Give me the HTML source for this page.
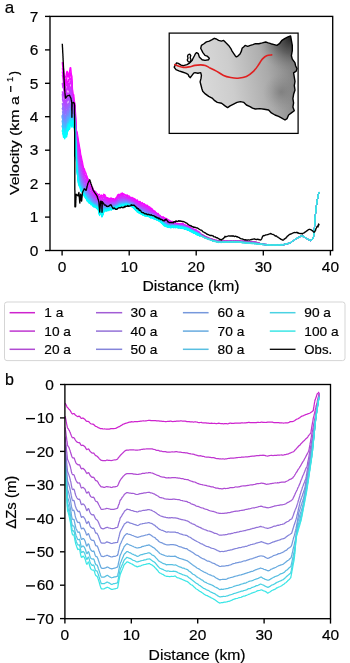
<!DOCTYPE html>
<html><head><meta charset="utf-8"><style>
html,body{margin:0;padding:0;background:#fff;width:350px;height:663px;overflow:hidden}
svg{display:block;will-change:transform}
text{font-family:"Liberation Sans",sans-serif;fill:#000;stroke:#000;stroke-width:0.18px}
</style></head><body>
<svg width="350" height="663" viewBox="0 0 350 663">
<rect width="350" height="663" fill="#fff"/>
<defs><clipPath id="ca"><rect x="50" y="16.4" width="282.7" height="234.1"/></clipPath><clipPath id="cb"><rect x="64.9" y="384.5" width="265.6" height="234.2"/></clipPath></defs>
<g clip-path="url(#ca)">
<polyline points="62.3,62.1 62.9,68.3 63.5,68.6 64.1,74.2 64.7,79.5 65.3,76.8 65.9,76.8 66.5,73.0 67.1,71.3 67.7,72.3 68.3,75.4 68.9,76.9 69.5,72.1 70.1,68.0 70.7,67.7 71.3,74.1 71.9,76.4 72.5,91.1 73.1,98.6 73.7,94.6 74.3,101.0 74.9,103.8" fill="none" stroke="#ff00ff" stroke-width="1.4" stroke-linejoin="round"/>
<polyline points="74.9,103.8 75.5,109.4 76.1,127.2 76.7,131.1 77.3,132.2 77.9,136.2 78.5,140.2 79.1,143.8 79.7,147.1 80.3,150.3 80.9,154.8 81.5,157.2 82.1,160.2 82.7,162.6 83.3,166.5 83.9,168.5 84.5,169.0 85.1,171.2 85.7,172.1 86.3,174.2 86.9,175.6 87.5,177.9 88.1,178.5 88.7,179.9 89.3,181.7 89.9,182.2 90.5,184.6 91.1,184.0 91.7,186.6 92.3,186.9 92.9,188.0 93.5,189.7 94.1,190.5 94.7,191.4 95.3,191.2 95.9,191.7 96.5,193.5 97.1,193.3 97.7,194.0 98.3,194.9 98.9,194.7 99.5,194.1 100.1,195.6" fill="none" stroke="#ff00ff" stroke-width="1.05" stroke-linejoin="round"/>
<polyline points="100.1,195.6 100.7,195.8 101.3,194.9 101.9,195.9 102.5,195.6 103.1,195.1 103.7,194.1 104.3,195.1 104.9,194.7 105.5,195.9 106.1,197.0 106.7,197.9 107.3,197.8 107.9,197.6 108.5,198.4 109.1,198.7 109.7,198.4 110.3,198.0 110.9,198.2 111.5,198.1 112.1,198.5 112.7,198.8 113.3,198.5 113.9,198.6 114.5,199.3 115.1,199.6 115.7,198.4 116.3,197.8 116.9,197.3 117.5,194.8 118.1,195.6 118.7,194.2 119.3,194.3 119.9,194.6 120.5,194.3 121.1,193.2 121.7,194.1 122.3,192.9 122.9,193.4 123.5,194.4 124.1,194.0 124.7,194.6 125.3,195.1 125.9,195.5 126.5,195.7 127.1,194.7 127.7,195.7 128.3,196.1 128.9,195.6 129.5,196.8 130.1,197.2 130.7,197.9 131.3,198.4 131.9,197.3 132.5,197.8 133.1,198.8 133.7,198.2 134.3,198.7 134.9,199.6 135.5,199.2 136.1,200.6 136.7,201.0 137.3,199.8 137.9,201.0 138.5,201.8 139.1,202.4 139.7,201.4 140.3,201.6 140.9,203.1 141.5,203.5 142.1,202.5 142.7,203.2 143.3,204.0 143.9,204.6 144.5,203.7 145.1,204.8 145.7,205.4 146.3,205.3 146.9,205.1 147.5,205.3 148.1,206.2 148.7,207.6 149.3,206.7 149.9,207.0 150.5,208.1 151.1,208.0 151.7,208.6 152.3,208.9 152.9,210.2 153.5,211.0 154.1,210.9 154.7,210.9 155.3,211.7 155.9,212.6 156.5,213.7 157.1,214.2 157.7,213.3 158.3,213.3 158.9,215.3 159.5,215.9 160.1,215.5 160.7,216.5 161.3,217.1 161.9,217.1 162.5,217.9 163.1,216.7 163.7,217.4 164.3,217.7 164.9,217.8 165.5,219.5 166.1,218.2 166.7,219.7 167.3,218.9 167.9,219.7 168.5,220.1 169.1,220.0 169.7,220.9 170.3,221.2 170.9,221.1 171.5,222.1 172.1,221.3 172.7,221.6 173.3,222.2 173.9,222.5 174.5,222.4 175.1,223.9 175.7,224.0 176.3,223.0 176.9,223.7 177.5,223.5 178.1,223.9 178.7,223.6 179.3,224.0 179.9,224.8 180.5,223.8 181.1,224.3 181.7,224.2 182.3,224.5 182.9,223.2 183.5,224.7 184.1,225.4 184.7,225.0 185.3,224.8 185.9,225.8 186.5,226.1 187.1,226.3 187.7,225.7 188.3,227.5 188.9,227.8 189.5,227.1 190.1,227.7 190.7,227.0 191.3,229.0 191.9,229.0 192.5,229.0 193.1,229.5 193.7,228.8 194.3,229.3 194.9,229.5 195.5,230.4 196.1,229.8 196.7,231.6 197.3,231.1 197.9,231.5 198.5,231.3 199.1,232.7 199.7,233.4 200.3,233.3" fill="none" stroke="#ff00ff" stroke-width="1.2" stroke-linejoin="round"/>
<polyline points="199.7,233.4 200.3,233.3 200.9,233.4 201.5,234.2 202.1,234.2 202.7,235.0 203.3,235.2 203.9,235.3 204.5,235.8 205.1,236.1 205.7,236.2 206.3,236.9 206.9,236.9 207.5,237.5 208.1,237.8 208.7,237.6 209.3,238.2 209.9,238.2 210.5,238.7 211.1,238.7 211.7,238.9 212.3,239.3 212.9,239.0 213.5,239.5 214.1,239.6 214.7,239.6 215.3,240.2 215.9,240.2 216.5,240.5 217.1,240.4 217.7,240.4 218.3,240.8 218.9,240.4 219.5,240.5 220.1,241.0 220.7,240.9 221.3,240.9 221.9,241.2 222.5,240.9 223.1,241.2 223.7,241.1 224.3,240.9 224.9,240.7 225.5,240.8 226.1,241.3 226.7,240.9 227.3,240.8 227.9,240.9 228.5,241.2 229.1,240.8 229.7,241.2 230.3,240.8 230.9,241.3 231.5,241.0 232.1,240.7 232.7,241.3 233.3,240.9 233.9,241.1 234.5,241.0 235.1,240.8 235.7,240.8 236.3,240.8 236.9,240.8 237.5,240.7 238.1,240.7 238.7,241.3 239.3,240.8 239.9,241.0 240.5,240.8 241.1,240.8 241.7,241.2 242.3,241.3 242.9,241.0 243.5,240.7 244.1,241.3 244.7,240.7 245.3,240.9 245.9,241.0 246.5,241.3 247.1,241.3 247.7,241.2 248.3,241.2 248.9,241.5 249.5,241.6 250.1,241.6 250.7,241.6 251.3,241.3 251.9,241.5 252.5,241.6 253.1,241.7 253.7,242.0 254.3,241.7 254.9,242.0 255.5,241.9 256.1,242.2 256.7,242.1 257.3,242.4 257.9,242.4 258.5,242.7 259.1,243.3 259.7,243.1 260.3,243.7 260.9,243.6 261.5,243.6 262.1,244.2 262.7,243.8 263.3,244.4 263.9,243.9 264.5,244.4 265.1,244.2 265.7,244.4 266.3,244.8 266.9,244.6 267.5,244.8 268.1,244.9 268.7,244.6 269.3,245.1 269.9,245.2 270.5,244.8 271.1,245.0 271.7,244.9 272.3,245.1 272.9,244.7 273.5,245.0 274.1,245.2 274.7,245.1 275.3,244.8 275.9,245.2 276.5,244.8 277.1,245.2 277.7,245.0 278.3,244.8 278.9,245.1 279.5,245.1 280.1,245.0 280.7,245.1 281.3,244.6 281.9,244.6 282.5,244.5 283.1,244.7 283.7,244.6 284.3,244.4 284.9,244.3 285.5,244.1 286.1,243.7 286.7,243.9 287.3,243.6 287.9,243.5 288.5,243.7 289.1,243.0 289.7,243.2 290.3,242.9 290.9,242.2 291.5,241.9 292.1,241.8 292.7,241.0 293.3,240.8 293.9,240.5 294.5,239.8 295.1,239.8 295.7,239.2 296.3,238.7 296.9,238.4 297.5,237.9 298.1,237.8 298.7,237.2 299.3,237.3 299.9,236.8 300.5,236.3 301.1,236.1 301.7,236.3 302.3,236.4 302.9,236.4 303.5,236.5 304.1,236.8 304.7,237.6 305.3,237.4 305.9,238.3 306.5,238.7 307.1,238.7 307.7,239.1 308.3,239.5 308.9,240.0 309.5,240.3 310.1,240.7 310.7,240.4 311.3,239.9 311.9,239.6 312.5,239.2 313.1,238.3 313.7,235.8 314.3,230.4 314.9,221.2 315.5,214.1 316.1,208.5 316.7,204.0 317.3,200.3 317.9,196.8 318.5,194.4 319.1,192.0" fill="none" stroke="#ce23ce" stroke-width="1.0" stroke-linejoin="round"/>
<polyline points="62.3,68.2 62.9,70.4 63.5,76.6 64.1,77.6 64.7,79.1 65.3,79.5 65.9,83.5 66.5,82.1 67.1,74.3 67.7,74.4 68.3,76.9 68.9,76.3 69.5,76.9 70.1,72.7 70.7,73.4 71.3,77.8 71.9,83.8 72.5,90.7 73.1,95.4 73.7,99.1 74.3,103.0 74.9,104.3" fill="none" stroke="#f608ff" stroke-width="1.4" stroke-linejoin="round"/>
<polyline points="74.9,104.3 75.5,111.4 76.1,128.6 76.7,131.7 77.3,136.7 77.9,139.4 78.5,142.3 79.1,146.7 79.7,149.9 80.3,153.5 80.9,156.8 81.5,159.7 82.1,163.5 82.7,165.6 83.3,168.3 83.9,168.7 84.5,171.2 85.1,172.4 85.7,173.3 86.3,175.7 86.9,176.5 87.5,178.4 88.1,181.0 88.7,181.9 89.3,183.1 89.9,182.8 90.5,184.1 91.1,185.0 91.7,186.3 92.3,187.4 92.9,190.5 93.5,191.4 94.1,190.8 94.7,192.0 95.3,194.5 95.9,193.8 96.5,193.6 97.1,194.2 97.7,194.0 98.3,195.1 98.9,196.0 99.5,196.5 100.1,197.7" fill="none" stroke="#f608ff" stroke-width="1.05" stroke-linejoin="round"/>
<polyline points="100.1,197.7 100.7,196.1 101.3,196.8 101.9,197.4 102.5,195.5 103.1,195.7 103.7,195.5 104.3,195.2 104.9,197.2 105.5,197.2 106.1,197.9 106.7,199.0 107.3,197.8 107.9,199.7 108.5,198.7 109.1,199.5 109.7,199.5 110.3,199.2 110.9,198.3 111.5,198.6 112.1,198.5 112.7,199.7 113.3,199.9 113.9,199.4 114.5,200.2 115.1,200.1 115.7,198.5 116.3,197.3 116.9,197.4 117.5,196.1 118.1,194.9 118.7,196.3 119.3,196.0 119.9,194.9 120.5,194.9 121.1,194.9 121.7,195.3 122.3,194.4 122.9,194.5 123.5,194.1 124.1,194.4 124.7,195.1 125.3,194.9 125.9,194.8 126.5,195.7 127.1,196.6 127.7,196.1 128.3,197.4 128.9,197.4 129.5,197.6 130.1,198.3 130.7,197.1 131.3,197.6 131.9,199.2 132.5,199.5 133.1,198.4 133.7,199.9 134.3,198.9 134.9,199.4 135.5,199.7 136.1,200.3 136.7,200.8 137.3,202.1 137.9,201.6 138.5,201.3 139.1,201.9 139.7,201.7 140.3,202.0 140.9,203.0 141.5,203.5 142.1,203.3 142.7,203.9 143.3,203.7 143.9,205.0 144.5,204.8 145.1,204.7 145.7,205.5 146.3,205.4 146.9,206.0 147.5,206.1 148.1,207.7 148.7,207.3 149.3,208.9 149.9,208.3 150.5,208.3 151.1,209.8 151.7,210.2 152.3,210.9 152.9,210.0 153.5,211.6 154.1,212.2 154.7,211.6 155.3,212.3 155.9,213.1 156.5,212.8 157.1,214.4 157.7,214.5 158.3,215.3 158.9,215.0 159.5,215.5 160.1,215.4 160.7,216.1 161.3,217.3 161.9,218.1 162.5,217.0 163.1,217.2 163.7,217.5 164.3,218.5 164.9,219.4 165.5,218.7 166.1,219.5 166.7,219.8 167.3,220.7 167.9,219.8 168.5,219.8 169.1,221.0 169.7,221.0 170.3,221.1 170.9,222.2 171.5,222.3 172.1,221.5 172.7,222.6 173.3,223.3 173.9,223.7 174.5,222.3 175.1,224.0 175.7,222.9 176.3,224.2 176.9,224.3 177.5,225.0 178.1,224.4 178.7,223.4 179.3,224.5 179.9,223.8 180.5,224.8 181.1,223.4 181.7,223.9 182.3,224.6 182.9,223.6 183.5,224.8 184.1,225.2 184.7,225.5 185.3,226.1 185.9,225.5 186.5,225.3 187.1,225.8 187.7,226.4 188.3,226.1 188.9,227.5 189.5,226.7 190.1,227.0 190.7,228.8 191.3,228.9 191.9,228.2 192.5,228.7 193.1,229.8 193.7,229.8 194.3,229.4 194.9,230.1 195.5,231.1 196.1,229.8 196.7,231.9 197.3,231.5 197.9,231.2 198.5,232.7 199.1,231.8 199.7,232.8 200.3,233.4" fill="none" stroke="#f608ff" stroke-width="1.2" stroke-linejoin="round"/>
<polyline points="199.7,232.8 200.3,233.4 200.9,233.6 201.5,234.4 202.1,234.7 202.7,234.7 203.3,235.1 203.9,235.3 204.5,235.9 205.1,236.0 205.7,236.5 206.3,237.0 206.9,237.3 207.5,237.1 208.1,237.6 208.7,237.9 209.3,238.1 209.9,238.4 210.5,238.6 211.1,239.0 211.7,238.9 212.3,239.1 212.9,239.3 213.5,239.4 214.1,239.9 214.7,239.9 215.3,240.4 215.9,240.4 216.5,240.2 217.1,240.3 217.7,240.7 218.3,240.7 218.9,240.5 219.5,240.9 220.1,240.9 220.7,241.2 221.3,241.2 221.9,241.3 222.5,241.2 223.1,241.3 223.7,241.0 224.3,241.0 224.9,240.8 225.5,241.3 226.1,240.9 226.7,241.1 227.3,241.1 227.9,241.3 228.5,241.0 229.1,240.9 229.7,241.0 230.3,240.8 230.9,240.9 231.5,241.1 232.1,240.8 232.7,241.4 233.3,241.1 233.9,240.9 234.5,241.3 235.1,240.8 235.7,241.0 236.3,241.3 236.9,240.9 237.5,241.2 238.1,240.8 238.7,241.1 239.3,241.2 239.9,240.9 240.5,241.0 241.1,241.1 241.7,241.2 242.3,240.9 242.9,241.1 243.5,241.4 244.1,241.0 244.7,241.3 245.3,240.9 245.9,241.1 246.5,241.2 247.1,241.3 247.7,241.4 248.3,241.5 248.9,241.5 249.5,241.7 250.1,241.8 250.7,241.5 251.3,241.8 251.9,241.7 252.5,241.6 253.1,241.6 253.7,242.0 254.3,242.0 254.9,241.8 255.5,242.1 256.1,241.9 256.7,242.3 257.3,242.6 257.9,242.8 258.5,242.7 259.1,242.8 259.7,243.3 260.3,243.7 260.9,243.9 261.5,243.8 262.1,244.1 262.7,244.2 263.3,244.4 263.9,244.3 264.5,244.6 265.1,244.3 265.7,244.3 266.3,244.4 266.9,244.8 267.5,244.9 268.1,244.8 268.7,245.0 269.3,244.7 269.9,245.0 270.5,245.0 271.1,245.0 271.7,244.8 272.3,245.1 272.9,245.1 273.5,245.1 274.1,245.1 274.7,245.0 275.3,245.2 275.9,245.0 276.5,245.2 277.1,244.9 277.7,245.1 278.3,244.8 278.9,244.7 279.5,245.2 280.1,244.8 280.7,244.5 281.3,244.9 281.9,245.0 282.5,244.9 283.1,245.0 283.7,244.9 284.3,244.5 284.9,244.2 285.5,243.9 286.1,243.9 286.7,244.0 287.3,244.0 287.9,243.3 288.5,243.6 289.1,243.4 289.7,243.2 290.3,242.6 290.9,242.1 291.5,242.1 292.1,241.6 292.7,241.0 293.3,240.6 293.9,240.0 294.5,240.2 295.1,239.7 295.7,239.4 296.3,238.9 296.9,238.3 297.5,238.2 298.1,237.5 298.7,237.5 299.3,236.9 299.9,236.7 300.5,236.7 301.1,236.1 301.7,236.3 302.3,236.3 302.9,236.3 303.5,236.4 304.1,236.6 304.7,237.3 305.3,237.9 305.9,237.9 306.5,238.5 307.1,239.2 307.7,239.1 308.3,239.7 308.9,240.0 309.5,240.1 310.1,240.4 310.7,240.3 311.3,240.1 311.9,239.8 312.5,239.0 313.1,237.9 313.7,235.7 314.3,230.1 314.9,220.7 315.5,214.1 316.1,208.2 316.7,203.8 317.3,199.9 317.9,196.9 318.5,194.2 319.1,192.3" fill="none" stroke="#c929ce" stroke-width="1.0" stroke-linejoin="round"/>
<polyline points="62.3,71.6 62.9,74.7 63.5,78.8 64.1,84.2 64.7,82.4 65.3,83.5 65.9,84.9 66.5,81.1 67.1,81.5 67.7,83.3 68.3,79.8 68.9,81.6 69.5,77.3 70.1,78.4 70.7,79.8 71.3,78.5 71.9,82.3 72.5,94.3 73.1,100.2 73.7,103.9 74.3,103.3 74.9,106.5" fill="none" stroke="#ee11ff" stroke-width="1.4" stroke-linejoin="round"/>
<polyline points="74.9,106.5 75.5,114.7 76.1,129.9 76.7,135.9 77.3,138.5 77.9,141.4 78.5,146.1 79.1,148.4 79.7,151.6 80.3,155.4 80.9,159.9 81.5,161.0 82.1,164.3 82.7,166.3 83.3,169.5 83.9,170.5 84.5,173.6 85.1,175.5 85.7,175.6 86.3,177.2 86.9,179.3 87.5,181.2 88.1,180.7 88.7,183.3 89.3,184.8 89.9,185.9 90.5,186.1 91.1,188.2 91.7,188.6 92.3,188.8 92.9,190.0 93.5,191.7 94.1,192.7 94.7,194.3 95.3,194.8 95.9,193.9 96.5,194.7 97.1,195.9 97.7,195.4 98.3,195.4 98.9,197.8 99.5,197.6 100.1,197.9" fill="none" stroke="#ee11ff" stroke-width="1.05" stroke-linejoin="round"/>
<polyline points="100.1,197.9 100.7,197.9 101.3,197.5 101.9,197.5 102.5,197.8 103.1,197.5 103.7,196.3 104.3,196.0 104.9,197.3 105.5,198.0 106.1,198.7 106.7,198.7 107.3,200.0 107.9,199.3 108.5,199.3 109.1,200.7 109.7,200.6 110.3,199.5 110.9,199.2 111.5,199.8 112.1,200.2 112.7,199.2 113.3,199.9 113.9,199.5 114.5,200.5 115.1,200.0 115.7,199.2 116.3,198.9 116.9,198.0 117.5,196.7 118.1,196.4 118.7,197.0 119.3,196.5 119.9,195.6 120.5,195.8 121.1,194.8 121.7,195.2 122.3,196.0 122.9,194.6 123.5,196.2 124.1,196.2 124.7,196.1 125.3,195.8 125.9,195.5 126.5,196.2 127.1,197.2 127.7,196.9 128.3,197.9 128.9,197.1 129.5,198.5 130.1,198.8 130.7,198.9 131.3,198.2 131.9,198.5 132.5,198.5 133.1,198.9 133.7,200.4 134.3,200.3 134.9,201.2 135.5,200.6 136.1,201.1 136.7,202.4 137.3,202.9 137.9,201.7 138.5,203.2 139.1,203.1 139.7,202.4 140.3,203.8 140.9,203.5 141.5,203.9 142.1,205.3 142.7,205.2 143.3,204.3 143.9,205.7 144.5,204.8 145.1,206.7 145.7,206.4 146.3,206.8 146.9,206.2 147.5,206.7 148.1,207.9 148.7,208.1 149.3,209.3 149.9,208.7 150.5,209.3 151.1,209.3 151.7,210.4 152.3,211.6 152.9,210.8 153.5,212.1 154.1,211.4 154.7,213.1 155.3,212.9 155.9,212.6 156.5,214.2 157.1,214.8 157.7,213.9 158.3,214.3 158.9,215.0 159.5,215.9 160.1,217.1 160.7,217.4 161.3,216.9 161.9,216.9 162.5,218.2 163.1,218.5 163.7,218.3 164.3,219.3 164.9,220.2 165.5,219.0 166.1,219.6 166.7,220.9 167.3,220.0 167.9,220.2 168.5,220.5 169.1,221.9 169.7,221.0 170.3,221.2 170.9,222.4 171.5,222.8 172.1,223.0 172.7,222.7 173.3,223.8 173.9,222.6 174.5,223.4 175.1,223.5 175.7,224.0 176.3,223.6 176.9,223.7 177.5,225.3 178.1,224.1 178.7,224.4 179.3,225.2 179.9,224.1 180.5,224.2 181.1,224.6 181.7,223.7 182.3,223.7 182.9,224.8 183.5,224.5 184.1,224.3 184.7,225.0 185.3,226.0 185.9,226.4 186.5,226.2 187.1,226.0 187.7,227.4 188.3,226.5 188.9,227.8 189.5,227.0 190.1,228.7 190.7,228.7 191.3,228.5 191.9,228.7 192.5,229.3 193.1,229.7 193.7,229.8 194.3,230.4 194.9,229.6 195.5,230.5 196.1,231.4 196.7,231.1 197.3,232.4 197.9,232.0 198.5,232.0 199.1,233.5 199.7,233.0 200.3,233.5" fill="none" stroke="#ee11ff" stroke-width="1.2" stroke-linejoin="round"/>
<polyline points="199.7,233.0 200.3,233.5 200.9,234.0 201.5,234.5 202.1,234.5 202.7,235.3 203.3,235.5 203.9,235.6 204.5,235.9 205.1,236.6 205.7,236.9 206.3,236.9 206.9,237.1 207.5,237.8 208.1,237.5 208.7,237.8 209.3,238.3 209.9,238.6 210.5,238.4 211.1,238.7 211.7,238.9 212.3,239.2 212.9,239.3 213.5,239.5 214.1,239.7 214.7,240.0 215.3,240.0 215.9,240.5 216.5,240.4 217.1,240.3 217.7,240.8 218.3,240.9 218.9,240.8 219.5,240.7 220.1,241.1 220.7,241.3 221.3,241.4 221.9,241.3 222.5,241.2 223.1,241.1 223.7,241.0 224.3,240.9 224.9,241.3 225.5,241.2 226.1,241.0 226.7,240.9 227.3,241.0 227.9,241.3 228.5,241.0 229.1,240.9 229.7,241.1 230.3,241.0 230.9,241.2 231.5,241.2 232.1,241.1 232.7,241.4 233.3,241.3 233.9,240.9 234.5,241.0 235.1,241.1 235.7,240.9 236.3,241.3 236.9,241.3 237.5,241.0 238.1,241.4 238.7,241.2 239.3,241.0 239.9,241.2 240.5,241.3 241.1,241.3 241.7,241.5 242.3,241.5 242.9,241.2 243.5,241.2 244.1,240.9 244.7,241.2 245.3,241.1 245.9,241.0 246.5,241.5 247.1,241.1 247.7,241.2 248.3,241.6 248.9,241.6 249.5,241.6 250.1,241.8 250.7,241.6 251.3,241.6 251.9,241.8 252.5,241.7 253.1,242.1 253.7,242.3 254.3,242.3 254.9,242.4 255.5,241.9 256.1,242.2 256.7,242.7 257.3,242.8 257.9,242.9 258.5,243.1 259.1,243.0 259.7,243.2 260.3,243.3 260.9,244.0 261.5,243.8 262.1,244.4 262.7,243.8 263.3,244.4 263.9,244.3 264.5,244.1 265.1,244.5 265.7,244.6 266.3,244.7 266.9,244.8 267.5,244.8 268.1,244.9 268.7,244.8 269.3,245.2 269.9,245.0 270.5,244.9 271.1,245.3 271.7,244.9 272.3,245.0 272.9,245.1 273.5,245.2 274.1,244.9 274.7,244.7 275.3,245.0 275.9,245.1 276.5,245.1 277.1,244.9 277.7,245.2 278.3,245.1 278.9,245.2 279.5,245.1 280.1,245.0 280.7,244.9 281.3,245.0 281.9,244.6 282.5,244.8 283.1,244.8 283.7,244.8 284.3,244.3 284.9,244.2 285.5,244.5 286.1,244.2 286.7,243.7 287.3,243.7 287.9,243.7 288.5,243.6 289.1,243.3 289.7,242.8 290.3,242.6 290.9,242.1 291.5,241.7 292.1,241.3 292.7,241.2 293.3,240.8 293.9,240.2 294.5,240.1 295.1,239.3 295.7,238.9 296.3,238.8 296.9,238.3 297.5,237.8 298.1,237.9 298.7,237.5 299.3,237.1 299.9,236.7 300.5,236.5 301.1,235.9 301.7,236.0 302.3,236.3 302.9,236.5 303.5,236.6 304.1,236.6 304.7,237.2 305.3,238.0 305.9,238.4 306.5,238.7 307.1,238.6 307.7,238.9 308.3,239.3 308.9,240.0 309.5,239.9 310.1,240.2 310.7,240.4 311.3,240.2 311.9,239.7 312.5,239.4 313.1,237.9 313.7,235.7 314.3,230.5 314.9,220.7 315.5,214.0 316.1,208.3 316.7,203.6 317.3,199.9 317.9,197.2 318.5,193.9 319.1,192.4" fill="none" stroke="#c430cf" stroke-width="1.0" stroke-linejoin="round"/>
<polyline points="62.3,75.0 62.9,77.2 63.5,83.1 64.1,82.5 64.7,91.4 65.3,87.6 65.9,85.3 66.5,85.1 67.1,84.9 67.7,86.4 68.3,83.3 68.9,84.6 69.5,84.0 70.1,82.9 70.7,81.8 71.3,80.5 71.9,86.4 72.5,100.4 73.1,104.0 73.7,102.6 74.3,108.8 74.9,107.6" fill="none" stroke="#e619ff" stroke-width="1.4" stroke-linejoin="round"/>
<polyline points="74.9,107.6 75.5,116.7 76.1,133.7 76.7,137.3 77.3,141.8 77.9,143.6 78.5,149.2 79.1,152.2 79.7,155.3 80.3,158.6 80.9,161.0 81.5,165.0 82.1,166.6 82.7,169.2 83.3,170.5 83.9,173.5 84.5,174.1 85.1,176.8 85.7,176.5 86.3,178.2 86.9,179.9 87.5,181.9 88.1,184.2 88.7,183.2 89.3,185.6 89.9,185.4 90.5,187.3 91.1,188.2 91.7,189.0 92.3,190.7 92.9,191.3 93.5,192.0 94.1,193.8 94.7,193.9 95.3,196.4 95.9,195.0 96.5,197.1 97.1,195.4 97.7,197.6 98.3,196.0 98.9,196.7 99.5,198.1 100.1,199.7" fill="none" stroke="#e619ff" stroke-width="1.05" stroke-linejoin="round"/>
<polyline points="100.1,199.7 100.7,198.5 101.3,198.8 101.9,199.6 102.5,198.0 103.1,198.3 103.7,197.5 104.3,197.1 104.9,199.1 105.5,198.8 106.1,199.3 106.7,200.3 107.3,200.9 107.9,200.1 108.5,200.2 109.1,201.9 109.7,200.8 110.3,200.8 110.9,200.4 111.5,200.9 112.1,200.1 112.7,200.8 113.3,200.5 113.9,199.8 114.5,200.7 115.1,201.4 115.7,200.1 116.3,199.2 116.9,197.8 117.5,198.3 118.1,197.1 118.7,196.7 119.3,196.5 119.9,196.3 120.5,196.0 121.1,195.8 121.7,196.1 122.3,195.2 122.9,195.5 123.5,196.0 124.1,197.0 124.7,196.4 125.3,196.8 125.9,197.6 126.5,197.7 127.1,197.8 127.7,197.9 128.3,198.1 128.9,197.7 129.5,197.8 130.1,198.0 130.7,198.3 131.3,199.5 131.9,199.7 132.5,199.0 133.1,200.8 133.7,200.5 134.3,201.0 134.9,200.5 135.5,202.3 136.1,201.3 136.7,201.9 137.3,202.7 137.9,203.1 138.5,203.5 139.1,204.5 139.7,203.2 140.3,204.6 140.9,204.5 141.5,205.5 142.1,205.5 142.7,206.1 143.3,206.5 143.9,206.6 144.5,205.7 145.1,206.7 145.7,207.5 146.3,207.8 146.9,208.5 147.5,208.0 148.1,207.6 148.7,209.3 149.3,208.9 149.9,210.0 150.5,209.3 151.1,210.2 151.7,211.1 152.3,210.6 152.9,211.4 153.5,211.5 154.1,213.2 154.7,213.4 155.3,213.6 155.9,213.7 156.5,215.0 157.1,214.1 157.7,215.3 158.3,214.6 158.9,216.0 159.5,215.7 160.1,215.8 160.7,217.9 161.3,217.2 161.9,219.0 162.5,218.8 163.1,219.1 163.7,219.5 164.3,220.4 164.9,219.3 165.5,221.0 166.1,220.1 166.7,220.0 167.3,221.8 167.9,220.6 168.5,221.5 169.1,222.4 169.7,221.7 170.3,222.7 170.9,222.7 171.5,223.0 172.1,222.3 172.7,223.5 173.3,223.9 173.9,222.9 174.5,224.6 175.1,224.8 175.7,223.8 176.3,225.2 176.9,225.3 177.5,223.9 178.1,225.1 178.7,225.5 179.3,225.2 179.9,224.0 180.5,224.5 181.1,224.8 181.7,224.5 182.3,224.6 182.9,224.1 183.5,224.1 184.1,225.0 184.7,225.4 185.3,226.0 185.9,227.0 186.5,225.7 187.1,226.4 187.7,227.6 188.3,227.9 188.9,226.8 189.5,228.2 190.1,227.4 190.7,229.2 191.3,228.3 191.9,229.2 192.5,229.3 193.1,229.7 193.7,229.4 194.3,230.0 194.9,230.1 195.5,231.0 196.1,231.0 196.7,231.6 197.3,231.8 197.9,232.5 198.5,233.4 199.1,233.0 199.7,233.4 200.3,233.8" fill="none" stroke="#e619ff" stroke-width="1.2" stroke-linejoin="round"/>
<polyline points="199.7,233.4 200.3,233.8 200.9,234.1 201.5,234.4 202.1,234.7 202.7,235.2 203.3,235.4 203.9,235.9 204.5,236.4 205.1,236.6 205.7,236.9 206.3,236.8 206.9,237.0 207.5,237.4 208.1,237.9 208.7,237.9 209.3,238.2 209.9,238.9 210.5,238.7 211.1,238.8 211.7,239.2 212.3,239.5 212.9,239.6 213.5,239.6 214.1,240.0 214.7,239.9 215.3,240.5 215.9,240.7 216.5,240.3 217.1,240.7 217.7,241.0 218.3,241.0 218.9,240.8 219.5,240.8 220.1,241.1 220.7,241.0 221.3,241.5 221.9,241.3 222.5,241.1 223.1,241.4 223.7,241.1 224.3,241.2 224.9,241.2 225.5,241.0 226.1,241.4 226.7,241.3 227.3,241.0 227.9,241.2 228.5,241.1 229.1,241.5 229.7,241.3 230.3,241.5 230.9,241.4 231.5,241.4 232.1,241.1 232.7,241.4 233.3,241.1 233.9,241.4 234.5,241.3 235.1,241.2 235.7,241.0 236.3,241.3 236.9,241.3 237.5,241.3 238.1,240.9 238.7,241.1 239.3,241.3 239.9,241.5 240.5,241.1 241.1,241.5 241.7,241.6 242.3,241.1 242.9,241.5 243.5,241.3 244.1,241.1 244.7,241.2 245.3,241.3 245.9,241.1 246.5,241.6 247.1,241.5 247.7,241.5 248.3,241.8 248.9,241.9 249.5,241.7 250.1,241.7 250.7,241.9 251.3,241.8 251.9,242.2 252.5,241.9 253.1,241.8 253.7,241.8 254.3,242.0 254.9,242.0 255.5,242.6 256.1,242.5 256.7,242.6 257.3,243.0 257.9,243.0 258.5,243.2 259.1,243.0 259.7,243.3 260.3,243.7 260.9,244.0 261.5,243.8 262.1,244.1 262.7,244.0 263.3,244.1 263.9,244.3 264.5,244.6 265.1,244.7 265.7,244.5 266.3,244.3 266.9,244.5 267.5,244.8 268.1,245.0 268.7,244.6 269.3,245.1 269.9,245.2 270.5,244.8 271.1,245.2 271.7,245.1 272.3,245.2 272.9,245.1 273.5,245.1 274.1,245.2 274.7,245.2 275.3,244.9 275.9,244.9 276.5,245.3 277.1,244.9 277.7,244.9 278.3,244.8 278.9,244.8 279.5,245.0 280.1,244.7 280.7,244.8 281.3,244.8 281.9,244.7 282.5,244.9 283.1,244.7 283.7,244.5 284.3,244.7 284.9,244.4 285.5,244.2 286.1,243.8 286.7,244.2 287.3,243.5 287.9,243.5 288.5,243.5 289.1,243.5 289.7,243.0 290.3,242.6 290.9,242.5 291.5,242.2 292.1,241.5 292.7,241.4 293.3,240.6 293.9,240.5 294.5,239.6 295.1,239.6 295.7,239.3 296.3,238.6 296.9,238.5 297.5,238.1 298.1,237.6 298.7,237.1 299.3,237.2 299.9,236.7 300.5,236.5 301.1,236.0 301.7,235.8 302.3,236.0 302.9,236.5 303.5,236.3 304.1,236.7 304.7,237.3 305.3,237.5 305.9,238.1 306.5,238.4 307.1,239.1 307.7,239.1 308.3,239.4 308.9,240.1 309.5,239.9 310.1,240.4 310.7,240.6 311.3,240.0 311.9,239.8 312.5,239.3 313.1,238.2 313.7,235.9 314.3,230.1 314.9,221.1 315.5,214.2 316.1,208.1 316.7,203.7 317.3,200.1 317.9,197.2 318.5,194.4 319.1,192.3" fill="none" stroke="#bf36d0" stroke-width="1.0" stroke-linejoin="round"/>
<polyline points="62.3,83.2 62.9,84.1 63.5,82.4 64.1,88.6 64.7,92.7 65.3,90.0 65.9,89.8 66.5,90.1 67.1,88.3 67.7,83.6 68.3,89.8 68.9,89.7 69.5,84.6 70.1,83.1 70.7,81.0 71.3,84.0 71.9,93.0 72.5,98.8 73.1,105.7 73.7,102.4 74.3,104.9 74.9,110.0" fill="none" stroke="#dd22ff" stroke-width="1.4" stroke-linejoin="round"/>
<polyline points="74.9,110.0 75.5,116.8 76.1,133.3 76.7,139.6 77.3,143.3 77.9,147.5 78.5,150.2 79.1,153.6 79.7,158.2 80.3,160.7 80.9,162.8 81.5,165.9 82.1,167.4 82.7,169.6 83.3,173.0 83.9,173.8 84.5,175.5 85.1,176.6 85.7,178.1 86.3,180.4 86.9,181.2 87.5,183.0 88.1,184.4 88.7,184.9 89.3,185.8 89.9,186.9 90.5,189.8 91.1,189.4 91.7,190.7 92.3,192.3 92.9,193.3 93.5,194.0 94.1,195.4 94.7,195.4 95.3,195.3 95.9,196.7 96.5,196.6 97.1,197.8 97.7,196.7 98.3,198.4 98.9,197.8 99.5,199.9 100.1,200.0" fill="none" stroke="#dd22ff" stroke-width="1.05" stroke-linejoin="round"/>
<polyline points="100.1,200.0 100.7,199.2 101.3,200.8 101.9,201.1 102.5,199.5 103.1,199.7 103.7,199.4 104.3,198.8 104.9,199.0 105.5,200.2 106.1,200.3 106.7,200.8 107.3,201.3 107.9,200.9 108.5,201.8 109.1,201.7 109.7,201.7 110.3,200.9 110.9,201.6 111.5,200.3 112.1,200.8 112.7,201.0 113.3,200.1 113.9,201.7 114.5,201.3 115.1,200.5 115.7,201.2 116.3,200.3 116.9,200.0 117.5,198.9 118.1,198.0 118.7,198.2 119.3,197.1 119.9,197.0 120.5,196.7 121.1,196.6 121.7,197.6 122.3,196.7 122.9,196.6 123.5,196.5 124.1,196.6 124.7,196.6 125.3,198.1 125.9,197.9 126.5,197.7 127.1,198.2 127.7,198.8 128.3,198.2 128.9,198.3 129.5,198.9 130.1,199.2 130.7,200.1 131.3,200.4 131.9,200.6 132.5,200.7 133.1,200.8 133.7,200.5 134.3,202.2 134.9,202.5 135.5,202.3 136.1,203.0 136.7,203.7 137.3,203.0 137.9,203.8 138.5,204.9 139.1,203.8 139.7,204.0 140.3,205.7 140.9,205.9 141.5,204.7 142.1,206.0 142.7,206.4 143.3,206.8 143.9,206.9 144.5,207.1 145.1,207.5 145.7,207.8 146.3,207.2 146.9,207.7 147.5,208.3 148.1,209.8 148.7,209.4 149.3,210.0 149.9,211.1 150.5,209.9 151.1,210.4 151.7,211.0 152.3,212.5 152.9,212.5 153.5,211.9 154.1,212.1 154.7,212.7 155.3,214.4 155.9,213.9 156.5,215.2 157.1,215.5 157.7,216.1 158.3,215.8 158.9,215.7 159.5,216.6 160.1,217.7 160.7,218.3 161.3,217.8 161.9,218.4 162.5,219.4 163.1,219.0 163.7,219.1 164.3,219.5 164.9,220.2 165.5,220.0 166.1,221.3 166.7,221.4 167.3,222.2 167.9,222.2 168.5,221.9 169.1,221.6 169.7,221.9 170.3,223.3 170.9,223.0 171.5,222.3 172.1,223.2 172.7,223.9 173.3,224.1 173.9,224.4 174.5,224.7 175.1,224.1 175.7,224.6 176.3,223.8 176.9,225.0 177.5,224.8 178.1,224.3 178.7,224.4 179.3,225.2 179.9,224.4 180.5,224.6 181.1,224.7 181.7,225.4 182.3,224.4 182.9,224.2 183.5,224.7 184.1,225.9 184.7,225.0 185.3,226.2 185.9,226.3 186.5,226.4 187.1,226.6 187.7,227.2 188.3,226.6 188.9,227.4 189.5,227.9 190.1,227.7 190.7,228.7 191.3,228.6 191.9,228.4 192.5,228.8 193.1,229.5 193.7,230.4 194.3,230.9 194.9,230.7 195.5,230.2 196.1,231.5 196.7,232.3 197.3,231.1 197.9,232.0 198.5,231.8 199.1,233.2 199.7,232.7 200.3,234.1" fill="none" stroke="#dd22ff" stroke-width="1.2" stroke-linejoin="round"/>
<polyline points="199.7,232.7 200.3,234.1 200.9,234.1 201.5,234.6 202.1,234.8 202.7,235.2 203.3,235.4 203.9,236.2 204.5,236.1 205.1,236.4 205.7,236.7 206.3,236.9 206.9,237.3 207.5,237.5 208.1,238.2 208.7,238.5 209.3,238.4 209.9,238.9 210.5,238.6 211.1,239.1 211.7,239.5 212.3,239.3 212.9,239.5 213.5,240.1 214.1,240.2 214.7,240.6 215.3,240.2 215.9,240.3 216.5,240.4 217.1,240.7 217.7,240.6 218.3,241.0 218.9,240.8 219.5,241.1 220.1,241.2 220.7,241.1 221.3,241.4 221.9,241.6 222.5,241.3 223.1,241.3 223.7,241.2 224.3,241.6 224.9,241.5 225.5,241.6 226.1,241.2 226.7,241.2 227.3,241.0 227.9,241.0 228.5,241.5 229.1,241.3 229.7,241.2 230.3,241.0 230.9,241.5 231.5,241.0 232.1,241.3 232.7,241.3 233.3,241.4 233.9,241.4 234.5,241.4 235.1,241.3 235.7,241.2 236.3,241.4 236.9,241.0 237.5,241.1 238.1,241.4 238.7,241.5 239.3,241.4 239.9,241.0 240.5,241.5 241.1,241.6 241.7,241.3 242.3,241.3 242.9,241.3 243.5,241.5 244.1,241.2 244.7,241.2 245.3,241.8 245.9,241.5 246.5,241.6 247.1,241.5 247.7,241.4 248.3,241.5 248.9,241.5 249.5,242.0 250.1,242.1 250.7,242.2 251.3,242.3 251.9,241.8 252.5,241.8 253.1,242.3 253.7,242.1 254.3,242.5 254.9,242.3 255.5,242.4 256.1,242.4 256.7,242.5 257.3,242.8 257.9,242.8 258.5,243.4 259.1,243.5 259.7,243.7 260.3,243.9 260.9,243.9 261.5,244.2 262.1,244.3 262.7,244.2 263.3,244.0 263.9,244.3 264.5,244.4 265.1,244.6 265.7,244.7 266.3,244.7 266.9,244.4 267.5,244.5 268.1,245.0 268.7,245.1 269.3,244.9 269.9,244.7 270.5,244.8 271.1,244.8 271.7,245.2 272.3,244.9 272.9,245.0 273.5,245.2 274.1,244.8 274.7,245.0 275.3,245.0 275.9,244.9 276.5,244.8 277.1,245.0 277.7,244.8 278.3,244.9 278.9,244.9 279.5,244.7 280.1,245.2 280.7,244.9 281.3,245.0 281.9,245.0 282.5,244.6 283.1,244.4 283.7,244.9 284.3,244.5 284.9,244.5 285.5,244.4 286.1,243.9 286.7,243.9 287.3,243.6 287.9,243.4 288.5,243.1 289.1,243.1 289.7,242.9 290.3,242.9 290.9,242.4 291.5,242.1 292.1,241.4 292.7,240.9 293.3,240.7 293.9,240.1 294.5,240.0 295.1,239.4 295.7,239.0 296.3,238.8 296.9,238.1 297.5,238.1 298.1,237.6 298.7,237.1 299.3,237.1 299.9,236.8 300.5,236.2 301.1,236.1 301.7,236.1 302.3,236.4 302.9,236.2 303.5,236.6 304.1,237.2 304.7,237.0 305.3,237.8 305.9,238.0 306.5,238.5 307.1,238.8 307.7,239.2 308.3,239.5 308.9,240.0 309.5,240.3 310.1,240.6 310.7,240.8 311.3,240.0 311.9,239.8 312.5,239.4 313.1,237.9 313.7,236.1 314.3,230.3 314.9,220.7 315.5,214.0 316.1,208.3 316.7,203.9 317.3,199.7 317.9,197.3 318.5,194.1 319.1,192.3" fill="none" stroke="#ba3dd1" stroke-width="1.0" stroke-linejoin="round"/>
<polyline points="62.3,83.2 62.9,87.7 63.5,86.4 64.1,92.7 64.7,95.6 65.3,93.9 65.9,96.3 66.5,93.8 67.1,88.2 67.7,87.1 68.3,88.0 68.9,90.1 69.5,92.6 70.1,86.7 70.7,88.6 71.3,88.6 71.9,93.8 72.5,102.5 73.1,102.2 73.7,108.7 74.3,107.5 74.9,112.7" fill="none" stroke="#d42aff" stroke-width="1.4" stroke-linejoin="round"/>
<polyline points="74.9,112.7 75.5,118.1 76.1,134.9 76.7,140.3 77.3,146.5 77.9,148.5 78.5,153.1 79.1,156.4 79.7,159.6 80.3,162.1 80.9,166.6 81.5,167.8 82.1,169.3 82.7,172.4 83.3,173.5 83.9,176.7 84.5,176.9 85.1,180.0 85.7,179.5 86.3,181.4 86.9,182.6 87.5,184.9 88.1,185.6 88.7,186.7 89.3,187.7 89.9,189.1 90.5,189.3 91.1,190.5 91.7,191.3 92.3,191.9 92.9,193.9 93.5,195.5 94.1,196.3 94.7,197.3 95.3,195.9 95.9,197.7 96.5,196.5 97.1,198.6 97.7,199.0 98.3,198.9 98.9,201.2 99.5,201.1 100.1,201.3" fill="none" stroke="#d42aff" stroke-width="1.05" stroke-linejoin="round"/>
<polyline points="100.1,201.3 100.7,200.6 101.3,201.9 101.9,201.8 102.5,201.1 103.1,200.3 103.7,200.1 104.3,198.8 104.9,200.3 105.5,199.9 106.1,200.7 106.7,200.6 107.3,201.7 107.9,202.7 108.5,201.6 109.1,201.6 109.7,202.1 110.3,201.1 110.9,201.5 111.5,201.4 112.1,200.6 112.7,202.2 113.3,201.4 113.9,201.8 114.5,201.1 115.1,202.6 115.7,200.6 116.3,200.5 116.9,199.1 117.5,198.6 118.1,198.0 118.7,198.1 119.3,197.3 119.9,197.7 120.5,197.7 121.1,197.0 121.7,197.9 122.3,196.6 122.9,197.4 123.5,198.0 124.1,197.8 124.7,196.8 125.3,197.1 125.9,197.2 126.5,197.6 127.1,198.6 127.7,199.6 128.3,198.8 128.9,199.8 129.5,199.1 130.1,200.6 130.7,199.7 131.3,199.6 131.9,199.9 132.5,200.1 133.1,200.4 133.7,202.3 134.3,202.4 134.9,201.7 135.5,202.9 136.1,203.1 136.7,202.8 137.3,204.8 137.9,203.9 138.5,204.8 139.1,204.7 139.7,205.2 140.3,206.4 140.9,206.3 141.5,205.7 142.1,206.8 142.7,206.7 143.3,206.6 143.9,207.4 144.5,207.1 145.1,208.4 145.7,207.8 146.3,207.8 146.9,209.5 147.5,208.6 148.1,210.0 148.7,210.6 149.3,210.7 149.9,211.5 150.5,210.7 151.1,211.2 151.7,212.1 152.3,211.5 152.9,213.5 153.5,213.2 154.1,213.6 154.7,213.8 155.3,214.1 155.9,213.9 156.5,214.1 157.1,214.8 157.7,214.8 158.3,216.3 158.9,215.9 159.5,217.6 160.1,216.6 160.7,217.5 161.3,218.9 161.9,219.0 162.5,219.0 163.1,220.0 163.7,219.8 164.3,219.7 164.9,221.5 165.5,221.6 166.1,221.6 166.7,221.1 167.3,221.8 167.9,221.4 168.5,221.5 169.1,223.3 169.7,222.6 170.3,222.4 170.9,223.6 171.5,223.3 172.1,223.8 172.7,222.9 173.3,223.7 173.9,223.8 174.5,223.8 175.1,223.8 175.7,225.2 176.3,225.2 176.9,225.0 177.5,224.5 178.1,225.2 178.7,224.9 179.3,224.1 179.9,225.3 180.5,225.4 181.1,226.0 181.7,225.8 182.3,224.4 182.9,224.9 183.5,224.6 184.1,224.9 184.7,225.9 185.3,225.7 185.9,225.7 186.5,227.0 187.1,227.8 187.7,227.9 188.3,226.8 188.9,227.5 189.5,227.3 190.1,228.3 190.7,229.6 191.3,228.5 191.9,229.8 192.5,229.7 193.1,230.0 193.7,230.9 194.3,230.2 194.9,230.6 195.5,231.6 196.1,230.8 196.7,231.1 197.3,231.9 197.9,232.3 198.5,232.5 199.1,232.8 199.7,234.3 200.3,233.9" fill="none" stroke="#d42aff" stroke-width="1.2" stroke-linejoin="round"/>
<polyline points="199.7,234.3 200.3,233.9 200.9,234.2 201.5,234.9 202.1,235.3 202.7,235.6 203.3,236.0 203.9,235.8 204.5,236.3 205.1,236.8 205.7,237.2 206.3,237.0 206.9,237.6 207.5,237.6 208.1,238.0 208.7,238.5 209.3,238.7 209.9,238.5 210.5,238.8 211.1,239.5 211.7,239.4 212.3,239.7 212.9,239.7 213.5,240.0 214.1,240.0 214.7,240.1 215.3,240.4 215.9,240.7 216.5,240.7 217.1,240.9 217.7,240.9 218.3,241.0 218.9,241.4 219.5,241.5 220.1,241.6 220.7,241.2 221.3,241.5 221.9,241.6 222.5,241.3 223.1,241.4 223.7,241.6 224.3,241.5 224.9,241.5 225.5,241.1 226.1,241.1 226.7,241.5 227.3,241.4 227.9,241.1 228.5,241.0 229.1,241.2 229.7,241.4 230.3,241.2 230.9,241.4 231.5,241.1 232.1,241.4 232.7,241.1 233.3,241.5 233.9,241.2 234.5,241.0 235.1,241.5 235.7,241.2 236.3,241.3 236.9,241.1 237.5,241.1 238.1,241.3 238.7,241.2 239.3,241.4 239.9,241.2 240.5,241.4 241.1,241.1 241.7,241.5 242.3,241.5 242.9,241.7 243.5,241.6 244.1,241.3 244.7,241.5 245.3,241.7 245.9,241.7 246.5,241.4 247.1,241.4 247.7,241.8 248.3,241.8 248.9,241.7 249.5,241.8 250.1,241.9 250.7,242.2 251.3,242.0 251.9,242.3 252.5,242.4 253.1,242.1 253.7,242.5 254.3,242.1 254.9,242.4 255.5,242.3 256.1,242.5 256.7,242.6 257.3,243.1 257.9,243.3 258.5,243.1 259.1,243.3 259.7,243.8 260.3,243.5 260.9,243.8 261.5,244.0 262.1,244.2 262.7,244.0 263.3,244.2 263.9,244.1 264.5,244.6 265.1,244.6 265.7,244.7 266.3,244.6 266.9,244.4 267.5,245.0 268.1,244.6 268.7,244.7 269.3,244.6 269.9,244.9 270.5,245.1 271.1,245.3 271.7,245.0 272.3,244.8 272.9,245.2 273.5,244.8 274.1,244.8 274.7,244.8 275.3,245.2 275.9,244.9 276.5,245.2 277.1,245.0 277.7,245.0 278.3,245.2 278.9,244.8 279.5,244.8 280.1,245.1 280.7,244.9 281.3,244.7 281.9,244.8 282.5,244.8 283.1,244.8 283.7,244.6 284.3,244.6 284.9,244.2 285.5,244.2 286.1,244.3 286.7,244.1 287.3,243.4 287.9,243.4 288.5,243.3 289.1,243.1 289.7,243.0 290.3,242.7 290.9,242.3 291.5,241.8 292.1,241.7 292.7,240.8 293.3,240.9 293.9,240.1 294.5,240.1 295.1,239.6 295.7,239.3 296.3,238.7 296.9,238.2 297.5,238.1 298.1,237.5 298.7,237.3 299.3,237.1 299.9,236.5 300.5,236.6 301.1,236.1 301.7,236.1 302.3,236.3 302.9,236.6 303.5,236.3 304.1,236.7 304.7,237.1 305.3,238.0 305.9,238.0 306.5,238.6 307.1,238.7 307.7,239.4 308.3,239.3 308.9,239.9 309.5,239.8 310.1,240.6 310.7,240.5 311.3,240.2 311.9,239.7 312.5,239.0 313.1,238.1 313.7,235.7 314.3,230.5 314.9,220.9 315.5,213.8 316.1,208.1 316.7,203.7 317.3,199.8 317.9,196.9 318.5,194.3 319.1,192.2" fill="none" stroke="#b543d2" stroke-width="1.0" stroke-linejoin="round"/>
<polyline points="62.3,92.8 62.9,92.5 63.5,95.4 64.1,93.3 64.7,98.1 65.3,96.2 65.9,96.2 66.5,96.0 67.1,95.1 67.7,92.9 68.3,93.5 68.9,93.2 69.5,96.0 70.1,90.4 70.7,92.4 71.3,94.0 71.9,95.7 72.5,106.5 73.1,109.3 73.7,109.8 74.3,111.0 74.9,112.6" fill="none" stroke="#cc33ff" stroke-width="1.4" stroke-linejoin="round"/>
<polyline points="74.9,112.6 75.5,120.2 76.1,136.3 76.7,142.5 77.3,148.3 77.9,151.7 78.5,156.4 79.1,158.3 79.7,162.0 80.3,164.4 80.9,167.0 81.5,170.5 82.1,171.4 82.7,174.0 83.3,175.5 83.9,178.2 84.5,178.4 85.1,179.5 85.7,182.2 86.3,183.3 86.9,185.0 87.5,185.0 88.1,187.8 88.7,187.0 89.3,190.2 89.9,191.1 90.5,191.7 91.1,191.6 91.7,193.3 92.3,194.9 92.9,195.1 93.5,195.8 94.1,195.1 94.7,195.9 95.3,198.0 95.9,197.9 96.5,198.3 97.1,197.9 97.7,198.5 98.3,200.8 98.9,200.7 99.5,203.4 100.1,201.6" fill="none" stroke="#cc33ff" stroke-width="1.05" stroke-linejoin="round"/>
<polyline points="100.1,201.6 100.7,201.9 101.3,202.6 101.9,203.3 102.5,202.9 103.1,201.9 103.7,201.2 104.3,199.7 104.9,200.2 105.5,200.8 106.1,201.4 106.7,202.5 107.3,202.4 107.9,202.9 108.5,202.9 109.1,203.0 109.7,202.1 110.3,203.2 110.9,202.8 111.5,202.6 112.1,202.8 112.7,201.9 113.3,202.0 113.9,202.2 114.5,202.0 115.1,202.3 115.7,201.9 116.3,201.3 116.9,199.9 117.5,200.3 118.1,198.5 118.7,198.5 119.3,198.5 119.9,199.0 120.5,197.8 121.1,198.8 121.7,198.3 122.3,198.4 122.9,197.6 123.5,198.9 124.1,198.5 124.7,197.6 125.3,199.0 125.9,198.6 126.5,199.4 127.1,199.4 127.7,200.1 128.3,200.2 128.9,200.0 129.5,200.4 130.1,199.4 130.7,201.0 131.3,201.1 131.9,201.7 132.5,201.7 133.1,201.9 133.7,202.6 134.3,202.7 134.9,202.9 135.5,204.2 136.1,203.7 136.7,203.4 137.3,203.7 137.9,204.7 138.5,205.2 139.1,205.7 139.7,205.1 140.3,206.2 140.9,207.3 141.5,207.2 142.1,207.4 142.7,207.4 143.3,208.3 143.9,207.2 144.5,208.7 145.1,208.9 145.7,208.5 146.3,209.0 146.9,208.8 147.5,208.9 148.1,209.8 148.7,210.2 149.3,210.9 149.9,210.9 150.5,212.3 151.1,211.3 151.7,212.9 152.3,212.7 152.9,212.5 153.5,214.0 154.1,213.8 154.7,213.4 155.3,215.1 155.9,214.4 156.5,215.3 157.1,215.9 157.7,216.4 158.3,216.8 158.9,217.4 159.5,217.7 160.1,217.0 160.7,218.2 161.3,218.6 161.9,218.4 162.5,219.4 163.1,220.4 163.7,220.2 164.3,220.5 164.9,221.0 165.5,221.4 166.1,222.1 166.7,222.5 167.3,221.8 167.9,222.1 168.5,222.4 169.1,223.6 169.7,223.8 170.3,223.0 170.9,224.0 171.5,223.7 172.1,224.6 172.7,224.0 173.3,224.8 173.9,224.3 174.5,224.1 175.1,225.2 175.7,224.4 176.3,225.4 176.9,225.1 177.5,224.8 178.1,225.1 178.7,225.9 179.3,224.9 179.9,224.5 180.5,226.0 181.1,224.7 181.7,224.9 182.3,225.4 182.9,226.0 183.5,226.5 184.1,225.4 184.7,225.7 185.3,227.4 185.9,226.8 186.5,227.6 187.1,227.0 187.7,227.1 188.3,228.5 188.9,227.5 189.5,227.9 190.1,228.4 190.7,228.6 191.3,228.6 191.9,229.2 192.5,229.3 193.1,230.2 193.7,230.8 194.3,230.8 194.9,230.3 195.5,231.5 196.1,232.0 196.7,231.4 197.3,232.2 197.9,233.5 198.5,233.6 199.1,233.3 199.7,233.3 200.3,233.9" fill="none" stroke="#cc33ff" stroke-width="1.2" stroke-linejoin="round"/>
<polyline points="199.7,233.3 200.3,233.9 200.9,234.2 201.5,234.7 202.1,235.2 202.7,235.5 203.3,235.7 203.9,236.2 204.5,236.4 205.1,237.0 205.7,237.3 206.3,237.6 206.9,237.6 207.5,238.1 208.1,238.2 208.7,238.2 209.3,238.4 209.9,238.9 210.5,239.2 211.1,239.4 211.7,239.5 212.3,239.8 212.9,240.0 213.5,240.2 214.1,240.1 214.7,240.4 215.3,240.5 215.9,240.7 216.5,240.8 217.1,240.7 217.7,241.2 218.3,241.2 218.9,241.5 219.5,241.1 220.1,241.2 220.7,241.2 221.3,241.7 221.9,241.5 222.5,241.6 223.1,241.2 223.7,241.6 224.3,241.2 224.9,241.7 225.5,241.4 226.1,241.7 226.7,241.5 227.3,241.5 227.9,241.2 228.5,241.5 229.1,241.5 229.7,241.4 230.3,241.5 230.9,241.6 231.5,241.5 232.1,241.4 232.7,241.4 233.3,241.3 233.9,241.5 234.5,241.6 235.1,241.5 235.7,241.1 236.3,241.2 236.9,241.4 237.5,241.4 238.1,241.6 238.7,241.7 239.3,241.7 239.9,241.5 240.5,241.6 241.1,241.7 241.7,241.3 242.3,241.4 242.9,241.3 243.5,241.7 244.1,241.9 244.7,241.4 245.3,241.5 245.9,241.5 246.5,241.9 247.1,241.7 247.7,241.7 248.3,241.9 248.9,241.8 249.5,241.9 250.1,242.1 250.7,242.3 251.3,242.1 251.9,242.3 252.5,242.0 253.1,242.7 253.7,242.2 254.3,242.5 254.9,242.8 255.5,242.5 256.1,242.6 256.7,243.0 257.3,243.0 257.9,243.0 258.5,243.3 259.1,243.6 259.7,243.7 260.3,243.6 260.9,244.0 261.5,244.3 262.1,244.0 262.7,244.3 263.3,244.3 263.9,244.4 264.5,244.2 265.1,244.3 265.7,244.4 266.3,244.8 266.9,244.6 267.5,244.6 268.1,244.9 268.7,244.6 269.3,244.8 269.9,245.0 270.5,244.9 271.1,245.1 271.7,245.1 272.3,244.8 272.9,244.8 273.5,245.2 274.1,245.0 274.7,244.8 275.3,244.7 275.9,245.0 276.5,245.2 277.1,244.8 277.7,245.3 278.3,244.7 278.9,245.0 279.5,245.0 280.1,244.9 280.7,244.7 281.3,244.7 281.9,244.8 282.5,244.9 283.1,244.6 283.7,244.5 284.3,244.5 284.9,244.7 285.5,244.1 286.1,243.8 286.7,244.1 287.3,243.5 287.9,243.8 288.5,243.5 289.1,243.5 289.7,243.0 290.3,243.0 290.9,242.1 291.5,242.1 292.1,241.4 292.7,241.1 293.3,240.8 293.9,240.4 294.5,239.9 295.1,239.4 295.7,239.2 296.3,238.7 296.9,238.1 297.5,237.9 298.1,237.9 298.7,237.1 299.3,237.0 299.9,236.9 300.5,236.5 301.1,236.1 301.7,235.9 302.3,236.0 302.9,236.3 303.5,236.7 304.1,236.7 304.7,237.5 305.3,237.8 305.9,238.1 306.5,238.6 307.1,238.8 307.7,239.4 308.3,239.4 308.9,239.5 309.5,240.4 310.1,240.4 310.7,240.8 311.3,239.8 311.9,239.5 312.5,239.2 313.1,238.4 313.7,235.7 314.3,230.3 314.9,221.1 315.5,213.8 316.1,208.2 316.7,204.1 317.3,200.0 317.9,197.1 318.5,194.3 319.1,192.4" fill="none" stroke="#b04ad2" stroke-width="1.0" stroke-linejoin="round"/>
<polyline points="62.3,91.3 62.9,94.1 63.5,94.2 64.1,97.6 64.7,102.9 65.3,103.9 65.9,99.5 66.5,101.7 67.1,97.6 67.7,97.6 68.3,95.8 68.9,95.6 69.5,93.0 70.1,93.5 70.7,88.9 71.3,95.5 71.9,95.2 72.5,105.6 73.1,107.1 73.7,107.7 74.3,113.8 74.9,115.4" fill="none" stroke="#c43bff" stroke-width="1.4" stroke-linejoin="round"/>
<polyline points="74.9,115.4 75.5,122.9 76.1,137.8 76.7,144.7 77.3,150.5 77.9,152.9 78.5,158.3 79.1,161.5 79.7,164.7 80.3,166.5 80.9,168.2 81.5,170.7 82.1,174.1 82.7,174.5 83.3,177.7 83.9,179.4 84.5,180.3 85.1,182.4 85.7,182.2 86.3,184.7 86.9,185.4 87.5,187.9 88.1,187.9 88.7,188.4 89.3,189.7 89.9,191.1 90.5,191.0 91.1,193.8 91.7,194.2 92.3,194.2 92.9,195.6 93.5,197.3 94.1,197.2 94.7,197.5 95.3,198.8 95.9,199.3 96.5,199.5 97.1,198.7 97.7,198.5 98.3,200.2 98.9,201.7 99.5,204.0 100.1,202.2" fill="none" stroke="#c43bff" stroke-width="1.05" stroke-linejoin="round"/>
<polyline points="100.1,202.2 100.7,203.2 101.3,202.5 101.9,203.6 102.5,203.1 103.1,203.1 103.7,202.2 104.3,200.4 104.9,201.1 105.5,202.1 106.1,202.2 106.7,203.6 107.3,203.1 107.9,202.8 108.5,203.4 109.1,203.7 109.7,203.8 110.3,203.7 110.9,202.7 111.5,203.1 112.1,203.4 112.7,202.6 113.3,203.0 113.9,202.7 114.5,202.5 115.1,202.2 115.7,201.4 116.3,201.3 116.9,200.7 117.5,200.5 118.1,200.2 118.7,199.9 119.3,199.8 119.9,199.1 120.5,198.9 121.1,199.0 121.7,199.0 122.3,199.2 122.9,198.0 123.5,199.2 124.1,198.2 124.7,198.0 125.3,199.5 125.9,198.6 126.5,199.9 127.1,199.2 127.7,199.5 128.3,200.6 128.9,200.6 129.5,199.6 130.1,201.4 130.7,200.3 131.3,201.3 131.9,202.0 132.5,202.2 133.1,202.0 133.7,203.3 134.3,203.2 134.9,202.9 135.5,204.6 136.1,204.3 136.7,204.3 137.3,204.9 137.9,204.9 138.5,205.9 139.1,206.2 139.7,205.7 140.3,206.5 140.9,206.5 141.5,208.0 142.1,207.0 142.7,208.1 143.3,208.4 143.9,208.6 144.5,208.5 145.1,208.5 145.7,208.4 146.3,209.0 146.9,210.5 147.5,209.8 148.1,210.7 148.7,210.6 149.3,210.5 149.9,211.5 150.5,212.9 151.1,212.2 151.7,212.4 152.3,213.2 152.9,213.1 153.5,213.2 154.1,213.9 154.7,215.1 155.3,214.1 155.9,214.4 156.5,215.9 157.1,215.3 157.7,215.6 158.3,216.2 158.9,217.7 159.5,218.2 160.1,218.6 160.7,218.0 161.3,219.6 161.9,218.6 162.5,219.8 163.1,220.3 163.7,220.6 164.3,221.9 164.9,221.8 165.5,221.6 166.1,222.3 166.7,222.7 167.3,221.8 167.9,222.5 168.5,222.7 169.1,224.0 169.7,224.0 170.3,223.2 170.9,224.6 171.5,223.1 172.1,223.7 172.7,223.6 173.3,224.3 173.9,225.2 174.5,225.1 175.1,223.9 175.7,224.4 176.3,225.6 176.9,224.8 177.5,225.8 178.1,225.5 178.7,225.7 179.3,225.8 179.9,225.6 180.5,224.9 181.1,226.1 181.7,225.7 182.3,226.0 182.9,224.8 183.5,225.3 184.1,226.2 184.7,226.9 185.3,226.4 185.9,227.3 186.5,226.3 187.1,226.6 187.7,228.0 188.3,228.8 188.9,227.9 189.5,228.2 190.1,228.5 190.7,229.2 191.3,229.2 191.9,229.4 192.5,230.5 193.1,229.4 193.7,231.2 194.3,231.3 194.9,232.0 195.5,232.1 196.1,232.3 196.7,231.7 197.3,232.9 197.9,232.9 198.5,232.9 199.1,234.0 199.7,233.8 200.3,234.5" fill="none" stroke="#c43bff" stroke-width="1.2" stroke-linejoin="round"/>
<polyline points="199.7,233.8 200.3,234.5 200.9,234.7 201.5,235.2 202.1,235.5 202.7,235.7 203.3,236.2 203.9,236.3 204.5,236.6 205.1,237.2 205.7,237.3 206.3,237.5 206.9,238.0 207.5,238.0 208.1,237.9 208.7,238.6 209.3,238.8 209.9,239.1 210.5,239.4 211.1,239.5 211.7,239.9 212.3,239.9 212.9,240.3 213.5,240.1 214.1,240.2 214.7,240.5 215.3,240.9 215.9,241.0 216.5,241.0 217.1,241.0 217.7,241.0 218.3,241.0 218.9,241.3 219.5,241.4 220.1,241.8 220.7,241.6 221.3,241.6 221.9,241.5 222.5,241.2 223.1,241.4 223.7,241.6 224.3,241.6 224.9,241.8 225.5,241.5 226.1,241.6 226.7,241.6 227.3,241.6 227.9,241.2 228.5,241.7 229.1,241.6 229.7,241.5 230.3,241.2 230.9,241.7 231.5,241.5 232.1,241.2 232.7,241.5 233.3,241.2 233.9,241.1 234.5,241.5 235.1,241.6 235.7,241.4 236.3,241.2 236.9,241.3 237.5,241.2 238.1,241.3 238.7,241.2 239.3,241.6 239.9,241.7 240.5,241.5 241.1,241.7 241.7,241.4 242.3,241.9 242.9,241.7 243.5,241.5 244.1,241.7 244.7,241.7 245.3,242.0 245.9,242.0 246.5,241.6 247.1,242.0 247.7,241.7 248.3,242.0 248.9,242.3 249.5,241.9 250.1,242.3 250.7,242.2 251.3,242.1 251.9,242.6 252.5,242.5 253.1,242.3 253.7,242.3 254.3,242.5 254.9,242.8 255.5,242.9 256.1,242.8 256.7,242.6 257.3,242.8 257.9,243.0 258.5,243.5 259.1,243.3 259.7,243.7 260.3,243.5 260.9,243.8 261.5,244.1 262.1,244.3 262.7,243.9 263.3,244.1 263.9,244.2 264.5,244.3 265.1,244.4 265.7,244.7 266.3,244.4 266.9,244.5 267.5,244.7 268.1,245.0 268.7,245.0 269.3,244.7 269.9,245.0 270.5,245.1 271.1,245.0 271.7,245.2 272.3,244.8 272.9,245.0 273.5,245.1 274.1,245.3 274.7,244.7 275.3,245.1 275.9,244.9 276.5,245.1 277.1,245.0 277.7,245.2 278.3,244.8 278.9,245.2 279.5,244.8 280.1,245.0 280.7,244.7 281.3,244.6 281.9,244.6 282.5,244.8 283.1,244.9 283.7,244.6 284.3,244.4 284.9,244.6 285.5,244.3 286.1,244.0 286.7,244.0 287.3,243.6 287.9,243.6 288.5,243.3 289.1,243.1 289.7,242.8 290.3,242.6 290.9,242.5 291.5,242.1 292.1,241.5 292.7,241.3 293.3,240.5 293.9,240.4 294.5,240.0 295.1,239.2 295.7,239.3 296.3,238.9 296.9,238.3 297.5,238.0 298.1,237.7 298.7,237.4 299.3,236.8 299.9,236.7 300.5,236.7 301.1,236.2 301.7,235.9 302.3,236.5 302.9,236.3 303.5,236.4 304.1,236.9 304.7,237.1 305.3,237.8 305.9,238.2 306.5,238.3 307.1,238.8 307.7,239.2 308.3,239.3 308.9,240.0 309.5,240.2 310.1,240.2 310.7,240.6 311.3,240.1 311.9,239.6 312.5,239.3 313.1,238.1 313.7,236.0 314.3,230.2 314.9,220.9 315.5,213.6 316.1,208.3 316.7,203.6 317.3,199.9 317.9,197.2 318.5,194.0 319.1,192.2" fill="none" stroke="#ab50d3" stroke-width="1.0" stroke-linejoin="round"/>
<polyline points="62.3,93.7 62.9,100.4 63.5,102.6 64.1,100.5 64.7,106.3 65.3,106.3 65.9,101.3 66.5,101.7 67.1,97.9 67.7,97.0 68.3,99.5 68.9,99.1 69.5,97.2 70.1,93.9 70.7,94.8 71.3,98.5 71.9,98.1 72.5,107.5 73.1,106.5 73.7,111.7 74.3,112.4 74.9,116.9" fill="none" stroke="#bb44ff" stroke-width="1.4" stroke-linejoin="round"/>
<polyline points="74.9,116.9 75.5,122.7 76.1,140.4 76.7,146.3 77.3,151.8 77.9,155.4 78.5,160.8 79.1,162.0 79.7,165.7 80.3,167.0 80.9,172.1 81.5,173.7 82.1,175.3 82.7,176.8 83.3,178.4 83.9,180.2 84.5,182.0 85.1,183.0 85.7,185.2 86.3,185.1 86.9,187.7 87.5,187.7 88.1,188.3 88.7,189.2 89.3,190.5 89.9,193.0 90.5,193.6 91.1,194.4 91.7,194.2 92.3,194.8 92.9,195.9 93.5,197.3 94.1,196.9 94.7,198.5 95.3,198.7 95.9,200.0 96.5,200.0 97.1,199.2 97.7,199.9 98.3,202.1 98.9,203.7 99.5,204.1 100.1,204.4" fill="none" stroke="#bb44ff" stroke-width="1.05" stroke-linejoin="round"/>
<polyline points="100.1,204.4 100.7,202.9 101.3,204.0 101.9,205.2 102.5,203.4 103.1,203.3 103.7,202.9 104.3,201.4 104.9,201.5 105.5,203.1 106.1,203.5 106.7,202.9 107.3,203.2 107.9,203.3 108.5,203.0 109.1,204.3 109.7,203.2 110.3,204.0 110.9,203.6 111.5,202.5 112.1,203.5 112.7,202.4 113.3,203.4 113.9,202.4 114.5,203.3 115.1,203.0 115.7,202.7 116.3,202.5 116.9,201.9 117.5,200.1 118.1,199.8 118.7,201.0 119.3,199.7 119.9,200.1 120.5,199.5 121.1,199.8 121.7,198.4 122.3,199.1 122.9,199.5 123.5,199.0 124.1,199.6 124.7,199.9 125.3,200.0 125.9,199.0 126.5,200.5 127.1,200.1 127.7,199.6 128.3,200.9 128.9,200.1 129.5,200.5 130.1,200.8 130.7,201.2 131.3,200.8 131.9,202.2 132.5,202.6 133.1,202.1 133.7,203.7 134.3,202.5 134.9,203.1 135.5,204.7 136.1,204.2 136.7,204.5 137.3,204.6 137.9,205.6 138.5,205.5 139.1,206.8 139.7,206.0 140.3,207.1 140.9,208.2 141.5,207.9 142.1,207.8 142.7,207.7 143.3,209.5 143.9,208.1 144.5,209.2 145.1,209.2 145.7,210.2 146.3,210.2 146.9,211.2 147.5,211.5 148.1,211.4 148.7,211.3 149.3,211.8 149.9,212.8 150.5,212.8 151.1,213.2 151.7,213.8 152.3,213.2 152.9,214.3 153.5,214.5 154.1,214.2 154.7,215.2 155.3,214.4 155.9,214.5 156.5,216.5 157.1,217.0 157.7,216.4 158.3,216.7 158.9,216.8 159.5,218.5 160.1,217.7 160.7,218.9 161.3,219.7 161.9,219.6 162.5,220.9 163.1,220.3 163.7,221.5 164.3,220.8 164.9,221.6 165.5,222.3 166.1,221.8 166.7,223.1 167.3,223.6 167.9,222.8 168.5,223.3 169.1,222.6 169.7,223.5 170.3,224.0 170.9,223.3 171.5,224.9 172.1,223.6 172.7,224.4 173.3,223.6 173.9,224.3 174.5,225.3 175.1,224.8 175.7,225.7 176.3,225.8 176.9,225.2 177.5,224.8 178.1,226.0 178.7,226.3 179.3,225.1 179.9,224.8 180.5,226.3 181.1,225.9 181.7,225.3 182.3,225.2 182.9,225.8 183.5,226.8 184.1,225.7 184.7,226.9 185.3,226.4 185.9,227.2 186.5,227.2 187.1,227.7 187.7,227.2 188.3,228.7 188.9,229.2 189.5,228.6 190.1,228.7 190.7,229.7 191.3,228.9 191.9,229.0 192.5,230.5 193.1,230.5 193.7,231.0 194.3,230.2 194.9,232.0 195.5,231.9 196.1,231.2 196.7,232.5 197.3,233.4 197.9,232.5 198.5,234.1 199.1,234.4 199.7,234.6 200.3,234.3" fill="none" stroke="#bb44ff" stroke-width="1.2" stroke-linejoin="round"/>
<polyline points="199.7,234.6 200.3,234.3 200.9,234.6 201.5,234.9 202.1,235.6 202.7,235.5 203.3,236.1 203.9,236.4 204.5,236.9 205.1,237.2 205.7,237.2 206.3,237.5 206.9,237.9 207.5,238.0 208.1,238.2 208.7,238.3 209.3,238.8 209.9,239.0 210.5,239.1 211.1,239.3 211.7,239.4 212.3,239.9 212.9,239.8 213.5,240.0 214.1,240.6 214.7,240.3 215.3,240.8 215.9,240.8 216.5,240.8 217.1,241.1 217.7,241.2 218.3,241.6 218.9,241.7 219.5,241.5 220.1,241.5 220.7,241.6 221.3,241.4 221.9,241.6 222.5,241.3 223.1,241.4 223.7,241.7 224.3,241.7 224.9,241.5 225.5,241.8 226.1,241.3 226.7,241.4 227.3,241.6 227.9,241.5 228.5,241.6 229.1,241.2 229.7,241.6 230.3,241.3 230.9,241.3 231.5,241.3 232.1,241.6 232.7,241.2 233.3,241.7 233.9,241.4 234.5,241.3 235.1,241.4 235.7,241.5 236.3,241.3 236.9,241.6 237.5,241.6 238.1,241.5 238.7,241.7 239.3,241.7 239.9,241.4 240.5,241.5 241.1,241.6 241.7,241.6 242.3,241.6 242.9,241.7 243.5,241.9 244.1,241.8 244.7,242.0 245.3,241.9 245.9,241.6 246.5,242.2 247.1,241.8 247.7,242.0 248.3,241.8 248.9,242.2 249.5,242.3 250.1,242.1 250.7,242.6 251.3,242.2 251.9,242.7 252.5,242.7 253.1,242.3 253.7,242.4 254.3,242.4 254.9,242.8 255.5,242.6 256.1,243.1 256.7,242.7 257.3,243.3 257.9,243.2 258.5,243.1 259.1,243.7 259.7,243.7 260.3,243.6 260.9,243.8 261.5,243.9 262.1,244.0 262.7,244.3 263.3,244.3 263.9,244.2 264.5,244.3 265.1,244.8 265.7,244.5 266.3,244.6 266.9,244.5 267.5,244.5 268.1,244.9 268.7,244.7 269.3,245.1 269.9,244.8 270.5,244.9 271.1,245.1 271.7,245.1 272.3,244.9 272.9,245.1 273.5,245.0 274.1,245.2 274.7,245.2 275.3,245.2 275.9,244.9 276.5,244.7 277.1,244.7 277.7,244.9 278.3,244.9 278.9,244.8 279.5,244.7 280.1,244.8 280.7,244.7 281.3,244.5 281.9,244.9 282.5,244.7 283.1,244.5 283.7,244.5 284.3,244.6 284.9,244.1 285.5,244.2 286.1,244.2 286.7,243.7 287.3,243.7 287.9,243.8 288.5,243.5 289.1,243.2 289.7,242.8 290.3,243.0 290.9,242.7 291.5,242.1 292.1,241.4 292.7,241.1 293.3,240.9 293.9,240.3 294.5,240.2 295.1,239.5 295.7,238.8 296.3,238.6 296.9,238.6 297.5,238.3 298.1,237.9 298.7,237.2 299.3,236.9 299.9,236.8 300.5,236.2 301.1,236.4 301.7,236.1 302.3,236.4 302.9,236.5 303.5,236.5 304.1,237.1 304.7,237.1 305.3,237.7 305.9,238.0 306.5,238.6 307.1,239.0 307.7,239.2 308.3,239.4 308.9,239.6 309.5,239.8 310.1,240.3 310.7,240.2 311.3,240.0 311.9,239.9 312.5,239.3 313.1,238.1 313.7,236.3 314.3,230.6 314.9,221.1 315.5,213.8 316.1,208.4 316.7,204.0 317.3,200.1 317.9,197.0 318.5,194.0 319.1,192.0" fill="none" stroke="#a757d4" stroke-width="1.0" stroke-linejoin="round"/>
<polyline points="62.3,98.6 62.9,100.0 63.5,101.9 64.1,106.6 64.7,104.4 65.3,103.5 65.9,103.7 66.5,106.0 67.1,99.5 67.7,100.3 68.3,99.5 68.9,98.2 69.5,103.1 70.1,97.5 70.7,100.0 71.3,97.7 71.9,104.4 72.5,105.1 73.1,108.8 73.7,109.4 74.3,114.7 74.9,116.6" fill="none" stroke="#b24dff" stroke-width="1.4" stroke-linejoin="round"/>
<polyline points="74.9,116.6 75.5,125.2 76.1,140.6 76.7,147.1 77.3,155.0 77.9,158.5 78.5,162.6 79.1,165.8 79.7,168.1 80.3,168.9 80.9,172.1 81.5,174.3 82.1,177.4 82.7,177.0 83.3,180.6 83.9,180.5 84.5,182.1 85.1,183.5 85.7,185.3 86.3,187.6 86.9,188.8 87.5,188.8 88.1,191.4 88.7,190.1 89.3,191.0 89.9,192.9 90.5,193.5 91.1,195.6 91.7,194.4 92.3,197.2 92.9,196.5 93.5,198.4 94.1,197.2 94.7,200.1 95.3,200.5 95.9,200.2 96.5,201.2 97.1,201.4 97.7,201.9 98.3,202.6 98.9,204.7 99.5,205.2 100.1,204.9" fill="none" stroke="#b24dff" stroke-width="1.05" stroke-linejoin="round"/>
<polyline points="100.1,204.9 100.7,204.1 101.3,205.9 101.9,205.0 102.5,205.6 103.1,203.6 103.7,203.4 104.3,202.1 104.9,202.8 105.5,203.8 106.1,203.6 106.7,204.2 107.3,204.3 107.9,203.5 108.5,204.6 109.1,204.0 109.7,204.1 110.3,204.0 110.9,203.6 111.5,203.2 112.1,202.9 112.7,203.8 113.3,204.0 113.9,203.0 114.5,203.8 115.1,202.9 115.7,203.4 116.3,202.2 116.9,201.8 117.5,201.8 118.1,200.9 118.7,200.6 119.3,200.0 119.9,200.6 120.5,199.6 121.1,200.1 121.7,199.0 122.3,200.4 122.9,200.4 123.5,199.1 124.1,199.6 124.7,199.1 125.3,199.8 125.9,200.7 126.5,200.4 127.1,199.7 127.7,201.4 128.3,200.9 128.9,200.2 129.5,200.9 130.1,200.7 130.7,202.3 131.3,201.6 131.9,202.0 132.5,203.0 133.1,203.0 133.7,202.5 134.3,203.0 134.9,203.6 135.5,205.0 136.1,205.3 136.7,205.3 137.3,205.7 137.9,205.7 138.5,206.0 139.1,207.3 139.7,207.9 140.3,207.7 140.9,208.3 141.5,208.2 142.1,207.8 142.7,208.0 143.3,209.7 143.9,210.1 144.5,210.6 145.1,209.6 145.7,210.7 146.3,210.9 146.9,211.1 147.5,211.7 148.1,212.3 148.7,211.3 149.3,212.6 149.9,212.3 150.5,213.4 151.1,213.9 151.7,214.2 152.3,214.2 152.9,214.8 153.5,213.7 154.1,214.0 154.7,214.9 155.3,215.8 155.9,216.3 156.5,216.7 157.1,215.8 157.7,217.2 158.3,217.3 158.9,217.0 159.5,217.9 160.1,218.8 160.7,218.3 161.3,220.1 161.9,219.3 162.5,219.6 163.1,220.6 163.7,221.8 164.3,222.2 164.9,222.6 165.5,221.7 166.1,222.1 166.7,222.3 167.3,222.6 167.9,223.3 168.5,224.5 169.1,224.1 169.7,223.6 170.3,224.9 170.9,224.3 171.5,223.5 172.1,223.7 172.7,224.7 173.3,224.2 173.9,224.4 174.5,224.7 175.1,225.3 175.7,226.0 176.3,224.6 176.9,226.2 177.5,225.4 178.1,225.3 178.7,225.3 179.3,225.4 179.9,225.6 180.5,225.6 181.1,226.5 181.7,225.6 182.3,225.5 182.9,226.8 183.5,226.7 184.1,225.6 184.7,226.8 185.3,227.2 185.9,226.6 186.5,227.2 187.1,227.1 187.7,227.2 188.3,228.2 188.9,227.7 189.5,228.7 190.1,229.0 190.7,229.5 191.3,230.3 191.9,229.1 192.5,229.7 193.1,230.9 193.7,230.7 194.3,230.6 194.9,230.9 195.5,231.2 196.1,232.8 196.7,232.1 197.3,232.8 197.9,233.2 198.5,233.8 199.1,233.7 199.7,233.9 200.3,234.6" fill="none" stroke="#b24dff" stroke-width="1.2" stroke-linejoin="round"/>
<polyline points="199.7,233.9 200.3,234.6 200.9,234.7 201.5,234.9 202.1,235.8 202.7,236.1 203.3,236.1 203.9,236.6 204.5,236.9 205.1,237.0 205.7,237.1 206.3,237.4 206.9,238.1 207.5,238.4 208.1,238.3 208.7,238.9 209.3,238.8 209.9,239.0 210.5,239.1 211.1,239.5 211.7,239.6 212.3,240.1 212.9,240.4 213.5,240.4 214.1,240.4 214.7,240.6 215.3,241.1 215.9,241.0 216.5,241.1 217.1,240.9 217.7,241.6 218.3,241.3 218.9,241.5 219.5,241.4 220.1,241.9 220.7,241.9 221.3,241.6 221.9,241.8 222.5,241.9 223.1,241.9 223.7,241.4 224.3,241.4 224.9,241.5 225.5,241.6 226.1,241.4 226.7,241.4 227.3,241.4 227.9,241.8 228.5,241.7 229.1,241.3 229.7,241.5 230.3,241.7 230.9,241.4 231.5,241.5 232.1,241.4 232.7,241.8 233.3,241.5 233.9,241.4 234.5,241.6 235.1,241.3 235.7,241.4 236.3,241.8 236.9,241.7 237.5,241.3 238.1,241.3 238.7,241.8 239.3,241.5 239.9,241.8 240.5,241.6 241.1,241.4 241.7,241.5 242.3,241.8 242.9,242.0 243.5,242.1 244.1,241.8 244.7,241.9 245.3,242.1 245.9,242.1 246.5,242.2 247.1,242.2 247.7,242.2 248.3,242.4 248.9,242.2 249.5,242.5 250.1,242.3 250.7,242.2 251.3,242.7 251.9,242.3 252.5,242.6 253.1,242.8 253.7,242.8 254.3,242.8 254.9,243.1 255.5,242.7 256.1,242.9 256.7,243.2 257.3,243.5 257.9,243.2 258.5,243.2 259.1,243.8 259.7,243.8 260.3,243.8 260.9,244.2 261.5,244.4 262.1,244.1 262.7,244.2 263.3,244.4 263.9,244.3 264.5,244.4 265.1,244.4 265.7,244.8 266.3,244.6 266.9,244.9 267.5,244.9 268.1,244.8 268.7,244.7 269.3,244.6 269.9,244.9 270.5,245.2 271.1,245.0 271.7,245.2 272.3,244.8 272.9,245.2 273.5,245.3 274.1,244.7 274.7,244.8 275.3,245.2 275.9,244.9 276.5,244.9 277.1,245.2 277.7,245.2 278.3,245.3 278.9,244.8 279.5,244.9 280.1,244.6 280.7,244.8 281.3,245.0 281.9,244.6 282.5,244.7 283.1,244.8 283.7,244.4 284.3,244.4 284.9,244.3 285.5,244.4 286.1,244.2 286.7,244.0 287.3,243.6 287.9,243.8 288.5,243.2 289.1,243.4 289.7,242.9 290.3,243.1 290.9,242.1 291.5,241.7 292.1,241.8 292.7,240.9 293.3,240.7 293.9,240.2 294.5,239.9 295.1,239.6 295.7,239.1 296.3,238.7 296.9,238.4 297.5,237.8 298.1,237.8 298.7,237.1 299.3,237.2 299.9,236.7 300.5,236.6 301.1,235.9 301.7,236.4 302.3,236.5 302.9,236.6 303.5,236.7 304.1,237.0 304.7,237.0 305.3,237.7 305.9,237.9 306.5,238.2 307.1,239.0 307.7,239.5 308.3,239.8 308.9,239.7 309.5,239.9 310.1,240.4 310.7,240.3 311.3,240.3 311.9,239.9 312.5,239.3 313.1,238.4 313.7,235.8 314.3,230.5 314.9,220.8 315.5,213.9 316.1,208.5 316.7,203.8 317.3,200.2 317.9,196.9 318.5,193.9 319.1,192.4" fill="none" stroke="#a25dd5" stroke-width="1.0" stroke-linejoin="round"/>
<polyline points="62.3,104.1 62.9,104.7 63.5,104.9 64.1,105.2 64.7,105.3 65.3,111.0 65.9,111.2 66.5,105.7 67.1,106.3 67.7,103.9 68.3,103.9 68.9,103.5 69.5,102.3 70.1,97.6 70.7,97.5 71.3,98.1 71.9,102.3 72.5,108.1 73.1,114.2 73.7,115.2 74.3,115.4 74.9,118.1" fill="none" stroke="#aa55ff" stroke-width="1.4" stroke-linejoin="round"/>
<polyline points="74.9,118.1 75.5,126.4 76.1,142.4 76.7,149.2 77.3,156.5 77.9,160.2 78.5,164.2 79.1,166.0 79.7,168.6 80.3,171.1 80.9,174.5 81.5,176.4 82.1,178.3 82.7,179.5 83.3,180.7 83.9,183.4 84.5,184.2 85.1,186.3 85.7,186.1 86.3,186.9 86.9,189.7 87.5,188.9 88.1,190.3 88.7,192.3 89.3,193.4 89.9,193.2 90.5,193.5 91.1,195.7 91.7,197.0 92.3,198.2 92.9,197.2 93.5,197.9 94.1,199.5 94.7,200.4 95.3,199.8 95.9,199.7 96.5,200.4 97.1,200.7 97.7,201.7 98.3,202.0 98.9,203.3 99.5,206.9 100.1,205.4" fill="none" stroke="#aa55ff" stroke-width="1.05" stroke-linejoin="round"/>
<polyline points="100.1,205.4 100.7,204.0 101.3,206.2 101.9,206.2 102.5,205.8 103.1,205.0 103.7,204.2 104.3,204.2 104.9,203.3 105.5,203.2 106.1,203.8 106.7,204.1 107.3,204.0 107.9,204.5 108.5,204.6 109.1,205.6 109.7,205.4 110.3,204.3 110.9,204.0 111.5,204.8 112.1,204.3 112.7,204.7 113.3,203.8 113.9,203.1 114.5,203.6 115.1,203.4 115.7,203.7 116.3,203.2 116.9,201.8 117.5,202.5 118.1,201.8 118.7,201.0 119.3,200.7 119.9,200.5 120.5,200.8 121.1,200.3 121.7,201.0 122.3,200.4 122.9,199.8 123.5,200.6 124.1,200.3 124.7,199.7 125.3,200.6 125.9,201.1 126.5,200.5 127.1,200.9 127.7,200.2 128.3,200.4 128.9,200.9 129.5,202.3 130.1,201.0 130.7,201.6 131.3,202.4 131.9,203.0 132.5,203.5 133.1,203.4 133.7,202.8 134.3,204.0 134.9,205.3 135.5,204.7 136.1,204.6 136.7,206.7 137.3,207.1 137.9,207.3 138.5,206.6 139.1,207.9 139.7,207.1 140.3,207.7 140.9,207.6 141.5,208.2 142.1,209.7 142.7,209.8 143.3,209.9 143.9,210.1 144.5,209.7 145.1,209.7 145.7,210.2 146.3,211.6 146.9,211.3 147.5,210.8 148.1,211.5 148.7,212.1 149.3,211.9 149.9,212.1 150.5,213.1 151.1,214.1 151.7,213.3 152.3,214.0 152.9,214.9 153.5,214.8 154.1,215.3 154.7,215.7 155.3,216.2 155.9,215.2 156.5,216.5 157.1,216.0 157.7,216.5 158.3,216.6 158.9,217.2 159.5,218.8 160.1,218.0 160.7,218.2 161.3,219.2 161.9,220.6 162.5,220.7 163.1,221.2 163.7,221.9 164.3,221.6 164.9,222.8 165.5,222.5 166.1,222.5 166.7,222.7 167.3,224.3 167.9,224.3 168.5,224.0 169.1,224.1 169.7,224.4 170.3,223.5 170.9,223.7 171.5,224.8 172.1,225.0 172.7,225.5 173.3,225.1 173.9,225.5 174.5,225.3 175.1,225.1 175.7,225.3 176.3,226.3 176.9,226.4 177.5,226.4 178.1,225.9 178.7,225.3 179.3,225.1 179.9,226.6 180.5,225.2 181.1,225.7 181.7,226.6 182.3,225.6 182.9,226.7 183.5,225.9 184.1,227.1 184.7,227.2 185.3,226.7 185.9,227.1 186.5,227.4 187.1,228.0 187.7,228.8 188.3,228.4 188.9,228.4 189.5,228.7 190.1,228.6 190.7,229.8 191.3,229.8 191.9,230.8 192.5,230.4 193.1,231.5 193.7,230.9 194.3,231.3 194.9,231.0 195.5,232.4 196.1,231.3 196.7,231.9 197.3,232.5 197.9,233.8 198.5,233.7 199.1,233.5 199.7,234.9 200.3,234.7" fill="none" stroke="#aa55ff" stroke-width="1.2" stroke-linejoin="round"/>
<polyline points="199.7,234.9 200.3,234.7 200.9,234.6 201.5,235.1 202.1,235.7 202.7,236.1 203.3,236.4 203.9,236.8 204.5,236.6 205.1,236.8 205.7,237.4 206.3,237.4 206.9,238.0 207.5,238.4 208.1,238.4 208.7,238.7 209.3,238.9 209.9,238.9 210.5,239.1 211.1,239.7 211.7,240.0 212.3,239.9 212.9,240.0 213.5,240.6 214.1,240.4 214.7,240.9 215.3,240.9 215.9,240.9 216.5,241.1 217.1,241.1 217.7,241.1 218.3,241.3 218.9,241.6 219.5,241.8 220.1,241.4 220.7,241.5 221.3,241.4 221.9,242.0 222.5,241.5 223.1,241.6 223.7,241.4 224.3,241.7 224.9,241.7 225.5,241.6 226.1,241.7 226.7,241.4 227.3,241.8 227.9,241.7 228.5,241.4 229.1,241.5 229.7,241.3 230.3,241.7 230.9,241.8 231.5,241.6 232.1,241.5 232.7,241.7 233.3,241.5 233.9,241.3 234.5,241.6 235.1,241.5 235.7,241.8 236.3,241.6 236.9,241.3 237.5,241.7 238.1,241.8 238.7,241.4 239.3,241.5 239.9,241.7 240.5,241.8 241.1,241.9 241.7,241.9 242.3,242.1 242.9,242.0 243.5,241.6 244.1,242.2 244.7,242.2 245.3,242.1 245.9,242.2 246.5,242.3 247.1,241.9 247.7,242.3 248.3,242.1 248.9,242.2 249.5,242.6 250.1,242.5 250.7,242.4 251.3,242.4 251.9,242.6 252.5,242.4 253.1,242.6 253.7,243.0 254.3,242.7 254.9,242.9 255.5,243.2 256.1,242.9 256.7,243.0 257.3,243.2 257.9,243.3 258.5,243.8 259.1,243.3 259.7,243.5 260.3,244.0 260.9,243.7 261.5,244.1 262.1,244.3 262.7,244.0 263.3,244.2 263.9,244.3 264.5,244.5 265.1,244.6 265.7,244.7 266.3,244.4 266.9,244.5 267.5,244.9 268.1,245.0 268.7,244.8 269.3,244.7 269.9,244.8 270.5,245.2 271.1,244.8 271.7,244.8 272.3,244.8 272.9,244.9 273.5,245.1 274.1,244.8 274.7,245.0 275.3,245.3 275.9,245.0 276.5,245.0 277.1,245.1 277.7,245.0 278.3,244.9 278.9,245.1 279.5,244.7 280.1,244.7 280.7,245.1 281.3,244.6 281.9,244.5 282.5,244.5 283.1,244.9 283.7,244.4 284.3,244.5 284.9,244.5 285.5,243.9 286.1,243.9 286.7,244.0 287.3,243.6 287.9,243.5 288.5,243.4 289.1,243.4 289.7,243.0 290.3,242.6 290.9,242.1 291.5,241.8 292.1,241.6 292.7,241.3 293.3,240.7 293.9,240.1 294.5,239.9 295.1,239.2 295.7,238.9 296.3,238.5 296.9,238.6 297.5,238.1 298.1,237.4 298.7,237.6 299.3,237.0 299.9,236.6 300.5,236.6 301.1,236.2 301.7,236.2 302.3,236.2 302.9,236.2 303.5,236.3 304.1,237.0 304.7,237.3 305.3,237.6 305.9,238.2 306.5,238.5 307.1,239.2 307.7,239.3 308.3,239.7 308.9,239.6 309.5,240.1 310.1,240.6 310.7,240.7 311.3,240.0 311.9,239.8 312.5,239.2 313.1,238.1 313.7,236.1 314.3,230.1 314.9,220.7 315.5,213.7 316.1,208.0 316.7,204.0 317.3,199.9 317.9,197.3 318.5,193.9 319.1,191.9" fill="none" stroke="#9d64d6" stroke-width="1.0" stroke-linejoin="round"/>
<polyline points="62.3,103.2 62.9,106.2 63.5,108.5 64.1,107.0 64.7,111.1 65.3,108.6 65.9,108.9 66.5,108.1 67.1,105.9 67.7,108.8 68.3,108.3 68.9,103.4 69.5,105.6 70.1,101.0 70.7,98.2 71.3,99.1 71.9,106.5 72.5,111.4 73.1,112.2 73.7,110.7 74.3,117.1 74.9,119.5" fill="none" stroke="#a25eff" stroke-width="1.4" stroke-linejoin="round"/>
<polyline points="74.9,119.5 75.5,127.7 76.1,144.4 76.7,150.5 77.3,156.9 77.9,160.3 78.5,165.1 79.1,168.7 79.7,170.7 80.3,172.4 80.9,174.9 81.5,177.5 82.1,179.7 82.7,180.4 83.3,181.1 83.9,184.9 84.5,185.9 85.1,186.5 85.7,186.3 86.3,188.5 86.9,189.4 87.5,190.1 88.1,191.8 88.7,192.9 89.3,193.8 89.9,194.1 90.5,194.9 91.1,197.1 91.7,196.2 92.3,197.8 92.9,198.5 93.5,198.3 94.1,198.5 94.7,200.3 95.3,200.9 95.9,200.4 96.5,200.4 97.1,201.9 97.7,201.1 98.3,203.2 98.9,205.7 99.5,207.4 100.1,206.1" fill="none" stroke="#a25eff" stroke-width="1.05" stroke-linejoin="round"/>
<polyline points="100.1,206.1 100.7,205.7 101.3,205.9 101.9,207.6 102.5,206.4 103.1,206.2 103.7,204.3 104.3,204.3 104.9,204.8 105.5,204.5 106.1,205.7 106.7,205.0 107.3,204.6 107.9,205.8 108.5,205.5 109.1,204.4 109.7,204.6 110.3,205.4 110.9,205.0 111.5,204.5 112.1,205.2 112.7,204.1 113.3,204.8 113.9,204.1 114.5,204.0 115.1,203.8 115.7,203.2 116.3,202.8 116.9,202.3 117.5,202.0 118.1,202.8 118.7,201.0 119.3,201.2 119.9,200.5 120.5,200.8 121.1,200.0 121.7,200.3 122.3,200.2 122.9,200.6 123.5,199.7 124.1,200.6 124.7,200.0 125.3,201.4 125.9,200.7 126.5,201.4 127.1,201.8 127.7,201.0 128.3,202.1 128.9,201.8 129.5,202.5 130.1,202.6 130.7,201.6 131.3,202.7 131.9,202.5 132.5,202.2 133.1,203.0 133.7,203.5 134.3,204.6 134.9,204.7 135.5,204.8 136.1,206.4 136.7,205.8 137.3,207.3 137.9,207.7 138.5,207.1 139.1,208.3 139.7,208.6 140.3,208.9 140.9,209.7 141.5,209.9 142.1,209.4 142.7,209.4 143.3,209.4 143.9,210.0 144.5,210.9 145.1,211.4 145.7,210.5 146.3,211.4 146.9,211.0 147.5,212.6 148.1,213.0 148.7,211.8 149.3,212.1 149.9,213.8 150.5,213.4 151.1,213.5 151.7,215.0 152.3,215.1 152.9,214.2 153.5,214.6 154.1,216.1 154.7,216.4 155.3,215.8 155.9,216.1 156.5,217.1 157.1,216.3 157.7,217.0 158.3,216.9 158.9,217.4 159.5,217.7 160.1,218.5 160.7,219.8 161.3,220.6 161.9,219.9 162.5,220.3 163.1,221.4 163.7,222.1 164.3,222.7 164.9,222.6 165.5,223.5 166.1,222.5 166.7,223.4 167.3,223.1 167.9,224.9 168.5,225.1 169.1,224.5 169.7,225.0 170.3,224.7 170.9,225.5 171.5,225.3 172.1,224.9 172.7,224.9 173.3,225.4 173.9,224.6 174.5,225.2 175.1,224.7 175.7,225.3 176.3,226.4 176.9,225.7 177.5,226.2 178.1,225.1 178.7,225.1 179.3,225.5 179.9,226.6 180.5,225.6 181.1,225.5 181.7,226.6 182.3,226.4 182.9,225.7 183.5,226.5 184.1,226.3 184.7,226.8 185.3,227.3 185.9,228.3 186.5,227.5 187.1,227.4 187.7,228.5 188.3,229.1 188.9,229.3 189.5,228.6 190.1,230.0 190.7,228.9 191.3,229.2 191.9,230.7 192.5,230.9 193.1,230.8 193.7,231.5 194.3,231.0 194.9,232.5 195.5,231.8 196.1,232.8 196.7,233.3 197.3,232.9 197.9,232.4 198.5,234.1 199.1,234.8 199.7,233.8 200.3,234.9" fill="none" stroke="#a25eff" stroke-width="1.2" stroke-linejoin="round"/>
<polyline points="199.7,233.8 200.3,234.9 200.9,234.7 201.5,235.4 202.1,235.9 202.7,236.3 203.3,236.0 203.9,236.9 204.5,237.1 205.1,237.4 205.7,237.5 206.3,237.6 206.9,238.1 207.5,238.4 208.1,238.4 208.7,238.8 209.3,239.2 209.9,239.4 210.5,239.3 211.1,239.7 211.7,240.1 212.3,240.3 212.9,240.0 213.5,240.3 214.1,240.5 214.7,240.7 215.3,240.7 215.9,240.8 216.5,241.3 217.1,241.2 217.7,241.3 218.3,241.3 218.9,241.6 219.5,241.9 220.1,241.8 220.7,241.9 221.3,241.9 221.9,242.0 222.5,241.5 223.1,241.9 223.7,241.5 224.3,241.5 224.9,241.4 225.5,241.8 226.1,241.4 226.7,241.7 227.3,241.4 227.9,241.8 228.5,241.5 229.1,241.3 229.7,241.8 230.3,241.4 230.9,241.5 231.5,241.4 232.1,241.4 232.7,241.6 233.3,241.3 233.9,241.3 234.5,241.6 235.1,241.5 235.7,241.9 236.3,241.9 236.9,241.3 237.5,241.6 238.1,241.4 238.7,241.4 239.3,241.8 239.9,241.7 240.5,241.6 241.1,241.8 241.7,241.6 242.3,242.0 242.9,241.8 243.5,242.3 244.1,242.1 244.7,242.3 245.3,242.4 245.9,241.9 246.5,242.4 247.1,242.2 247.7,242.3 248.3,242.4 248.9,242.5 249.5,242.7 250.1,242.3 250.7,242.6 251.3,242.7 251.9,242.6 252.5,242.5 253.1,243.0 253.7,242.6 254.3,243.0 254.9,243.0 255.5,243.1 256.1,243.3 256.7,243.5 257.3,243.1 257.9,243.5 258.5,243.7 259.1,243.7 259.7,243.9 260.3,243.6 260.9,244.0 261.5,244.1 262.1,244.4 262.7,244.2 263.3,244.6 263.9,244.5 264.5,244.6 265.1,244.8 265.7,244.6 266.3,244.6 266.9,244.4 267.5,244.5 268.1,245.0 268.7,244.9 269.3,245.1 269.9,245.0 270.5,244.8 271.1,244.8 271.7,245.3 272.3,245.1 272.9,244.8 273.5,244.9 274.1,244.8 274.7,244.9 275.3,245.1 275.9,245.0 276.5,245.2 277.1,244.7 277.7,244.7 278.3,245.2 278.9,245.1 279.5,245.0 280.1,244.7 280.7,244.9 281.3,244.5 281.9,244.8 282.5,244.7 283.1,244.4 283.7,244.8 284.3,244.8 284.9,244.1 285.5,244.4 286.1,243.8 286.7,244.0 287.3,243.9 287.9,243.6 288.5,243.6 289.1,243.5 289.7,243.1 290.3,242.8 290.9,242.6 291.5,241.8 292.1,241.7 292.7,241.2 293.3,240.8 293.9,240.4 294.5,239.7 295.1,239.7 295.7,239.2 296.3,238.6 296.9,238.1 297.5,238.1 298.1,237.4 298.7,237.4 299.3,236.9 299.9,237.0 300.5,236.6 301.1,236.1 301.7,236.1 302.3,236.2 302.9,236.1 303.5,236.5 304.1,236.9 304.7,237.3 305.3,238.0 305.9,238.0 306.5,238.5 307.1,238.8 307.7,239.4 308.3,239.7 308.9,239.8 309.5,239.9 310.1,240.3 310.7,240.7 311.3,240.0 311.9,239.9 312.5,239.4 313.1,238.0 313.7,236.0 314.3,230.5 314.9,221.2 315.5,213.7 316.1,208.0 316.7,203.8 317.3,200.0 317.9,196.9 318.5,194.4 319.1,192.0" fill="none" stroke="#986ad6" stroke-width="1.0" stroke-linejoin="round"/>
<polyline points="62.3,107.9 62.9,109.8 63.5,106.9 64.1,109.1 64.7,114.1 65.3,110.4 65.9,110.8 66.5,114.7 67.1,109.6 67.7,107.8 68.3,111.4 68.9,107.5 69.5,104.4 70.1,104.6 70.7,103.8 71.3,106.4 71.9,108.9 72.5,109.4 73.1,112.6 73.7,117.4 74.3,114.0 74.9,120.0" fill="none" stroke="#9966ff" stroke-width="1.4" stroke-linejoin="round"/>
<polyline points="74.9,120.0 75.5,128.5 76.1,145.7 76.7,152.0 77.3,159.1 77.9,162.4 78.5,166.4 79.1,169.2 79.7,171.9 80.3,175.0 80.9,176.7 81.5,179.2 82.1,181.2 82.7,180.8 83.3,183.9 83.9,184.3 84.5,185.8 85.1,186.3 85.7,188.7 86.3,190.5 86.9,190.4 87.5,192.5 88.1,193.7 88.7,193.6 89.3,194.1 89.9,194.6 90.5,197.3 91.1,196.7 91.7,198.3 92.3,198.4 92.9,199.9 93.5,199.3 94.1,201.1 94.7,201.9 95.3,202.3 95.9,201.4 96.5,201.7 97.1,202.3 97.7,203.5 98.3,204.5 98.9,205.2 99.5,207.3 100.1,206.1" fill="none" stroke="#9966ff" stroke-width="1.05" stroke-linejoin="round"/>
<polyline points="100.1,206.1 100.7,206.8 101.3,208.0 101.9,208.2 102.5,208.5 103.1,206.4 103.7,205.0 104.3,203.9 104.9,204.6 105.5,205.8 106.1,205.8 106.7,206.2 107.3,204.7 107.9,206.1 108.5,205.7 109.1,206.5 109.7,205.9 110.3,205.4 110.9,205.4 111.5,205.8 112.1,204.1 112.7,204.3 113.3,204.6 113.9,204.4 114.5,204.9 115.1,204.9 115.7,204.6 116.3,203.0 116.9,204.0 117.5,202.3 118.1,201.7 118.7,202.7 119.3,201.3 119.9,201.1 120.5,201.1 121.1,200.8 121.7,201.5 122.3,200.5 122.9,201.7 123.5,201.1 124.1,201.6 124.7,201.9 125.3,201.9 125.9,201.4 126.5,201.7 127.1,201.1 127.7,201.4 128.3,201.9 128.9,201.8 129.5,202.2 130.1,202.3 130.7,202.5 131.3,202.6 131.9,202.4 132.5,203.8 133.1,203.4 133.7,203.8 134.3,204.4 134.9,205.4 135.5,205.0 136.1,206.6 136.7,206.4 137.3,206.9 137.9,208.0 138.5,208.6 139.1,207.7 139.7,209.0 140.3,208.1 140.9,210.2 141.5,209.1 142.1,209.7 142.7,210.1 143.3,210.1 143.9,211.4 144.5,211.9 145.1,210.7 145.7,210.8 146.3,211.3 146.9,211.8 147.5,211.5 148.1,212.4 148.7,213.1 149.3,212.7 149.9,213.1 150.5,213.7 151.1,214.0 151.7,214.5 152.3,214.1 152.9,215.1 153.5,215.7 154.1,216.5 154.7,215.9 155.3,217.0 155.9,216.4 156.5,217.5 157.1,217.6 157.7,217.3 158.3,217.1 158.9,217.9 159.5,217.9 160.1,218.8 160.7,220.0 161.3,220.2 161.9,220.7 162.5,221.7 163.1,222.2 163.7,222.6 164.3,222.9 164.9,222.6 165.5,222.7 166.1,223.4 166.7,223.1 167.3,223.2 167.9,223.7 168.5,224.8 169.1,225.3 169.7,225.0 170.3,225.2 170.9,224.1 171.5,224.7 172.1,225.3 172.7,225.1 173.3,224.9 173.9,226.1 174.5,225.0 175.1,225.9 175.7,225.6 176.3,226.6 176.9,225.0 177.5,226.2 178.1,226.6 178.7,226.5 179.3,225.3 179.9,225.8 180.5,226.2 181.1,226.1 181.7,225.8 182.3,225.6 182.9,226.6 183.5,227.5 184.1,227.0 184.7,226.8 185.3,226.8 185.9,228.4 186.5,228.6 187.1,227.4 187.7,228.9 188.3,228.9 188.9,228.5 189.5,229.2 190.1,229.1 190.7,229.5 191.3,230.1 191.9,230.9 192.5,230.3 193.1,230.2 193.7,231.9 194.3,231.2 194.9,231.3 195.5,232.7 196.1,232.3 196.7,233.3 197.3,233.9 197.9,232.8 198.5,234.1 199.1,233.8 199.7,234.2 200.3,234.6" fill="none" stroke="#9966ff" stroke-width="1.2" stroke-linejoin="round"/>
<polyline points="199.7,234.2 200.3,234.6 200.9,235.1 201.5,235.5 202.1,235.5 202.7,236.0 203.3,236.2 203.9,236.5 204.5,236.7 205.1,237.5 205.7,237.5 206.3,237.8 206.9,237.9 207.5,238.3 208.1,238.3 208.7,238.8 209.3,238.9 209.9,239.2 210.5,239.2 211.1,239.8 211.7,239.6 212.3,239.9 212.9,240.6 213.5,240.6 214.1,240.6 214.7,240.9 215.3,241.0 215.9,241.0 216.5,241.0 217.1,241.3 217.7,241.6 218.3,241.4 218.9,241.5 219.5,242.0 220.1,241.9 220.7,241.6 221.3,241.7 221.9,242.0 222.5,241.7 223.1,242.0 223.7,241.8 224.3,241.5 224.9,241.6 225.5,241.7 226.1,241.5 226.7,241.9 227.3,241.9 227.9,241.8 228.5,241.9 229.1,241.6 229.7,241.4 230.3,241.9 230.9,241.8 231.5,241.5 232.1,241.5 232.7,241.8 233.3,241.5 233.9,241.4 234.5,241.5 235.1,241.8 235.7,241.7 236.3,241.4 236.9,241.4 237.5,241.6 238.1,241.6 238.7,241.4 239.3,241.5 239.9,242.0 240.5,241.8 241.1,241.6 241.7,242.1 242.3,242.0 242.9,242.1 243.5,242.2 244.1,241.9 244.7,242.1 245.3,242.0 245.9,242.2 246.5,242.1 247.1,242.6 247.7,242.6 248.3,242.5 248.9,242.5 249.5,242.8 250.1,242.7 250.7,242.6 251.3,242.6 251.9,242.8 252.5,242.9 253.1,243.0 253.7,243.2 254.3,243.1 254.9,243.2 255.5,243.0 256.1,243.3 256.7,243.0 257.3,243.6 257.9,243.2 258.5,243.4 259.1,243.7 259.7,243.8 260.3,244.0 260.9,243.8 261.5,244.3 262.1,244.2 262.7,244.5 263.3,244.6 263.9,244.2 264.5,244.3 265.1,244.8 265.7,244.5 266.3,244.6 266.9,244.6 267.5,244.5 268.1,244.7 268.7,244.7 269.3,245.1 269.9,245.1 270.5,244.7 271.1,245.2 271.7,245.1 272.3,244.9 272.9,245.0 273.5,245.3 274.1,244.7 274.7,244.8 275.3,244.7 275.9,245.3 276.5,244.9 277.1,245.2 277.7,244.9 278.3,245.2 278.9,244.9 279.5,244.9 280.1,244.8 280.7,244.9 281.3,244.8 281.9,244.6 282.5,244.5 283.1,244.4 283.7,244.7 284.3,244.8 284.9,244.6 285.5,244.3 286.1,244.3 286.7,243.9 287.3,243.8 287.9,243.8 288.5,243.5 289.1,243.1 289.7,243.2 290.3,242.7 290.9,242.5 291.5,242.0 292.1,241.8 292.7,241.2 293.3,240.8 293.9,240.1 294.5,240.2 295.1,239.3 295.7,239.3 296.3,238.9 296.9,238.1 297.5,237.7 298.1,237.4 298.7,237.2 299.3,236.9 299.9,236.6 300.5,236.7 301.1,235.9 301.7,236.0 302.3,236.0 302.9,236.6 303.5,236.3 304.1,236.9 304.7,237.3 305.3,237.6 305.9,238.0 306.5,238.7 307.1,239.0 307.7,239.4 308.3,239.2 308.9,239.5 309.5,239.8 310.1,240.6 310.7,240.6 311.3,240.0 311.9,239.6 312.5,239.1 313.1,238.0 313.7,236.1 314.3,230.2 314.9,221.0 315.5,213.9 316.1,208.4 316.7,204.1 317.3,200.2 317.9,197.0 318.5,194.4 319.1,192.2" fill="none" stroke="#9371d7" stroke-width="1.0" stroke-linejoin="round"/>
<polyline points="62.3,109.4 62.9,107.0 63.5,115.1 64.1,115.6 64.7,117.2 65.3,112.1 65.9,112.3 66.5,111.0 67.1,113.3 67.7,112.9 68.3,111.1 68.9,110.9 69.5,110.5 70.1,109.7 70.7,104.9 71.3,105.7 71.9,105.2 72.5,112.1 73.1,112.9 73.7,112.5 74.3,114.2 74.9,120.9" fill="none" stroke="#906eff" stroke-width="1.4" stroke-linejoin="round"/>
<polyline points="74.9,120.9 75.5,129.5 76.1,146.0 76.7,153.0 77.3,161.1 77.9,164.7 78.5,169.0 79.1,171.6 79.7,172.8 80.3,176.7 80.9,176.9 81.5,178.4 82.1,181.5 82.7,183.7 83.3,184.0 83.9,186.0 84.5,187.8 85.1,187.9 85.7,189.3 86.3,191.4 86.9,192.5 87.5,192.4 88.1,192.8 88.7,194.4 89.3,195.1 89.9,196.9 90.5,196.3 91.1,197.8 91.7,199.1 92.3,200.2 92.9,199.7 93.5,200.0 94.1,200.7 94.7,201.5 95.3,202.7 95.9,201.6 96.5,203.7 97.1,203.8 97.7,202.5 98.3,203.5 98.9,205.3 99.5,208.9 100.1,206.2" fill="none" stroke="#906eff" stroke-width="1.05" stroke-linejoin="round"/>
<polyline points="100.1,206.2 100.7,206.3 101.3,208.3 101.9,210.0 102.5,207.6 103.1,207.0 103.7,206.1 104.3,205.6 104.9,205.2 105.5,205.7 106.1,206.5 106.7,206.8 107.3,205.9 107.9,206.4 108.5,206.3 109.1,206.1 109.7,205.8 110.3,206.2 110.9,205.8 111.5,205.8 112.1,205.4 112.7,204.3 113.3,205.0 113.9,204.9 114.5,204.2 115.1,205.3 115.7,205.1 116.3,204.3 116.9,204.1 117.5,202.9 118.1,203.2 118.7,202.5 119.3,201.4 119.9,202.3 120.5,201.8 121.1,201.7 121.7,201.2 122.3,202.2 122.9,201.0 123.5,201.5 124.1,200.7 124.7,200.8 125.3,201.0 125.9,202.2 126.5,201.3 127.1,202.6 127.7,202.0 128.3,202.2 128.9,201.9 129.5,202.3 130.1,202.3 130.7,203.2 131.3,202.8 131.9,204.0 132.5,202.8 133.1,203.2 133.7,204.7 134.3,205.6 134.9,204.9 135.5,206.3 136.1,207.3 136.7,207.5 137.3,208.4 137.9,208.0 138.5,208.3 139.1,208.1 139.7,208.5 140.3,210.0 140.9,209.9 141.5,210.4 142.1,209.7 142.7,210.2 143.3,210.0 143.9,211.1 144.5,210.8 145.1,211.4 145.7,212.0 146.3,212.9 146.9,213.1 147.5,212.9 148.1,212.1 148.7,213.7 149.3,213.5 149.9,213.6 150.5,214.9 151.1,214.1 151.7,215.3 152.3,215.5 152.9,215.1 153.5,215.7 154.1,216.2 154.7,215.8 155.3,216.2 155.9,217.1 156.5,217.4 157.1,217.8 157.7,217.5 158.3,217.6 158.9,218.3 159.5,219.7 160.1,219.3 160.7,220.1 161.3,219.9 161.9,221.4 162.5,222.1 163.1,222.5 163.7,222.1 164.3,222.2 164.9,223.2 165.5,223.5 166.1,223.0 166.7,223.0 167.3,224.9 167.9,225.1 168.5,224.5 169.1,224.0 169.7,224.9 170.3,224.8 170.9,225.3 171.5,224.7 172.1,225.0 172.7,225.6 173.3,225.8 173.9,225.0 174.5,225.4 175.1,226.2 175.7,226.0 176.3,225.2 176.9,225.7 177.5,226.3 178.1,225.3 178.7,226.9 179.3,226.7 179.9,226.0 180.5,225.6 181.1,227.0 181.7,225.7 182.3,226.7 182.9,227.1 183.5,226.0 184.1,227.7 184.7,226.4 185.3,228.4 185.9,227.8 186.5,228.2 187.1,228.9 187.7,229.3 188.3,228.1 188.9,228.1 189.5,229.9 190.1,229.1 190.7,229.8 191.3,230.6 191.9,231.0 192.5,230.8 193.1,231.9 193.7,232.1 194.3,231.1 194.9,232.6 195.5,232.3 196.1,231.9 196.7,232.6 197.3,232.8 197.9,234.1 198.5,234.5 199.1,233.7 199.7,234.2 200.3,234.5" fill="none" stroke="#906eff" stroke-width="1.2" stroke-linejoin="round"/>
<polyline points="199.7,234.2 200.3,234.5 200.9,234.9 201.5,235.4 202.1,235.6 202.7,236.4 203.3,236.7 203.9,236.6 204.5,236.8 205.1,237.2 205.7,237.7 206.3,237.8 206.9,238.2 207.5,238.3 208.1,238.5 208.7,238.7 209.3,239.3 209.9,239.2 210.5,239.3 211.1,239.8 211.7,240.1 212.3,240.0 212.9,240.6 213.5,240.3 214.1,241.0 214.7,240.9 215.3,240.8 215.9,241.0 216.5,241.4 217.1,241.6 217.7,241.6 218.3,241.9 218.9,241.9 219.5,241.7 220.1,241.5 220.7,241.9 221.3,241.9 221.9,241.8 222.5,241.6 223.1,241.9 223.7,242.1 224.3,241.9 224.9,241.5 225.5,241.8 226.1,241.9 226.7,241.9 227.3,241.6 227.9,241.7 228.5,241.8 229.1,241.5 229.7,241.4 230.3,241.9 230.9,241.5 231.5,241.6 232.1,241.7 232.7,241.4 233.3,241.9 233.9,241.5 234.5,241.8 235.1,241.9 235.7,241.4 236.3,241.8 236.9,241.6 237.5,241.5 238.1,241.6 238.7,241.8 239.3,241.9 239.9,242.1 240.5,241.7 241.1,242.0 241.7,242.0 242.3,241.8 242.9,242.0 243.5,241.9 244.1,242.2 244.7,242.0 245.3,242.1 245.9,242.4 246.5,242.1 247.1,242.1 247.7,242.6 248.3,242.7 248.9,242.5 249.5,242.6 250.1,242.5 250.7,242.8 251.3,242.5 251.9,242.7 252.5,242.7 253.1,242.8 253.7,243.2 254.3,243.3 254.9,243.1 255.5,242.9 256.1,243.1 256.7,243.5 257.3,243.4 257.9,243.8 258.5,243.5 259.1,243.8 259.7,243.7 260.3,244.2 260.9,244.3 261.5,244.3 262.1,244.3 262.7,244.6 263.3,244.2 263.9,244.7 264.5,244.2 265.1,244.5 265.7,244.7 266.3,244.8 266.9,244.6 267.5,244.9 268.1,244.9 268.7,244.9 269.3,244.8 269.9,245.1 270.5,245.3 271.1,245.1 271.7,244.7 272.3,244.8 272.9,245.3 273.5,244.9 274.1,245.3 274.7,244.8 275.3,244.8 275.9,245.3 276.5,245.1 277.1,245.2 277.7,245.3 278.3,244.7 278.9,244.8 279.5,244.7 280.1,244.7 280.7,244.6 281.3,244.6 281.9,244.6 282.5,244.5 283.1,244.6 283.7,244.8 284.3,244.6 284.9,244.1 285.5,244.1 286.1,244.0 286.7,244.1 287.3,243.7 287.9,243.6 288.5,243.2 289.1,243.0 289.7,243.1 290.3,242.7 290.9,242.6 291.5,242.1 292.1,241.5 292.7,240.8 293.3,240.9 293.9,240.1 294.5,239.9 295.1,239.5 295.7,239.1 296.3,238.8 296.9,238.5 297.5,237.8 298.1,238.0 298.7,237.3 299.3,237.3 299.9,236.9 300.5,236.6 301.1,236.0 301.7,236.3 302.3,236.0 302.9,236.3 303.5,236.3 304.1,236.7 304.7,237.5 305.3,237.9 305.9,238.3 306.5,238.3 307.1,238.9 307.7,239.3 308.3,239.8 308.9,239.7 309.5,240.1 310.1,240.3 310.7,240.7 311.3,240.3 311.9,239.9 312.5,239.5 313.1,237.9 313.7,236.1 314.3,230.3 314.9,221.2 315.5,213.9 316.1,208.0 316.7,203.8 317.3,199.8 317.9,196.9 318.5,194.5 319.1,192.4" fill="none" stroke="#8e77d8" stroke-width="1.0" stroke-linejoin="round"/>
<polyline points="62.3,112.0 62.9,112.0 63.5,110.8 64.1,114.9 64.7,115.5 65.3,117.2 65.9,116.9 66.5,117.1 67.1,114.9 67.7,112.9 68.3,112.8 68.9,108.5 69.5,106.7 70.1,107.1 70.7,108.3 71.3,104.2 71.9,110.5 72.5,115.3 73.1,117.1 73.7,116.5 74.3,117.6 74.9,122.1" fill="none" stroke="#8877ff" stroke-width="1.4" stroke-linejoin="round"/>
<polyline points="74.9,122.1 75.5,131.3 76.1,147.3 76.7,154.7 77.3,162.3 77.9,165.6 78.5,170.7 79.1,172.9 79.7,175.4 80.3,176.9 80.9,180.1 81.5,181.6 82.1,181.7 82.7,182.9 83.3,185.7 83.9,186.3 84.5,188.6 85.1,187.7 85.7,189.2 86.3,190.3 86.9,191.3 87.5,192.3 88.1,193.2 88.7,194.2 89.3,194.8 89.9,196.6 90.5,197.5 91.1,197.8 91.7,199.0 92.3,198.6 92.9,201.3 93.5,200.2 94.1,201.9 94.7,201.4 95.3,203.5 95.9,202.0 96.5,201.9 97.1,203.0 97.7,202.7 98.3,206.3 98.9,208.1 99.5,208.0 100.1,206.9" fill="none" stroke="#8877ff" stroke-width="1.05" stroke-linejoin="round"/>
<polyline points="100.1,206.9 100.7,207.8 101.3,209.3 101.9,210.6 102.5,209.6 103.1,207.6 103.7,205.7 104.3,205.6 104.9,205.3 105.5,206.5 106.1,206.5 106.7,206.2 107.3,206.8 107.9,206.6 108.5,205.7 109.1,206.1 109.7,206.5 110.3,205.9 110.9,206.4 111.5,206.5 112.1,206.4 112.7,205.5 113.3,205.3 113.9,205.5 114.5,205.7 115.1,206.1 115.7,205.2 116.3,205.0 116.9,204.9 117.5,203.8 118.1,203.8 118.7,202.8 119.3,202.5 119.9,202.0 120.5,201.5 121.1,201.6 121.7,202.8 122.3,201.5 122.9,201.3 123.5,202.1 124.1,202.0 124.7,201.6 125.3,201.5 125.9,201.2 126.5,201.2 127.1,201.3 127.7,201.9 128.3,202.5 128.9,202.6 129.5,203.1 130.1,203.6 130.7,203.2 131.3,202.9 131.9,204.3 132.5,203.3 133.1,204.6 133.7,204.4 134.3,205.5 134.9,206.8 135.5,205.7 136.1,207.6 136.7,206.8 137.3,208.4 137.9,208.2 138.5,208.8 139.1,208.9 139.7,210.1 140.3,209.7 140.9,210.1 141.5,210.3 142.1,210.5 142.7,210.4 143.3,210.9 143.9,212.1 144.5,211.7 145.1,211.9 145.7,212.5 146.3,213.2 146.9,212.2 147.5,213.6 148.1,213.9 148.7,213.1 149.3,213.2 149.9,214.9 150.5,214.0 151.1,213.9 151.7,214.3 152.3,214.9 152.9,214.7 153.5,215.5 154.1,216.2 154.7,216.8 155.3,217.3 155.9,217.6 156.5,218.0 157.1,217.4 157.7,218.4 158.3,218.5 158.9,217.8 159.5,218.4 160.1,218.8 160.7,219.4 161.3,219.9 161.9,220.7 162.5,221.0 163.1,221.6 163.7,222.0 164.3,223.2 164.9,222.9 165.5,222.9 166.1,224.6 166.7,224.0 167.3,225.3 167.9,225.0 168.5,224.3 169.1,224.3 169.7,225.7 170.3,224.8 170.9,224.4 171.5,225.6 172.1,224.5 172.7,224.7 173.3,226.0 173.9,225.2 174.5,226.2 175.1,225.9 175.7,225.1 176.3,226.7 176.9,225.7 177.5,226.5 178.1,226.4 178.7,226.0 179.3,227.0 179.9,225.6 180.5,226.1 181.1,227.3 181.7,226.0 182.3,226.5 182.9,227.3 183.5,226.5 184.1,226.8 184.7,226.9 185.3,228.0 185.9,227.9 186.5,228.0 187.1,229.0 187.7,228.8 188.3,228.1 188.9,229.9 189.5,229.6 190.1,230.2 190.7,230.0 191.3,231.1 191.9,230.3 192.5,230.7 193.1,231.2 193.7,231.1 194.3,231.7 194.9,232.8 195.5,232.8 196.1,232.1 196.7,233.4 197.3,232.5 197.9,233.0 198.5,233.7 199.1,234.5 199.7,233.9 200.3,234.9" fill="none" stroke="#8877ff" stroke-width="1.2" stroke-linejoin="round"/>
<polyline points="199.7,233.9 200.3,234.9 200.9,235.3 201.5,235.8 202.1,235.8 202.7,236.5 203.3,236.4 203.9,237.0 204.5,237.2 205.1,237.5 205.7,237.6 206.3,237.7 206.9,238.1 207.5,238.4 208.1,238.7 208.7,238.6 209.3,239.1 209.9,239.6 210.5,239.8 211.1,239.8 211.7,240.0 212.3,240.5 212.9,240.7 213.5,240.5 214.1,240.8 214.7,241.0 215.3,241.1 215.9,241.1 216.5,241.5 217.1,241.5 217.7,241.6 218.3,241.5 218.9,242.0 219.5,241.8 220.1,242.0 220.7,241.9 221.3,241.6 221.9,242.1 222.5,241.9 223.1,241.6 223.7,241.8 224.3,241.6 224.9,242.1 225.5,241.8 226.1,241.6 226.7,242.0 227.3,241.8 227.9,241.6 228.5,241.8 229.1,241.5 229.7,241.9 230.3,241.6 230.9,241.9 231.5,241.4 232.1,241.6 232.7,241.7 233.3,241.9 233.9,241.4 234.5,242.0 235.1,241.4 235.7,241.5 236.3,241.7 236.9,241.7 237.5,241.7 238.1,241.5 238.7,241.9 239.3,241.9 239.9,241.9 240.5,242.1 241.1,241.9 241.7,241.9 242.3,241.9 242.9,242.3 243.5,241.9 244.1,242.5 244.7,242.5 245.3,242.3 245.9,242.3 246.5,242.4 247.1,242.7 247.7,242.8 248.3,242.4 248.9,242.8 249.5,242.9 250.1,242.6 250.7,242.7 251.3,242.5 251.9,242.7 252.5,242.9 253.1,243.0 253.7,243.1 254.3,243.2 254.9,243.0 255.5,243.1 256.1,243.1 256.7,243.3 257.3,243.3 257.9,243.6 258.5,243.4 259.1,243.9 259.7,243.6 260.3,244.2 260.9,244.3 261.5,244.3 262.1,244.6 262.7,244.2 263.3,244.4 263.9,244.3 264.5,244.5 265.1,244.5 265.7,244.9 266.3,244.7 266.9,244.4 267.5,244.6 268.1,244.9 268.7,245.1 269.3,245.0 269.9,245.3 270.5,245.2 271.1,245.2 271.7,245.1 272.3,244.9 272.9,244.7 273.5,245.0 274.1,245.1 274.7,245.2 275.3,245.1 275.9,245.0 276.5,244.8 277.1,245.0 277.7,245.3 278.3,245.0 278.9,245.1 279.5,245.2 280.1,244.7 280.7,244.7 281.3,244.9 281.9,244.5 282.5,244.6 283.1,244.8 283.7,244.8 284.3,244.3 284.9,244.1 285.5,244.5 286.1,244.0 286.7,243.9 287.3,243.8 287.9,243.7 288.5,243.3 289.1,243.3 289.7,243.2 290.3,242.7 290.9,242.4 291.5,241.8 292.1,241.8 292.7,240.8 293.3,240.8 293.9,240.3 294.5,240.0 295.1,239.3 295.7,239.4 296.3,238.7 296.9,238.4 297.5,237.7 298.1,237.6 298.7,237.6 299.3,236.8 299.9,236.7 300.5,236.3 301.1,236.1 301.7,236.2 302.3,236.5 302.9,236.4 303.5,236.8 304.1,237.0 304.7,237.5 305.3,237.5 305.9,238.3 306.5,238.6 307.1,239.2 307.7,238.9 308.3,239.2 308.9,239.5 309.5,239.8 310.1,240.2 310.7,240.6 311.3,240.0 311.9,239.4 312.5,239.4 313.1,238.0 313.7,236.3 314.3,230.2 314.9,220.6 315.5,213.7 316.1,207.9 316.7,203.6 317.3,200.1 317.9,196.9 318.5,193.9 319.1,192.0" fill="none" stroke="#897ed9" stroke-width="1.0" stroke-linejoin="round"/>
<polyline points="62.3,111.5 62.9,112.6 63.5,118.0 64.1,115.5 64.7,119.1 65.3,115.3 65.9,118.1 66.5,119.4 67.1,114.2 67.7,111.1 68.3,113.9 68.9,116.2 69.5,113.0 70.1,109.8 70.7,109.6 71.3,108.0 71.9,110.0 72.5,116.7 73.1,118.3 73.7,117.0 74.3,120.1 74.9,124.1" fill="none" stroke="#8080ff" stroke-width="1.4" stroke-linejoin="round"/>
<polyline points="74.9,124.1 75.5,131.7 76.1,148.3 76.7,155.9 77.3,162.9 77.9,167.6 78.5,171.6 79.1,174.5 79.7,176.4 80.3,178.0 80.9,180.6 81.5,182.6 82.1,182.9 82.7,184.2 83.3,186.9 83.9,186.4 84.5,188.6 85.1,188.6 85.7,191.3 86.3,192.9 86.9,194.1 87.5,193.8 88.1,195.9 88.7,196.2 89.3,196.0 89.9,196.3 90.5,198.4 91.1,198.6 91.7,200.5 92.3,201.2 92.9,200.9 93.5,201.5 94.1,200.9 94.7,201.9 95.3,203.5 95.9,203.1 96.5,203.0 97.1,203.9 97.7,204.2 98.3,205.5 98.9,207.5 99.5,209.3 100.1,209.0" fill="none" stroke="#8080ff" stroke-width="1.05" stroke-linejoin="round"/>
<polyline points="100.1,209.0 100.7,208.5 101.3,209.2 101.9,209.7 102.5,210.2 103.1,208.4 103.7,206.1 104.3,206.9 104.9,206.4 105.5,206.0 106.1,207.2 106.7,206.2 107.3,207.3 107.9,206.9 108.5,206.4 109.1,206.3 109.7,206.1 110.3,205.7 110.9,205.7 111.5,205.7 112.1,205.4 112.7,205.7 113.3,205.4 113.9,206.3 114.5,205.7 115.1,205.0 115.7,205.3 116.3,204.4 116.9,204.8 117.5,203.8 118.1,204.3 118.7,202.5 119.3,202.3 119.9,203.0 120.5,202.0 121.1,201.6 121.7,202.4 122.3,202.9 122.9,202.0 123.5,202.1 124.1,201.2 124.7,202.7 125.3,203.0 125.9,201.3 126.5,201.7 127.1,201.9 127.7,203.2 128.3,203.6 128.9,203.7 129.5,202.5 130.1,202.9 130.7,203.7 131.3,203.1 131.9,204.4 132.5,203.9 133.1,204.2 133.7,204.6 134.3,206.5 134.9,205.5 135.5,207.6 136.1,206.5 136.7,208.3 137.3,207.9 137.9,209.5 138.5,209.9 139.1,210.2 139.7,209.3 140.3,209.2 140.9,211.2 141.5,210.8 142.1,210.4 142.7,211.2 143.3,212.2 143.9,211.1 144.5,212.2 145.1,211.4 145.7,212.3 146.3,213.1 146.9,212.9 147.5,213.7 148.1,213.4 148.7,213.9 149.3,213.9 149.9,214.4 150.5,214.5 151.1,214.5 151.7,214.6 152.3,215.8 152.9,215.2 153.5,215.2 154.1,217.1 154.7,215.9 155.3,216.1 155.9,217.3 156.5,217.3 157.1,218.2 157.7,218.2 158.3,218.6 158.9,219.1 159.5,218.5 160.1,220.0 160.7,219.9 161.3,221.0 161.9,221.3 162.5,221.0 163.1,221.7 163.7,222.6 164.3,222.2 164.9,223.5 165.5,223.0 166.1,224.1 166.7,225.2 167.3,225.4 167.9,225.2 168.5,224.3 169.1,225.0 169.7,224.9 170.3,224.8 170.9,226.0 171.5,225.2 172.1,225.1 172.7,226.1 173.3,225.1 173.9,226.1 174.5,225.5 175.1,226.1 175.7,225.8 176.3,226.8 176.9,225.6 177.5,226.9 178.1,225.5 178.7,225.5 179.3,227.3 179.9,226.3 180.5,226.6 181.1,226.0 181.7,227.5 182.3,226.7 182.9,227.4 183.5,227.3 184.1,226.7 184.7,227.7 185.3,227.3 185.9,228.2 186.5,228.2 187.1,227.6 187.7,228.3 188.3,228.2 188.9,228.8 189.5,229.9 190.1,228.8 190.7,229.5 191.3,230.9 191.9,229.9 192.5,230.5 193.1,230.9 193.7,231.8 194.3,232.7 194.9,232.1 195.5,232.5 196.1,233.5 196.7,233.4 197.3,233.0 197.9,234.2 198.5,233.7 199.1,233.7 199.7,234.2 200.3,234.9" fill="none" stroke="#8080ff" stroke-width="1.2" stroke-linejoin="round"/>
<polyline points="199.7,234.2 200.3,234.9 200.9,235.3 201.5,235.5 202.1,236.1 202.7,236.2 203.3,236.8 203.9,237.1 204.5,237.4 205.1,237.8 205.7,237.6 206.3,237.7 206.9,238.1 207.5,238.5 208.1,238.5 208.7,239.1 209.3,239.2 209.9,239.2 210.5,239.4 211.1,239.9 211.7,240.3 212.3,240.0 212.9,240.7 213.5,240.7 214.1,241.1 214.7,241.1 215.3,240.9 215.9,241.5 216.5,241.4 217.1,241.8 217.7,241.6 218.3,241.5 218.9,242.2 219.5,241.8 220.1,241.8 220.7,242.2 221.3,242.2 221.9,242.1 222.5,242.1 223.1,242.0 223.7,241.9 224.3,241.7 224.9,241.7 225.5,242.1 226.1,242.0 226.7,241.7 227.3,241.6 227.9,241.6 228.5,241.6 229.1,241.5 229.7,241.6 230.3,241.4 230.9,242.0 231.5,242.0 232.1,241.6 232.7,241.7 233.3,241.6 233.9,241.5 234.5,241.9 235.1,241.6 235.7,242.0 236.3,241.7 236.9,241.6 237.5,241.7 238.1,241.9 238.7,241.8 239.3,241.7 239.9,242.1 240.5,242.0 241.1,241.8 241.7,242.2 242.3,241.8 242.9,242.1 243.5,242.2 244.1,242.0 244.7,242.2 245.3,242.6 245.9,242.5 246.5,242.3 247.1,242.3 247.7,242.7 248.3,242.6 248.9,242.4 249.5,243.0 250.1,242.6 250.7,243.0 251.3,243.0 251.9,242.6 252.5,242.9 253.1,243.2 253.7,243.1 254.3,242.9 254.9,243.0 255.5,243.2 256.1,243.0 256.7,243.3 257.3,243.6 257.9,243.3 258.5,243.9 259.1,243.8 259.7,244.1 260.3,244.1 260.9,244.1 261.5,243.9 262.1,244.1 262.7,244.2 263.3,244.5 263.9,244.5 264.5,244.3 265.1,244.3 265.7,244.7 266.3,244.9 266.9,244.9 267.5,244.9 268.1,244.6 268.7,244.7 269.3,245.1 269.9,245.0 270.5,244.9 271.1,245.0 271.7,245.3 272.3,244.8 272.9,245.1 273.5,245.3 274.1,244.9 274.7,245.3 275.3,244.8 275.9,244.9 276.5,244.7 277.1,244.9 277.7,245.0 278.3,245.0 278.9,245.2 279.5,244.8 280.1,244.6 280.7,244.8 281.3,244.8 281.9,244.5 282.5,244.8 283.1,244.9 283.7,244.5 284.3,244.6 284.9,244.6 285.5,244.4 286.1,244.1 286.7,243.6 287.3,243.5 287.9,243.5 288.5,243.5 289.1,243.1 289.7,242.8 290.3,243.1 290.9,242.6 291.5,242.0 292.1,241.7 292.7,241.3 293.3,240.9 293.9,240.1 294.5,239.7 295.1,239.8 295.7,239.0 296.3,238.5 296.9,238.4 297.5,238.0 298.1,237.6 298.7,237.3 299.3,237.2 299.9,236.6 300.5,236.7 301.1,236.0 301.7,236.3 302.3,236.1 302.9,236.7 303.5,236.3 304.1,236.7 304.7,237.0 305.3,237.9 305.9,238.0 306.5,238.4 307.1,238.7 307.7,239.1 308.3,239.7 308.9,239.9 309.5,240.0 310.1,240.1 310.7,240.3 311.3,240.0 311.9,239.5 312.5,239.3 313.1,238.2 313.7,235.8 314.3,230.3 314.9,221.1 315.5,213.6 316.1,208.1 316.7,203.7 317.3,200.2 317.9,197.0 318.5,194.3 319.1,192.3" fill="none" stroke="#8484da" stroke-width="1.0" stroke-linejoin="round"/>
<polyline points="62.3,116.8 62.9,114.4 63.5,120.0 64.1,121.6 64.7,117.1 65.3,120.1 65.9,121.2 66.5,120.0 67.1,119.9 67.7,113.7 68.3,116.2 68.9,115.1 69.5,113.0 70.1,113.2 70.7,109.4 71.3,111.8 71.9,111.8 72.5,114.3 73.1,114.5 73.7,118.0 74.3,121.8 74.9,123.4" fill="none" stroke="#7788ff" stroke-width="1.4" stroke-linejoin="round"/>
<polyline points="74.9,123.4 75.5,133.2 76.1,147.1 76.7,157.9 77.3,163.9 77.9,168.0 78.5,173.4 79.1,173.8 79.7,175.8 80.3,179.8 80.9,180.4 81.5,182.3 82.1,184.8 82.7,185.8 83.3,187.5 83.9,189.3 84.5,188.6 85.1,190.3 85.7,190.3 86.3,193.5 86.9,194.6 87.5,195.4 88.1,195.0 88.7,196.9 89.3,197.2 89.9,197.9 90.5,198.6 91.1,198.3 91.7,199.4 92.3,199.6 92.9,201.7 93.5,202.7 94.1,201.4 94.7,203.5 95.3,202.4 95.9,202.6 96.5,203.4 97.1,205.0 97.7,203.6 98.3,205.3 98.9,208.8 99.5,208.7 100.1,209.3" fill="none" stroke="#7788ff" stroke-width="1.05" stroke-linejoin="round"/>
<polyline points="100.1,209.3 100.7,209.0 101.3,209.9 101.9,210.7 102.5,210.4 103.1,209.1 103.7,206.7 104.3,205.9 104.9,206.6 105.5,207.0 106.1,207.8 106.7,207.6 107.3,207.3 107.9,207.6 108.5,206.8 109.1,207.7 109.7,207.3 110.3,206.3 110.9,206.7 111.5,206.1 112.1,205.9 112.7,206.9 113.3,206.5 113.9,206.1 114.5,206.6 115.1,206.6 115.7,204.8 116.3,204.4 116.9,205.5 117.5,203.7 118.1,203.5 118.7,203.6 119.3,202.8 119.9,203.8 120.5,202.8 121.1,202.9 121.7,203.3 122.3,202.4 122.9,203.0 123.5,203.3 124.1,202.9 124.7,202.6 125.3,202.9 125.9,201.6 126.5,203.3 127.1,203.0 127.7,202.1 128.3,202.9 128.9,203.3 129.5,202.8 130.1,202.8 130.7,203.9 131.3,204.6 131.9,203.9 132.5,204.8 133.1,204.4 133.7,206.0 134.3,206.8 134.9,206.7 135.5,206.9 136.1,206.8 136.7,208.8 137.3,208.3 137.9,209.7 138.5,208.6 139.1,209.5 139.7,210.5 140.3,209.7 140.9,209.8 141.5,210.5 142.1,211.6 142.7,211.3 143.3,212.0 143.9,212.5 144.5,211.6 145.1,212.0 145.7,212.6 146.3,212.5 146.9,213.7 147.5,213.2 148.1,214.1 148.7,214.5 149.3,214.8 149.9,215.2 150.5,215.2 151.1,214.9 151.7,214.6 152.3,215.3 152.9,216.3 153.5,217.1 154.1,215.6 154.7,216.2 155.3,216.3 155.9,216.6 156.5,217.0 157.1,217.9 157.7,218.1 158.3,219.5 158.9,218.1 159.5,219.9 160.1,219.8 160.7,219.8 161.3,221.3 161.9,222.2 162.5,221.0 163.1,223.2 163.7,222.1 164.3,222.7 164.9,223.4 165.5,223.3 166.1,223.8 166.7,224.7 167.3,225.5 167.9,224.7 168.5,225.9 169.1,226.1 169.7,225.1 170.3,225.8 170.9,224.9 171.5,225.2 172.1,226.2 172.7,224.9 173.3,226.3 173.9,226.7 174.5,226.4 175.1,226.6 175.7,225.3 176.3,225.4 176.9,226.2 177.5,226.4 178.1,226.8 178.7,226.0 179.3,225.7 179.9,226.4 180.5,227.3 181.1,226.6 181.7,226.1 182.3,227.1 182.9,227.2 183.5,227.1 184.1,228.2 184.7,228.4 185.3,227.0 185.9,228.7 186.5,228.5 187.1,228.9 187.7,228.3 188.3,229.5 188.9,230.1 189.5,229.7 190.1,229.1 190.7,230.4 191.3,231.1 191.9,231.3 192.5,231.0 193.1,230.7 193.7,230.9 194.3,232.0 194.9,231.5 195.5,232.4 196.1,233.6 196.7,233.2 197.3,233.0 197.9,233.2 198.5,234.5 199.1,233.6 199.7,234.0 200.3,235.1" fill="none" stroke="#7788ff" stroke-width="1.2" stroke-linejoin="round"/>
<polyline points="199.7,234.0 200.3,235.1 200.9,235.1 201.5,235.4 202.1,236.2 202.7,236.4 203.3,236.4 203.9,237.1 204.5,237.5 205.1,237.3 205.7,237.8 206.3,238.0 206.9,238.2 207.5,238.6 208.1,238.8 208.7,238.8 209.3,239.2 209.9,239.5 210.5,239.8 211.1,240.0 211.7,240.1 212.3,240.4 212.9,240.8 213.5,240.7 214.1,240.6 214.7,241.1 215.3,241.0 215.9,241.5 216.5,241.2 217.1,241.7 217.7,241.6 218.3,242.0 218.9,241.8 219.5,242.1 220.1,241.8 220.7,242.1 221.3,241.9 221.9,241.8 222.5,242.0 223.1,242.0 223.7,241.7 224.3,242.0 224.9,241.9 225.5,241.8 226.1,241.6 226.7,242.1 227.3,242.0 227.9,241.6 228.5,242.0 229.1,242.1 229.7,241.8 230.3,241.7 230.9,241.9 231.5,241.8 232.1,241.7 232.7,241.6 233.3,241.8 233.9,242.0 234.5,242.0 235.1,241.6 235.7,241.5 236.3,242.0 236.9,241.8 237.5,241.5 238.1,241.6 238.7,242.0 239.3,241.6 239.9,241.9 240.5,241.7 241.1,242.3 241.7,241.8 242.3,242.4 242.9,242.2 243.5,242.2 244.1,242.2 244.7,242.5 245.3,242.5 245.9,242.4 246.5,242.6 247.1,242.6 247.7,242.5 248.3,242.9 248.9,242.9 249.5,242.7 250.1,242.9 250.7,242.9 251.3,243.1 251.9,242.9 252.5,243.0 253.1,243.2 253.7,243.0 254.3,243.4 254.9,243.3 255.5,243.2 256.1,243.6 256.7,243.5 257.3,243.8 257.9,243.4 258.5,243.6 259.1,243.9 259.7,243.7 260.3,244.2 260.9,244.1 261.5,244.5 262.1,244.4 262.7,244.1 263.3,244.3 263.9,244.5 264.5,244.4 265.1,244.4 265.7,244.9 266.3,244.7 266.9,244.8 267.5,244.8 268.1,244.8 268.7,245.1 269.3,244.8 269.9,245.2 270.5,245.1 271.1,244.7 271.7,245.1 272.3,244.9 272.9,245.2 273.5,244.9 274.1,245.2 274.7,244.7 275.3,245.1 275.9,244.8 276.5,245.2 277.1,244.9 277.7,245.2 278.3,245.1 278.9,244.8 279.5,244.8 280.1,245.1 280.7,244.8 281.3,244.5 281.9,245.0 282.5,244.8 283.1,244.8 283.7,244.4 284.3,244.5 284.9,244.2 285.5,244.3 286.1,243.9 286.7,244.1 287.3,243.6 287.9,243.6 288.5,243.4 289.1,243.5 289.7,243.2 290.3,242.8 290.9,242.3 291.5,241.8 292.1,241.7 292.7,241.0 293.3,240.8 293.9,240.1 294.5,240.0 295.1,239.7 295.7,239.2 296.3,238.6 296.9,238.5 297.5,238.1 298.1,237.5 298.7,237.6 299.3,237.2 299.9,236.9 300.5,236.3 301.1,235.9 301.7,236.0 302.3,236.4 302.9,236.3 303.5,236.7 304.1,236.6 304.7,237.5 305.3,237.9 305.9,237.8 306.5,238.5 307.1,238.9 307.7,239.4 308.3,239.4 308.9,239.7 309.5,239.9 310.1,240.1 310.7,240.5 311.3,240.1 311.9,239.8 312.5,239.3 313.1,238.4 313.7,235.9 314.3,230.5 314.9,220.7 315.5,214.1 316.1,208.0 316.7,203.7 317.3,199.7 317.9,197.0 318.5,193.9 319.1,192.3" fill="none" stroke="#7f8bdb" stroke-width="1.0" stroke-linejoin="round"/>
<polyline points="62.3,115.7 62.9,119.2 63.5,121.3 64.1,121.8 64.7,119.6 65.3,120.3 65.9,124.8 66.5,121.1 67.1,116.2 67.7,119.1 68.3,117.3 68.9,118.7 69.5,112.7 70.1,110.5 70.7,111.7 71.3,110.2 71.9,116.5 72.5,117.1 73.1,120.6 73.7,118.6 74.3,121.4 74.9,126.0" fill="none" stroke="#6e90ff" stroke-width="1.4" stroke-linejoin="round"/>
<polyline points="74.9,126.0 75.5,134.1 76.1,150.0 76.7,156.8 77.3,164.1 77.9,168.5 78.5,174.1 79.1,176.4 79.7,177.6 80.3,179.3 80.9,182.8 81.5,184.1 82.1,184.9 82.7,187.3 83.3,187.1 83.9,189.4 84.5,189.2 85.1,190.9 85.7,191.1 86.3,192.5 86.9,194.7 87.5,196.3 88.1,196.0 88.7,198.1 89.3,197.8 89.9,198.4 90.5,199.7 91.1,201.2 91.7,201.2 92.3,201.6 92.9,202.4 93.5,201.6 94.1,202.8 94.7,202.7 95.3,203.7 95.9,203.6 96.5,204.4 97.1,204.4 97.7,205.0 98.3,207.1 98.9,209.2 99.5,210.6 100.1,209.1" fill="none" stroke="#6e90ff" stroke-width="1.05" stroke-linejoin="round"/>
<polyline points="100.1,209.1 100.7,208.7 101.3,209.5 101.9,211.7 102.5,210.8 103.1,209.2 103.7,207.9 104.3,207.4 104.9,207.7 105.5,206.7 106.1,207.1 106.7,208.2 107.3,206.5 107.9,207.8 108.5,207.2 109.1,207.4 109.7,207.0 110.3,207.4 110.9,206.7 111.5,207.2 112.1,205.9 112.7,205.9 113.3,207.0 113.9,206.8 114.5,206.2 115.1,206.1 115.7,205.1 116.3,205.4 116.9,205.8 117.5,204.7 118.1,204.2 118.7,203.4 119.3,203.4 119.9,203.8 120.5,203.3 121.1,202.7 121.7,202.9 122.3,203.3 122.9,202.0 123.5,201.9 124.1,203.3 124.7,202.8 125.3,202.2 125.9,203.2 126.5,202.7 127.1,202.1 127.7,203.7 128.3,203.3 128.9,203.7 129.5,202.9 130.1,203.4 130.7,203.8 131.3,204.2 131.9,204.9 132.5,204.4 133.1,205.0 133.7,205.9 134.3,206.3 134.9,206.0 135.5,207.8 136.1,208.4 136.7,207.7 137.3,208.4 137.9,209.9 138.5,210.3 139.1,209.7 139.7,210.6 140.3,210.3 140.9,211.4 141.5,211.3 142.1,211.7 142.7,211.6 143.3,212.9 143.9,212.4 144.5,211.9 145.1,212.1 145.7,212.6 146.3,213.0 146.9,213.8 147.5,214.4 148.1,214.7 148.7,214.8 149.3,213.8 149.9,214.0 150.5,214.7 151.1,215.6 151.7,215.0 152.3,215.3 152.9,216.3 153.5,216.6 154.1,216.3 154.7,216.7 155.3,217.6 155.9,218.0 156.5,217.5 157.1,218.4 157.7,218.5 158.3,219.2 158.9,219.3 159.5,220.0 160.1,219.1 160.7,220.1 161.3,221.7 161.9,220.7 162.5,222.0 163.1,222.6 163.7,223.4 164.3,224.0 164.9,224.7 165.5,223.8 166.1,225.0 166.7,224.3 167.3,224.4 167.9,225.3 168.5,224.6 169.1,225.9 169.7,226.3 170.3,225.4 170.9,224.9 171.5,225.9 172.1,226.3 172.7,226.3 173.3,226.1 173.9,226.6 174.5,225.9 175.1,226.5 175.7,225.7 176.3,226.1 176.9,227.1 177.5,226.0 178.1,225.9 178.7,226.5 179.3,226.3 179.9,226.8 180.5,226.7 181.1,226.8 181.7,227.3 182.3,227.4 182.9,227.8 183.5,226.8 184.1,227.2 184.7,227.4 185.3,228.1 185.9,227.5 186.5,228.7 187.1,227.8 187.7,228.5 188.3,228.8 188.9,229.7 189.5,230.3 190.1,229.2 190.7,230.6 191.3,231.2 191.9,231.4 192.5,230.6 193.1,231.4 193.7,231.8 194.3,231.3 194.9,231.9 195.5,232.3 196.1,233.2 196.7,233.0 197.3,234.0 197.9,233.1 198.5,234.3 199.1,234.4 199.7,235.4 200.3,235.1" fill="none" stroke="#6e90ff" stroke-width="1.2" stroke-linejoin="round"/>
<polyline points="199.7,235.4 200.3,235.1 200.9,235.5 201.5,235.9 202.1,236.2 202.7,236.1 203.3,236.5 203.9,237.0 204.5,237.4 205.1,237.6 205.7,237.9 206.3,238.1 206.9,238.5 207.5,238.7 208.1,238.7 208.7,238.8 209.3,239.4 209.9,239.6 210.5,239.6 211.1,239.8 211.7,239.9 212.3,240.1 212.9,240.7 213.5,240.8 214.1,241.0 214.7,241.0 215.3,241.2 215.9,241.6 216.5,241.5 217.1,241.5 217.7,241.7 218.3,242.0 218.9,241.7 219.5,241.8 220.1,241.9 220.7,242.2 221.3,242.0 221.9,241.9 222.5,241.9 223.1,241.9 223.7,241.8 224.3,241.7 224.9,242.2 225.5,241.6 226.1,242.0 226.7,241.9 227.3,241.6 227.9,241.6 228.5,242.1 229.1,241.7 229.7,241.6 230.3,241.6 230.9,241.5 231.5,241.9 232.1,241.5 232.7,241.9 233.3,241.6 233.9,241.6 234.5,241.8 235.1,241.9 235.7,241.9 236.3,241.5 236.9,241.6 237.5,241.6 238.1,241.6 238.7,241.8 239.3,241.7 239.9,242.2 240.5,242.3 241.1,242.0 241.7,242.4 242.3,242.1 242.9,242.1 243.5,242.5 244.1,242.2 244.7,242.6 245.3,242.6 245.9,242.7 246.5,242.7 247.1,242.6 247.7,242.7 248.3,242.5 248.9,242.5 249.5,242.8 250.1,243.1 250.7,242.8 251.3,242.8 251.9,243.3 252.5,242.8 253.1,243.2 253.7,242.9 254.3,243.1 254.9,243.5 255.5,243.2 256.1,243.6 256.7,243.6 257.3,243.5 257.9,243.4 258.5,243.5 259.1,243.8 259.7,243.9 260.3,244.0 260.9,244.1 261.5,244.1 262.1,244.0 262.7,244.3 263.3,244.6 263.9,244.3 264.5,244.8 265.1,244.8 265.7,244.8 266.3,244.6 266.9,244.8 267.5,244.7 268.1,244.7 268.7,244.8 269.3,244.8 269.9,244.8 270.5,244.8 271.1,244.8 271.7,245.2 272.3,245.1 272.9,245.3 273.5,244.7 274.1,245.1 274.7,244.9 275.3,245.0 275.9,245.3 276.5,245.0 277.1,245.2 277.7,244.7 278.3,245.1 278.9,244.9 279.5,245.0 280.1,244.8 280.7,245.0 281.3,244.6 281.9,244.9 282.5,244.7 283.1,244.8 283.7,244.5 284.3,244.6 284.9,244.4 285.5,244.0 286.1,244.1 286.7,244.0 287.3,243.8 287.9,243.5 288.5,243.6 289.1,243.1 289.7,242.9 290.3,242.6 290.9,242.6 291.5,241.7 292.1,241.5 292.7,241.1 293.3,240.6 293.9,240.1 294.5,239.7 295.1,239.4 295.7,239.0 296.3,238.9 296.9,238.2 297.5,238.0 298.1,238.0 298.7,237.3 299.3,237.2 299.9,237.0 300.5,236.2 301.1,236.0 301.7,236.3 302.3,236.3 302.9,236.2 303.5,236.3 304.1,236.7 304.7,237.5 305.3,237.5 305.9,238.3 306.5,238.6 307.1,239.2 307.7,239.3 308.3,239.4 308.9,239.6 309.5,240.3 310.1,240.2 310.7,240.6 311.3,240.3 311.9,239.9 312.5,239.1 313.1,238.0 313.7,235.8 314.3,230.2 314.9,220.6 315.5,214.0 316.1,208.3 316.7,203.7 317.3,200.1 317.9,196.8 318.5,194.1 319.1,192.0" fill="none" stroke="#7b91db" stroke-width="1.0" stroke-linejoin="round"/>
<polyline points="62.3,115.0 62.9,122.1 63.5,123.1 64.1,121.6 64.7,122.2 65.3,126.2 65.9,124.7 66.5,119.4 67.1,119.4 67.7,116.3 68.3,116.3 68.9,118.7 69.5,114.7 70.1,117.6 70.7,110.6 71.3,116.4 71.9,111.2 72.5,117.9 73.1,119.9 73.7,120.8 74.3,117.7 74.9,126.7" fill="none" stroke="#6699ff" stroke-width="1.4" stroke-linejoin="round"/>
<polyline points="74.9,126.7 75.5,133.4 76.1,149.8 76.7,159.6 77.3,166.3 77.9,170.2 78.5,174.7 79.1,177.9 79.7,178.6 80.3,181.1 80.9,182.3 81.5,184.0 82.1,184.7 82.7,188.2 83.3,187.7 83.9,188.8 84.5,189.6 85.1,191.0 85.7,193.7 86.3,194.0 86.9,193.9 87.5,196.3 88.1,197.6 88.7,196.9 89.3,198.8 89.9,198.5 90.5,199.6 91.1,201.6 91.7,202.3 92.3,202.8 92.9,201.6 93.5,203.2 94.1,203.7 94.7,204.5 95.3,204.4 95.9,205.3 96.5,205.7 97.1,204.4 97.7,204.7 98.3,206.6 98.9,209.9 99.5,211.2 100.1,209.8" fill="none" stroke="#6699ff" stroke-width="1.05" stroke-linejoin="round"/>
<polyline points="100.1,209.8 100.7,208.9 101.3,210.4 101.9,212.5 102.5,211.6 103.1,210.6 103.7,207.5 104.3,207.8 104.9,207.8 105.5,208.0 106.1,207.7 106.7,208.0 107.3,208.1 107.9,206.9 108.5,208.0 109.1,206.7 109.7,208.0 110.3,206.8 110.9,206.8 111.5,206.5 112.1,206.3 112.7,205.9 113.3,206.7 113.9,206.5 114.5,206.0 115.1,207.2 115.7,205.2 116.3,205.6 116.9,205.0 117.5,204.5 118.1,204.7 118.7,204.2 119.3,203.3 119.9,203.5 120.5,204.1 121.1,203.7 121.7,202.5 122.3,204.1 122.9,202.5 123.5,202.9 124.1,202.9 124.7,203.6 125.3,203.5 125.9,203.1 126.5,203.9 127.1,202.9 127.7,203.4 128.3,203.3 128.9,203.1 129.5,204.1 130.1,204.8 130.7,203.2 131.3,204.8 131.9,204.4 132.5,205.6 133.1,204.7 133.7,205.9 134.3,207.3 134.9,207.1 135.5,206.6 136.1,208.8 136.7,208.3 137.3,209.9 137.9,209.6 138.5,210.2 139.1,209.9 139.7,210.9 140.3,211.1 140.9,210.8 141.5,210.9 142.1,211.5 142.7,212.3 143.3,212.4 143.9,213.5 144.5,213.6 145.1,212.8 145.7,212.7 146.3,213.4 146.9,214.4 147.5,214.1 148.1,214.5 148.7,215.3 149.3,214.7 149.9,214.4 150.5,215.0 151.1,215.6 151.7,215.4 152.3,215.9 152.9,217.1 153.5,217.5 154.1,217.3 154.7,217.5 155.3,217.1 155.9,218.0 156.5,218.5 157.1,217.6 157.7,218.4 158.3,219.0 158.9,219.9 159.5,219.2 160.1,219.2 160.7,221.2 161.3,221.4 161.9,220.8 162.5,222.1 163.1,222.6 163.7,222.7 164.3,224.4 164.9,223.4 165.5,223.5 166.1,224.5 166.7,224.6 167.3,226.1 167.9,226.3 168.5,225.4 169.1,225.0 169.7,225.3 170.3,226.2 170.9,226.7 171.5,225.2 172.1,225.4 172.7,226.9 173.3,225.7 173.9,226.8 174.5,226.5 175.1,225.7 175.7,225.6 176.3,227.0 176.9,226.7 177.5,227.4 178.1,225.8 178.7,226.4 179.3,227.0 179.9,226.4 180.5,227.5 181.1,227.5 181.7,227.4 182.3,226.3 182.9,227.9 183.5,227.3 184.1,228.0 184.7,227.7 185.3,228.1 185.9,228.0 186.5,228.5 187.1,228.2 187.7,228.6 188.3,229.1 188.9,228.8 189.5,230.4 190.1,229.3 190.7,229.9 191.3,230.2 191.9,230.3 192.5,232.0 193.1,231.0 193.7,231.2 194.3,231.5 194.9,232.9 195.5,232.3 196.1,232.8 196.7,233.6 197.3,234.3 197.9,233.1 198.5,233.6 199.1,233.9 199.7,235.3 200.3,235.2" fill="none" stroke="#6699ff" stroke-width="1.2" stroke-linejoin="round"/>
<polyline points="199.7,235.3 200.3,235.2 200.9,235.7 201.5,235.5 202.1,235.9 202.7,236.4 203.3,236.8 203.9,237.2 204.5,237.4 205.1,237.6 205.7,237.6 206.3,238.0 206.9,238.1 207.5,238.9 208.1,239.1 208.7,239.1 209.3,239.6 209.9,239.6 210.5,239.7 211.1,240.1 211.7,240.1 212.3,240.7 212.9,240.6 213.5,241.0 214.1,241.1 214.7,241.2 215.3,241.3 215.9,241.2 216.5,241.4 217.1,241.6 217.7,241.7 218.3,241.8 218.9,242.1 219.5,242.1 220.1,241.9 220.7,241.9 221.3,242.3 221.9,242.1 222.5,241.7 223.1,242.0 223.7,242.0 224.3,242.0 224.9,241.8 225.5,242.2 226.1,241.7 226.7,242.1 227.3,241.7 227.9,241.6 228.5,241.6 229.1,242.1 229.7,241.7 230.3,241.8 230.9,241.8 231.5,242.0 232.1,241.6 232.7,241.8 233.3,242.0 233.9,241.9 234.5,241.6 235.1,241.9 235.7,242.0 236.3,241.7 236.9,241.8 237.5,241.9 238.1,241.7 238.7,241.8 239.3,242.0 239.9,242.2 240.5,242.1 241.1,242.0 241.7,242.3 242.3,242.1 242.9,242.0 243.5,242.4 244.1,242.1 244.7,242.6 245.3,242.5 245.9,242.6 246.5,242.5 247.1,242.8 247.7,242.9 248.3,242.7 248.9,242.8 249.5,243.2 250.1,242.9 250.7,242.8 251.3,243.1 251.9,242.9 252.5,242.8 253.1,243.0 253.7,242.9 254.3,243.0 254.9,243.3 255.5,243.3 256.1,243.6 256.7,243.3 257.3,243.5 257.9,243.5 258.5,243.6 259.1,244.0 259.7,244.0 260.3,244.1 260.9,244.3 261.5,244.0 262.1,244.2 262.7,244.4 263.3,244.3 263.9,244.3 264.5,244.8 265.1,244.4 265.7,244.9 266.3,244.8 266.9,244.6 267.5,244.5 268.1,244.7 268.7,244.9 269.3,245.2 269.9,245.0 270.5,245.2 271.1,245.0 271.7,245.1 272.3,244.7 272.9,245.1 273.5,244.9 274.1,245.2 274.7,244.7 275.3,244.8 275.9,245.2 276.5,244.8 277.1,245.1 277.7,245.3 278.3,245.1 278.9,244.9 279.5,244.9 280.1,245.1 280.7,244.5 281.3,245.0 281.9,244.8 282.5,244.9 283.1,244.8 283.7,244.6 284.3,244.7 284.9,244.5 285.5,243.9 286.1,243.9 286.7,244.1 287.3,243.9 287.9,243.6 288.5,243.6 289.1,243.0 289.7,243.4 290.3,243.0 290.9,242.6 291.5,242.2 292.1,241.3 292.7,241.1 293.3,240.5 293.9,240.4 294.5,239.9 295.1,239.3 295.7,239.4 296.3,238.4 296.9,238.4 297.5,237.9 298.1,237.8 298.7,237.3 299.3,237.0 299.9,236.8 300.5,236.4 301.1,236.1 301.7,236.1 302.3,236.1 302.9,236.6 303.5,236.4 304.1,236.8 304.7,237.1 305.3,237.9 305.9,238.2 306.5,238.3 307.1,238.8 307.7,239.3 308.3,239.2 308.9,239.6 309.5,239.8 310.1,240.3 310.7,240.6 311.3,240.3 311.9,239.9 312.5,239.5 313.1,237.9 313.7,236.0 314.3,230.3 314.9,221.1 315.5,214.2 316.1,208.4 316.7,203.9 317.3,200.1 317.9,197.0 318.5,194.0 319.1,192.4" fill="none" stroke="#7698dc" stroke-width="1.0" stroke-linejoin="round"/>
<polyline points="62.3,117.0 62.9,120.8 63.5,126.9 64.1,122.4 64.7,125.8 65.3,128.1 65.9,123.4 66.5,122.1 67.1,118.4 67.7,116.9 68.3,122.4 68.9,118.2 69.5,115.6 70.1,113.2 70.7,116.7 71.3,116.8 71.9,118.8 72.5,116.2 73.1,117.9 73.7,116.2 74.3,118.2 74.9,125.8" fill="none" stroke="#5ea2ff" stroke-width="1.4" stroke-linejoin="round"/>
<polyline points="74.9,125.8 75.5,133.5 76.1,151.6 76.7,159.6 77.3,168.1 77.9,171.6 78.5,174.9 79.1,178.0 79.7,180.2 80.3,182.4 80.9,184.4 81.5,185.7 82.1,185.8 82.7,187.4 83.3,189.0 83.9,190.5 84.5,192.6 85.1,191.6 85.7,194.1 86.3,194.4 86.9,196.3 87.5,196.0 88.1,197.8 88.7,198.2 89.3,200.0 89.9,198.9 90.5,201.3 91.1,200.1 91.7,202.7 92.3,202.0 92.9,202.9 93.5,202.4 94.1,204.6 94.7,205.0 95.3,203.8 95.9,205.6 96.5,204.8 97.1,206.5 97.7,205.0 98.3,208.1 98.9,208.8 99.5,211.0 100.1,210.6" fill="none" stroke="#5ea2ff" stroke-width="1.05" stroke-linejoin="round"/>
<polyline points="100.1,210.6 100.7,208.9 101.3,210.9 101.9,213.6 102.5,212.2 103.1,210.1 103.7,207.9 104.3,207.5 104.9,207.1 105.5,208.2 106.1,208.6 106.7,207.6 107.3,207.2 107.9,208.1 108.5,208.6 109.1,207.5 109.7,208.4 110.3,206.8 110.9,208.0 111.5,207.2 112.1,207.2 112.7,207.0 113.3,206.8 113.9,205.9 114.5,206.1 115.1,205.9 115.7,205.4 116.3,206.2 116.9,206.4 117.5,204.8 118.1,203.9 118.7,205.0 119.3,203.8 119.9,204.2 120.5,204.6 121.1,203.8 121.7,203.6 122.3,204.2 122.9,203.6 123.5,204.2 124.1,203.1 124.7,204.1 125.3,203.7 125.9,203.5 126.5,203.3 127.1,203.8 127.7,204.5 128.3,202.9 128.9,204.1 129.5,204.7 130.1,203.6 130.7,204.9 131.3,205.2 131.9,204.7 132.5,205.8 133.1,204.9 133.7,205.3 134.3,206.8 134.9,207.3 135.5,208.4 136.1,208.5 136.7,208.0 137.3,208.6 137.9,209.8 138.5,210.0 139.1,211.4 139.7,211.4 140.3,212.1 140.9,211.8 141.5,211.4 142.1,211.6 142.7,212.3 143.3,211.9 143.9,212.9 144.5,213.9 145.1,214.2 145.7,214.1 146.3,213.1 146.9,213.5 147.5,214.5 148.1,214.2 148.7,214.8 149.3,215.1 149.9,214.8 150.5,216.0 151.1,215.7 151.7,216.8 152.3,217.0 152.9,216.7 153.5,216.1 154.1,217.3 154.7,217.1 155.3,217.1 155.9,217.8 156.5,217.3 157.1,217.7 157.7,218.3 158.3,219.9 158.9,218.7 159.5,220.1 160.1,220.2 160.7,220.9 161.3,221.7 161.9,221.3 162.5,221.9 163.1,223.6 163.7,222.9 164.3,223.2 164.9,224.4 165.5,223.8 166.1,224.6 166.7,224.3 167.3,224.7 167.9,225.4 168.5,225.8 169.1,226.2 169.7,226.0 170.3,226.0 170.9,226.5 171.5,225.2 172.1,225.3 172.7,226.1 173.3,226.0 173.9,226.0 174.5,225.8 175.1,226.5 175.7,226.4 176.3,226.1 176.9,226.9 177.5,226.5 178.1,226.9 178.7,226.4 179.3,226.9 179.9,226.7 180.5,226.1 181.1,226.2 181.7,226.4 182.3,227.4 182.9,227.4 183.5,228.1 184.1,226.8 184.7,227.3 185.3,227.5 185.9,227.5 186.5,228.6 187.1,229.6 187.7,229.3 188.3,229.7 188.9,229.0 189.5,229.3 190.1,230.5 190.7,229.8 191.3,231.0 191.9,231.6 192.5,230.4 193.1,231.2 193.7,232.5 194.3,232.9 194.9,231.5 195.5,231.9 196.1,233.8 196.7,234.0 197.3,234.3 197.9,234.2 198.5,233.5 199.1,235.4 199.7,235.3 200.3,235.3" fill="none" stroke="#5ea2ff" stroke-width="1.2" stroke-linejoin="round"/>
<polyline points="199.7,235.3 200.3,235.3 200.9,235.5 201.5,236.0 202.1,236.2 202.7,236.5 203.3,237.0 203.9,237.3 204.5,237.2 205.1,237.9 205.7,237.9 206.3,237.9 206.9,238.4 207.5,238.6 208.1,238.6 208.7,239.2 209.3,239.2 209.9,239.6 210.5,239.6 211.1,240.2 211.7,240.4 212.3,240.3 212.9,240.5 213.5,240.7 214.1,241.2 214.7,241.4 215.3,241.1 215.9,241.2 216.5,241.6 217.1,241.4 217.7,242.1 218.3,242.2 218.9,242.3 219.5,242.2 220.1,241.8 220.7,241.8 221.3,241.8 221.9,242.0 222.5,242.1 223.1,242.0 223.7,241.9 224.3,242.1 224.9,241.9 225.5,242.2 226.1,241.7 226.7,241.7 227.3,241.6 227.9,241.8 228.5,241.6 229.1,241.6 229.7,241.6 230.3,242.0 230.9,241.7 231.5,241.8 232.1,241.6 232.7,242.1 233.3,242.1 233.9,241.6 234.5,241.6 235.1,242.1 235.7,241.6 236.3,241.9 236.9,242.0 237.5,241.5 238.1,241.7 238.7,241.7 239.3,241.7 239.9,242.1 240.5,241.8 241.1,242.1 241.7,242.4 242.3,242.4 242.9,242.4 243.5,242.5 244.1,242.6 244.7,242.3 245.3,242.5 245.9,242.8 246.5,242.9 247.1,243.0 247.7,242.7 248.3,242.8 248.9,242.9 249.5,243.1 250.1,242.9 250.7,243.1 251.3,242.8 251.9,242.8 252.5,243.3 253.1,242.9 253.7,243.5 254.3,243.1 254.9,243.4 255.5,243.4 256.1,243.6 256.7,243.3 257.3,243.8 257.9,243.6 258.5,243.7 259.1,244.2 259.7,243.9 260.3,243.8 260.9,244.0 261.5,244.5 262.1,244.6 262.7,244.6 263.3,244.6 263.9,244.2 264.5,244.7 265.1,244.5 265.7,244.9 266.3,244.6 266.9,244.8 267.5,245.1 268.1,244.9 268.7,244.9 269.3,244.8 269.9,245.1 270.5,245.0 271.1,244.9 271.7,245.0 272.3,245.0 272.9,244.9 273.5,244.9 274.1,245.3 274.7,245.1 275.3,245.0 275.9,245.1 276.5,245.2 277.1,244.7 277.7,244.8 278.3,244.7 278.9,245.0 279.5,244.7 280.1,244.8 280.7,245.0 281.3,244.7 281.9,244.7 282.5,245.0 283.1,244.7 283.7,244.6 284.3,244.8 284.9,244.6 285.5,244.0 286.1,244.1 286.7,243.9 287.3,243.7 287.9,243.7 288.5,243.3 289.1,243.3 289.7,242.9 290.3,243.0 290.9,242.1 291.5,242.1 292.1,241.4 292.7,241.3 293.3,240.4 293.9,240.2 294.5,239.6 295.1,239.3 295.7,239.1 296.3,238.8 296.9,238.2 297.5,237.8 298.1,237.8 298.7,237.3 299.3,237.1 299.9,237.0 300.5,236.3 301.1,236.2 301.7,236.1 302.3,236.4 302.9,236.4 303.5,236.6 304.1,237.1 304.7,237.4 305.3,237.7 305.9,238.3 306.5,238.6 307.1,239.1 307.7,239.0 308.3,239.5 308.9,239.8 309.5,240.3 310.1,240.3 310.7,240.8 311.3,239.8 311.9,239.9 312.5,239.5 313.1,238.3 313.7,235.8 314.3,230.5 314.9,220.9 315.5,213.9 316.1,208.3 316.7,204.0 317.3,199.9 317.9,197.3 318.5,194.0 319.1,192.3" fill="none" stroke="#719edd" stroke-width="1.0" stroke-linejoin="round"/>
<polyline points="62.3,121.0 62.9,126.2 63.5,122.5 64.1,124.9 64.7,124.0 65.3,123.9 65.9,127.9 66.5,122.9 67.1,126.6 67.7,123.8 68.3,117.7 68.9,120.0 69.5,119.7 70.1,120.4 70.7,118.4 71.3,116.0 71.9,114.5 72.5,118.3 73.1,122.7 73.7,118.1 74.3,119.0 74.9,127.3" fill="none" stroke="#55aaff" stroke-width="1.4" stroke-linejoin="round"/>
<polyline points="74.9,127.3 75.5,135.9 76.1,151.8 76.7,161.4 77.3,167.8 77.9,171.9 78.5,176.5 79.1,178.1 79.7,182.1 80.3,181.9 80.9,186.0 81.5,186.0 82.1,187.2 82.7,189.1 83.3,189.7 83.9,191.0 84.5,191.2 85.1,193.7 85.7,193.3 86.3,195.0 86.9,195.2 87.5,197.3 88.1,199.3 88.7,197.9 89.3,200.2 89.9,201.3 90.5,199.7 91.1,200.6 91.7,201.5 92.3,203.4 92.9,203.7 93.5,203.9 94.1,204.7 94.7,203.9 95.3,203.9 95.9,205.2 96.5,206.6 97.1,205.2 97.7,206.6 98.3,207.2 98.9,209.4 99.5,210.6 100.1,211.2" fill="none" stroke="#55aaff" stroke-width="1.05" stroke-linejoin="round"/>
<polyline points="100.1,211.2 100.7,209.3 101.3,212.0 101.9,213.6 102.5,211.6 103.1,210.1 103.7,208.9 104.3,209.1 104.9,209.0 105.5,208.2 106.1,209.2 106.7,209.0 107.3,208.8 107.9,207.6 108.5,207.5 109.1,207.7 109.7,207.2 110.3,208.5 110.9,207.4 111.5,208.1 112.1,207.3 112.7,207.2 113.3,206.3 113.9,206.7 114.5,207.2 115.1,207.0 115.7,206.0 116.3,205.4 116.9,205.5 117.5,206.0 118.1,205.5 118.7,205.3 119.3,204.9 119.9,204.2 120.5,203.2 121.1,203.4 121.7,204.1 122.3,203.5 122.9,203.2 123.5,204.0 124.1,204.1 124.7,203.3 125.3,203.0 125.9,203.6 126.5,202.7 127.1,203.6 127.7,204.7 128.3,204.4 128.9,203.7 129.5,203.8 130.1,204.7 130.7,205.2 131.3,204.5 131.9,204.3 132.5,206.1 133.1,206.5 133.7,206.8 134.3,207.4 134.9,207.3 135.5,208.4 136.1,208.1 136.7,209.0 137.3,210.0 137.9,210.5 138.5,211.0 139.1,211.0 139.7,210.4 140.3,211.3 140.9,212.3 141.5,211.9 142.1,212.3 142.7,212.6 143.3,212.5 143.9,214.1 144.5,214.0 145.1,214.5 145.7,213.7 146.3,214.4 146.9,214.5 147.5,214.7 148.1,214.9 148.7,215.6 149.3,215.6 149.9,216.1 150.5,215.0 151.1,216.4 151.7,215.6 152.3,216.9 152.9,217.2 153.5,216.9 154.1,216.4 154.7,218.2 155.3,216.9 155.9,218.1 156.5,217.7 157.1,219.0 157.7,218.5 158.3,220.1 158.9,218.9 159.5,220.6 160.1,220.5 160.7,220.1 161.3,220.7 161.9,221.1 162.5,223.2 163.1,223.6 163.7,224.3 164.3,224.2 164.9,225.1 165.5,224.9 166.1,224.7 166.7,224.5 167.3,224.7 167.9,226.4 168.5,225.6 169.1,225.1 169.7,225.8 170.3,226.6 170.9,226.8 171.5,226.9 172.1,226.7 172.7,226.4 173.3,227.2 173.9,227.2 174.5,226.1 175.1,226.0 175.7,227.1 176.3,225.6 176.9,227.2 177.5,226.0 178.1,226.8 178.7,226.0 179.3,226.2 179.9,226.6 180.5,226.9 181.1,226.4 181.7,227.8 182.3,228.0 182.9,226.9 183.5,228.2 184.1,228.7 184.7,227.5 185.3,228.5 185.9,228.0 186.5,229.0 187.1,228.0 187.7,229.6 188.3,228.7 188.9,229.0 189.5,230.7 190.1,230.8 190.7,231.1 191.3,229.8 191.9,231.0 192.5,231.8 193.1,231.7 193.7,232.1 194.3,232.9 194.9,232.0 195.5,233.2 196.1,232.2 196.7,233.9 197.3,234.5 197.9,233.7 198.5,234.8 199.1,234.6 199.7,234.1 200.3,235.1" fill="none" stroke="#55aaff" stroke-width="1.2" stroke-linejoin="round"/>
<polyline points="199.7,234.1 200.3,235.1 200.9,235.4 201.5,235.9 202.1,236.4 202.7,236.3 203.3,236.7 203.9,237.4 204.5,237.7 205.1,237.8 205.7,237.8 206.3,238.2 206.9,238.4 207.5,238.5 208.1,239.1 208.7,239.1 209.3,239.2 209.9,239.4 210.5,240.0 211.1,240.2 211.7,240.4 212.3,240.7 212.9,240.9 213.5,240.6 214.1,241.0 214.7,241.3 215.3,241.0 215.9,241.3 216.5,241.5 217.1,241.9 217.7,241.7 218.3,241.7 218.9,242.1 219.5,242.3 220.1,241.9 220.7,242.0 221.3,242.3 221.9,242.0 222.5,241.9 223.1,242.4 223.7,241.9 224.3,242.0 224.9,241.7 225.5,241.9 226.1,241.9 226.7,242.1 227.3,242.2 227.9,241.6 228.5,242.2 229.1,241.6 229.7,242.1 230.3,242.1 230.9,242.0 231.5,242.0 232.1,241.9 232.7,241.8 233.3,241.6 233.9,241.9 234.5,242.0 235.1,241.8 235.7,241.6 236.3,241.9 236.9,241.7 237.5,242.1 238.1,241.7 238.7,242.0 239.3,242.1 239.9,242.3 240.5,242.3 241.1,242.4 241.7,242.0 242.3,242.5 242.9,242.4 243.5,242.4 244.1,242.4 244.7,242.3 245.3,242.3 245.9,242.8 246.5,242.5 247.1,242.9 247.7,242.6 248.3,242.9 248.9,243.0 249.5,242.9 250.1,243.2 250.7,243.4 251.3,243.0 251.9,242.9 252.5,243.0 253.1,243.1 253.7,243.2 254.3,243.6 254.9,243.7 255.5,243.4 256.1,243.7 256.7,243.7 257.3,243.4 257.9,243.9 258.5,243.8 259.1,243.8 259.7,243.8 260.3,244.1 260.9,244.5 261.5,244.1 262.1,244.3 262.7,244.1 263.3,244.3 263.9,244.7 264.5,244.6 265.1,244.5 265.7,244.4 266.3,244.9 266.9,245.0 267.5,244.8 268.1,245.0 268.7,245.0 269.3,245.0 269.9,245.0 270.5,244.7 271.1,244.7 271.7,244.9 272.3,244.9 272.9,245.0 273.5,244.7 274.1,245.1 274.7,244.7 275.3,244.8 275.9,245.1 276.5,245.2 277.1,245.2 277.7,244.9 278.3,245.2 278.9,244.7 279.5,244.7 280.1,244.8 280.7,244.6 281.3,244.6 281.9,244.5 282.5,244.4 283.1,244.8 283.7,244.5 284.3,244.4 284.9,244.2 285.5,244.5 286.1,244.1 286.7,243.9 287.3,243.9 287.9,243.5 288.5,243.3 289.1,243.1 289.7,243.3 290.3,243.0 290.9,242.7 291.5,242.1 292.1,241.5 292.7,241.0 293.3,240.6 293.9,240.2 294.5,239.6 295.1,239.4 295.7,239.2 296.3,238.6 296.9,238.6 297.5,238.0 298.1,237.5 298.7,237.5 299.3,237.1 299.9,236.9 300.5,236.3 301.1,236.2 301.7,236.0 302.3,236.4 302.9,236.4 303.5,236.5 304.1,236.8 304.7,237.3 305.3,237.6 305.9,238.0 306.5,238.5 307.1,239.1 307.7,238.9 308.3,239.6 308.9,239.6 309.5,240.2 310.1,240.6 310.7,240.5 311.3,239.9 311.9,239.6 312.5,239.1 313.1,238.4 313.7,236.1 314.3,230.2 314.9,220.9 315.5,213.8 316.1,208.0 316.7,203.7 317.3,200.2 317.9,196.9 318.5,194.1 319.1,192.3" fill="none" stroke="#6ca5de" stroke-width="1.0" stroke-linejoin="round"/>
<polyline points="62.3,120.0 62.9,123.3 63.5,124.4 64.1,129.4 64.7,128.0 65.3,126.8 65.9,127.3 66.5,125.2 67.1,126.6 67.7,126.5 68.3,123.0 68.9,119.5 69.5,117.7 70.1,119.8 70.7,120.9 71.3,115.3 71.9,120.4 72.5,116.9 73.1,120.2 73.7,119.7 74.3,120.2 74.9,127.3" fill="none" stroke="#4db2ff" stroke-width="1.4" stroke-linejoin="round"/>
<polyline points="74.9,127.3 75.5,136.0 76.1,152.2 76.7,160.9 77.3,169.8 77.9,174.1 78.5,178.7 79.1,180.7 79.7,182.2 80.3,184.3 80.9,184.9 81.5,186.1 82.1,189.1 82.7,190.0 83.3,189.5 83.9,191.2 84.5,191.7 85.1,193.7 85.7,194.8 86.3,196.1 86.9,196.9 87.5,197.4 88.1,198.4 88.7,198.4 89.3,199.0 89.9,201.5 90.5,200.2 91.1,201.1 91.7,203.6 92.3,203.0 92.9,204.6 93.5,203.7 94.1,204.6 94.7,204.6 95.3,204.1 95.9,205.4 96.5,205.8 97.1,205.4 97.7,207.0 98.3,207.1 98.9,209.7 99.5,212.5 100.1,210.2" fill="none" stroke="#4db2ff" stroke-width="1.05" stroke-linejoin="round"/>
<polyline points="100.1,210.2 100.7,209.8 101.3,211.4 101.9,214.0 102.5,212.3 103.1,210.8 103.7,208.9 104.3,208.5 104.9,208.4 105.5,208.1 106.1,209.0 106.7,208.4 107.3,208.2 107.9,209.2 108.5,207.7 109.1,208.6 109.7,207.7 110.3,208.1 110.9,208.7 111.5,207.3 112.1,208.3 112.7,207.1 113.3,207.5 113.9,206.5 114.5,207.7 115.1,207.6 115.7,207.3 116.3,206.5 116.9,206.9 117.5,205.3 118.1,205.9 118.7,205.6 119.3,204.9 119.9,203.7 120.5,204.7 121.1,204.2 121.7,204.9 122.3,204.9 122.9,203.3 123.5,204.3 124.1,204.3 124.7,204.2 125.3,202.9 125.9,204.2 126.5,203.1 127.1,204.6 127.7,204.3 128.3,203.4 128.9,204.3 129.5,204.7 130.1,204.7 130.7,204.7 131.3,204.2 131.9,204.9 132.5,205.5 133.1,205.3 133.7,206.1 134.3,207.6 134.9,207.8 135.5,207.9 136.1,208.0 136.7,209.0 137.3,210.4 137.9,210.1 138.5,211.6 139.1,210.7 139.7,210.8 140.3,211.7 140.9,212.8 141.5,213.2 142.1,212.3 142.7,212.3 143.3,213.1 143.9,213.1 144.5,214.6 145.1,214.8 145.7,214.5 146.3,214.9 146.9,215.0 147.5,215.3 148.1,215.9 148.7,215.7 149.3,215.7 149.9,215.4 150.5,216.3 151.1,217.0 151.7,215.9 152.3,217.6 152.9,216.3 153.5,217.3 154.1,218.0 154.7,218.5 155.3,217.4 155.9,218.0 156.5,218.0 157.1,218.0 157.7,219.6 158.3,219.1 158.9,220.0 159.5,219.3 160.1,219.8 160.7,221.6 161.3,222.0 161.9,222.8 162.5,223.3 163.1,223.1 163.7,224.6 164.3,224.1 164.9,224.2 165.5,224.4 166.1,225.4 166.7,225.5 167.3,225.4 167.9,225.7 168.5,225.8 169.1,225.5 169.7,226.9 170.3,226.3 170.9,227.1 171.5,226.1 172.1,225.5 172.7,226.4 173.3,227.0 173.9,225.9 174.5,227.1 175.1,226.6 175.7,226.1 176.3,227.4 176.9,226.3 177.5,226.2 178.1,227.3 178.7,227.5 179.3,226.8 179.9,227.4 180.5,227.1 181.1,228.0 181.7,227.2 182.3,227.2 182.9,226.8 183.5,228.2 184.1,228.4 184.7,227.8 185.3,229.0 185.9,228.1 186.5,228.4 187.1,229.6 187.7,228.6 188.3,229.7 188.9,229.9 189.5,229.5 190.1,229.5 190.7,231.2 191.3,231.0 191.9,231.5 192.5,231.1 193.1,230.9 193.7,231.5 194.3,231.8 194.9,231.8 195.5,233.1 196.1,232.9 196.7,233.7 197.3,233.2 197.9,233.8 198.5,233.6 199.1,235.5 199.7,235.2 200.3,235.3" fill="none" stroke="#4db2ff" stroke-width="1.2" stroke-linejoin="round"/>
<polyline points="199.7,235.2 200.3,235.3 200.9,235.7 201.5,236.1 202.1,236.5 202.7,236.8 203.3,236.9 203.9,237.2 204.5,237.5 205.1,237.7 205.7,238.0 206.3,238.2 206.9,238.6 207.5,239.0 208.1,239.2 208.7,239.3 209.3,239.5 209.9,239.6 210.5,240.0 211.1,240.4 211.7,240.1 212.3,240.5 212.9,241.0 213.5,240.6 214.1,241.1 214.7,241.3 215.3,241.5 215.9,241.5 216.5,241.4 217.1,241.5 217.7,241.9 218.3,242.1 218.9,241.9 219.5,242.0 220.1,242.0 220.7,242.2 221.3,242.3 221.9,242.1 222.5,242.0 223.1,242.4 223.7,241.9 224.3,241.9 224.9,242.3 225.5,242.3 226.1,241.9 226.7,241.9 227.3,241.9 227.9,241.6 228.5,241.6 229.1,241.7 229.7,241.9 230.3,241.7 230.9,241.6 231.5,242.0 232.1,241.8 232.7,241.9 233.3,242.1 233.9,241.9 234.5,241.7 235.1,242.0 235.7,241.7 236.3,242.1 236.9,241.8 237.5,241.8 238.1,241.8 238.7,241.8 239.3,242.3 239.9,242.3 240.5,242.0 241.1,242.2 241.7,242.3 242.3,242.3 242.9,242.5 243.5,242.4 244.1,242.4 244.7,242.6 245.3,242.8 245.9,242.9 246.5,242.8 247.1,242.7 247.7,242.6 248.3,243.1 248.9,242.9 249.5,243.1 250.1,242.8 250.7,242.9 251.3,243.3 251.9,243.4 252.5,243.3 253.1,243.4 253.7,243.6 254.3,243.1 254.9,243.3 255.5,243.5 256.1,243.8 256.7,243.4 257.3,243.8 257.9,243.5 258.5,243.6 259.1,243.9 259.7,244.2 260.3,244.0 260.9,244.0 261.5,244.2 262.1,244.5 262.7,244.7 263.3,244.7 263.9,244.5 264.5,244.6 265.1,244.4 265.7,244.6 266.3,244.9 266.9,245.0 267.5,244.9 268.1,244.9 268.7,245.2 269.3,244.8 269.9,244.9 270.5,244.7 271.1,245.0 271.7,244.8 272.3,244.9 272.9,245.0 273.5,244.9 274.1,245.1 274.7,244.9 275.3,245.0 275.9,245.0 276.5,244.8 277.1,245.2 277.7,244.8 278.3,245.1 278.9,244.9 279.5,244.7 280.1,244.7 280.7,244.5 281.3,244.8 281.9,245.0 282.5,244.8 283.1,244.5 283.7,244.8 284.3,244.4 284.9,244.1 285.5,244.2 286.1,244.3 286.7,243.7 287.3,244.0 287.9,243.4 288.5,243.6 289.1,243.2 289.7,242.9 290.3,243.1 290.9,242.5 291.5,241.9 292.1,241.4 292.7,241.0 293.3,240.8 293.9,240.3 294.5,240.1 295.1,239.4 295.7,238.9 296.3,238.6 296.9,238.4 297.5,238.0 298.1,237.5 298.7,237.4 299.3,236.9 299.9,237.0 300.5,236.5 301.1,236.1 301.7,235.9 302.3,236.5 302.9,236.7 303.5,236.3 304.1,236.6 304.7,237.3 305.3,237.8 305.9,238.3 306.5,238.4 307.1,238.7 307.7,239.2 308.3,239.7 308.9,239.8 309.5,240.0 310.1,240.3 310.7,240.5 311.3,240.3 311.9,239.7 312.5,239.0 313.1,238.1 313.7,235.7 314.3,230.2 314.9,221.2 315.5,213.8 316.1,208.2 316.7,203.6 317.3,200.0 317.9,197.2 318.5,194.5 319.1,192.2" fill="none" stroke="#67abdf" stroke-width="1.0" stroke-linejoin="round"/>
<polyline points="62.3,127.2 62.9,124.0 63.5,130.2 64.1,125.8 64.7,127.8 65.3,128.1 65.9,128.6 66.5,128.8 67.1,128.7 67.7,126.4 68.3,124.4 68.9,120.3 69.5,118.6 70.1,118.5 70.7,117.0 71.3,117.6 71.9,120.0 72.5,118.3 73.1,118.1 73.7,124.3 74.3,119.4 74.9,128.4" fill="none" stroke="#44bbff" stroke-width="1.4" stroke-linejoin="round"/>
<polyline points="74.9,128.4 75.5,137.0 76.1,153.0 76.7,161.4 77.3,170.0 77.9,175.3 78.5,178.7 79.1,181.2 79.7,182.6 80.3,183.8 80.9,186.2 81.5,188.2 82.1,188.5 82.7,190.4 83.3,190.2 83.9,191.5 84.5,193.9 85.1,195.1 85.7,194.3 86.3,196.7 86.9,197.6 87.5,197.8 88.1,199.2 88.7,198.6 89.3,200.0 89.9,202.1 90.5,202.1 91.1,202.9 91.7,203.2 92.3,203.2 92.9,204.9 93.5,204.0 94.1,204.3 94.7,204.5 95.3,205.7 95.9,205.2 96.5,206.0 97.1,205.7 97.7,206.6 98.3,207.3 98.9,211.9 99.5,212.1 100.1,212.0" fill="none" stroke="#44bbff" stroke-width="1.05" stroke-linejoin="round"/>
<polyline points="100.1,212.0 100.7,210.3 101.3,212.6 101.9,215.0 102.5,212.9 103.1,211.6 103.7,209.9 104.3,209.9 104.9,208.9 105.5,209.6 106.1,209.5 106.7,209.6 107.3,209.1 107.9,208.2 108.5,208.0 109.1,209.3 109.7,209.2 110.3,208.1 110.9,207.5 111.5,208.4 112.1,207.6 112.7,207.2 113.3,208.4 113.9,207.5 114.5,206.7 115.1,206.3 115.7,207.7 116.3,206.6 116.9,205.5 117.5,205.9 118.1,206.3 118.7,205.3 119.3,204.3 119.9,204.9 120.5,205.3 121.1,205.3 121.7,203.7 122.3,203.8 122.9,204.4 123.5,203.8 124.1,204.7 124.7,204.7 125.3,204.6 125.9,204.0 126.5,203.4 127.1,204.2 127.7,203.7 128.3,204.2 128.9,204.9 129.5,205.0 130.1,204.4 130.7,205.4 131.3,205.4 131.9,205.0 132.5,205.3 133.1,206.0 133.7,207.0 134.3,208.1 134.9,207.0 135.5,209.2 136.1,209.7 136.7,209.7 137.3,209.3 137.9,210.0 138.5,211.5 139.1,211.4 139.7,211.5 140.3,212.2 140.9,211.8 141.5,212.2 142.1,213.2 142.7,213.7 143.3,214.3 143.9,214.5 144.5,214.4 145.1,214.9 145.7,213.7 146.3,215.4 146.9,213.9 147.5,215.5 148.1,215.3 148.7,215.7 149.3,216.1 149.9,216.4 150.5,215.5 151.1,216.8 151.7,216.4 152.3,217.4 152.9,217.2 153.5,217.3 154.1,217.4 154.7,217.0 155.3,218.9 155.9,217.8 156.5,217.9 157.1,219.0 157.7,218.6 158.3,220.2 158.9,220.5 159.5,220.4 160.1,220.3 160.7,220.4 161.3,221.1 161.9,221.5 162.5,222.1 163.1,223.8 163.7,223.4 164.3,223.7 164.9,224.9 165.5,225.0 166.1,225.2 166.7,225.5 167.3,225.1 167.9,226.4 168.5,225.6 169.1,226.4 169.7,225.7 170.3,227.0 170.9,226.2 171.5,227.0 172.1,225.6 172.7,227.2 173.3,226.3 173.9,227.4 174.5,227.2 175.1,226.1 175.7,225.9 176.3,226.2 176.9,226.4 177.5,226.4 178.1,227.7 178.7,227.0 179.3,227.5 179.9,227.2 180.5,227.3 181.1,226.6 181.7,227.5 182.3,228.1 182.9,227.4 183.5,228.4 184.1,227.9 184.7,228.4 185.3,227.5 185.9,229.0 186.5,229.3 187.1,229.5 187.7,229.9 188.3,229.3 188.9,230.5 189.5,229.6 190.1,230.8 190.7,230.7 191.3,231.7 191.9,231.1 192.5,231.5 193.1,231.4 193.7,231.8 194.3,233.2 194.9,233.1 195.5,233.2 196.1,234.1 196.7,233.8 197.3,233.2 197.9,233.4 198.5,233.6 199.1,235.5 199.7,235.8 200.3,235.6" fill="none" stroke="#44bbff" stroke-width="1.2" stroke-linejoin="round"/>
<polyline points="199.7,235.8 200.3,235.6 200.9,235.5 201.5,236.2 202.1,236.2 202.7,236.4 203.3,236.9 203.9,237.0 204.5,237.4 205.1,237.6 205.7,238.0 206.3,238.2 206.9,238.5 207.5,238.5 208.1,239.2 208.7,239.4 209.3,239.2 209.9,239.9 210.5,239.6 211.1,239.9 211.7,240.3 212.3,240.8 212.9,240.7 213.5,241.0 214.1,241.0 214.7,241.5 215.3,241.3 215.9,241.4 216.5,241.7 217.1,241.7 217.7,241.8 218.3,241.8 218.9,242.2 219.5,242.3 220.1,242.1 220.7,242.4 221.3,242.0 221.9,242.3 222.5,242.2 223.1,242.2 223.7,241.9 224.3,242.2 224.9,242.2 225.5,242.3 226.1,242.1 226.7,241.9 227.3,241.8 227.9,242.0 228.5,242.2 229.1,241.7 229.7,241.8 230.3,241.6 230.9,241.7 231.5,241.6 232.1,241.8 232.7,241.7 233.3,241.6 233.9,241.6 234.5,242.0 235.1,241.8 235.7,241.7 236.3,242.1 236.9,241.8 237.5,242.2 238.1,242.0 238.7,241.9 239.3,242.0 239.9,242.1 240.5,242.2 241.1,242.4 241.7,242.1 242.3,242.6 242.9,242.2 243.5,242.7 244.1,242.8 244.7,242.4 245.3,242.9 245.9,242.9 246.5,242.8 247.1,243.0 247.7,242.8 248.3,243.0 248.9,243.0 249.5,243.2 250.1,243.1 250.7,242.9 251.3,243.3 251.9,243.4 252.5,243.2 253.1,243.3 253.7,243.2 254.3,243.7 254.9,243.2 255.5,243.5 256.1,243.7 256.7,243.8 257.3,243.8 257.9,243.9 258.5,244.0 259.1,244.1 259.7,244.0 260.3,244.2 260.9,244.5 261.5,244.5 262.1,244.1 262.7,244.3 263.3,244.4 263.9,244.3 264.5,244.8 265.1,244.4 265.7,244.4 266.3,244.8 266.9,244.6 267.5,244.6 268.1,245.0 268.7,245.1 269.3,244.8 269.9,245.3 270.5,244.8 271.1,244.8 271.7,245.1 272.3,245.0 272.9,245.2 273.5,245.0 274.1,244.8 274.7,244.7 275.3,244.7 275.9,245.1 276.5,244.7 277.1,245.2 277.7,245.0 278.3,244.9 278.9,245.0 279.5,245.0 280.1,244.7 280.7,245.1 281.3,244.6 281.9,244.5 282.5,244.8 283.1,244.8 283.7,244.6 284.3,244.5 284.9,244.3 285.5,244.1 286.1,244.2 286.7,244.1 287.3,243.6 287.9,243.8 288.5,243.5 289.1,243.2 289.7,243.2 290.3,243.1 290.9,242.4 291.5,242.2 292.1,241.8 292.7,241.1 293.3,240.4 293.9,240.2 294.5,239.9 295.1,239.2 295.7,238.8 296.3,238.4 296.9,238.0 297.5,238.3 298.1,237.9 298.7,237.1 299.3,237.2 299.9,236.7 300.5,236.2 301.1,236.4 301.7,236.2 302.3,236.4 302.9,236.2 303.5,236.6 304.1,237.0 304.7,237.4 305.3,237.9 305.9,238.2 306.5,238.2 307.1,238.7 307.7,239.3 308.3,239.6 308.9,239.9 309.5,240.1 310.1,240.5 310.7,240.8 311.3,239.8 311.9,239.4 312.5,239.5 313.1,238.3 313.7,235.9 314.3,230.4 314.9,221.0 315.5,213.6 316.1,208.4 316.7,203.5 317.3,200.3 317.9,196.8 318.5,194.0 319.1,192.1" fill="none" stroke="#62b2df" stroke-width="1.0" stroke-linejoin="round"/>
<polyline points="62.3,127.1 62.9,127.8 63.5,131.8 64.1,128.9 64.7,127.6 65.3,132.0 65.9,132.9 66.5,131.2 67.1,124.9 67.7,125.1 68.3,120.9 68.9,126.2 69.5,120.7 70.1,119.4 70.7,120.7 71.3,116.9 71.9,121.3 72.5,117.9 73.1,118.3 73.7,120.2 74.3,120.2 74.9,129.2" fill="none" stroke="#3cc3ff" stroke-width="1.4" stroke-linejoin="round"/>
<polyline points="74.9,129.2 75.5,137.5 76.1,152.0 76.7,161.9 77.3,171.1 77.9,176.0 78.5,179.8 79.1,182.1 79.7,183.2 80.3,186.0 80.9,187.0 81.5,188.1 82.1,189.9 82.7,189.8 83.3,192.4 83.9,192.6 84.5,193.4 85.1,194.4 85.7,196.0 86.3,197.1 86.9,197.0 87.5,198.7 88.1,199.7 88.7,200.2 89.3,200.0 89.9,200.7 90.5,202.6 91.1,202.0 91.7,202.7 92.3,203.7 92.9,204.8 93.5,204.0 94.1,205.1 94.7,204.4 95.3,204.6 95.9,207.0 96.5,206.8 97.1,207.3 97.7,207.3 98.3,208.3 98.9,210.9 99.5,212.8 100.1,210.6" fill="none" stroke="#3cc3ff" stroke-width="1.05" stroke-linejoin="round"/>
<polyline points="100.1,210.6 100.7,211.2 101.3,212.4 101.9,214.8 102.5,214.4 103.1,212.4 103.7,210.9 104.3,209.3 104.9,209.2 105.5,210.1 106.1,210.1 106.7,208.6 107.3,209.1 107.9,209.7 108.5,209.3 109.1,209.1 109.7,208.9 110.3,208.2 110.9,208.6 111.5,207.3 112.1,207.2 112.7,207.0 113.3,207.0 113.9,208.1 114.5,208.1 115.1,206.8 115.7,207.6 116.3,206.3 116.9,206.1 117.5,206.7 118.1,206.5 118.7,205.1 119.3,204.4 119.9,205.6 120.5,205.6 121.1,204.7 121.7,203.8 122.3,204.3 122.9,203.6 123.5,203.8 124.1,205.0 124.7,203.7 125.3,204.8 125.9,203.2 126.5,205.0 127.1,203.9 127.7,203.7 128.3,203.8 128.9,204.4 129.5,204.9 130.1,204.4 130.7,204.4 131.3,204.8 131.9,204.6 132.5,206.2 133.1,205.4 133.7,207.7 134.3,208.1 134.9,208.3 135.5,209.5 136.1,209.5 136.7,210.1 137.3,209.7 137.9,211.6 138.5,210.8 139.1,211.3 139.7,212.5 140.3,212.7 140.9,212.5 141.5,212.1 142.1,213.7 142.7,212.6 143.3,214.3 143.9,214.4 144.5,214.7 145.1,213.8 145.7,215.3 146.3,214.6 146.9,215.8 147.5,215.5 148.1,216.3 148.7,216.5 149.3,215.0 149.9,216.1 150.5,216.5 151.1,217.5 151.7,217.5 152.3,217.2 152.9,218.0 153.5,218.3 154.1,218.3 154.7,217.3 155.3,217.3 155.9,218.2 156.5,218.6 157.1,219.2 157.7,219.0 158.3,219.2 158.9,219.9 159.5,219.4 160.1,220.5 160.7,221.1 161.3,221.0 161.9,221.6 162.5,222.1 163.1,222.8 163.7,223.7 164.3,224.7 164.9,225.3 165.5,225.4 166.1,225.4 166.7,225.6 167.3,226.6 167.9,227.0 168.5,225.5 169.1,226.5 169.7,226.3 170.3,227.3 170.9,226.8 171.5,226.6 172.1,225.9 172.7,227.4 173.3,226.0 173.9,226.7 174.5,225.9 175.1,226.0 175.7,226.2 176.3,227.5 176.9,227.0 177.5,227.1 178.1,226.0 178.7,227.5 179.3,227.2 179.9,227.7 180.5,227.5 181.1,227.5 181.7,226.6 182.3,227.4 182.9,227.5 183.5,228.3 184.1,227.8 184.7,228.8 185.3,228.9 185.9,227.9 186.5,228.2 187.1,229.4 187.7,229.2 188.3,229.9 188.9,229.2 189.5,230.4 190.1,229.7 190.7,230.0 191.3,231.5 191.9,231.8 192.5,231.6 193.1,232.7 193.7,232.9 194.3,232.7 194.9,233.1 195.5,233.4 196.1,233.6 196.7,232.8 197.3,234.5 197.9,234.6 198.5,234.1 199.1,235.5 199.7,235.4 200.3,235.1" fill="none" stroke="#3cc3ff" stroke-width="1.2" stroke-linejoin="round"/>
<polyline points="199.7,235.4 200.3,235.1 200.9,235.5 201.5,236.1 202.1,236.3 202.7,236.4 203.3,236.7 203.9,237.3 204.5,237.8 205.1,238.1 205.7,237.9 206.3,238.2 206.9,238.4 207.5,238.8 208.1,238.8 208.7,239.5 209.3,239.2 209.9,239.7 210.5,240.2 211.1,240.2 211.7,240.4 212.3,240.6 212.9,240.9 213.5,241.0 214.1,241.3 214.7,241.4 215.3,241.5 215.9,241.6 216.5,242.0 217.1,241.6 217.7,241.9 218.3,241.9 218.9,242.3 219.5,242.5 220.1,242.4 220.7,242.1 221.3,242.4 221.9,241.9 222.5,242.3 223.1,242.2 223.7,241.9 224.3,241.8 224.9,241.9 225.5,242.3 226.1,241.8 226.7,242.0 227.3,242.0 227.9,241.9 228.5,241.7 229.1,241.7 229.7,242.1 230.3,241.6 230.9,242.2 231.5,242.1 232.1,241.7 232.7,241.7 233.3,241.9 233.9,241.7 234.5,242.0 235.1,241.7 235.7,242.2 236.3,242.1 236.9,241.7 237.5,241.7 238.1,242.0 238.7,241.8 239.3,242.0 239.9,242.4 240.5,242.4 241.1,242.1 241.7,242.2 242.3,242.6 242.9,242.5 243.5,242.6 244.1,242.6 244.7,242.8 245.3,242.5 245.9,242.6 246.5,242.6 247.1,243.0 247.7,243.0 248.3,242.7 248.9,242.9 249.5,242.8 250.1,243.4 250.7,243.0 251.3,243.1 251.9,243.5 252.5,243.6 253.1,243.2 253.7,243.6 254.3,243.4 254.9,243.3 255.5,243.4 256.1,243.6 256.7,243.4 257.3,244.0 257.9,244.1 258.5,244.1 259.1,243.8 259.7,244.3 260.3,244.2 260.9,244.0 261.5,244.4 262.1,244.3 262.7,244.4 263.3,244.2 263.9,244.7 264.5,244.8 265.1,244.8 265.7,244.4 266.3,244.4 266.9,244.9 267.5,245.0 268.1,244.8 268.7,245.1 269.3,245.0 269.9,245.1 270.5,245.0 271.1,245.0 271.7,245.3 272.3,244.7 272.9,244.8 273.5,245.0 274.1,244.8 274.7,244.8 275.3,245.2 275.9,245.0 276.5,245.2 277.1,245.2 277.7,245.0 278.3,245.0 278.9,244.9 279.5,245.1 280.1,244.7 280.7,245.0 281.3,244.7 281.9,244.5 282.5,244.6 283.1,244.6 283.7,244.7 284.3,244.3 284.9,244.4 285.5,244.2 286.1,244.0 286.7,243.8 287.3,243.9 287.9,243.4 288.5,243.2 289.1,243.2 289.7,242.8 290.3,243.1 290.9,242.2 291.5,241.6 292.1,241.6 292.7,240.8 293.3,240.7 293.9,240.5 294.5,240.1 295.1,239.2 295.7,238.8 296.3,238.6 296.9,238.2 297.5,238.1 298.1,237.9 298.7,237.2 299.3,237.0 299.9,236.8 300.5,236.6 301.1,236.3 301.7,236.0 302.3,236.3 302.9,236.3 303.5,236.3 304.1,236.7 304.7,237.3 305.3,237.9 305.9,238.0 306.5,238.4 307.1,238.7 307.7,239.4 308.3,239.3 308.9,239.6 309.5,240.3 310.1,240.2 310.7,240.5 311.3,239.9 311.9,239.4 312.5,239.0 313.1,238.3 313.7,235.9 314.3,230.1 314.9,221.0 315.5,213.7 316.1,208.1 316.7,203.7 317.3,200.0 317.9,197.3 318.5,194.4 319.1,192.3" fill="none" stroke="#5db8e0" stroke-width="1.0" stroke-linejoin="round"/>
<polyline points="62.3,125.3 62.9,130.0 63.5,130.6 64.1,134.7 64.7,128.3 65.3,132.6 65.9,132.1 66.5,126.9 67.1,124.7 67.7,123.2 68.3,128.3 68.9,124.2 69.5,122.0 70.1,123.0 70.7,123.0 71.3,117.5 71.9,120.8 72.5,122.2 73.1,121.3 73.7,119.9 74.3,126.3 74.9,128.3" fill="none" stroke="#33ccff" stroke-width="1.4" stroke-linejoin="round"/>
<polyline points="74.9,128.3 75.5,138.6 76.1,153.3 76.7,163.7 77.3,171.5 77.9,175.9 78.5,179.9 79.1,181.8 79.7,183.8 80.3,185.5 80.9,186.9 81.5,189.9 82.1,189.1 82.7,190.1 83.3,191.7 83.9,193.0 84.5,194.2 85.1,195.7 85.7,196.1 86.3,197.4 86.9,198.5 87.5,199.9 88.1,199.2 88.7,199.9 89.3,200.4 89.9,202.8 90.5,202.6 91.1,202.0 91.7,204.4 92.3,203.2 92.9,203.8 93.5,204.1 94.1,205.1 94.7,206.1 95.3,206.4 95.9,206.6 96.5,207.2 97.1,206.6 97.7,206.4 98.3,209.4 98.9,210.6 99.5,214.4 100.1,212.5" fill="none" stroke="#33ccff" stroke-width="1.05" stroke-linejoin="round"/>
<polyline points="100.1,212.5 100.7,211.3 101.3,213.4 101.9,215.5 102.5,214.2 103.1,212.9 103.7,211.4 104.3,209.9 104.9,209.5 105.5,209.4 106.1,208.7 106.7,210.0 107.3,209.5 107.9,208.3 108.5,208.3 109.1,208.7 109.7,209.5 110.3,209.5 110.9,209.3 111.5,208.1 112.1,208.1 112.7,208.6 113.3,207.7 113.9,208.2 114.5,207.1 115.1,207.7 115.7,208.1 116.3,207.9 116.9,207.4 117.5,205.8 118.1,205.5 118.7,205.3 119.3,205.5 119.9,205.8 120.5,204.3 121.1,204.7 121.7,205.2 122.3,204.2 122.9,204.1 123.5,205.2 124.1,204.0 124.7,204.5 125.3,204.9 125.9,204.2 126.5,204.8 127.1,205.0 127.7,205.0 128.3,205.5 128.9,205.0 129.5,205.3 130.1,204.8 130.7,205.3 131.3,206.0 131.9,206.1 132.5,205.6 133.1,206.8 133.7,206.6 134.3,207.8 134.9,208.3 135.5,209.6 136.1,208.6 136.7,210.5 137.3,210.5 137.9,210.7 138.5,211.6 139.1,212.5 139.7,212.6 140.3,211.7 140.9,213.4 141.5,212.7 142.1,212.7 142.7,213.8 143.3,214.1 143.9,214.9 144.5,214.0 145.1,213.8 145.7,213.9 146.3,214.8 146.9,215.2 147.5,215.7 148.1,215.9 148.7,215.2 149.3,215.4 149.9,216.2 150.5,216.3 151.1,216.1 151.7,216.3 152.3,217.5 152.9,217.7 153.5,218.2 154.1,217.4 154.7,217.7 155.3,217.5 155.9,219.2 156.5,219.1 157.1,219.4 157.7,219.3 158.3,218.8 158.9,220.8 159.5,220.4 160.1,221.6 160.7,220.8 161.3,222.4 161.9,222.3 162.5,223.1 163.1,223.5 163.7,223.8 164.3,224.3 164.9,225.8 165.5,225.9 166.1,226.4 166.7,225.3 167.3,225.5 167.9,226.9 168.5,226.0 169.1,226.3 169.7,227.1 170.3,226.8 170.9,227.2 171.5,226.3 172.1,226.4 172.7,227.3 173.3,226.7 173.9,226.5 174.5,226.6 175.1,227.1 175.7,227.1 176.3,226.2 176.9,227.6 177.5,227.5 178.1,226.8 178.7,226.3 179.3,227.8 179.9,227.1 180.5,227.6 181.1,226.8 181.7,226.9 182.3,227.3 182.9,228.1 183.5,228.4 184.1,228.0 184.7,228.7 185.3,228.9 185.9,229.0 186.5,228.3 187.1,229.7 187.7,229.0 188.3,230.1 188.9,230.2 189.5,230.7 190.1,229.8 190.7,230.3 191.3,231.7 191.9,230.6 192.5,231.8 193.1,231.2 193.7,231.3 194.3,232.2 194.9,232.5 195.5,233.8 196.1,233.2 196.7,233.3 197.3,234.0 197.9,233.5 198.5,233.9 199.1,235.6 199.7,235.7 200.3,235.7" fill="none" stroke="#33ccff" stroke-width="1.2" stroke-linejoin="round"/>
<polyline points="199.7,235.7 200.3,235.7 200.9,235.5 201.5,236.3 202.1,236.6 202.7,236.7 203.3,237.3 203.9,237.6 204.5,237.8 205.1,237.6 205.7,238.1 206.3,238.6 206.9,238.5 207.5,239.0 208.1,239.1 208.7,239.3 209.3,239.5 209.9,239.5 210.5,239.7 211.1,240.0 211.7,240.6 212.3,240.4 212.9,240.6 213.5,240.9 214.1,241.2 214.7,241.1 215.3,241.6 215.9,241.7 216.5,241.6 217.1,242.0 217.7,241.9 218.3,242.1 218.9,242.5 219.5,242.4 220.1,242.4 220.7,242.5 221.3,242.2 221.9,241.9 222.5,242.3 223.1,242.1 223.7,242.4 224.3,242.4 224.9,242.1 225.5,242.4 226.1,242.0 226.7,242.2 227.3,242.2 227.9,242.2 228.5,242.0 229.1,242.3 229.7,242.0 230.3,241.7 230.9,241.7 231.5,241.9 232.1,241.9 232.7,242.1 233.3,242.1 233.9,241.9 234.5,242.0 235.1,241.8 235.7,241.7 236.3,242.0 236.9,242.0 237.5,242.0 238.1,241.6 238.7,242.3 239.3,242.2 239.9,242.4 240.5,242.5 241.1,242.1 241.7,242.4 242.3,242.2 242.9,242.6 243.5,242.8 244.1,242.7 244.7,242.5 245.3,242.9 245.9,243.1 246.5,243.1 247.1,243.2 247.7,242.7 248.3,243.3 248.9,243.0 249.5,242.9 250.1,243.1 250.7,243.0 251.3,243.1 251.9,243.3 252.5,243.1 253.1,243.2 253.7,243.2 254.3,243.6 254.9,243.7 255.5,243.6 256.1,243.9 256.7,243.5 257.3,244.1 257.9,244.1 258.5,243.7 259.1,243.9 259.7,244.0 260.3,244.1 260.9,244.4 261.5,244.1 262.1,244.3 262.7,244.2 263.3,244.5 263.9,244.6 264.5,244.8 265.1,244.8 265.7,244.9 266.3,244.7 266.9,244.6 267.5,244.9 268.1,244.7 268.7,244.7 269.3,245.1 269.9,245.1 270.5,244.8 271.1,244.8 271.7,245.3 272.3,245.3 272.9,245.2 273.5,245.2 274.1,244.9 274.7,245.1 275.3,244.8 275.9,245.0 276.5,244.9 277.1,245.1 277.7,244.8 278.3,244.8 278.9,244.7 279.5,244.6 280.1,245.0 280.7,245.1 281.3,245.0 281.9,244.7 282.5,244.9 283.1,244.6 283.7,244.6 284.3,244.3 284.9,244.4 285.5,244.3 286.1,243.9 286.7,243.6 287.3,243.4 287.9,243.8 288.5,243.3 289.1,243.5 289.7,243.0 290.3,242.7 290.9,242.6 291.5,241.7 292.1,241.5 292.7,241.0 293.3,241.0 293.9,240.3 294.5,240.0 295.1,239.2 295.7,239.0 296.3,238.6 296.9,238.0 297.5,238.2 298.1,238.0 298.7,237.6 299.3,237.2 299.9,236.7 300.5,236.3 301.1,235.9 301.7,235.9 302.3,236.0 302.9,236.4 303.5,236.4 304.1,236.9 304.7,237.0 305.3,237.9 305.9,237.8 306.5,238.6 307.1,238.7 307.7,239.0 308.3,239.3 308.9,239.7 309.5,240.3 310.1,240.5 310.7,240.4 311.3,240.3 311.9,239.4 312.5,239.1 313.1,238.1 313.7,235.7 314.3,230.1 314.9,220.7 315.5,214.1 316.1,208.0 316.7,204.0 317.3,200.1 317.9,196.9 318.5,193.9 319.1,192.4" fill="none" stroke="#58bfe1" stroke-width="1.0" stroke-linejoin="round"/>
<polyline points="62.3,129.9 62.9,130.2 63.5,134.4 64.1,130.8 64.7,131.1 65.3,129.8 65.9,132.6 66.5,127.6 67.1,132.0 67.7,124.6 68.3,126.7 68.9,124.1 69.5,124.7 70.1,119.6 70.7,119.3 71.3,117.6 71.9,119.6 72.5,122.3 73.1,123.4 73.7,123.8 74.3,125.3 74.9,129.2" fill="none" stroke="#2bd4ff" stroke-width="1.4" stroke-linejoin="round"/>
<polyline points="74.9,129.2 75.5,139.1 76.1,153.7 76.7,164.1 77.3,171.5 77.9,176.9 78.5,180.3 79.1,181.9 79.7,185.8 80.3,186.3 80.9,188.9 81.5,188.2 82.1,190.5 82.7,190.4 83.3,191.7 83.9,192.9 84.5,195.3 85.1,196.1 85.7,195.5 86.3,198.4 86.9,198.0 87.5,199.2 88.1,199.4 88.7,201.2 89.3,200.7 89.9,203.2 90.5,201.9 91.1,202.9 91.7,202.9 92.3,203.1 92.9,204.9 93.5,205.1 94.1,205.7 94.7,205.6 95.3,205.0 95.9,206.9 96.5,207.1 97.1,207.4 97.7,206.6 98.3,208.6 98.9,211.9 99.5,214.0 100.1,212.0" fill="none" stroke="#2bd4ff" stroke-width="1.05" stroke-linejoin="round"/>
<polyline points="100.1,212.0 100.7,211.5 101.3,214.2 101.9,216.2 102.5,213.8 103.1,212.0 103.7,211.7 104.3,209.2 104.9,209.0 105.5,209.9 106.1,210.0 106.7,209.5 107.3,209.5 107.9,208.8 108.5,208.7 109.1,209.3 109.7,209.6 110.3,208.0 110.9,208.3 111.5,208.1 112.1,207.9 112.7,208.5 113.3,207.5 113.9,208.1 114.5,208.0 115.1,207.1 115.7,207.0 116.3,207.5 116.9,207.0 117.5,205.9 118.1,205.8 118.7,205.6 119.3,205.8 119.9,204.7 120.5,205.2 121.1,205.0 121.7,205.5 122.3,205.6 122.9,205.0 123.5,205.0 124.1,203.9 124.7,204.3 125.3,203.9 125.9,203.6 126.5,203.9 127.1,204.8 127.7,205.5 128.3,205.6 128.9,204.9 129.5,205.3 130.1,205.5 130.7,205.8 131.3,205.0 131.9,204.8 132.5,206.0 133.1,205.8 133.7,207.9 134.3,207.1 134.9,208.3 135.5,209.7 136.1,209.4 136.7,209.2 137.3,211.0 137.9,211.7 138.5,210.9 139.1,212.3 139.7,212.7 140.3,211.9 140.9,212.1 141.5,212.7 142.1,213.4 142.7,214.3 143.3,213.1 143.9,214.3 144.5,213.7 145.1,214.9 145.7,215.8 146.3,214.3 146.9,216.1 147.5,215.8 148.1,215.3 148.7,216.1 149.3,216.7 149.9,215.8 150.5,217.3 151.1,217.0 151.7,216.8 152.3,216.5 152.9,216.7 153.5,216.9 154.1,217.8 154.7,218.9 155.3,218.0 155.9,218.7 156.5,219.2 157.1,218.7 157.7,220.0 158.3,220.3 158.9,220.6 159.5,220.9 160.1,221.1 160.7,221.1 161.3,221.2 161.9,223.4 162.5,223.9 163.1,222.8 163.7,223.5 164.3,225.3 164.9,224.6 165.5,225.6 166.1,225.8 166.7,225.4 167.3,226.6 167.9,225.9 168.5,225.8 169.1,226.0 169.7,226.2 170.3,226.5 170.9,226.3 171.5,226.1 172.1,227.5 172.7,226.6 173.3,227.1 173.9,226.1 174.5,226.3 175.1,226.1 175.7,226.7 176.3,226.6 176.9,227.0 177.5,226.5 178.1,227.8 178.7,227.9 179.3,227.4 179.9,227.9 180.5,227.4 181.1,227.8 181.7,227.2 182.3,228.3 182.9,227.1 183.5,228.1 184.1,227.5 184.7,229.2 185.3,229.2 185.9,228.5 186.5,228.1 187.1,229.0 187.7,230.1 188.3,229.2 188.9,229.0 189.5,229.3 190.1,229.8 190.7,229.8 191.3,230.7 191.9,231.5 192.5,230.8 193.1,231.5 193.7,231.9 194.3,231.6 194.9,233.4 195.5,233.3 196.1,233.2 196.7,233.4 197.3,233.5 197.9,234.3 198.5,233.9 199.1,235.1 199.7,234.6 200.3,235.5" fill="none" stroke="#2bd4ff" stroke-width="1.2" stroke-linejoin="round"/>
<polyline points="199.7,234.6 200.3,235.5 200.9,235.8 201.5,236.1 202.1,236.6 202.7,236.7 203.3,237.3 203.9,237.3 204.5,237.7 205.1,237.7 205.7,238.1 206.3,238.4 206.9,238.6 207.5,238.8 208.1,238.9 208.7,239.4 209.3,239.3 209.9,240.0 210.5,239.9 211.1,240.0 211.7,240.4 212.3,240.7 212.9,240.7 213.5,241.3 214.1,241.4 214.7,241.4 215.3,241.4 215.9,241.5 216.5,241.4 217.1,242.1 217.7,241.8 218.3,242.0 218.9,242.3 219.5,242.5 220.1,242.4 220.7,242.0 221.3,242.1 221.9,242.4 222.5,242.3 223.1,242.0 223.7,242.2 224.3,242.2 224.9,242.0 225.5,242.3 226.1,242.2 226.7,242.3 227.3,242.3 227.9,242.2 228.5,241.9 229.1,242.2 229.7,242.1 230.3,242.1 230.9,242.0 231.5,241.8 232.1,242.0 232.7,241.7 233.3,242.2 233.9,241.8 234.5,241.7 235.1,241.8 235.7,241.8 236.3,241.7 236.9,241.8 237.5,241.8 238.1,242.0 238.7,241.9 239.3,242.2 239.9,241.9 240.5,242.5 241.1,242.3 241.7,242.2 242.3,242.5 242.9,242.7 243.5,242.4 244.1,242.5 244.7,242.6 245.3,243.0 245.9,242.9 246.5,243.1 247.1,243.1 247.7,242.7 248.3,243.2 248.9,243.4 249.5,243.0 250.1,243.3 250.7,243.3 251.3,243.1 251.9,243.1 252.5,243.6 253.1,243.4 253.7,243.5 254.3,243.5 254.9,243.4 255.5,243.4 256.1,243.5 256.7,243.8 257.3,243.9 257.9,243.9 258.5,243.7 259.1,244.1 259.7,243.9 260.3,244.1 260.9,244.0 261.5,244.3 262.1,244.5 262.7,244.5 263.3,244.5 263.9,244.8 264.5,244.8 265.1,244.6 265.7,244.6 266.3,244.6 266.9,244.6 267.5,244.7 268.1,244.7 268.7,245.1 269.3,245.1 269.9,244.8 270.5,245.2 271.1,244.8 271.7,245.3 272.3,244.9 272.9,244.7 273.5,245.0 274.1,245.1 274.7,244.8 275.3,245.1 275.9,244.9 276.5,245.0 277.1,245.3 277.7,245.1 278.3,244.9 278.9,245.2 279.5,244.8 280.1,245.0 280.7,244.7 281.3,245.0 281.9,244.8 282.5,244.7 283.1,244.9 283.7,244.6 284.3,244.3 284.9,244.2 285.5,244.0 286.1,244.1 286.7,244.0 287.3,243.9 287.9,243.7 288.5,243.5 289.1,243.5 289.7,243.3 290.3,242.6 290.9,242.7 291.5,241.9 292.1,241.6 292.7,241.1 293.3,240.7 293.9,240.0 294.5,239.9 295.1,239.5 295.7,239.3 296.3,238.4 296.9,238.5 297.5,237.9 298.1,237.8 298.7,237.6 299.3,237.2 299.9,237.0 300.5,236.6 301.1,236.1 301.7,236.0 302.3,236.2 302.9,236.7 303.5,236.4 304.1,237.0 304.7,237.1 305.3,237.8 305.9,237.8 306.5,238.6 307.1,239.1 307.7,239.4 308.3,239.6 308.9,240.0 309.5,240.1 310.1,240.1 310.7,240.3 311.3,240.2 311.9,239.7 312.5,239.0 313.1,238.4 313.7,236.0 314.3,230.5 314.9,221.0 315.5,214.0 316.1,208.3 316.7,204.0 317.3,200.0 317.9,196.8 318.5,194.3 319.1,192.2" fill="none" stroke="#53c5e2" stroke-width="1.0" stroke-linejoin="round"/>
<polyline points="62.3,131.7 62.9,128.8 63.5,131.2 64.1,131.6 64.7,132.5 65.3,131.8 65.9,130.9 66.5,134.0 67.1,131.2 67.7,128.5 68.3,123.3 68.9,124.1 69.5,124.7 70.1,121.3 70.7,124.6 71.3,123.6 71.9,122.8 72.5,123.3 73.1,120.5 73.7,125.0 74.3,124.9 74.9,130.4" fill="none" stroke="#22ddff" stroke-width="1.4" stroke-linejoin="round"/>
<polyline points="74.9,130.4 75.5,138.7 76.1,153.1 76.7,164.0 77.3,173.9 77.9,178.3 78.5,181.0 79.1,184.4 79.7,186.0 80.3,186.9 80.9,189.4 81.5,190.1 82.1,190.8 82.7,191.7 83.3,193.7 83.9,194.1 84.5,194.0 85.1,195.9 85.7,197.9 86.3,197.4 86.9,198.3 87.5,200.4 88.1,201.6 88.7,202.4 89.3,200.7 89.9,201.5 90.5,204.0 91.1,204.1 91.7,203.2 92.3,205.3 92.9,205.1 93.5,204.5 94.1,204.9 94.7,205.6 95.3,205.8 95.9,205.7 96.5,206.3 97.1,208.5 97.7,207.4 98.3,208.7 98.9,213.0 99.5,212.7 100.1,213.1" fill="none" stroke="#22ddff" stroke-width="1.05" stroke-linejoin="round"/>
<polyline points="100.1,213.1 100.7,211.3 101.3,213.6 101.9,216.4 102.5,215.0 103.1,212.9 103.7,211.1 104.3,210.1 104.9,209.9 105.5,210.7 106.1,209.1 106.7,209.2 107.3,209.0 107.9,209.7 108.5,208.7 109.1,209.5 109.7,209.6 110.3,209.4 110.9,208.8 111.5,208.6 112.1,207.9 112.7,207.5 113.3,208.9 113.9,207.3 114.5,207.3 115.1,207.0 115.7,208.0 116.3,206.5 116.9,206.7 117.5,206.2 118.1,206.1 118.7,205.9 119.3,205.1 119.9,206.1 120.5,205.9 121.1,205.1 121.7,205.2 122.3,204.6 122.9,204.6 123.5,205.7 124.1,205.2 124.7,205.3 125.3,204.4 125.9,203.7 126.5,203.9 127.1,205.0 127.7,204.0 128.3,205.5 128.9,205.7 129.5,205.7 130.1,205.2 130.7,205.9 131.3,205.9 131.9,206.2 132.5,206.8 133.1,206.4 133.7,207.2 134.3,207.6 134.9,208.2 135.5,209.9 136.1,208.9 136.7,209.7 137.3,210.8 137.9,210.8 138.5,211.4 139.1,211.1 139.7,212.4 140.3,212.9 140.9,213.3 141.5,212.5 142.1,214.4 142.7,214.7 143.3,213.7 143.9,213.8 144.5,215.5 145.1,214.9 145.7,215.6 146.3,215.4 146.9,215.2 147.5,215.6 148.1,216.2 148.7,216.1 149.3,216.9 149.9,216.0 150.5,217.4 151.1,216.5 151.7,216.6 152.3,217.4 152.9,217.2 153.5,218.6 154.1,218.2 154.7,219.1 155.3,218.4 155.9,218.7 156.5,219.1 157.1,220.1 157.7,219.2 158.3,220.5 158.9,220.2 159.5,221.1 160.1,220.6 160.7,221.2 161.3,221.1 161.9,222.5 162.5,223.2 163.1,224.7 163.7,224.8 164.3,224.2 164.9,225.6 165.5,225.4 166.1,225.0 166.7,226.2 167.3,226.3 167.9,225.9 168.5,226.8 169.1,227.5 169.7,226.5 170.3,226.5 170.9,227.6 171.5,225.9 172.1,226.3 172.7,226.6 173.3,226.1 173.9,226.6 174.5,226.6 175.1,227.5 175.7,226.5 176.3,226.4 176.9,226.4 177.5,226.2 178.1,227.0 178.7,227.7 179.3,226.5 179.9,226.7 180.5,228.2 181.1,226.9 181.7,227.3 182.3,228.5 182.9,228.5 183.5,227.9 184.1,228.6 184.7,228.4 185.3,229.1 185.9,228.6 186.5,229.3 187.1,228.4 187.7,228.7 188.3,229.4 188.9,229.8 189.5,230.3 190.1,230.9 190.7,229.8 191.3,231.4 191.9,231.6 192.5,231.6 193.1,231.9 193.7,232.3 194.3,232.5 194.9,233.3 195.5,232.3 196.1,234.0 196.7,233.8 197.3,234.9 197.9,233.9 198.5,234.4 199.1,234.7 199.7,235.4 200.3,235.8" fill="none" stroke="#22ddff" stroke-width="1.2" stroke-linejoin="round"/>
<polyline points="199.7,235.4 200.3,235.8 200.9,235.5 201.5,236.3 202.1,236.4 202.7,236.6 203.3,237.1 203.9,237.5 204.5,237.6 205.1,237.9 205.7,238.0 206.3,238.4 206.9,238.4 207.5,239.0 208.1,239.0 208.7,239.6 209.3,239.3 209.9,239.5 210.5,239.7 211.1,240.1 211.7,240.2 212.3,240.7 212.9,240.8 213.5,241.0 214.1,241.4 214.7,241.6 215.3,241.6 215.9,241.5 216.5,241.8 217.1,241.9 217.7,242.0 218.3,242.2 218.9,242.5 219.5,242.0 220.1,242.1 220.7,242.5 221.3,242.3 221.9,242.4 222.5,242.4 223.1,242.2 223.7,241.9 224.3,242.3 224.9,242.4 225.5,241.9 226.1,241.9 226.7,242.3 227.3,241.8 227.9,242.0 228.5,241.8 229.1,241.7 229.7,241.7 230.3,241.9 230.9,241.7 231.5,242.2 232.1,242.1 232.7,242.2 233.3,242.1 233.9,242.1 234.5,242.1 235.1,241.8 235.7,242.0 236.3,241.7 236.9,242.0 237.5,241.7 238.1,241.7 238.7,242.0 239.3,242.0 239.9,242.4 240.5,242.3 241.1,242.1 241.7,242.4 242.3,242.6 242.9,242.8 243.5,242.3 244.1,242.7 244.7,242.7 245.3,242.9 245.9,242.8 246.5,243.2 247.1,243.1 247.7,242.8 248.3,242.9 248.9,243.4 249.5,243.0 250.1,243.3 250.7,243.3 251.3,243.6 251.9,243.1 252.5,243.4 253.1,243.3 253.7,243.5 254.3,243.4 254.9,243.8 255.5,243.6 256.1,243.8 256.7,243.8 257.3,244.0 257.9,244.1 258.5,243.8 259.1,244.0 259.7,244.0 260.3,244.1 260.9,244.3 261.5,244.5 262.1,244.4 262.7,244.6 263.3,244.5 263.9,244.8 264.5,244.4 265.1,244.4 265.7,244.6 266.3,244.8 266.9,244.9 267.5,245.0 268.1,244.8 268.7,245.0 269.3,244.8 269.9,245.2 270.5,244.8 271.1,245.2 271.7,245.2 272.3,245.2 272.9,245.1 273.5,245.3 274.1,245.2 274.7,245.0 275.3,245.2 275.9,244.8 276.5,245.0 277.1,245.1 277.7,245.1 278.3,245.1 278.9,244.7 279.5,244.8 280.1,245.0 280.7,244.9 281.3,245.1 281.9,245.0 282.5,245.0 283.1,244.8 283.7,244.4 284.3,244.6 284.9,244.3 285.5,244.3 286.1,243.8 286.7,243.9 287.3,243.7 287.9,243.5 288.5,243.4 289.1,243.1 289.7,242.8 290.3,242.5 290.9,242.6 291.5,241.8 292.1,241.4 292.7,241.0 293.3,240.5 293.9,240.5 294.5,240.0 295.1,239.5 295.7,239.3 296.3,238.7 296.9,238.2 297.5,237.9 298.1,237.8 298.7,237.6 299.3,237.2 299.9,236.6 300.5,236.2 301.1,236.1 301.7,235.9 302.3,235.9 302.9,236.1 303.5,236.5 304.1,236.6 304.7,237.4 305.3,237.6 305.9,238.1 306.5,238.8 307.1,239.1 307.7,239.4 308.3,239.3 308.9,239.7 309.5,240.0 310.1,240.3 310.7,240.7 311.3,240.2 311.9,239.6 312.5,239.3 313.1,238.4 313.7,236.0 314.3,230.0 314.9,220.8 315.5,213.9 316.1,208.3 316.7,203.6 317.3,199.8 317.9,196.8 318.5,194.0 319.1,192.4" fill="none" stroke="#4fcce3" stroke-width="1.0" stroke-linejoin="round"/>
<polyline points="62.3,130.8 62.9,130.1 63.5,135.4 64.1,133.3 64.7,135.2 65.3,135.3 65.9,134.0 66.5,133.2 67.1,132.7 67.7,128.2 68.3,124.0 68.9,124.4 69.5,123.1 70.1,125.4 70.7,121.7 71.3,124.8 71.9,124.9 72.5,121.5 73.1,120.8 73.7,121.6 74.3,128.2 74.9,130.9" fill="none" stroke="#19e6ff" stroke-width="1.4" stroke-linejoin="round"/>
<polyline points="74.9,130.9 75.5,139.7 76.1,154.7 76.7,165.0 77.3,172.2 77.9,177.1 78.5,183.3 79.1,184.5 79.7,186.0 80.3,186.6 80.9,189.2 81.5,190.7 82.1,190.1 82.7,191.3 83.3,193.5 83.9,194.4 84.5,194.8 85.1,196.6 85.7,198.3 86.3,198.8 86.9,200.0 87.5,199.1 88.1,200.7 88.7,201.5 89.3,202.7 89.9,203.5 90.5,202.4 91.1,203.5 91.7,203.7 92.3,203.6 92.9,205.3 93.5,205.4 94.1,205.3 94.7,205.4 95.3,205.3 95.9,206.5 96.5,207.3 97.1,208.1 97.7,209.0 98.3,209.7 98.9,212.0 99.5,215.2 100.1,213.3" fill="none" stroke="#19e6ff" stroke-width="1.05" stroke-linejoin="round"/>
<polyline points="100.1,213.3 100.7,212.7 101.3,213.8 101.9,215.1 102.5,214.0 103.1,212.9 103.7,211.9 104.3,210.4 104.9,209.4 105.5,210.7 106.1,209.3 106.7,209.3 107.3,208.9 107.9,208.8 108.5,209.7 109.1,208.8 109.7,209.2 110.3,209.8 110.9,209.5 111.5,208.8 112.1,208.1 112.7,207.6 113.3,209.0 113.9,207.9 114.5,208.4 115.1,208.6 115.7,208.4 116.3,207.7 116.9,207.0 117.5,207.2 118.1,206.3 118.7,206.8 119.3,206.2 119.9,204.9 120.5,205.1 121.1,205.5 121.7,205.2 122.3,205.6 122.9,205.5 123.5,205.7 124.1,205.1 124.7,205.6 125.3,205.1 125.9,205.5 126.5,205.4 127.1,204.7 127.7,205.8 128.3,205.6 128.9,205.9 129.5,205.7 130.1,204.6 130.7,206.4 131.3,205.0 131.9,205.2 132.5,205.7 133.1,206.9 133.7,207.3 134.3,208.5 134.9,208.9 135.5,210.1 136.1,209.0 136.7,209.9 137.3,211.7 137.9,211.8 138.5,211.5 139.1,212.8 139.7,212.5 140.3,212.1 140.9,212.4 141.5,214.0 142.1,212.9 142.7,213.9 143.3,214.0 143.9,215.0 144.5,215.3 145.1,214.6 145.7,214.9 146.3,214.6 146.9,215.2 147.5,215.5 148.1,215.3 148.7,215.5 149.3,216.1 149.9,216.5 150.5,217.2 151.1,217.8 151.7,217.3 152.3,217.9 152.9,218.3 153.5,217.7 154.1,218.7 154.7,218.1 155.3,219.3 155.9,219.2 156.5,218.6 157.1,219.2 157.7,219.1 158.3,219.3 158.9,219.8 159.5,221.2 160.1,221.5 160.7,222.1 161.3,221.3 161.9,223.3 162.5,222.8 163.1,223.5 163.7,224.1 164.3,224.7 164.9,226.0 165.5,225.7 166.1,225.1 166.7,225.8 167.3,226.7 167.9,226.2 168.5,225.9 169.1,227.2 169.7,226.6 170.3,226.9 170.9,226.9 171.5,227.0 172.1,226.9 172.7,226.0 173.3,227.6 173.9,227.2 174.5,227.5 175.1,226.4 175.7,227.1 176.3,226.9 176.9,226.1 177.5,226.9 178.1,227.1 178.7,227.9 179.3,226.4 179.9,227.7 180.5,228.0 181.1,228.3 181.7,228.3 182.3,226.9 182.9,227.2 183.5,227.5 184.1,227.6 184.7,228.0 185.3,229.0 185.9,228.8 186.5,228.3 187.1,229.2 187.7,229.9 188.3,229.4 188.9,230.1 189.5,229.4 190.1,230.3 190.7,230.6 191.3,230.6 191.9,231.4 192.5,232.4 193.1,232.1 193.7,231.4 194.3,231.9 194.9,232.5 195.5,232.5 196.1,232.8 196.7,233.3 197.3,233.4 197.9,233.8 198.5,234.9 199.1,234.1 199.7,235.8 200.3,235.8" fill="none" stroke="#19e6ff" stroke-width="1.2" stroke-linejoin="round"/>
<polyline points="199.7,235.8 200.3,235.8 200.9,235.6 201.5,236.2 202.1,236.7 202.7,236.9 203.3,237.4 203.9,237.5 204.5,237.4 205.1,238.1 205.7,238.2 206.3,238.4 206.9,238.7 207.5,239.1 208.1,239.2 208.7,239.4 209.3,239.4 209.9,240.0 210.5,239.8 211.1,240.3 211.7,240.2 212.3,240.7 212.9,240.8 213.5,241.1 214.1,241.4 214.7,241.1 215.3,241.2 215.9,241.5 216.5,241.7 217.1,241.7 217.7,242.0 218.3,242.3 218.9,242.2 219.5,242.2 220.1,242.5 220.7,242.0 221.3,242.5 221.9,242.1 222.5,242.5 223.1,242.1 223.7,242.1 224.3,242.3 224.9,241.9 225.5,242.3 226.1,242.2 226.7,242.2 227.3,241.9 227.9,242.1 228.5,242.0 229.1,241.7 229.7,241.7 230.3,241.9 230.9,242.2 231.5,242.1 232.1,241.7 232.7,242.1 233.3,242.1 233.9,241.7 234.5,241.8 235.1,241.9 235.7,242.1 236.3,241.8 236.9,241.8 237.5,241.7 238.1,241.8 238.7,241.8 239.3,242.0 239.9,242.4 240.5,242.1 241.1,242.3 241.7,242.7 242.3,242.2 242.9,242.5 243.5,242.9 244.1,242.9 244.7,242.9 245.3,243.1 245.9,242.9 246.5,242.9 247.1,242.9 247.7,243.1 248.3,243.0 248.9,243.3 249.5,243.3 250.1,243.5 250.7,243.4 251.3,243.4 251.9,243.5 252.5,243.2 253.1,243.5 253.7,243.6 254.3,243.6 254.9,243.8 255.5,243.8 256.1,244.0 256.7,244.0 257.3,244.0 257.9,244.1 258.5,243.8 259.1,244.0 259.7,244.0 260.3,244.4 260.9,244.3 261.5,244.5 262.1,244.4 262.7,244.7 263.3,244.4 263.9,244.4 264.5,244.4 265.1,244.7 265.7,244.8 266.3,244.6 266.9,244.8 267.5,244.7 268.1,245.0 268.7,244.9 269.3,245.0 269.9,245.2 270.5,245.0 271.1,244.9 271.7,245.0 272.3,244.9 272.9,245.1 273.5,244.9 274.1,244.8 274.7,245.2 275.3,245.1 275.9,245.2 276.5,245.1 277.1,245.3 277.7,245.0 278.3,245.2 278.9,245.2 279.5,244.7 280.1,245.0 280.7,244.7 281.3,244.7 281.9,244.8 282.5,244.6 283.1,244.4 283.7,244.4 284.3,244.3 284.9,244.6 285.5,244.2 286.1,243.9 286.7,244.1 287.3,243.8 287.9,243.6 288.5,243.4 289.1,243.1 289.7,243.1 290.3,242.7 290.9,242.6 291.5,241.7 292.1,241.2 292.7,240.8 293.3,240.5 293.9,240.4 294.5,239.7 295.1,239.3 295.7,238.8 296.3,239.0 296.9,238.2 297.5,238.2 298.1,237.9 298.7,237.2 299.3,237.0 299.9,236.9 300.5,236.2 301.1,236.3 301.7,236.0 302.3,236.4 302.9,236.6 303.5,236.7 304.1,237.1 304.7,237.2 305.3,237.7 305.9,238.2 306.5,238.6 307.1,239.1 307.7,239.3 308.3,239.6 308.9,239.7 309.5,240.3 310.1,240.3 310.7,240.3 311.3,240.3 311.9,239.4 312.5,239.3 313.1,238.2 313.7,235.9 314.3,230.3 314.9,221.2 315.5,214.1 316.1,208.4 316.7,203.7 317.3,199.9 317.9,197.1 318.5,194.3 319.1,192.1" fill="none" stroke="#4ad2e3" stroke-width="1.0" stroke-linejoin="round"/>
<polyline points="62.3,128.7 62.9,129.3 63.5,131.0 64.1,135.2 64.7,135.0 65.3,136.8 65.9,130.8 66.5,133.9 67.1,134.2 67.7,126.7 68.3,127.2 68.9,129.4 69.5,125.1 70.1,121.5 70.7,122.8 71.3,121.1 71.9,126.2 72.5,123.6 73.1,122.8 73.7,124.6 74.3,125.1 74.9,130.0" fill="none" stroke="#11eeff" stroke-width="1.4" stroke-linejoin="round"/>
<polyline points="74.9,130.0 75.5,140.5 76.1,155.2 76.7,166.2 77.3,172.8 77.9,179.3 78.5,183.7 79.1,184.0 79.7,186.3 80.3,187.5 80.9,189.4 81.5,191.7 82.1,191.0 82.7,193.1 83.3,194.5 83.9,194.1 84.5,195.9 85.1,197.7 85.7,198.1 86.3,199.0 86.9,198.2 87.5,200.3 88.1,200.6 88.7,201.2 89.3,201.9 89.9,202.4 90.5,203.3 91.1,204.3 91.7,204.2 92.3,204.0 92.9,206.2 93.5,206.6 94.1,206.3 94.7,206.6 95.3,207.7 95.9,206.3 96.5,208.3 97.1,207.0 97.7,207.1 98.3,208.9 98.9,213.0 99.5,214.8 100.1,211.9" fill="none" stroke="#11eeff" stroke-width="1.05" stroke-linejoin="round"/>
<polyline points="100.1,211.9 100.7,212.3 101.3,214.0 101.9,216.4 102.5,215.2 103.1,214.0 103.7,211.0 104.3,211.0 104.9,210.5 105.5,210.1 106.1,210.5 106.7,209.7 107.3,209.3 107.9,210.2 108.5,209.5 109.1,209.3 109.7,209.1 110.3,209.0 110.9,208.6 111.5,208.3 112.1,209.0 112.7,209.0 113.3,208.6 113.9,207.5 114.5,209.0 115.1,208.6 115.7,207.9 116.3,208.3 116.9,206.8 117.5,207.6 118.1,206.5 118.7,206.8 119.3,207.0 119.9,206.5 120.5,206.0 121.1,206.0 121.7,205.8 122.3,205.5 122.9,204.6 123.5,204.8 124.1,204.4 124.7,205.8 125.3,205.4 125.9,205.6 126.5,204.9 127.1,204.1 127.7,205.0 128.3,205.4 128.9,205.8 129.5,205.4 130.1,205.2 130.7,206.2 131.3,205.3 131.9,206.2 132.5,206.5 133.1,207.6 133.7,207.2 134.3,207.3 134.9,208.5 135.5,209.8 136.1,210.8 136.7,210.6 137.3,210.6 137.9,211.6 138.5,212.5 139.1,212.4 139.7,213.3 140.3,212.8 140.9,214.0 141.5,212.9 142.1,214.1 142.7,214.4 143.3,214.5 143.9,213.8 144.5,214.5 145.1,214.9 145.7,215.9 146.3,215.6 146.9,215.4 147.5,215.3 148.1,215.4 148.7,216.3 149.3,215.9 149.9,216.6 150.5,217.1 151.1,216.7 151.7,216.6 152.3,218.0 152.9,218.4 153.5,218.1 154.1,218.6 154.7,218.1 155.3,218.7 155.9,217.9 156.5,219.2 157.1,220.1 157.7,219.7 158.3,219.9 158.9,220.3 159.5,220.6 160.1,221.4 160.7,222.1 161.3,222.0 161.9,223.0 162.5,224.1 163.1,224.6 163.7,223.7 164.3,225.7 164.9,225.6 165.5,226.3 166.1,226.6 166.7,225.3 167.3,227.1 167.9,226.9 168.5,226.1 169.1,226.9 169.7,227.1 170.3,227.2 170.9,226.9 171.5,227.3 172.1,227.0 172.7,226.6 173.3,227.7 173.9,227.4 174.5,227.6 175.1,227.1 175.7,226.8 176.3,227.2 176.9,227.0 177.5,226.7 178.1,226.4 178.7,227.2 179.3,226.7 179.9,227.7 180.5,227.6 181.1,227.1 181.7,227.0 182.3,228.1 182.9,228.4 183.5,227.6 184.1,227.6 184.7,229.0 185.3,228.5 185.9,228.5 186.5,228.4 187.1,229.1 187.7,230.0 188.3,228.9 188.9,230.4 189.5,229.9 190.1,230.8 190.7,231.2 191.3,230.9 191.9,230.8 192.5,232.1 193.1,231.6 193.7,233.1 194.3,232.3 194.9,232.7 195.5,232.8 196.1,234.2 196.7,233.7 197.3,235.0 197.9,234.4 198.5,234.8 199.1,235.1 199.7,234.8 200.3,235.6" fill="none" stroke="#11eeff" stroke-width="1.2" stroke-linejoin="round"/>
<polyline points="199.7,234.8 200.3,235.6 200.9,235.7 201.5,236.4 202.1,236.3 202.7,236.7 203.3,237.1 203.9,237.3 204.5,237.7 205.1,237.9 205.7,238.0 206.3,238.2 206.9,238.7 207.5,239.1 208.1,239.3 208.7,239.5 209.3,239.3 209.9,239.5 210.5,240.2 211.1,240.2 211.7,240.6 212.3,240.9 212.9,241.0 213.5,240.9 214.1,240.9 214.7,241.6 215.3,241.4 215.9,241.5 216.5,242.0 217.1,241.9 217.7,242.0 218.3,242.4 218.9,242.5 219.5,242.1 220.1,242.0 220.7,242.5 221.3,242.4 221.9,242.0 222.5,242.3 223.1,242.0 223.7,242.0 224.3,242.1 224.9,242.1 225.5,242.0 226.1,242.3 226.7,242.2 227.3,242.0 227.9,242.1 228.5,241.9 229.1,242.2 229.7,241.8 230.3,241.9 230.9,241.8 231.5,242.1 232.1,241.8 232.7,242.2 233.3,241.9 233.9,242.1 234.5,242.2 235.1,241.9 235.7,241.7 236.3,242.2 236.9,242.2 237.5,242.1 238.1,242.0 238.7,241.9 239.3,242.1 239.9,242.1 240.5,242.1 241.1,242.5 241.7,242.7 242.3,242.3 242.9,242.6 243.5,242.5 244.1,242.9 244.7,242.6 245.3,243.1 245.9,243.1 246.5,242.9 247.1,243.3 247.7,243.3 248.3,243.2 248.9,243.2 249.5,243.1 250.1,243.2 250.7,243.3 251.3,243.5 251.9,243.4 252.5,243.3 253.1,243.2 253.7,243.3 254.3,243.6 254.9,243.7 255.5,243.5 256.1,243.9 256.7,244.0 257.3,243.8 257.9,243.8 258.5,244.3 259.1,244.0 259.7,244.2 260.3,244.2 260.9,244.4 261.5,244.3 262.1,244.1 262.7,244.6 263.3,244.6 263.9,244.5 264.5,244.5 265.1,244.6 265.7,244.4 266.3,244.6 266.9,244.7 267.5,244.9 268.1,245.0 268.7,245.1 269.3,245.0 269.9,244.8 270.5,245.0 271.1,245.0 271.7,244.9 272.3,244.8 272.9,244.8 273.5,245.0 274.1,244.8 274.7,244.7 275.3,245.0 275.9,245.2 276.5,245.0 277.1,244.9 277.7,245.2 278.3,245.0 278.9,245.0 279.5,244.9 280.1,245.0 280.7,245.1 281.3,245.1 281.9,244.6 282.5,244.8 283.1,244.6 283.7,244.8 284.3,244.8 284.9,244.2 285.5,244.0 286.1,244.2 286.7,244.1 287.3,244.0 287.9,243.3 288.5,243.2 289.1,243.5 289.7,243.2 290.3,242.8 290.9,242.2 291.5,242.2 292.1,241.7 292.7,241.1 293.3,240.9 293.9,240.3 294.5,239.9 295.1,239.7 295.7,239.1 296.3,238.8 296.9,238.0 297.5,237.8 298.1,237.7 298.7,237.2 299.3,237.2 299.9,236.8 300.5,236.5 301.1,235.9 301.7,235.9 302.3,236.1 302.9,236.3 303.5,236.8 304.1,236.7 304.7,237.2 305.3,237.9 305.9,238.3 306.5,238.2 307.1,239.1 307.7,239.0 308.3,239.7 308.9,239.8 309.5,240.0 310.1,240.1 310.7,240.2 311.3,239.9 311.9,239.8 312.5,239.1 313.1,238.2 313.7,236.3 314.3,230.3 314.9,220.7 315.5,214.1 316.1,208.2 316.7,203.6 317.3,200.1 317.9,197.1 318.5,194.1 319.1,191.9" fill="none" stroke="#45d9e4" stroke-width="1.0" stroke-linejoin="round"/>
<polyline points="62.3,133.9 62.9,133.6 63.5,133.9 64.1,132.8 64.7,136.9 65.3,136.3 65.9,133.6 66.5,136.6 67.1,130.1 67.7,130.1 68.3,127.4 68.9,124.4 69.5,129.2 70.1,124.4 70.7,124.0 71.3,122.1 71.9,120.1 72.5,123.6 73.1,123.3 73.7,122.8 74.3,123.7 74.9,132.0" fill="none" stroke="#09f6ff" stroke-width="1.4" stroke-linejoin="round"/>
<polyline points="74.9,132.0 75.5,140.8 76.1,156.0 76.7,166.4 77.3,173.6 77.9,179.8 78.5,183.3 79.1,185.6 79.7,186.5 80.3,187.9 80.9,190.9 81.5,190.3 82.1,191.2 82.7,192.0 83.3,194.6 83.9,194.0 84.5,195.9 85.1,197.2 85.7,197.0 86.3,198.0 86.9,200.2 87.5,199.9 88.1,200.2 88.7,201.2 89.3,202.9 89.9,202.9 90.5,203.3 91.1,203.7 91.7,204.3 92.3,205.2 92.9,205.5 93.5,207.0 94.1,206.4 94.7,207.0 95.3,206.8 95.9,206.9 96.5,207.0 97.1,207.4 97.7,208.9 98.3,209.0 98.9,213.0 99.5,214.4 100.1,212.9" fill="none" stroke="#09f6ff" stroke-width="1.05" stroke-linejoin="round"/>
<polyline points="100.1,212.9 100.7,211.6 101.3,214.7 101.9,216.6 102.5,216.1 103.1,214.2 103.7,212.3 104.3,210.0 104.9,210.9 105.5,209.7 106.1,210.6 106.7,211.0 107.3,209.4 107.9,209.8 108.5,210.2 109.1,210.5 109.7,208.6 110.3,209.8 110.9,208.6 111.5,209.9 112.1,208.3 112.7,208.3 113.3,208.3 113.9,207.9 114.5,207.5 115.1,208.0 115.7,208.6 116.3,207.5 116.9,206.9 117.5,207.5 118.1,206.9 118.7,206.5 119.3,206.6 119.9,205.9 120.5,206.5 121.1,206.5 121.7,206.1 122.3,204.7 122.9,205.8 123.5,205.3 124.1,205.1 124.7,205.9 125.3,205.8 125.9,204.3 126.5,204.7 127.1,204.3 127.7,205.4 128.3,204.6 128.9,206.2 129.5,205.4 130.1,205.0 130.7,206.0 131.3,205.9 131.9,206.8 132.5,206.7 133.1,207.2 133.7,207.3 134.3,208.2 134.9,208.1 135.5,208.8 136.1,210.2 136.7,210.0 137.3,211.9 137.9,211.5 138.5,213.0 139.1,211.8 139.7,212.8 140.3,212.5 140.9,212.7 141.5,213.0 142.1,213.6 142.7,214.8 143.3,215.2 143.9,214.5 144.5,214.2 145.1,215.7 145.7,215.6 146.3,215.3 146.9,215.7 147.5,216.0 148.1,216.5 148.7,216.6 149.3,216.0 149.9,216.9 150.5,218.0 151.1,216.7 151.7,217.5 152.3,217.3 152.9,217.7 153.5,218.3 154.1,218.8 154.7,218.5 155.3,218.5 155.9,219.6 156.5,220.1 157.1,220.0 157.7,219.7 158.3,220.2 158.9,220.4 159.5,221.6 160.1,221.6 160.7,221.9 161.3,223.1 161.9,222.0 162.5,223.3 163.1,223.6 163.7,224.7 164.3,225.1 164.9,224.6 165.5,225.2 166.1,226.1 166.7,226.2 167.3,226.5 167.9,227.1 168.5,227.3 169.1,226.4 169.7,226.2 170.3,227.5 170.9,227.7 171.5,227.3 172.1,226.7 172.7,226.8 173.3,226.3 173.9,227.0 174.5,227.0 175.1,227.1 175.7,227.7 176.3,227.4 176.9,226.5 177.5,226.2 178.1,227.4 178.7,226.5 179.3,227.3 179.9,226.8 180.5,227.6 181.1,228.5 181.7,227.8 182.3,227.7 182.9,228.4 183.5,227.7 184.1,228.2 184.7,229.4 185.3,228.1 185.9,229.4 186.5,228.2 187.1,230.1 187.7,228.7 188.3,229.9 188.9,229.1 189.5,230.6 190.1,231.3 190.7,231.6 191.3,231.7 191.9,231.8 192.5,231.4 193.1,231.4 193.7,232.6 194.3,232.5 194.9,232.9 195.5,232.5 196.1,232.8 196.7,233.6 197.3,233.8 197.9,235.2 198.5,234.4 199.1,235.4 199.7,235.6 200.3,235.6" fill="none" stroke="#09f6ff" stroke-width="1.2" stroke-linejoin="round"/>
<polyline points="199.7,235.6 200.3,235.6 200.9,235.9 201.5,236.5 202.1,236.4 202.7,236.9 203.3,237.3 203.9,237.6 204.5,238.0 205.1,238.1 205.7,238.4 206.3,238.6 206.9,238.5 207.5,239.1 208.1,239.0 208.7,239.3 209.3,239.3 209.9,240.0 210.5,240.3 211.1,240.0 211.7,240.4 212.3,240.8 212.9,240.7 213.5,241.1 214.1,241.1 214.7,241.1 215.3,241.6 215.9,241.7 216.5,242.0 217.1,241.9 217.7,242.0 218.3,242.3 218.9,242.6 219.5,242.2 220.1,242.2 220.7,242.1 221.3,242.5 221.9,242.0 222.5,242.4 223.1,242.2 223.7,241.9 224.3,242.0 224.9,242.1 225.5,242.4 226.1,242.0 226.7,242.1 227.3,241.9 227.9,242.3 228.5,242.0 229.1,241.9 229.7,242.2 230.3,242.0 230.9,241.8 231.5,241.9 232.1,242.2 232.7,241.7 233.3,242.0 233.9,241.8 234.5,241.9 235.1,241.9 235.7,242.2 236.3,242.3 236.9,242.1 237.5,242.1 238.1,241.9 238.7,242.4 239.3,242.4 239.9,242.1 240.5,242.3 241.1,242.3 241.7,242.2 242.3,242.7 242.9,242.8 243.5,242.5 244.1,242.6 244.7,243.1 245.3,243.1 245.9,242.7 246.5,243.2 247.1,242.9 247.7,243.4 248.3,243.0 248.9,243.3 249.5,243.0 250.1,243.1 250.7,243.5 251.3,243.5 251.9,243.6 252.5,243.7 253.1,243.6 253.7,243.3 254.3,243.7 254.9,243.8 255.5,243.8 256.1,243.6 256.7,243.6 257.3,243.7 257.9,243.7 258.5,243.8 259.1,244.4 259.7,243.9 260.3,244.1 260.9,244.4 261.5,244.2 262.1,244.3 262.7,244.5 263.3,244.2 263.9,244.4 264.5,244.7 265.1,244.7 265.7,244.9 266.3,244.8 266.9,244.9 267.5,245.0 268.1,245.0 268.7,244.6 269.3,245.1 269.9,245.1 270.5,244.8 271.1,244.9 271.7,245.1 272.3,245.1 272.9,245.0 273.5,245.2 274.1,245.2 274.7,244.7 275.3,245.1 275.9,244.8 276.5,244.9 277.1,245.2 277.7,245.3 278.3,245.3 278.9,244.7 279.5,244.8 280.1,244.9 280.7,244.7 281.3,244.9 281.9,244.7 282.5,244.6 283.1,244.6 283.7,244.5 284.3,244.4 284.9,244.3 285.5,243.9 286.1,244.2 286.7,243.8 287.3,243.7 287.9,243.5 288.5,243.7 289.1,243.4 289.7,242.8 290.3,243.0 290.9,242.6 291.5,242.0 292.1,241.4 292.7,241.4 293.3,240.6 293.9,240.5 294.5,240.1 295.1,239.3 295.7,239.1 296.3,238.5 296.9,238.4 297.5,237.8 298.1,237.9 298.7,237.3 299.3,236.8 299.9,236.5 300.5,236.2 301.1,235.9 301.7,236.3 302.3,236.0 302.9,236.5 303.5,236.8 304.1,237.0 304.7,237.1 305.3,237.7 305.9,238.0 306.5,238.5 307.1,239.1 307.7,239.0 308.3,239.6 308.9,239.5 309.5,240.2 310.1,240.2 310.7,240.4 311.3,240.3 311.9,239.8 312.5,239.1 313.1,238.3 313.7,236.1 314.3,230.1 314.9,220.7 315.5,213.7 316.1,208.2 316.7,204.1 317.3,200.2 317.9,196.9 318.5,194.0 319.1,192.1" fill="none" stroke="#40dfe5" stroke-width="1.0" stroke-linejoin="round"/>
<polyline points="62.3,131.5 62.9,129.9 63.5,137.2 64.1,134.9 64.7,138.7 65.3,136.6 65.9,134.3 66.5,136.9 67.1,130.0 67.7,127.2 68.3,130.9 68.9,125.0 69.5,128.8 70.1,125.2 70.7,123.2 71.3,123.2 71.9,127.1 72.5,120.9 73.1,122.9 73.7,127.4 74.3,123.5 74.9,132.7" fill="none" stroke="#00ffff" stroke-width="1.4" stroke-linejoin="round"/>
<polyline points="74.9,132.7 75.5,140.6 76.1,154.3 76.7,166.3 77.3,174.2 77.9,178.8 78.5,184.6 79.1,186.0 79.7,186.5 80.3,189.3 80.9,190.8 81.5,192.2 82.1,192.0 82.7,193.5 83.3,194.7 83.9,195.9 84.5,196.6 85.1,195.9 85.7,197.2 86.3,199.2 86.9,201.0 87.5,201.6 88.1,201.9 88.7,203.1 89.3,203.3 89.9,203.5 90.5,202.8 91.1,205.0 91.7,204.6 92.3,204.6 92.9,206.1 93.5,205.2 94.1,206.9 94.7,207.0 95.3,207.0 95.9,206.3 96.5,208.1 97.1,208.9 97.7,207.6 98.3,211.0 98.9,211.7 99.5,215.7 100.1,212.8" fill="none" stroke="#00ffff" stroke-width="1.05" stroke-linejoin="round"/>
<polyline points="100.1,212.8 100.7,212.8 101.3,214.5 101.9,217.0 102.5,214.7 103.1,214.0 103.7,212.3 104.3,210.8 104.9,210.5 105.5,210.4 106.1,211.1 106.7,210.8 107.3,209.7 107.9,210.9 108.5,209.7 109.1,209.1 109.7,208.9 110.3,209.1 110.9,208.6 111.5,209.9 112.1,208.5 112.7,208.5 113.3,208.9 113.9,208.1 114.5,207.9 115.1,207.4 115.7,208.2 116.3,207.2 116.9,208.4 117.5,207.9 118.1,207.0 118.7,207.3 119.3,206.4 119.9,205.6 120.5,205.9 121.1,206.7 121.7,205.6 122.3,205.4 122.9,204.7 123.5,205.7 124.1,206.2 124.7,205.4 125.3,205.7 125.9,205.8 126.5,204.5 127.1,206.1 127.7,205.8 128.3,205.0 128.9,205.2 129.5,206.4 130.1,206.4 130.7,206.3 131.3,206.4 131.9,206.6 132.5,205.7 133.1,207.0 133.7,207.1 134.3,209.1 134.9,208.3 135.5,210.2 136.1,210.2 136.7,210.0 137.3,212.0 137.9,212.1 138.5,212.3 139.1,212.2 139.7,212.7 140.3,213.8 140.9,213.4 141.5,213.4 142.1,213.7 142.7,215.2 143.3,214.9 143.9,215.1 144.5,216.0 145.1,216.3 145.7,214.8 146.3,215.6 146.9,216.5 147.5,216.2 148.1,216.5 148.7,216.2 149.3,217.0 149.9,217.3 150.5,217.3 151.1,217.8 151.7,217.5 152.3,218.2 152.9,218.3 153.5,218.8 154.1,218.6 154.7,218.5 155.3,218.3 155.9,219.2 156.5,218.4 157.1,219.0 157.7,219.7 158.3,220.7 158.9,221.1 159.5,221.5 160.1,221.1 160.7,222.4 161.3,222.0 161.9,222.4 162.5,223.9 163.1,223.3 163.7,225.6 164.3,224.9 164.9,226.2 165.5,225.1 166.1,226.6 166.7,226.5 167.3,227.2 167.9,226.9 168.5,226.9 169.1,226.9 169.7,226.4 170.3,227.1 170.9,227.8 171.5,226.9 172.1,226.9 172.7,226.1 173.3,226.7 173.9,226.1 174.5,227.0 175.1,227.4 175.7,227.6 176.3,227.5 176.9,227.1 177.5,227.8 178.1,227.5 178.7,227.8 179.3,226.8 179.9,227.3 180.5,227.9 181.1,227.5 181.7,227.2 182.3,227.9 182.9,228.6 183.5,228.6 184.1,227.8 184.7,228.4 185.3,227.9 185.9,228.8 186.5,229.0 187.1,228.7 187.7,230.1 188.3,228.9 188.9,229.2 189.5,230.5 190.1,230.6 190.7,230.4 191.3,231.5 191.9,230.7 192.5,232.1 193.1,232.8 193.7,233.2 194.3,233.3 194.9,233.2 195.5,234.0 196.1,233.2 196.7,234.7 197.3,234.4 197.9,234.4 198.5,235.5 199.1,235.4 199.7,235.6 200.3,235.6" fill="none" stroke="#00ffff" stroke-width="1.2" stroke-linejoin="round"/>
<polyline points="199.7,235.6 200.3,235.6 200.9,235.7 201.5,236.1 202.1,236.5 202.7,236.6 203.3,237.0 203.9,237.6 204.5,237.7 205.1,238.1 205.7,238.5 206.3,238.7 206.9,238.8 207.5,239.0 208.1,239.1 208.7,239.2 209.3,239.4 209.9,239.9 210.5,239.8 211.1,240.3 211.7,240.3 212.3,240.9 212.9,240.9 213.5,241.0 214.1,241.4 214.7,241.2 215.3,241.3 215.9,241.6 216.5,241.7 217.1,242.2 217.7,241.9 218.3,242.1 218.9,242.5 219.5,242.4 220.1,242.1 220.7,242.3 221.3,242.5 221.9,242.5 222.5,242.2 223.1,242.2 223.7,242.1 224.3,242.3 224.9,242.3 225.5,242.3 226.1,242.4 226.7,242.4 227.3,242.3 227.9,241.9 228.5,241.8 229.1,241.8 229.7,241.7 230.3,242.3 230.9,242.2 231.5,241.8 232.1,242.2 232.7,241.9 233.3,242.1 233.9,242.0 234.5,242.2 235.1,242.1 235.7,241.9 236.3,242.1 236.9,241.8 237.5,242.1 238.1,242.0 238.7,242.0 239.3,242.1 239.9,242.5 240.5,242.5 241.1,242.1 241.7,242.4 242.3,242.7 242.9,242.8 243.5,242.9 244.1,242.7 244.7,243.1 245.3,243.2 245.9,242.8 246.5,243.2 247.1,243.0 247.7,243.0 248.3,243.3 248.9,243.3 249.5,243.2 250.1,243.5 250.7,243.6 251.3,243.6 251.9,243.6 252.5,243.2 253.1,243.3 253.7,243.5 254.3,243.5 254.9,243.5 255.5,243.9 256.1,243.9 256.7,244.1 257.3,244.2 257.9,244.2 258.5,244.2 259.1,244.1 259.7,243.9 260.3,244.3 260.9,244.6 261.5,244.2 262.1,244.5 262.7,244.4 263.3,244.7 263.9,244.6 264.5,244.3 265.1,244.6 265.7,244.7 266.3,244.7 266.9,244.9 267.5,244.7 268.1,244.9 268.7,244.8 269.3,244.9 269.9,244.9 270.5,245.0 271.1,244.8 271.7,245.1 272.3,244.8 272.9,245.1 273.5,245.1 274.1,244.8 274.7,245.2 275.3,244.8 275.9,245.0 276.5,245.0 277.1,244.7 277.7,245.2 278.3,244.7 278.9,244.7 279.5,244.9 280.1,245.0 280.7,244.8 281.3,245.1 281.9,244.7 282.5,245.0 283.1,244.5 283.7,244.7 284.3,244.5 284.9,244.3 285.5,244.1 286.1,244.2 286.7,243.6 287.3,243.6 287.9,243.6 288.5,243.3 289.1,243.1 289.7,243.3 290.3,242.9 290.9,242.6 291.5,242.0 292.1,241.4 292.7,241.2 293.3,240.9 293.9,240.2 294.5,239.9 295.1,239.6 295.7,239.1 296.3,238.6 296.9,238.4 297.5,238.3 298.1,237.8 298.7,237.2 299.3,237.2 299.9,236.5 300.5,236.6 301.1,236.2 301.7,236.1 302.3,236.4 302.9,236.5 303.5,236.4 304.1,237.1 304.7,237.0 305.3,237.5 305.9,238.2 306.5,238.6 307.1,238.7 307.7,239.3 308.3,239.6 308.9,239.6 309.5,240.1 310.1,240.6 310.7,240.3 311.3,240.1 311.9,239.5 312.5,239.1 313.1,237.9 313.7,236.2 314.3,230.3 314.9,221.2 315.5,214.2 316.1,208.0 316.7,203.5 317.3,200.1 317.9,196.9 318.5,194.2 319.1,192.2" fill="none" stroke="#3be6e6" stroke-width="1.0" stroke-linejoin="round"/>
<polyline points="62.3,43.7 62.3,44.4 62.4,45.1 62.4,45.8 62.4,46.5 62.5,47.2 62.5,47.9 62.6,48.6 62.6,49.3 62.6,50.0 62.7,50.7 62.7,51.4 62.7,52.1 62.8,52.8 62.8,53.5 62.9,54.2 62.9,54.9 62.9,55.6 63.0,56.3 63.0,57.0 63.0,57.7 63.1,58.4 63.1,59.1 63.1,59.8 63.2,60.5 63.2,61.2 63.2,61.9 63.3,62.6 63.3,63.3 63.3,64.0 63.4,64.7 63.4,65.4 63.4,66.1 63.5,66.8 63.5,67.5 63.5,68.2 63.6,68.9 63.6,69.6 63.6,70.3 63.7,71.0 63.7,71.7 63.7,72.4 63.8,73.1 63.8,73.8 63.8,74.5 63.9,75.2 63.9,75.9 63.9,76.6 64.0,77.3 64.0,78.0 64.0,78.7 64.1,79.4 64.1,80.1 64.2,80.8 64.2,81.5 64.2,82.2 64.3,82.8 64.3,83.5 64.4,84.2 64.4,84.9 64.4,85.6 64.5,86.3 64.5,87.0 64.6,87.7 64.6,88.4 64.6,89.1 64.7,89.8 64.7,90.5 64.8,91.2 64.9,91.9 64.9,92.6 65.0,93.3 65.1,94.0 65.1,94.7 65.2,95.4 65.3,96.1 65.3,96.8 65.4,97.5 65.5,98.2 65.8,98.0 66.2,97.4 66.6,96.8 66.9,96.2 67.5,95.9 68.2,95.6 68.8,95.4 69.5,95.2 69.8,95.8 70.1,96.5 70.4,97.1 70.7,97.7 71.0,98.4 71.1,99.0 71.2,99.7 71.4,100.4 71.5,101.1 71.6,101.8 71.7,102.5 71.8,103.2 71.8,103.9 71.8,104.6 71.8,105.3 71.8,106.0 71.8,106.7 71.8,107.4 71.8,108.1 71.8,108.8 71.8,109.5 71.8,110.2 71.9,110.9 71.9,111.6 71.9,112.3 71.9,113.0 71.9,113.7 71.9,114.4 71.9,115.1 71.9,115.8 71.9,116.5 71.9,117.2 71.9,116.9 71.9,116.2 71.9,115.5 71.9,114.8 71.9,114.1 72.0,113.4 72.0,112.7 72.0,112.0 72.0,111.3 72.0,110.6 72.0,109.9 72.0,109.2 72.0,108.5 72.0,107.8 72.0,107.1 72.1,106.4 72.1,105.7 72.1,105.0 72.1,104.3 72.1,103.6 72.2,103.0 72.8,102.9 73.3,102.4 73.8,102.7 74.2,103.2 74.3,103.9 74.4,104.6 74.5,105.3 74.5,106.0 74.5,106.7 74.5,107.4 74.5,108.1 74.5,108.8 74.5,109.5 74.5,110.2 74.5,110.9 74.5,111.6 74.5,112.3 74.5,113.0 74.5,113.7 74.6,114.4 74.6,115.1 74.6,115.8 74.6,116.5 74.6,117.2 74.6,117.9 74.6,118.6 74.6,119.3 74.6,120.0 74.6,120.7 74.6,121.4 74.6,122.1 74.6,122.8 74.6,123.5 74.6,124.2 74.6,124.9 74.6,125.6 74.6,126.3 74.6,127.0 74.6,127.7 74.6,128.4 74.6,129.1 74.6,129.8 74.6,130.5 74.6,131.2 74.7,131.9 74.7,132.6 74.7,133.3 74.7,134.0 74.7,134.7 74.7,135.4 74.7,136.1 74.7,136.8 74.7,137.5 74.7,138.2 74.7,138.9 74.7,139.6 74.7,140.3 74.7,141.0 74.7,141.7 74.7,142.4 74.7,143.1 74.7,143.8 74.7,144.5 74.7,145.2 74.7,145.9 74.7,146.6 74.7,147.3 74.7,148.0 74.7,148.7 74.7,149.4 74.7,150.1 74.7,150.8 74.7,151.5 74.7,152.2 74.7,152.9 74.7,153.6 74.7,154.3 74.7,155.0 74.7,155.7 74.7,156.4 74.8,157.1 74.8,157.8 74.8,158.5 74.8,159.2 74.8,159.9 74.8,160.6 74.8,161.3 74.8,162.0 74.8,162.7 74.8,163.4 74.8,164.1 74.8,164.8 74.8,165.5 74.8,166.2 74.8,166.9 74.8,167.6 74.8,168.3 74.8,169.0 74.8,169.7 74.8,170.4 74.8,171.1 74.8,171.8 74.8,172.5 74.8,173.2 74.8,173.9 74.8,174.6 74.8,175.3 74.8,176.0 74.8,176.7 74.8,177.4 74.8,178.1 74.8,178.8 74.8,179.5 74.8,180.2 74.8,180.9 74.8,181.6 74.8,182.3 74.8,183.0 74.8,183.7 74.8,184.4 74.8,185.1 74.8,185.8 74.8,186.5 74.8,187.2 74.8,187.9 74.8,188.6 74.8,189.3 74.8,190.0 74.9,190.7 74.9,191.4 74.9,192.1 74.9,192.8 74.9,193.5 74.9,194.2 74.9,194.9 74.9,195.6 74.9,196.3 74.9,197.0 74.9,197.7 74.9,198.4 74.9,199.1 74.9,199.8 74.9,200.5 74.9,201.2 74.9,201.9 74.9,202.6 74.9,203.3 74.9,204.0 74.9,204.7 74.9,205.4 74.9,206.1 74.9,206.8 75.6,206.8 75.6,206.1 75.7,205.4 75.7,204.7 75.7,204.0 75.7,203.3 75.8,202.6 75.8,201.9 75.8,201.2 75.8,200.5 75.9,199.8 75.9,199.1 75.9,198.4 76.0,197.7 76.0,197.0 76.0,196.3 76.0,195.6 76.1,194.9 76.1,194.2 76.5,194.5 77.0,195.0 77.5,195.5 78.0,195.8 78.2,195.2 78.4,194.5 78.5,193.8 78.7,193.1 78.9,192.5 78.9,192.8 79.0,193.5 79.1,194.2 79.1,194.9 79.2,195.6 79.2,196.3 79.3,197.0 79.3,197.7 79.4,198.4 79.5,199.1 79.5,199.8 79.6,200.5 79.6,201.2 79.7,201.9 79.8,202.6 79.8,203.1 79.9,202.4 79.9,201.7 80.0,201.0 80.1,200.3 80.2,199.6 80.2,198.9 80.3,198.2 80.4,197.5 80.4,196.8 80.5,196.1 80.6,195.4 80.6,194.7 80.7,194.2 80.8,194.9 80.9,195.6 81.0,196.2 81.1,196.9 81.1,197.6 81.2,198.3 81.3,199.0 81.4,199.7 81.5,200.4 81.6,201.1 81.6,201.0 81.7,200.3 81.8,199.6 81.8,198.9 81.9,198.2 82.0,197.5 82.1,196.8 82.1,196.1 82.2,195.4 82.3,194.7 82.3,194.0 82.4,193.3 82.5,192.6 82.7,192.0 83.0,191.3 83.3,190.7 83.6,190.1 83.9,189.5 84.2,188.8 84.7,189.1 85.2,189.6 85.7,190.1 86.1,190.4 86.3,189.7 86.5,189.1 86.6,188.4 86.8,187.7 87.0,187.0 87.1,186.3 87.3,185.7 87.5,185.0 87.7,184.3 87.8,183.6 88.1,183.0 88.4,182.3 88.7,181.7 89.0,181.1 89.3,180.4 89.6,179.8 89.8,180.0 90.1,180.7 90.3,181.4 90.5,182.0 90.7,182.7 90.9,183.4 91.1,184.0 91.4,184.7 91.6,185.4 91.8,186.0 92.0,186.7 92.2,187.3 92.5,188.0 92.7,188.7 92.9,189.3 93.1,190.0 93.4,190.6 93.8,191.2 94.2,191.8 94.6,192.4 95.0,193.0 95.4,193.5 95.8,194.1 96.2,194.7 96.6,195.3 97.0,195.8 97.2,196.5 97.4,197.2 97.6,197.8 97.8,198.5 98.1,199.2 98.3,199.8 98.5,200.5 98.7,201.2 98.8,201.8 98.9,202.5 99.0,203.2 99.0,203.9 99.1,204.6 99.1,205.3 99.2,206.0 99.2,206.7 99.3,207.4 99.4,208.1 99.4,208.8 99.5,209.5 99.5,210.2 99.6,210.9 99.7,211.6 99.7,212.1 99.8,211.4 99.8,210.7 99.9,210.0 99.9,209.3 100.0,208.6 100.1,207.6 100.1,207.5 100.2,206.1 100.2,206.1 100.3,205.7 100.3,204.8 100.4,203.9 100.5,203.4 100.5,202.3 100.6,201.4 101.0,201.1 101.6,202.2 101.8,202.4 101.8,202.9 101.8,203.4 101.9,204.3 101.9,205.5 101.9,206.1 101.9,207.1 101.9,207.8 101.9,207.9 101.9,209.3 102.0,209.6 102.0,210.0 102.0,211.0 102.0,212.2 102.0,212.1 102.0,211.3 102.1,210.7 102.1,209.6 102.1,209.3 102.1,207.7 102.1,207.1 102.2,206.3 102.2,206.5 102.2,205.4 102.2,205.3 102.2,203.6 102.3,202.8 102.3,202.2 102.4,201.6 102.8,203.1 103.3,202.9 103.7,203.4 104.2,204.7 104.8,205.1 105.4,205.0 105.9,205.4 106.5,206.3 107.0,206.2 107.6,206.5 108.2,206.4 108.7,206.3 109.3,205.5 109.9,205.3 110.5,204.8 111.1,205.0 111.4,205.4 111.8,206.3 112.2,207.0 112.6,207.7 113.0,208.6 113.6,208.4 114.3,207.9 115.0,208.6 115.6,209.3 116.3,209.1 117.0,209.3 117.7,208.6 118.4,207.9 119.0,207.8 119.7,207.6 120.4,207.9 121.1,207.3 121.7,207.1 122.4,207.7 123.1,207.5 123.8,207.6 124.5,206.4 125.1,207.1 125.8,206.0 126.5,206.4 127.2,206.3 127.9,205.5 128.5,206.4 129.2,206.1 129.9,206.0 130.6,205.4 131.3,204.7 131.9,205.5 132.6,205.2 133.3,205.2 133.9,205.2 134.6,205.6 135.2,206.3 135.7,206.6 136.2,207.2 136.7,208.2 137.2,207.9 137.7,208.8 138.2,208.7 138.7,209.0 139.3,210.5 139.9,210.1 140.4,210.4 141.0,211.2 141.5,212.2 142.1,212.5 142.7,212.7 143.4,212.6 144.0,213.2 144.6,213.7 145.2,213.7 145.9,214.0 146.5,213.8 147.2,214.7 147.9,214.5 148.6,214.3 149.3,214.6 149.9,215.0 150.6,215.0 151.3,214.8 152.0,215.3 152.6,215.6 153.3,215.6 154.0,215.8 154.6,216.2 155.3,217.0 155.9,216.6 156.5,217.8 157.1,217.8 157.8,217.5 158.4,218.8 159.0,218.1 159.6,218.3 160.3,219.6 160.9,219.4 161.5,219.5 162.1,219.7 162.8,220.6 163.4,220.5 164.0,220.9 164.5,220.8 165.0,219.6 165.5,220.0 166.0,219.1 166.4,219.7 166.8,220.1 167.2,220.6 167.6,221.1 167.9,221.9 168.6,222.0 169.2,222.6 169.9,222.6 170.6,222.5 171.2,222.5 171.9,222.7 172.5,222.5 173.2,222.8 173.9,221.6 174.5,221.7 175.2,222.2 175.9,220.9 176.5,221.1 177.2,221.5 177.9,221.4 178.6,220.6 179.3,221.2 180.0,220.7 180.7,221.3 181.4,221.2 182.1,221.5 182.8,221.5 183.4,221.5 184.1,221.8 184.8,222.2 185.4,222.4 185.9,222.9 186.5,223.0 187.1,223.3 187.6,224.2 188.2,224.3 188.7,224.8 189.3,225.3 190.0,225.3 190.6,225.9 191.2,225.8 191.8,226.4 192.5,226.8 193.1,226.7 193.8,227.4 194.5,227.1 195.1,227.6 195.8,227.5 196.5,227.9 197.2,228.0 197.8,228.2 198.4,228.6 199.0,229.1 199.7,229.5 200.3,229.8 200.9,230.1 201.5,230.1 202.1,230.8 202.6,231.4 203.2,231.9 203.7,231.9 204.3,232.7 204.9,232.6 205.5,233.2 206.1,233.4 206.7,234.2 207.3,234.1 208.0,234.6 208.6,234.6 209.2,235.2 209.9,235.5 210.6,235.3 211.3,235.5 212.0,235.5 212.6,235.9 213.3,236.0 213.9,236.8 214.5,236.8 215.2,236.8 215.8,237.4 216.4,237.8 217.0,237.7 217.7,238.1 218.3,238.6 218.9,238.7 219.5,239.3 220.2,239.5 220.8,239.7 221.4,240.0 222.1,239.3 222.7,238.9 223.2,238.8 223.7,238.2 224.1,237.7 224.6,237.4 225.0,236.3 225.7,236.8 226.4,236.6 227.1,236.3 227.8,236.1 228.5,235.8 229.2,235.8 229.9,236.1 230.6,235.9 231.3,236.0 232.0,235.8 232.7,236.2 233.4,235.9 234.1,236.3 234.7,236.5 235.4,236.1 236.1,236.3 236.8,236.9 237.5,236.7 238.1,237.3 238.8,237.3 239.4,237.8 240.0,238.3 240.6,238.5 241.3,238.8 241.9,238.8 242.6,238.9 243.2,239.4 243.9,239.5 244.6,239.9 245.3,239.7 246.0,240.1 246.7,239.9 247.4,240.1 248.1,239.8 248.8,239.8 249.5,240.1 250.1,239.9 250.8,239.6 251.5,239.5 252.2,239.5 252.9,239.2 253.5,239.1 254.2,238.8 254.9,239.1 255.6,239.4 256.3,239.5 257.0,239.3 257.7,239.1 258.4,239.6 259.1,239.5 259.8,239.9 260.5,240.0 261.1,239.6 261.4,239.2 261.7,238.8 262.0,238.1 262.3,237.1 262.6,236.4 262.9,236.1 263.5,235.5 264.2,235.8 264.9,235.3 265.5,235.0 266.2,234.9 266.8,234.8 267.5,234.6 268.2,234.5 268.9,234.2 269.6,233.8 270.2,233.8 270.9,233.4 271.6,234.0 272.2,234.3 272.8,234.3 273.5,234.7 274.1,235.0 274.7,235.4 275.3,236.0 276.0,235.8 276.6,236.1 277.2,236.8 277.9,237.1 278.4,237.5 279.0,237.9 279.5,238.3 280.1,238.6 280.6,239.1 281.2,239.5 281.9,239.4 282.5,240.1 283.2,240.1 283.8,239.7 284.3,239.0 284.9,238.8 285.5,238.2 286.1,238.1 286.5,237.1 286.9,237.0 287.3,236.1 287.8,236.0 288.3,235.5 288.9,235.0 289.5,234.3 290.1,234.3 290.8,233.9 291.4,233.9 292.0,233.5 292.6,233.1 293.3,232.9 293.9,232.6 294.6,232.5 295.3,232.6 296.0,232.5 296.7,232.3 297.4,232.5 298.1,233.3 298.7,233.0 299.4,233.4 300.1,233.6 300.8,233.5 301.5,233.5 302.2,234.0 302.8,233.3 303.4,233.1 304.0,232.8 304.6,232.6 305.1,231.8 305.7,231.8 306.3,231.2 306.9,230.7 307.5,230.6 308.0,229.8 308.6,229.6 309.2,229.4 309.8,229.3 310.4,229.7 311.0,229.8 311.7,230.2 312.2,230.6 312.8,231.1 313.4,231.8 313.9,232.1 314.5,232.0 315.1,231.2 315.3,230.5 315.6,230.3 315.8,229.2 316.0,228.5 316.3,228.2 316.6,227.7 316.9,226.9 317.2,226.3 317.5,226.2 317.8,226.5 318.1,226.9 318.2,225.8 318.3,225.2 318.5,224.3 318.6,224.0 319.0,224.8 319.3,225.4" fill="none" stroke="#000" stroke-width="1.35" stroke-linejoin="round"/>
</g>
<defs><linearGradient id="gg" gradientUnits="userSpaceOnUse" x1="175" y1="80" x2="297" y2="60"><stop offset="0" stop-color="#e4e4e4"/><stop offset="0.45" stop-color="#cdcdcd"/><stop offset="0.75" stop-color="#aaaaaa"/><stop offset="1" stop-color="#7c7c7c"/></linearGradient><radialGradient id="gr" gradientUnits="userSpaceOnUse" cx="291" cy="38" r="34"><stop offset="0" stop-color="#202020" stop-opacity="0.95"/><stop offset="0.45" stop-color="#404040" stop-opacity="0.6"/><stop offset="1" stop-color="#808080" stop-opacity="0"/></radialGradient><radialGradient id="gr2" gradientUnits="userSpaceOnUse" cx="281" cy="92" r="18"><stop offset="0" stop-color="#606060" stop-opacity="0.45"/><stop offset="1" stop-color="#808080" stop-opacity="0"/></radialGradient></defs>
<rect x="169.2" y="33.1" width="128.9" height="100.3" fill="#fff" stroke="#000" stroke-width="1.25"/>
<polygon points="174.3,66.9 176.6,62.9 178.3,63.4 181.1,65.1 183.4,65.7 186.9,64.6 189.1,63.4 190.3,62.3 192.0,60.6 193.1,58.3 194.3,56.0 195.4,53.7 196.6,52.6 198.3,53.7 199.3,56.9 202.1,59.7 205.0,60.4 208.6,59.7 209.3,58.3 207.1,56.1 205.0,55.4 202.9,52.6 200.7,48.3 201.4,45.4 203.6,44.0 206.4,41.9 209.3,41.1 212.1,39.7 214.3,38.3 216.4,39.0 218.6,40.4 221.4,41.1 223.6,40.4 225.7,42.6 228.6,45.4 230.7,48.3 232.1,51.1 233.6,53.3 235.0,55.4 236.4,56.9 237.9,56.1 240.0,54.0 241.4,51.1 242.1,48.3 243.6,46.9 245.1,45.4 247.7,46.3 250.3,45.4 252.9,44.6 255.4,43.7 258.9,43.7 262.3,42.9 265.7,42.0 268.3,42.9 270.9,43.7 274.3,44.6 276.9,45.4 279.4,43.7 282.0,40.3 284.6,38.6 288.0,36.9 290.6,36.0 291.4,40.3 292.3,45.4 292.3,50.6 291.4,55.7 292.3,59.1 294.9,62.6 295.7,66.0 297.0,68.6 296.2,71.1 293.6,72.9 294.3,77.1 295.0,81.4 294.3,85.7 295.0,90.0 293.6,94.3 292.9,98.6 293.6,102.9 292.9,107.1 294.3,110.7 291.4,112.9 288.6,115.0 287.1,118.6 285.0,120.0 281.4,117.9 278.6,116.4 275.0,115.0 271.4,112.9 268.6,110.0 264.3,109.3 260.0,108.6 255.3,109.0 252.5,108.2 250.0,106.6 246.4,105.0 243.9,102.4 240.4,101.6 237.0,102.4 233.6,104.1 230.1,105.9 227.6,107.6 225.0,105.9 221.6,103.3 217.3,102.4 214.7,100.7 212.1,98.1 208.7,96.4 205.3,93.9 202.7,91.3 201.9,88.7 201.0,85.3 200.1,81.9 201.0,78.4 201.4,75.4 200.7,72.6 197.9,73.3 195.0,72.6 193.7,73.1 192.0,75.4 190.3,77.7 189.1,76.6 188.0,74.3 185.7,73.1 182.3,72.0 178.9,70.9 176.0,69.7 174.3,67.4" fill="url(#gg)"/>
<polygon points="174.3,66.9 176.6,62.9 178.3,63.4 181.1,65.1 183.4,65.7 186.9,64.6 189.1,63.4 190.3,62.3 192.0,60.6 193.1,58.3 194.3,56.0 195.4,53.7 196.6,52.6 198.3,53.7 199.3,56.9 202.1,59.7 205.0,60.4 208.6,59.7 209.3,58.3 207.1,56.1 205.0,55.4 202.9,52.6 200.7,48.3 201.4,45.4 203.6,44.0 206.4,41.9 209.3,41.1 212.1,39.7 214.3,38.3 216.4,39.0 218.6,40.4 221.4,41.1 223.6,40.4 225.7,42.6 228.6,45.4 230.7,48.3 232.1,51.1 233.6,53.3 235.0,55.4 236.4,56.9 237.9,56.1 240.0,54.0 241.4,51.1 242.1,48.3 243.6,46.9 245.1,45.4 247.7,46.3 250.3,45.4 252.9,44.6 255.4,43.7 258.9,43.7 262.3,42.9 265.7,42.0 268.3,42.9 270.9,43.7 274.3,44.6 276.9,45.4 279.4,43.7 282.0,40.3 284.6,38.6 288.0,36.9 290.6,36.0 291.4,40.3 292.3,45.4 292.3,50.6 291.4,55.7 292.3,59.1 294.9,62.6 295.7,66.0 297.0,68.6 296.2,71.1 293.6,72.9 294.3,77.1 295.0,81.4 294.3,85.7 295.0,90.0 293.6,94.3 292.9,98.6 293.6,102.9 292.9,107.1 294.3,110.7 291.4,112.9 288.6,115.0 287.1,118.6 285.0,120.0 281.4,117.9 278.6,116.4 275.0,115.0 271.4,112.9 268.6,110.0 264.3,109.3 260.0,108.6 255.3,109.0 252.5,108.2 250.0,106.6 246.4,105.0 243.9,102.4 240.4,101.6 237.0,102.4 233.6,104.1 230.1,105.9 227.6,107.6 225.0,105.9 221.6,103.3 217.3,102.4 214.7,100.7 212.1,98.1 208.7,96.4 205.3,93.9 202.7,91.3 201.9,88.7 201.0,85.3 200.1,81.9 201.0,78.4 201.4,75.4 200.7,72.6 197.9,73.3 195.0,72.6 193.7,73.1 192.0,75.4 190.3,77.7 189.1,76.6 188.0,74.3 185.7,73.1 182.3,72.0 178.9,70.9 176.0,69.7 174.3,67.4" fill="url(#gr2)"/>
<polygon points="174.3,66.9 176.6,62.9 178.3,63.4 181.1,65.1 183.4,65.7 186.9,64.6 189.1,63.4 190.3,62.3 192.0,60.6 193.1,58.3 194.3,56.0 195.4,53.7 196.6,52.6 198.3,53.7 199.3,56.9 202.1,59.7 205.0,60.4 208.6,59.7 209.3,58.3 207.1,56.1 205.0,55.4 202.9,52.6 200.7,48.3 201.4,45.4 203.6,44.0 206.4,41.9 209.3,41.1 212.1,39.7 214.3,38.3 216.4,39.0 218.6,40.4 221.4,41.1 223.6,40.4 225.7,42.6 228.6,45.4 230.7,48.3 232.1,51.1 233.6,53.3 235.0,55.4 236.4,56.9 237.9,56.1 240.0,54.0 241.4,51.1 242.1,48.3 243.6,46.9 245.1,45.4 247.7,46.3 250.3,45.4 252.9,44.6 255.4,43.7 258.9,43.7 262.3,42.9 265.7,42.0 268.3,42.9 270.9,43.7 274.3,44.6 276.9,45.4 279.4,43.7 282.0,40.3 284.6,38.6 288.0,36.9 290.6,36.0 291.4,40.3 292.3,45.4 292.3,50.6 291.4,55.7 292.3,59.1 294.9,62.6 295.7,66.0 297.0,68.6 296.2,71.1 293.6,72.9 294.3,77.1 295.0,81.4 294.3,85.7 295.0,90.0 293.6,94.3 292.9,98.6 293.6,102.9 292.9,107.1 294.3,110.7 291.4,112.9 288.6,115.0 287.1,118.6 285.0,120.0 281.4,117.9 278.6,116.4 275.0,115.0 271.4,112.9 268.6,110.0 264.3,109.3 260.0,108.6 255.3,109.0 252.5,108.2 250.0,106.6 246.4,105.0 243.9,102.4 240.4,101.6 237.0,102.4 233.6,104.1 230.1,105.9 227.6,107.6 225.0,105.9 221.6,103.3 217.3,102.4 214.7,100.7 212.1,98.1 208.7,96.4 205.3,93.9 202.7,91.3 201.9,88.7 201.0,85.3 200.1,81.9 201.0,78.4 201.4,75.4 200.7,72.6 197.9,73.3 195.0,72.6 193.7,73.1 192.0,75.4 190.3,77.7 189.1,76.6 188.0,74.3 185.7,73.1 182.3,72.0 178.9,70.9 176.0,69.7 174.3,67.4" fill="url(#gr)"/>
<polygon points="174.3,66.9 176.6,62.9 178.3,63.4 181.1,65.1 183.4,65.7 186.9,64.6 189.1,63.4 190.3,62.3 192.0,60.6 193.1,58.3 194.3,56.0 195.4,53.7 196.6,52.6 198.3,53.7 199.3,56.9 202.1,59.7 205.0,60.4 208.6,59.7 209.3,58.3 207.1,56.1 205.0,55.4 202.9,52.6 200.7,48.3 201.4,45.4 203.6,44.0 206.4,41.9 209.3,41.1 212.1,39.7 214.3,38.3 216.4,39.0 218.6,40.4 221.4,41.1 223.6,40.4 225.7,42.6 228.6,45.4 230.7,48.3 232.1,51.1 233.6,53.3 235.0,55.4 236.4,56.9 237.9,56.1 240.0,54.0 241.4,51.1 242.1,48.3 243.6,46.9 245.1,45.4 247.7,46.3 250.3,45.4 252.9,44.6 255.4,43.7 258.9,43.7 262.3,42.9 265.7,42.0 268.3,42.9 270.9,43.7 274.3,44.6 276.9,45.4 279.4,43.7 282.0,40.3 284.6,38.6 288.0,36.9 290.6,36.0 291.4,40.3 292.3,45.4 292.3,50.6 291.4,55.7 292.3,59.1 294.9,62.6 295.7,66.0 297.0,68.6 296.2,71.1 293.6,72.9 294.3,77.1 295.0,81.4 294.3,85.7 295.0,90.0 293.6,94.3 292.9,98.6 293.6,102.9 292.9,107.1 294.3,110.7 291.4,112.9 288.6,115.0 287.1,118.6 285.0,120.0 281.4,117.9 278.6,116.4 275.0,115.0 271.4,112.9 268.6,110.0 264.3,109.3 260.0,108.6 255.3,109.0 252.5,108.2 250.0,106.6 246.4,105.0 243.9,102.4 240.4,101.6 237.0,102.4 233.6,104.1 230.1,105.9 227.6,107.6 225.0,105.9 221.6,103.3 217.3,102.4 214.7,100.7 212.1,98.1 208.7,96.4 205.3,93.9 202.7,91.3 201.9,88.7 201.0,85.3 200.1,81.9 201.0,78.4 201.4,75.4 200.7,72.6 197.9,73.3 195.0,72.6 193.7,73.1 192.0,75.4 190.3,77.7 189.1,76.6 188.0,74.3 185.7,73.1 182.3,72.0 178.9,70.9 176.0,69.7 174.3,67.4" fill="none" stroke="#000" stroke-width="1.4" stroke-linejoin="round"/>
<polyline points="188.2,54.6 189.8,54.2 190.8,55.6 190.2,57.6 191.0,59.8 190.3,62.0 188.2,61.8 187.2,60.0 188.0,58.2 187.5,56.2 188.2,54.6" fill="#e8e8e8" stroke="#000" stroke-width="1.3" stroke-linejoin="round"/>
<path d="M174.8,64.6 C175.5,64.9 177.5,65.8 178.9,66.3 C180.3,66.8 181.7,67.3 183.4,67.4 C185.1,67.5 187.2,67.2 189.1,66.9 C191.0,66.6 193.0,65.7 194.9,65.4 C196.8,65.1 198.9,64.9 200.6,64.9 C202.3,64.9 203.9,65.0 205.3,65.4 C206.8,65.9 207.5,66.6 209.3,67.6 C211.2,68.5 214.0,69.8 216.4,71.1 C218.8,72.4 221.2,74.3 223.6,75.4 C226.0,76.5 228.3,77.0 230.7,77.5 C233.1,78.0 235.3,78.4 237.9,78.2 C240.5,78.0 243.8,77.7 246.4,76.5 C249.0,75.3 251.6,73.1 253.7,71.1 C255.8,69.1 257.5,66.3 258.9,64.3 C260.3,62.3 261.0,60.5 262.3,59.1 C263.6,57.7 265.0,56.4 266.6,55.7 C268.2,55.0 270.9,55.0 271.7,54.9" fill="none" stroke="#e02020" stroke-width="1.6" stroke-linecap="round"/>
<rect x="50.0" y="16.4" width="282.7" height="234.1" fill="none" stroke="#000" stroke-width="1.35"/>
<line x1="45" y1="250.5" x2="50" y2="250.5" stroke="#000" stroke-width="1.35"/>
<text transform="translate(38.30,255.70) scale(1.020,1)" font-size="15.2" text-anchor="end">0</text>
<line x1="45" y1="217.1" x2="50" y2="217.1" stroke="#000" stroke-width="1.35"/>
<text transform="translate(38.30,222.26) scale(1.020,1)" font-size="15.2" text-anchor="end">1</text>
<line x1="45" y1="183.6" x2="50" y2="183.6" stroke="#000" stroke-width="1.35"/>
<text transform="translate(38.30,188.82) scale(1.020,1)" font-size="15.2" text-anchor="end">2</text>
<line x1="45" y1="150.2" x2="50" y2="150.2" stroke="#000" stroke-width="1.35"/>
<text transform="translate(38.30,155.38) scale(1.020,1)" font-size="15.2" text-anchor="end">3</text>
<line x1="45" y1="116.7" x2="50" y2="116.7" stroke="#000" stroke-width="1.35"/>
<text transform="translate(38.30,121.94) scale(1.020,1)" font-size="15.2" text-anchor="end">4</text>
<line x1="45" y1="83.3" x2="50" y2="83.3" stroke="#000" stroke-width="1.35"/>
<text transform="translate(38.30,88.50) scale(1.020,1)" font-size="15.2" text-anchor="end">5</text>
<line x1="45" y1="49.9" x2="50" y2="49.9" stroke="#000" stroke-width="1.35"/>
<text transform="translate(38.30,55.06) scale(1.020,1)" font-size="15.2" text-anchor="end">6</text>
<line x1="45" y1="16.4" x2="50" y2="16.4" stroke="#000" stroke-width="1.35"/>
<text transform="translate(38.30,21.62) scale(1.020,1)" font-size="15.2" text-anchor="end">7</text>
<line x1="62.1" y1="250.5" x2="62.1" y2="255.5" stroke="#000" stroke-width="1.35"/>
<text transform="translate(62.10,271.90) scale(1.020,1)" font-size="15.2" text-anchor="middle">0</text>
<line x1="129.2" y1="250.5" x2="129.2" y2="255.5" stroke="#000" stroke-width="1.35"/>
<text transform="translate(129.17,271.90) scale(1.020,1)" font-size="15.2" text-anchor="middle">10</text>
<line x1="196.2" y1="250.5" x2="196.2" y2="255.5" stroke="#000" stroke-width="1.35"/>
<text transform="translate(196.24,271.90) scale(1.020,1)" font-size="15.2" text-anchor="middle">20</text>
<line x1="263.3" y1="250.5" x2="263.3" y2="255.5" stroke="#000" stroke-width="1.35"/>
<text transform="translate(263.31,271.90) scale(1.020,1)" font-size="15.2" text-anchor="middle">30</text>
<line x1="330.4" y1="250.5" x2="330.4" y2="255.5" stroke="#000" stroke-width="1.35"/>
<text transform="translate(330.38,271.90) scale(1.020,1)" font-size="15.2" text-anchor="middle">40</text>
<text x="191.0" y="291.2" font-size="14.0" text-anchor="middle" textLength="97.0" lengthAdjust="spacingAndGlyphs">Distance (km)</text>
<text transform="translate(18.5,194.9) rotate(-90)" font-size="13.0" text-anchor="start" textLength="98.6" lengthAdjust="spacingAndGlyphs">Velocity (km a</text>
<rect x="10.1" y="86.0" width="1.3" height="6.0" fill="#000"/>
<text transform="translate(13.2,82.0) rotate(-90)" font-size="9.6" text-anchor="start">1</text>
<text transform="translate(18.0,75.2) rotate(-90)" font-size="13.0" text-anchor="start">)</text>
<text x="4.8" y="12.9" font-size="17.0" text-anchor="start">a</text>
<rect x="4.5" y="302" width="340.5" height="58.6" rx="2.5" fill="#fff" stroke="#d5d5d5" stroke-width="1"/>
<line x1="9.6" y1="312.7" x2="35.0" y2="312.7" stroke="#ce23ce" stroke-width="1.5"/>
<text transform="translate(44.30,317.10) scale(1.070,1)" font-size="12.8" text-anchor="start">1 a</text>
<line x1="9.6" y1="331.1" x2="35.0" y2="331.1" stroke="#bf36d0" stroke-width="1.5"/>
<text transform="translate(44.30,335.50) scale(1.070,1)" font-size="12.8" text-anchor="start">10 a</text>
<line x1="9.6" y1="349.3" x2="35.0" y2="349.3" stroke="#b04ad2" stroke-width="1.5"/>
<text transform="translate(44.30,353.70) scale(1.070,1)" font-size="12.8" text-anchor="start">20 a</text>
<line x1="96.0" y1="312.7" x2="122.2" y2="312.7" stroke="#a25dd5" stroke-width="1.5"/>
<text transform="translate(130.60,317.10) scale(1.070,1)" font-size="12.8" text-anchor="start">30 a</text>
<line x1="96.0" y1="331.1" x2="122.2" y2="331.1" stroke="#9371d7" stroke-width="1.5"/>
<text transform="translate(130.60,335.50) scale(1.070,1)" font-size="12.8" text-anchor="start">40 a</text>
<line x1="96.0" y1="349.3" x2="122.2" y2="349.3" stroke="#8484da" stroke-width="1.5"/>
<text transform="translate(130.60,353.70) scale(1.070,1)" font-size="12.8" text-anchor="start">50 a</text>
<line x1="182.9" y1="312.7" x2="208.6" y2="312.7" stroke="#7698dc" stroke-width="1.5"/>
<text transform="translate(217.60,317.10) scale(1.070,1)" font-size="12.8" text-anchor="start">60 a</text>
<line x1="182.9" y1="331.1" x2="208.6" y2="331.1" stroke="#67abdf" stroke-width="1.5"/>
<text transform="translate(217.60,335.50) scale(1.070,1)" font-size="12.8" text-anchor="start">70 a</text>
<line x1="182.9" y1="349.3" x2="208.6" y2="349.3" stroke="#58bfe1" stroke-width="1.5"/>
<text transform="translate(217.60,353.70) scale(1.070,1)" font-size="12.8" text-anchor="start">80 a</text>
<line x1="269.8" y1="312.7" x2="295.5" y2="312.7" stroke="#4ad2e3" stroke-width="1.5"/>
<text transform="translate(304.30,317.10) scale(1.070,1)" font-size="12.8" text-anchor="start">90 a</text>
<line x1="269.8" y1="331.1" x2="295.5" y2="331.1" stroke="#3be6e6" stroke-width="1.5"/>
<text transform="translate(304.30,335.50) scale(1.070,1)" font-size="12.8" text-anchor="start">100 a</text>
<line x1="269.8" y1="349.3" x2="295.5" y2="349.3" stroke="#000" stroke-width="1.3"/>
<text transform="translate(304.30,353.70) scale(1.030,1)" font-size="12.8" text-anchor="start">Obs.</text>
<g clip-path="url(#cb)">
<polyline points="65.1,403.2 65.5,403.8 65.9,404.5 66.3,405.3 66.7,406.2 67.1,407.1 67.5,407.6 67.9,407.9 68.4,408.4 68.9,409.1 69.3,409.6 69.8,410.0 70.3,410.7 70.8,411.6 71.3,412.5 71.9,413.5 72.6,414.0 73.2,413.7 73.9,413.6 74.5,414.0 75.2,414.9 76.0,415.5 76.7,416.0 77.5,416.5 78.2,416.5 78.9,416.1 79.7,416.3 80.4,417.4 81.2,418.3 81.9,418.3 82.7,418.0 83.3,418.2 84.0,418.7 84.7,419.2 85.3,419.9 86.0,420.8 86.7,421.4 87.3,421.4 88.0,421.4 88.7,421.6 89.4,422.3 90.1,423.1 90.8,423.7 91.5,424.0 92.2,424.1 92.9,424.1 93.6,424.3 94.2,425.0 94.9,425.8 95.6,426.3 96.3,426.5 96.9,426.8 97.6,427.2 98.3,427.6 99.0,427.9 99.7,428.2 100.5,428.6 101.3,428.7 102.1,428.7 102.9,428.9 103.7,429.0 104.5,428.9 105.3,429.0 106.1,429.1 106.9,429.0 107.7,429.0 108.5,429.1 109.3,429.1 110.1,428.9 110.9,428.7 111.7,428.7 112.5,428.7 113.3,428.7 114.0,428.6 114.8,428.5 115.6,428.3 116.4,428.1 117.1,427.6 117.8,427.2 118.5,426.9 119.3,426.7 120.0,426.2 120.6,425.8 121.3,425.4 122.0,424.9 122.7,424.4 123.4,424.2 124.1,424.0 124.8,423.6 125.5,423.3 126.3,423.1 127.1,423.0 127.9,422.7 128.6,422.3 129.4,422.2 130.2,422.1 131.0,421.8 131.8,421.7 132.6,421.9 133.4,422.0 134.2,421.7 135.0,421.6 135.8,421.5 136.6,421.5 137.4,421.5 138.2,421.5 139.0,421.4 139.8,421.3 140.6,421.2 141.4,421.2 142.2,421.0 142.9,420.9 143.7,420.9 144.5,421.0 145.3,420.9 146.1,420.8 146.9,420.7 147.7,420.5 148.5,420.4 149.3,420.4 150.1,420.4 150.9,420.6 151.7,420.7 152.5,420.7 153.3,420.6 154.1,420.7 154.9,420.6 155.7,420.6 156.5,420.8 157.3,420.9 158.1,420.8 158.9,420.9 159.7,421.1 160.5,421.2 161.3,421.2 162.1,421.3 162.9,421.4 163.7,421.4 164.5,421.5 165.3,421.6 166.1,421.6 166.9,421.5 167.7,421.3 168.5,421.4 169.3,421.4 170.1,421.2 170.9,421.2 171.7,421.3 172.5,421.5 173.3,421.5 174.1,421.3 174.9,421.3 175.7,421.3 176.5,421.2 177.3,421.1 178.1,421.0 178.9,421.0 179.7,421.0 180.5,420.9 181.3,420.9 182.1,421.0 182.9,421.0 183.7,421.1 184.5,421.1 185.3,421.2 186.1,421.4 186.9,421.6 187.7,421.5 188.5,421.5 189.3,421.7 190.1,421.9 190.8,421.9 191.6,421.8 192.4,421.9 193.2,422.0 194.0,422.0 194.8,421.9 195.6,421.9 196.4,422.0 197.2,422.2 198.0,422.5 198.8,422.6 199.6,422.6 200.4,422.5 201.2,422.4 202.0,422.7 202.8,422.8 203.6,422.8 204.4,422.8 205.2,422.8 206.0,422.9 206.8,423.1 207.6,423.2 208.4,423.2 209.2,423.3 210.0,423.4 210.8,423.4 211.6,423.2 212.4,423.3 213.2,423.5 214.0,423.4 214.8,423.3 215.6,423.5 216.4,423.5 217.2,423.5 218.0,423.3 218.8,423.2 219.6,423.3 220.4,423.5 221.2,423.5 222.0,423.5 222.8,423.7 223.6,423.8 224.4,423.6 225.2,423.5 226.0,423.5 226.8,423.7 227.6,423.8 228.4,423.7 229.2,423.4 230.0,423.2 230.8,423.1 231.6,423.3 232.4,423.3 233.2,423.3 234.0,423.3 234.8,423.2 235.6,423.1 236.4,423.1 237.2,423.1 238.0,423.2 238.8,423.2 239.6,423.2 240.4,423.1 241.2,422.9 242.0,422.8 242.8,422.9 243.6,423.0 244.4,422.9 245.2,422.9 246.0,422.8 246.8,422.7 247.6,422.6 248.4,422.4 249.2,422.4 250.0,422.6 250.8,422.6 251.6,422.6 252.4,422.6 253.2,422.6 254.0,422.6 254.8,422.5 255.6,422.6 256.4,422.6 257.2,422.4 258.0,422.3 258.8,422.4 259.6,422.5 260.4,422.4 261.2,422.2 262.0,422.2 262.8,422.3 263.6,422.4 264.4,422.4 265.2,422.5 266.0,422.4 266.8,422.4 267.6,422.2 268.4,422.1 269.2,422.1 270.0,422.2 270.8,422.2 271.6,422.1 272.4,422.1 273.2,422.4 274.0,422.6 274.8,422.6 275.6,422.5 276.4,422.5 277.2,422.5 278.0,422.6 278.8,422.7 279.6,422.9 280.4,422.9 281.2,422.9 282.0,422.9 282.8,423.0 283.5,423.1 284.3,423.0 285.1,422.9 285.9,422.9 286.7,422.9 287.5,422.8 288.3,422.6 289.1,422.3 289.8,421.9 290.6,421.6 291.4,421.5 292.2,421.6 292.9,421.4 293.7,421.1 294.4,420.8 295.1,420.4 295.8,419.8 296.5,419.3 297.2,419.0 297.9,418.8 298.5,418.4 299.2,418.0 299.9,417.6 300.6,417.1 301.3,416.6 302.0,416.1 302.7,415.9 303.5,415.6 304.2,415.2 304.9,415.0 305.7,414.6 306.4,414.3 307.2,414.1 307.9,413.8 308.7,413.5 309.4,413.3 310.1,413.0 310.8,412.5 311.5,412.0 312.2,411.5 312.8,411.0 313.3,410.6 313.4,409.8 313.5,408.9 313.6,408.1 313.8,407.5 313.9,406.8 314.0,406.0 314.1,405.0 314.3,404.2 314.4,403.5 314.5,402.7 314.7,401.9 314.8,401.0 315.0,400.2 315.3,399.6 315.5,398.9 315.8,398.1 316.0,397.4 316.3,396.8 316.5,395.9 316.8,395.1 317.0,394.3 317.4,393.6 318.0,393.2 318.5,392.6 319.1,391.9" fill="none" stroke="#ce23ce" stroke-width="1.25" stroke-linejoin="round"/>
<polyline points="65.1,416.2 65.3,416.8 65.4,417.6 65.6,418.4 65.8,419.3 66.0,420.2 66.1,421.0 66.3,422.0 66.5,422.9 66.6,423.7 66.8,424.6 67.0,425.6 67.2,426.4 67.3,427.2 67.5,427.9 67.8,428.3 68.1,428.5 68.5,429.1 68.8,429.8 69.2,430.4 69.5,430.9 69.8,431.7 70.2,432.5 70.5,433.5 70.9,434.4 71.2,435.3 71.7,436.5 72.2,437.4 72.7,437.8 73.2,437.7 73.7,437.7 74.2,438.0 74.7,438.9 75.3,440.0 75.9,440.9 76.5,441.5 77.1,442.1 77.8,442.5 78.4,442.7 79.0,442.5 79.7,442.9 80.4,444.1 81.1,445.3 81.8,445.5 82.5,445.2 83.1,445.3 83.7,445.7 84.3,446.2 85.0,446.8 85.6,447.9 86.2,449.0 86.8,449.6 87.5,449.3 88.1,448.9 88.7,449.1 89.4,450.2 90.0,451.3 90.7,451.9 91.3,452.4 92.0,453.0 92.6,453.2 93.3,453.0 93.9,453.2 94.5,454.2 95.2,455.2 95.8,455.7 96.4,455.9 97.1,456.2 97.6,456.8 98.1,457.3 98.7,457.9 99.2,458.6 99.9,459.3 100.5,459.9 101.2,460.3 101.9,460.4 102.7,460.6 103.5,460.5 104.3,460.5 105.1,460.5 105.9,460.5 106.7,460.2 107.5,460.1 108.3,460.3 109.1,460.4 109.9,460.4 110.7,460.5 111.5,460.5 112.3,460.3 113.1,460.2 113.8,460.0 114.6,459.9 115.4,459.8 116.2,459.6 116.9,459.4 117.6,459.0 118.1,458.2 118.5,457.5 119.0,457.1 119.5,456.6 119.9,455.9 120.4,455.3 121.0,454.8 121.5,454.2 122.1,453.6 122.7,453.0 123.3,452.5 123.9,451.9 124.5,451.3 125.2,450.8 125.9,450.4 126.7,450.1 127.4,450.1 128.2,450.0 129.0,450.0 129.8,449.9 130.6,449.8 131.4,449.8 132.2,449.8 133.0,449.8 133.8,449.9 134.6,450.0 135.4,450.1 136.2,450.2 137.0,450.1 137.8,450.1 138.6,450.0 139.4,449.9 140.2,449.8 141.0,449.5 141.8,449.4 142.6,449.4 143.3,449.2 144.1,449.1 144.9,449.1 145.7,449.0 146.5,448.8 147.3,448.8 148.1,448.9 148.9,448.9 149.7,448.9 150.5,448.9 151.3,448.8 152.1,448.9 152.9,449.2 153.7,449.3 154.5,449.5 155.2,449.7 156.0,450.1 156.8,450.3 157.6,450.4 158.3,450.4 159.1,450.7 159.9,451.1 160.7,451.2 161.5,451.2 162.2,451.4 163.0,451.6 163.8,451.6 164.6,451.6 165.4,451.7 166.2,451.9 167.0,452.1 167.8,452.2 168.6,452.2 169.4,452.2 170.2,452.1 171.0,452.0 171.8,451.9 172.6,451.9 173.4,452.0 174.2,451.9 175.0,451.8 175.8,451.7 176.6,451.7 177.4,451.8 178.2,452.0 179.0,452.1 179.8,452.2 180.6,452.2 181.4,452.3 182.2,452.5 183.0,452.6 183.8,452.6 184.6,452.6 185.3,452.8 186.1,452.9 186.9,452.9 187.7,453.1 188.5,453.4 189.3,453.6 190.1,453.7 190.8,453.9 191.6,454.0 192.4,454.1 193.2,454.2 193.9,454.3 194.7,454.6 195.5,455.0 196.3,455.2 197.1,455.4 197.9,455.6 198.7,455.8 199.4,455.8 200.2,455.7 201.0,455.8 201.8,456.2 202.6,456.4 203.4,456.3 204.1,456.5 204.9,456.9 205.7,457.0 206.5,457.0 207.3,457.1 208.1,457.1 208.9,457.2 209.7,457.3 210.5,457.4 211.3,457.6 212.1,457.7 212.9,457.7 213.6,457.7 214.4,457.9 215.2,458.2 216.0,458.5 216.8,458.6 217.6,458.7 218.4,458.7 219.2,458.8 220.0,458.8 220.8,458.8 221.6,459.0 222.4,458.9 223.2,458.9 224.0,459.0 224.8,459.0 225.6,458.9 226.4,458.8 227.2,458.7 228.0,458.5 228.8,458.3 229.6,458.3 230.4,458.2 231.2,458.1 232.0,458.1 232.8,458.0 233.5,458.0 234.3,458.0 235.1,457.9 235.9,457.8 236.7,457.7 237.5,457.6 238.3,457.5 239.1,457.4 239.9,457.5 240.7,457.4 241.5,457.1 242.3,457.1 243.1,457.2 243.9,457.2 244.7,457.0 245.5,456.8 246.3,456.8 247.1,456.8 247.9,456.8 248.7,456.7 249.5,456.6 250.3,456.4 251.1,456.3 251.9,456.2 252.7,456.1 253.5,456.1 254.2,456.1 255.0,455.9 255.8,455.8 256.6,455.7 257.4,455.7 258.2,455.7 259.0,455.6 259.8,455.3 260.6,455.3 261.4,455.4 262.2,455.3 263.0,455.2 263.8,455.4 264.6,455.4 265.4,455.6 266.2,455.9 267.0,456.0 267.8,456.0 268.6,455.8 269.4,455.6 270.2,455.5 271.0,455.4 271.8,455.4 272.6,455.5 273.4,455.5 274.2,455.3 275.0,455.3 275.8,455.3 276.6,455.3 277.4,455.2 278.2,455.1 279.0,455.1 279.8,455.1 280.6,455.0 281.4,454.9 282.2,455.1 283.0,455.2 283.8,455.0 284.6,454.7 285.4,454.7 286.1,454.5 286.9,454.2 287.6,454.1 288.4,453.9 289.1,453.5 289.9,453.2 290.6,452.9 291.4,452.5 292.1,452.2 292.8,452.0 293.5,451.7 294.1,451.2 294.6,450.5 295.2,449.8 295.7,449.4 296.2,448.8 296.8,448.1 297.3,447.6 297.9,447.1 298.4,446.3 299.0,445.7 299.5,445.4 300.1,444.9 300.6,444.1 301.2,443.5 301.7,443.1 302.3,442.4 302.9,441.8 303.4,441.2 304.0,440.8 304.6,440.2 305.1,439.6 305.7,439.0 306.3,438.4 306.9,437.9 307.4,437.5 307.9,436.8 308.3,435.9 308.8,435.3 309.2,434.9 309.7,434.3 310.2,433.6 310.6,433.0 310.9,432.2 311.1,431.2 311.2,430.4 311.3,429.6 311.5,428.9 311.6,428.2 311.7,427.2 311.9,426.3 312.0,425.5 312.1,424.8 312.3,424.1 312.4,423.3 312.5,422.7 312.7,421.9 312.8,420.9 313.0,420.2 313.1,419.4 313.2,418.5 313.4,417.8 313.6,417.0 313.8,416.1 314.0,415.4 314.1,414.8 314.3,414.1 314.5,413.5 314.7,412.6 314.9,411.7 315.1,410.9 315.2,410.0 315.4,409.1 315.6,408.4 315.8,407.7 316.0,406.8 316.1,405.9 316.3,405.2 316.5,404.7 316.7,404.0 316.9,403.3 317.1,402.5 317.3,401.6 317.4,400.7 317.6,399.9 317.8,399.2 318.0,398.4 318.2,397.5 318.4,396.7 318.6,395.9 318.8,395.1 318.9,394.4 319.1,393.6 319.3,392.8" fill="none" stroke="#bf36d0" stroke-width="1.25" stroke-linejoin="round"/>
<polyline points="65.1,427.3 65.2,428.1 65.3,429.1 65.4,429.9 65.6,430.5 65.7,431.2 65.8,432.0 65.9,432.8 66.0,433.7 66.1,434.8 66.2,435.8 66.4,436.6 66.5,437.3 66.6,438.2 66.7,439.4 66.8,440.3 66.9,441.2 67.1,441.9 67.2,442.5 67.3,443.4 67.4,444.4 67.5,445.1 67.7,445.7 67.9,445.9 68.2,446.2 68.5,446.7 68.8,447.3 69.1,447.9 69.3,448.6 69.6,449.4 69.9,450.1 70.2,450.9 70.4,451.9 70.7,452.8 71.0,453.7 71.3,454.8 71.7,456.0 72.1,457.0 72.5,457.7 72.9,457.9 73.3,457.9 73.7,457.8 74.1,458.1 74.5,458.9 74.9,460.1 75.4,461.6 75.9,462.8 76.4,463.5 77.0,464.0 77.5,464.4 78.0,464.8 78.5,464.9 79.1,464.7 79.7,465.1 80.4,466.7 81.0,468.3 81.6,468.9 82.2,468.6 82.9,468.3 83.4,468.6 84.0,469.2 84.6,469.8 85.2,470.6 85.8,471.7 86.4,472.9 87.0,473.5 87.6,473.1 88.2,472.6 88.8,472.9 89.4,473.9 90.0,475.2 90.6,476.1 91.2,476.6 91.8,477.2 92.4,477.4 93.0,477.2 93.6,477.3 94.2,478.0 94.8,479.1 95.4,480.2 96.0,480.7 96.6,480.8 97.2,481.1 97.6,481.7 98.1,482.4 98.5,483.2 98.9,484.0 99.4,484.7 99.9,485.3 100.4,486.0 100.9,486.6 101.5,486.9 102.3,486.9 103.1,487.1 103.9,487.3 104.7,487.3 105.5,487.0 106.3,486.7 107.1,486.6 107.8,486.8 108.6,486.9 109.4,487.0 110.2,487.1 111.0,487.4 111.8,487.5 112.6,487.1 113.4,486.9 114.2,486.9 114.9,486.9 115.7,486.7 116.5,486.5 117.2,486.2 117.8,485.5 118.1,484.7 118.4,484.2 118.7,483.5 119.1,482.6 119.4,481.8 119.7,481.2 120.0,480.6 120.5,479.9 120.9,479.2 121.4,478.6 121.9,478.0 122.4,477.3 123.0,476.5 123.5,476.1 124.0,475.6 124.5,475.1 125.1,474.5 125.8,474.1 126.6,473.7 127.3,473.5 128.1,473.5 128.9,473.6 129.7,473.6 130.5,473.7 131.3,473.7 132.1,473.6 132.9,473.8 133.7,474.1 134.5,474.2 135.3,474.2 136.0,474.3 136.8,474.4 137.6,474.5 138.4,474.3 139.2,474.2 140.0,474.1 140.8,474.0 141.6,473.7 142.3,473.4 143.1,473.4 143.9,473.4 144.7,473.3 145.5,473.0 146.3,472.9 147.1,473.0 147.9,472.9 148.7,472.6 149.5,472.5 150.3,472.6 151.0,472.8 151.8,473.0 152.6,473.2 153.4,473.5 154.1,473.9 154.9,474.2 155.6,474.5 156.3,474.8 157.1,475.1 157.8,475.3 158.5,475.5 159.2,475.9 160.0,476.3 160.8,476.6 161.6,476.8 162.3,477.0 163.1,477.0 163.9,477.1 164.7,477.4 165.5,477.6 166.2,477.9 167.0,477.9 167.8,477.8 168.6,477.7 169.4,477.9 170.2,477.9 171.0,477.8 171.8,477.7 172.6,477.6 173.4,477.5 174.2,477.5 175.0,477.5 175.8,477.7 176.6,477.8 177.4,477.9 178.2,478.1 179.0,478.1 179.8,478.2 180.6,478.5 181.4,478.7 182.2,478.7 182.9,478.7 183.7,479.0 184.5,479.3 185.3,479.4 186.1,479.5 186.9,479.7 187.6,479.7 188.4,479.9 189.1,480.3 189.9,480.7 190.7,481.0 191.4,481.2 192.2,481.4 192.9,481.8 193.7,481.9 194.4,482.0 195.2,482.2 196.0,482.6 196.7,483.0 197.5,483.3 198.3,483.6 199.0,483.9 199.8,484.1 200.5,484.3 201.3,484.5 202.1,484.7 202.8,484.9 203.6,485.0 204.4,485.2 205.2,485.3 205.9,485.4 206.7,485.7 207.5,486.0 208.3,486.1 209.1,486.1 209.8,486.3 210.6,486.7 211.4,486.9 212.2,486.8 213.0,486.9 213.8,487.3 214.5,487.5 215.3,487.8 216.1,488.1 216.9,488.1 217.6,488.1 218.4,488.4 219.2,488.7 220.0,488.7 220.8,488.7 221.6,488.8 222.4,488.8 223.2,488.6 224.0,488.4 224.8,488.4 225.6,488.6 226.4,488.5 227.2,488.4 228.0,488.3 228.7,488.1 229.5,487.8 230.3,487.7 231.1,487.7 231.9,487.6 232.7,487.5 233.5,487.5 234.3,487.3 235.1,487.0 235.9,486.9 236.7,487.0 237.5,487.0 238.2,486.8 239.0,486.8 239.8,486.6 240.6,486.4 241.4,486.2 242.2,486.0 243.0,485.9 243.8,485.8 244.6,485.8 245.4,485.8 246.2,485.7 247.0,485.6 247.7,485.4 248.5,485.3 249.3,485.2 250.1,485.0 250.9,484.8 251.7,484.8 252.5,484.8 253.3,484.6 254.1,484.5 254.9,484.3 255.6,484.1 256.4,483.9 257.2,483.7 258.0,483.6 258.8,483.6 259.6,483.5 260.4,483.3 261.2,483.2 262.0,483.2 262.7,483.3 263.5,483.4 264.3,483.6 265.1,483.9 265.9,484.2 266.7,484.3 267.5,484.2 268.3,484.1 269.1,484.0 269.8,483.8 270.6,483.7 271.4,483.6 272.2,483.4 273.0,483.3 273.8,483.2 274.6,483.0 275.4,482.9 276.1,483.0 276.9,482.9 277.7,482.7 278.5,482.8 279.3,482.7 280.1,482.4 280.9,482.3 281.7,482.2 282.5,482.1 283.3,482.0 284.1,482.1 284.9,482.1 285.6,481.7 286.3,481.3 287.1,481.0 287.8,480.7 288.5,480.2 289.2,479.7 289.9,479.4 290.7,479.2 291.4,478.9 292.1,478.3 292.8,477.9 293.2,477.2 293.7,476.6 294.1,476.1 294.5,475.5 294.9,474.8 295.4,474.0 295.8,473.2 296.2,472.7 296.6,472.1 297.1,471.5 297.5,470.6 297.9,469.8 298.4,469.1 298.8,468.6 299.2,468.0 299.6,467.3 300.0,466.7 300.4,466.1 300.8,465.4 301.2,464.7 301.7,463.8 302.1,463.1 302.5,462.4 302.9,461.7 303.3,461.2 303.7,460.6 304.1,459.8 304.5,459.0 304.9,458.3 305.3,457.6 305.6,457.0 306.0,456.2 306.4,455.4 306.7,454.8 307.1,454.2 307.4,453.5 307.8,452.8 308.2,451.9 308.5,451.1 308.9,450.5 309.0,449.6 309.2,448.8 309.3,448.1 309.4,447.4 309.6,446.6 309.7,445.7 309.9,444.9 310.0,444.1 310.1,443.4 310.3,442.8 310.4,442.0 310.6,441.2 310.7,440.4 310.8,439.7 311.0,438.8 311.1,437.9 311.3,437.2 311.4,436.4 311.5,435.5 311.7,434.8 311.8,434.1 312.0,433.2 312.1,432.3 312.3,431.6 312.4,431.0 312.6,430.2 312.8,429.4 312.9,428.5 313.1,427.5 313.2,426.6 313.4,425.9 313.5,425.2 313.7,424.5 313.8,423.7 314.0,423.0 314.2,422.2 314.3,421.2 314.5,420.5 314.6,419.9 314.8,419.1 314.9,418.3 315.1,417.6 315.2,416.8 315.4,416.0 315.5,415.2 315.6,414.2 315.8,413.4 315.9,412.8 316.0,412.1 316.2,411.3 316.3,410.3 316.4,409.5 316.6,408.9 316.7,408.0 316.8,407.1 316.9,406.3 317.1,405.5 317.2,404.7 317.3,403.9 317.5,403.2 317.6,402.5 317.7,401.6 317.9,400.9 318.0,400.2 318.2,399.5 318.3,398.7 318.5,397.7 318.7,396.9 318.8,396.1 319.0,395.3 319.1,394.5 319.3,393.7" fill="none" stroke="#b04ad2" stroke-width="1.25" stroke-linejoin="round"/>
<polyline points="65.1,436.6 65.2,437.5 65.3,438.3 65.4,439.2 65.5,440.1 65.5,440.9 65.6,441.6 65.7,442.2 65.8,443.0 65.9,443.7 66.0,444.6 66.1,445.7 66.2,446.5 66.3,447.3 66.4,448.1 66.4,449.1 66.5,450.1 66.6,450.8 66.7,451.7 66.8,452.7 66.9,453.4 67.0,454.3 67.1,455.3 67.2,456.2 67.3,457.0 67.3,457.9 67.4,458.5 67.5,459.1 67.6,459.6 67.9,460.0 68.1,460.5 68.4,461.1 68.6,461.7 68.8,462.2 69.1,462.8 69.3,463.5 69.6,464.3 69.8,465.1 70.0,465.8 70.3,466.5 70.5,467.3 70.7,468.4 71.0,469.5 71.2,470.6 71.5,472.0 71.9,473.2 72.2,474.0 72.6,474.6 72.9,474.8 73.3,474.6 73.6,474.6 73.9,474.9 74.3,475.5 74.6,476.5 75.0,477.7 75.4,479.1 75.9,480.2 76.3,480.9 76.8,481.7 77.2,482.5 77.7,483.0 78.1,483.1 78.6,483.0 79.1,482.8 79.7,483.3 80.3,485.0 80.9,486.9 81.4,488.0 82.0,487.8 82.6,487.4 83.2,487.4 83.7,487.9 84.3,488.5 84.9,489.0 85.4,490.1 86.0,491.7 86.6,492.9 87.1,493.1 87.7,492.4 88.3,491.8 88.9,492.3 89.4,493.8 90.0,495.4 90.6,496.4 91.1,496.8 91.7,497.1 92.3,497.4 92.9,497.4 93.4,497.2 94.0,497.7 94.6,498.9 95.1,500.2 95.7,501.2 96.3,501.4 96.8,501.5 97.3,502.0 97.7,502.5 98.0,503.1 98.4,503.9 98.8,504.8 99.2,505.5 99.6,506.2 100.0,507.1 100.5,507.9 100.9,508.7 101.3,509.4 102.1,509.4 102.9,509.3 103.7,509.2 104.5,509.0 105.3,508.8 106.0,508.6 106.8,508.4 107.6,508.5 108.3,508.7 109.1,508.8 109.9,509.0 110.7,509.3 111.4,509.4 112.2,509.3 113.0,509.3 113.8,509.3 114.6,509.1 115.4,508.9 116.1,508.7 116.9,508.4 117.6,508.1 117.9,507.3 118.1,506.3 118.4,505.5 118.6,504.9 118.9,504.4 119.2,503.7 119.4,502.8 119.7,501.9 119.9,501.0 120.2,500.2 120.7,499.7 121.1,499.3 121.6,498.6 122.0,497.6 122.5,497.0 122.9,496.6 123.3,496.0 123.8,495.3 124.2,494.6 124.8,494.1 125.5,493.6 126.1,493.0 126.8,492.6 127.6,492.6 128.4,492.8 129.2,493.0 130.0,493.0 130.7,493.2 131.5,493.4 132.3,493.4 133.1,493.4 133.9,493.5 134.7,493.8 135.4,494.1 136.2,494.4 137.0,494.5 137.8,494.4 138.6,494.2 139.3,493.9 140.1,493.7 140.9,493.6 141.7,493.4 142.5,493.3 143.3,493.2 144.0,492.9 144.8,492.8 145.6,492.8 146.4,492.7 147.2,492.5 148.0,492.4 148.8,492.3 149.6,492.4 150.3,492.8 151.1,492.9 151.8,493.0 152.6,493.3 153.3,493.6 154.1,493.9 154.8,494.3 155.5,494.7 156.2,495.1 156.9,495.5 157.5,495.8 158.2,496.2 158.9,496.8 159.6,497.4 160.4,497.6 161.1,497.6 161.9,497.8 162.7,498.0 163.4,498.2 164.2,498.6 165.0,498.8 165.7,499.0 166.5,499.1 167.3,499.1 168.1,499.2 168.9,499.3 169.7,499.4 170.5,499.4 171.3,499.3 172.1,499.3 172.9,499.1 173.7,499.0 174.5,499.1 175.3,499.3 176.1,499.4 176.9,499.5 177.7,499.6 178.4,499.6 179.2,499.7 180.0,500.0 180.8,500.3 181.6,500.5 182.4,500.6 183.1,500.8 183.9,501.0 184.7,501.2 185.5,501.3 186.3,501.4 187.0,501.6 187.8,502.1 188.5,502.4 189.2,502.5 190.0,502.9 190.7,503.5 191.4,503.9 192.1,504.1 192.9,504.4 193.6,504.7 194.3,504.9 195.1,505.3 195.8,505.8 196.6,506.1 197.3,506.3 198.0,506.4 198.8,506.6 199.5,507.0 200.3,507.4 201.0,507.6 201.8,507.8 202.5,508.0 203.3,508.2 204.0,508.6 204.8,508.9 205.5,509.1 206.3,509.3 207.1,509.5 207.9,509.9 208.6,510.3 209.4,510.5 210.2,510.8 210.9,511.0 211.7,511.2 212.5,511.3 213.3,511.4 214.0,511.7 214.8,512.0 215.5,512.2 216.3,512.5 217.1,512.9 217.8,513.0 218.6,513.1 219.3,513.4 220.1,513.4 220.9,513.3 221.7,513.5 222.5,513.4 223.3,513.3 224.1,513.3 224.9,513.2 225.7,513.2 226.5,513.2 227.3,512.9 228.1,512.7 228.9,512.6 229.6,512.6 230.4,512.4 231.2,512.1 232.0,511.9 232.8,511.8 233.6,511.5 234.3,511.4 235.1,511.3 235.9,511.1 236.7,511.0 237.5,511.0 238.3,511.0 239.1,510.8 239.9,510.6 240.7,510.5 241.4,510.3 242.2,510.3 243.0,510.2 243.8,510.1 244.6,509.8 245.4,509.5 246.2,509.3 246.9,509.3 247.7,509.2 248.5,508.9 249.3,508.8 250.1,508.7 250.9,508.5 251.6,508.2 252.4,508.0 253.2,507.8 254.0,507.9 254.8,507.8 255.5,507.5 256.3,507.3 257.1,507.2 257.9,507.0 258.7,506.7 259.5,506.5 260.2,506.3 261.0,506.1 261.8,506.4 262.6,506.7 263.4,507.0 264.1,507.2 264.9,507.2 265.7,507.4 266.5,507.7 267.3,507.7 268.0,507.8 268.8,507.7 269.6,507.5 270.3,507.3 271.1,507.2 271.9,506.8 272.7,506.6 273.4,506.5 274.2,506.2 275.0,505.9 275.8,505.8 276.6,505.7 277.3,505.5 278.1,505.3 278.9,505.3 279.7,505.1 280.5,504.9 281.3,504.8 282.1,504.8 282.8,504.7 283.6,504.5 284.4,504.3 285.1,504.0 285.8,503.8 286.5,503.3 287.2,502.7 287.9,502.4 288.6,502.1 289.3,501.7 290.0,501.3 290.7,500.9 291.4,500.4 292.1,499.8 292.5,499.4 292.9,498.8 293.2,498.0 293.6,497.2 293.9,496.6 294.3,495.9 294.6,495.1 295.0,494.3 295.3,493.6 295.6,492.8 296.0,492.0 296.3,491.3 296.7,490.7 297.0,490.1 297.4,489.2 297.7,488.3 298.0,487.6 298.4,487.0 298.7,486.3 299.0,485.5 299.3,484.9 299.6,484.2 299.9,483.6 300.2,482.7 300.5,481.7 300.8,481.0 301.0,480.4 301.3,479.8 301.6,479.2 301.9,478.4 302.2,477.5 302.5,476.6 302.8,475.9 303.1,475.2 303.5,474.5 303.8,473.8 304.1,472.9 304.4,472.2 304.7,471.5 305.0,470.7 305.3,469.9 305.6,469.3 305.9,468.6 306.2,467.8 306.6,467.1 306.9,466.5 307.2,465.8 307.3,465.0 307.5,464.2 307.6,463.4 307.8,462.5 307.9,461.6 308.1,460.8 308.2,460.0 308.4,459.4 308.5,458.7 308.6,458.0 308.8,457.3 308.9,456.5 309.1,455.5 309.2,454.5 309.4,453.8 309.5,453.1 309.6,452.3 309.8,451.5 309.9,450.6 310.1,449.8 310.2,449.2 310.4,448.3 310.5,447.3 310.6,446.5 310.8,445.9 310.9,445.2 311.1,444.4 311.2,443.8 311.4,443.1 311.5,442.3 311.6,441.5 311.8,440.5 311.9,439.6 312.1,438.8 312.2,438.1 312.4,437.1 312.5,436.3 312.6,435.7 312.8,435.0 312.9,434.1 313.1,433.3 313.2,432.5 313.3,431.6 313.5,430.9 313.6,430.2 313.8,429.4 313.9,428.6 314.1,427.9 314.2,427.0 314.3,426.1 314.5,425.4 314.6,424.8 314.7,424.0 314.8,423.2 314.9,422.4 315.1,421.6 315.2,420.7 315.3,419.8 315.4,419.0 315.5,418.5 315.6,417.8 315.7,416.9 315.8,415.9 315.9,415.0 316.0,414.3 316.1,413.7 316.3,412.9 316.4,412.0 316.5,411.2 316.6,410.3 316.7,409.5 316.8,408.6 316.9,407.8 317.0,407.1 317.1,406.4 317.3,405.7 317.4,404.8 317.5,404.0 317.7,403.3 317.8,402.7 317.9,401.8 318.1,401.0 318.2,400.3 318.4,399.5 318.5,398.6 318.6,397.7 318.8,396.9 318.9,396.1 319.0,395.4 319.2,394.7" fill="none" stroke="#a25dd5" stroke-width="1.25" stroke-linejoin="round"/>
<polyline points="65.1,444.7 65.2,445.4 65.3,446.2 65.3,447.1 65.4,447.9 65.5,448.7 65.6,449.5 65.6,450.1 65.7,450.9 65.8,451.9 65.9,452.7 65.9,453.6 66.0,454.5 66.1,455.3 66.2,456.1 66.2,456.9 66.3,457.9 66.4,458.8 66.5,459.6 66.5,460.6 66.6,461.7 66.7,462.6 66.8,463.3 66.8,464.1 66.9,465.0 67.0,466.0 67.1,466.8 67.1,467.5 67.2,468.4 67.3,469.2 67.4,470.1 67.4,470.7 67.5,471.2 67.6,471.8 67.8,472.4 68.0,472.7 68.2,473.1 68.4,473.7 68.6,474.3 68.9,474.8 69.1,475.5 69.3,476.1 69.5,476.7 69.7,477.6 69.9,478.4 70.1,479.2 70.3,480.0 70.5,480.9 70.8,481.9 71.0,483.0 71.2,484.2 71.4,485.5 71.7,486.9 72.0,488.2 72.3,489.1 72.7,489.5 73.0,489.4 73.3,489.2 73.6,489.1 73.9,489.3 74.2,489.8 74.5,490.7 74.8,491.9 75.1,493.3 75.5,494.6 75.9,495.7 76.3,496.6 76.7,497.5 77.1,498.1 77.5,498.5 77.9,499.0 78.3,499.3 78.7,499.3 79.3,499.1 79.8,499.8 80.4,501.5 80.9,503.4 81.4,504.5 82.0,504.5 82.5,504.0 83.1,503.9 83.6,504.3 84.2,504.8 84.7,505.5 85.3,506.5 85.8,508.1 86.4,509.8 86.9,510.6 87.4,510.0 88.0,508.8 88.5,508.6 89.1,509.8 89.6,511.4 90.2,512.7 90.7,513.6 91.3,514.3 91.8,514.7 92.4,514.8 92.9,514.7 93.4,514.7 94.0,515.3 94.5,516.6 95.1,517.9 95.6,518.8 96.1,519.4 96.7,519.7 97.1,520.1 97.5,520.5 97.8,521.0 98.2,521.7 98.5,522.4 98.9,523.3 99.2,524.2 99.6,525.1 99.9,525.9 100.3,526.7 100.7,527.4 101.0,528.0 101.5,528.4 102.3,528.6 103.1,528.8 103.9,528.7 104.7,528.2 105.4,527.9 106.2,527.7 106.9,527.4 107.7,527.4 108.4,527.8 109.2,528.0 110.0,528.1 110.7,528.3 111.5,528.5 112.3,528.6 113.0,528.6 113.8,528.5 114.6,528.3 115.4,527.9 116.2,527.6 116.9,527.5 117.6,527.2 117.8,526.6 118.1,525.8 118.3,524.8 118.5,523.9 118.7,523.2 118.9,522.6 119.1,522.0 119.4,521.3 119.6,520.6 119.8,519.7 120.0,518.6 120.3,517.9 120.7,517.3 121.2,516.7 121.6,516.1 122.0,515.3 122.4,514.6 122.8,513.9 123.2,513.4 123.6,512.8 124.0,512.1 124.4,511.2 125.0,510.7 125.6,510.3 126.3,509.7 126.9,509.1 127.7,509.3 128.5,509.5 129.3,509.7 130.0,509.9 130.8,510.3 131.6,510.5 132.4,510.5 133.1,510.8 133.9,511.3 134.7,511.4 135.4,511.5 136.2,511.7 137.0,512.0 137.8,511.9 138.5,511.5 139.3,511.1 140.1,511.0 140.9,511.0 141.6,510.8 142.4,510.5 143.2,510.4 144.0,510.3 144.8,510.3 145.5,510.2 146.3,510.1 147.1,509.9 147.9,509.7 148.7,509.6 149.5,509.7 150.2,510.0 151.0,510.1 151.7,510.4 152.4,510.8 153.2,511.2 153.9,511.5 154.6,511.9 155.2,512.3 155.9,512.7 156.5,513.3 157.2,513.8 157.8,514.2 158.5,514.6 159.1,515.1 159.8,515.5 160.5,515.8 161.3,516.1 162.0,516.3 162.8,516.6 163.6,516.9 164.3,517.1 165.1,517.2 165.8,517.4 166.6,517.6 167.4,517.7 168.2,517.9 169.0,517.8 169.8,517.7 170.6,517.8 171.4,517.7 172.2,517.7 173.0,517.8 173.8,517.8 174.6,517.8 175.4,517.9 176.2,518.1 176.9,518.2 177.7,518.3 178.5,518.6 179.2,518.9 180.0,519.1 180.8,519.3 181.6,519.6 182.3,519.7 183.1,519.8 183.9,520.0 184.7,520.2 185.4,520.4 186.2,520.7 187.0,520.8 187.7,521.1 188.4,521.5 189.1,521.9 189.8,522.5 190.5,522.9 191.2,523.1 191.9,523.6 192.6,524.0 193.3,524.1 194.0,524.3 194.8,524.8 195.5,525.3 196.2,525.8 196.9,526.2 197.6,526.4 198.4,526.7 199.1,527.1 199.8,527.3 200.5,527.6 201.3,528.1 202.0,528.6 202.7,528.8 203.4,529.0 204.2,529.5 204.9,529.8 205.7,529.8 206.4,530.2 207.2,530.7 207.9,530.9 208.7,531.0 209.5,531.1 210.2,531.3 211.0,531.6 211.8,531.9 212.5,532.2 213.3,532.6 214.0,533.0 214.7,533.4 215.5,533.4 216.2,533.5 217.0,533.8 217.7,534.2 218.5,534.7 219.2,535.0 220.0,535.0 220.8,535.0 221.6,535.0 222.4,535.0 223.2,534.9 224.0,534.9 224.7,534.8 225.5,534.7 226.3,534.6 227.1,534.5 227.9,534.1 228.7,533.9 229.5,533.9 230.2,533.9 231.0,533.6 231.8,533.4 232.6,533.3 233.4,533.0 234.1,532.7 234.9,532.6 235.7,532.6 236.5,532.4 237.3,532.2 238.0,532.1 238.8,532.0 239.6,531.6 240.4,531.4 241.2,531.3 242.0,531.2 242.8,531.0 243.5,530.8 244.3,530.7 245.1,530.6 245.9,530.3 246.7,530.0 247.4,529.8 248.2,529.6 249.0,529.6 249.7,529.4 250.5,529.1 251.3,528.8 252.1,528.6 252.8,528.4 253.6,528.3 254.4,528.1 255.2,527.8 255.9,527.6 256.7,527.4 257.5,527.3 258.3,527.2 259.0,527.0 259.8,526.6 260.6,526.4 261.4,526.7 262.1,526.9 262.9,527.0 263.7,527.2 264.4,527.5 265.2,527.8 266.0,528.0 266.7,528.1 267.5,528.3 268.3,528.3 269.0,528.0 269.8,527.8 270.5,527.7 271.3,527.3 272.0,527.1 272.8,526.7 273.6,526.3 274.3,526.1 275.1,526.0 275.9,526.0 276.6,525.7 277.4,525.4 278.2,525.2 279.0,525.3 279.7,525.0 280.5,524.7 281.3,524.5 282.1,524.4 282.8,524.2 283.6,524.0 284.4,523.7 285.0,523.0 285.7,522.5 286.4,522.1 287.0,521.8 287.7,521.5 288.4,521.2 289.0,520.7 289.7,520.0 290.4,519.5 291.0,519.2 291.7,518.9 292.1,518.3 292.4,517.6 292.7,516.8 293.0,515.9 293.3,515.2 293.5,514.6 293.8,513.7 294.1,512.8 294.4,512.0 294.7,511.2 295.0,510.4 295.2,509.7 295.5,509.2 295.8,508.5 296.1,507.9 296.4,507.2 296.7,506.3 296.9,505.3 297.2,504.5 297.4,503.8 297.7,503.2 297.9,502.4 298.1,501.5 298.3,500.7 298.6,500.0 298.8,499.3 299.0,498.5 299.2,497.8 299.5,497.1 299.7,496.2 299.9,495.4 300.1,494.5 300.4,493.7 300.6,493.1 300.8,492.5 301.0,491.6 301.3,490.8 301.5,490.2 301.8,489.5 302.1,488.5 302.3,487.6 302.6,486.9 302.9,486.1 303.2,485.5 303.4,484.8 303.7,483.9 304.0,483.2 304.3,482.6 304.6,481.9 304.8,481.2 305.1,480.6 305.4,479.8 305.7,479.0 305.9,478.3 306.0,477.5 306.2,476.7 306.3,475.9 306.5,475.0 306.6,474.1 306.8,473.4 306.9,472.6 307.0,471.6 307.2,470.8 307.3,469.9 307.5,469.2 307.6,468.7 307.8,467.9 307.9,467.0 308.1,466.4 308.2,465.7 308.4,464.9 308.5,464.0 308.6,463.2 308.8,462.3 308.9,461.6 309.1,461.0 309.2,460.2 309.4,459.2 309.5,458.4 309.7,457.7 309.8,456.8 309.9,456.1 310.1,455.2 310.2,454.3 310.3,453.5 310.5,452.9 310.6,452.2 310.7,451.3 310.9,450.5 311.0,449.9 311.1,449.1 311.3,448.1 311.4,447.2 311.5,446.3 311.7,445.6 311.8,445.0 312.0,444.3 312.1,443.5 312.2,442.7 312.4,441.8 312.5,441.1 312.6,440.4 312.8,439.5 312.9,438.9 313.0,438.1 313.2,437.2 313.3,436.3 313.4,435.6 313.6,434.8 313.7,434.0 313.8,433.4 314.0,432.6 314.1,431.6 314.2,430.8 314.3,430.1 314.4,429.3 314.4,428.5 314.5,427.7 314.6,427.0 314.7,426.2 314.8,425.3 314.9,424.4 315.0,423.5 315.1,422.7 315.2,422.1 315.3,421.3 315.4,420.4 315.5,419.5 315.6,418.7 315.7,418.1 315.8,417.5 315.9,416.8 316.0,415.9 316.1,415.0 316.2,414.1 316.3,413.4 316.4,412.7 316.5,411.8 316.6,410.8 316.7,410.1 316.8,409.4 316.9,408.7 317.1,408.0 317.2,407.2 317.3,406.2 317.5,405.3 317.6,404.6 317.7,403.7 317.8,403.0 318.0,402.2 318.1,401.5 318.2,400.7 318.4,399.9 318.5,399.2 318.6,398.3 318.8,397.6 318.9,396.8 319.0,396.0 319.1,395.3" fill="none" stroke="#9371d7" stroke-width="1.25" stroke-linejoin="round"/>
<polyline points="65.1,451.0 65.2,451.7 65.2,452.5 65.3,453.2 65.4,453.9 65.4,454.8 65.5,455.7 65.6,456.3 65.6,457.2 65.7,458.1 65.8,458.9 65.8,459.6 65.9,460.3 66.0,461.2 66.0,462.1 66.1,462.9 66.2,463.8 66.2,464.8 66.3,465.8 66.4,466.6 66.4,467.3 66.5,468.2 66.6,469.1 66.6,470.0 66.7,470.9 66.8,472.0 66.9,473.0 66.9,473.9 67.0,474.7 67.1,475.5 67.1,476.4 67.2,477.2 67.3,477.8 67.3,478.4 67.4,479.0 67.5,479.8 67.5,480.7 67.6,481.5 67.8,482.1 68.0,482.4 68.2,482.7 68.4,483.3 68.5,483.8 68.7,484.1 68.9,484.8 69.1,485.6 69.3,486.2 69.5,486.9 69.7,487.7 69.9,488.5 70.1,489.3 70.3,490.3 70.5,491.4 70.7,492.3 70.9,493.3 71.1,494.5 71.3,495.7 71.6,496.9 71.8,498.1 72.1,499.2 72.4,500.0 72.7,500.3 72.9,500.5 73.2,500.5 73.5,500.4 73.8,500.3 74.0,500.6 74.3,501.5 74.6,502.8 74.9,504.1 75.2,505.5 75.6,506.7 76.0,507.7 76.3,508.7 76.7,509.4 77.1,510.1 77.4,510.7 77.8,511.2 78.2,511.6 78.6,511.6 79.0,511.2 79.5,511.4 80.0,512.7 80.6,514.8 81.1,516.6 81.6,517.4 82.1,517.2 82.6,516.6 83.2,516.6 83.7,517.2 84.2,517.9 84.7,518.5 85.3,519.7 85.8,521.3 86.3,522.7 86.9,523.5 87.4,523.1 87.9,522.0 88.4,521.5 89.0,522.3 89.5,524.1 90.0,525.7 90.5,526.7 91.1,527.3 91.6,527.7 92.1,528.1 92.6,528.3 93.2,528.2 93.7,528.2 94.2,529.1 94.7,530.6 95.3,532.1 95.8,533.1 96.3,533.2 96.8,533.2 97.2,533.6 97.5,534.2 97.8,534.8 98.2,535.5 98.5,536.4 98.8,537.2 99.1,538.0 99.4,538.9 99.8,539.7 100.1,540.5 100.4,541.5 100.8,542.2 101.1,542.7 101.6,543.1 102.4,543.1 103.2,543.1 104.0,543.2 104.7,543.1 105.5,542.7 106.2,542.2 107.0,541.9 107.7,542.1 108.4,542.4 109.2,542.6 109.9,542.9 110.7,543.3 111.4,543.5 112.2,543.3 113.0,543.1 113.7,542.9 114.5,542.8 115.3,542.7 116.1,542.6 116.8,542.5 117.6,542.3 117.8,541.2 118.0,540.4 118.2,539.7 118.4,538.9 118.6,538.0 118.8,537.3 119.0,536.7 119.2,535.9 119.4,535.0 119.6,534.2 119.7,533.6 119.9,532.8 120.2,532.0 120.5,531.3 120.9,530.5 121.3,529.8 121.7,529.1 122.0,528.4 122.4,527.7 122.8,526.9 123.2,526.2 123.5,525.7 123.9,525.0 124.3,524.1 124.8,523.7 125.5,523.3 126.1,522.8 126.7,522.2 127.4,522.0 128.2,522.2 129.0,522.4 129.7,522.9 130.5,523.2 131.2,523.3 132.0,523.5 132.8,523.8 133.5,524.1 134.3,524.4 135.0,524.6 135.8,524.9 136.6,525.2 137.3,525.5 138.1,525.3 138.9,525.0 139.6,524.5 140.4,524.2 141.2,524.0 141.9,523.9 142.7,523.7 143.5,523.5 144.3,523.4 145.1,523.2 145.8,523.0 146.6,523.0 147.4,522.9 148.2,522.7 149.0,522.6 149.7,522.9 150.5,523.2 151.2,523.3 151.9,523.6 152.6,524.1 153.3,524.6 154.0,524.9 154.7,525.2 155.3,525.8 155.9,526.5 156.5,526.9 157.2,527.3 157.8,527.9 158.4,528.4 159.0,528.9 159.6,529.4 160.4,529.7 161.1,530.0 161.9,530.3 162.6,530.4 163.3,530.7 164.1,531.1 164.8,531.4 165.6,531.7 166.3,532.2 167.1,532.2 167.9,531.9 168.7,531.8 169.5,532.0 170.3,532.0 171.1,532.1 171.9,532.2 172.7,532.1 173.5,532.1 174.3,532.1 175.1,532.1 175.9,532.4 176.7,532.6 177.4,532.6 178.2,532.8 178.9,533.2 179.7,533.6 180.4,533.9 181.2,534.1 182.0,534.3 182.8,534.6 183.5,534.8 184.3,535.0 185.1,535.1 185.8,535.3 186.6,535.4 187.3,535.8 188.0,536.4 188.7,536.8 189.4,537.0 190.1,537.3 190.8,537.7 191.5,538.2 192.1,538.7 192.8,539.1 193.5,539.4 194.2,539.9 194.9,540.4 195.6,540.8 196.3,541.1 197.0,541.5 197.7,541.8 198.4,542.2 199.1,542.5 199.8,543.0 200.5,543.5 201.3,543.8 202.0,543.9 202.7,544.2 203.4,544.7 204.1,545.1 204.8,545.5 205.6,545.9 206.3,546.3 207.1,546.5 207.8,546.6 208.6,546.9 209.3,547.2 210.1,547.5 210.8,547.9 211.6,548.2 212.3,548.4 213.1,548.5 213.8,548.7 214.5,549.0 215.3,549.4 216.0,549.7 216.7,550.1 217.4,550.5 218.2,550.8 218.9,551.1 219.6,551.6 220.4,551.6 221.2,551.5 222.0,551.4 222.8,551.5 223.6,551.5 224.4,551.3 225.2,551.2 226.0,551.1 226.8,550.9 227.6,550.5 228.3,550.4 229.1,550.3 229.9,550.2 230.6,549.9 231.4,549.8 232.2,549.6 233.0,549.3 233.7,549.1 234.5,548.9 235.3,548.7 236.1,548.5 236.8,548.4 237.6,548.2 238.4,547.9 239.2,547.7 240.0,547.5 240.8,547.5 241.5,547.4 242.3,547.0 243.1,546.8 243.9,546.8 244.7,546.6 245.4,546.3 246.2,546.3 247.0,546.1 247.7,545.8 248.5,545.4 249.3,545.3 250.0,545.0 250.8,544.7 251.6,544.5 252.3,544.4 253.1,544.2 253.9,544.0 254.6,543.8 255.4,543.5 256.2,543.2 256.9,542.9 257.7,542.8 258.5,542.5 259.2,542.3 260.0,542.1 260.8,541.8 261.5,541.7 262.3,542.0 263.1,542.3 263.8,542.6 264.6,542.8 265.3,543.2 266.1,543.4 266.8,543.6 267.6,543.9 268.3,543.9 269.1,543.7 269.8,543.5 270.6,543.1 271.3,542.7 272.1,542.4 272.8,542.1 273.5,541.9 274.3,541.8 275.0,541.4 275.8,541.1 276.6,540.8 277.3,540.6 278.1,540.3 278.9,540.2 279.6,540.0 280.4,539.6 281.2,539.2 281.9,539.0 282.7,538.8 283.5,538.7 284.2,538.4 284.8,538.0 285.5,537.6 286.1,537.1 286.8,536.5 287.4,536.0 288.1,535.5 288.7,535.1 289.4,534.8 290.0,534.4 290.7,533.8 291.3,533.5 291.8,532.9 292.0,532.1 292.2,531.3 292.5,530.5 292.7,529.8 293.0,529.1 293.2,528.1 293.5,527.2 293.7,526.5 293.9,525.8 294.2,525.1 294.4,524.5 294.7,523.8 294.9,522.9 295.2,522.0 295.4,521.2 295.6,520.7 295.9,519.9 296.1,519.0 296.4,518.2 296.6,517.6 296.8,516.8 296.9,515.8 297.1,514.9 297.3,514.3 297.5,513.7 297.6,512.9 297.8,512.1 298.0,511.3 298.2,510.3 298.4,509.5 298.5,508.7 298.7,507.8 298.9,507.2 299.1,506.6 299.2,505.8 299.4,505.0 299.6,504.2 299.8,503.4 299.9,502.7 300.1,502.0 300.4,501.3 300.6,500.4 300.9,499.5 301.2,498.9 301.4,498.1 301.7,497.4 301.9,496.7 302.2,496.0 302.5,495.1 302.7,494.3 303.0,493.6 303.2,492.9 303.5,492.2 303.8,491.3 304.0,490.4 304.3,489.7 304.5,488.9 304.8,488.3 304.9,487.5 305.1,486.7 305.2,486.0 305.3,485.2 305.5,484.3 305.6,483.4 305.8,482.5 305.9,481.8 306.1,481.1 306.2,480.4 306.4,479.7 306.5,478.9 306.7,478.1 306.8,477.3 307.0,476.4 307.1,475.6 307.3,474.8 307.4,474.0 307.5,473.2 307.7,472.4 307.8,471.7 308.0,471.0 308.1,470.2 308.3,469.4 308.4,468.5 308.6,467.8 308.7,467.1 308.9,466.3 309.0,465.5 309.1,464.5 309.3,463.7 309.4,463.1 309.5,462.4 309.7,461.8 309.8,460.9 309.9,460.0 310.0,459.2 310.2,458.4 310.3,457.5 310.4,456.7 310.6,455.9 310.7,455.0 310.8,454.2 311.0,453.4 311.1,452.9 311.2,452.1 311.3,451.2 311.5,450.5 311.6,449.9 311.7,449.0 311.9,448.0 312.0,447.1 312.1,446.2 312.2,445.5 312.4,444.9 312.5,444.1 312.6,443.3 312.8,442.6 312.9,441.9 313.0,441.0 313.1,440.1 313.3,439.3 313.4,438.5 313.5,437.7 313.6,436.9 313.7,436.1 313.8,435.4 313.9,434.6 314.0,433.7 314.1,433.0 314.2,432.2 314.3,431.3 314.3,430.5 314.4,429.7 314.5,429.0 314.6,428.3 314.7,427.3 314.8,426.4 314.9,425.6 315.0,424.9 315.1,424.2 315.2,423.4 315.3,422.7 315.3,421.8 315.4,420.9 315.5,420.3 315.6,419.6 315.7,418.6 315.8,417.8 315.9,417.3 316.0,416.6 316.1,415.7 316.2,414.8 316.3,414.0 316.4,413.2 316.4,412.3 316.6,411.4 316.7,410.7 316.8,409.9 316.9,409.1 317.1,408.2 317.2,407.5 317.3,406.8 317.4,405.9 317.6,405.0 317.7,404.3 317.8,403.6 318.0,402.9 318.1,402.1 318.2,401.4 318.3,400.7 318.5,399.9 318.6,399.1 318.7,398.3 318.8,397.4 319.0,396.5 319.1,395.7" fill="none" stroke="#8484da" stroke-width="1.25" stroke-linejoin="round"/>
<polyline points="65.1,456.6 65.2,457.4 65.2,458.1 65.3,458.8 65.3,459.6 65.4,460.4 65.5,461.2 65.5,461.9 65.6,462.6 65.7,463.4 65.7,464.4 65.8,465.3 65.8,466.1 65.9,466.8 66.0,467.5 66.0,468.3 66.1,469.2 66.1,469.9 66.2,470.9 66.3,472.0 66.3,472.9 66.4,473.8 66.4,474.8 66.5,475.6 66.6,476.4 66.6,477.3 66.7,478.2 66.8,479.0 66.8,479.9 66.9,480.8 66.9,481.7 67.0,482.5 67.1,483.4 67.1,484.3 67.2,485.0 67.2,485.6 67.3,486.4 67.4,487.2 67.4,488.0 67.5,488.8 67.6,489.5 67.6,490.1 67.8,490.4 68.0,490.8 68.2,491.3 68.4,491.8 68.5,492.3 68.7,492.9 68.9,493.6 69.1,494.5 69.3,495.3 69.5,496.0 69.6,496.8 69.8,497.5 70.0,498.2 70.2,499.0 70.4,499.8 70.6,500.5 70.7,501.6 70.9,502.9 71.1,504.2 71.3,505.5 71.5,506.7 71.8,507.8 72.0,508.8 72.3,509.7 72.6,510.3 72.8,510.5 73.1,510.4 73.3,510.2 73.6,510.1 73.8,510.3 74.1,511.1 74.4,512.0 74.6,512.9 74.9,514.3 75.2,515.9 75.5,517.2 75.9,518.3 76.2,519.3 76.6,520.1 76.9,520.9 77.3,521.7 77.6,522.3 78.0,522.6 78.3,522.5 78.6,522.4 79.1,522.2 79.6,522.6 80.1,524.2 80.6,526.3 81.1,528.1 81.6,528.8 82.1,528.6 82.6,528.3 83.1,528.1 83.6,528.4 84.1,529.0 84.6,529.9 85.1,531.0 85.7,532.3 86.2,534.0 86.7,535.1 87.2,535.0 87.7,534.1 88.2,533.6 88.7,534.0 89.2,535.4 89.8,537.1 90.3,538.5 90.8,539.3 91.3,539.8 91.8,540.2 92.3,540.4 92.8,540.4 93.3,540.3 93.8,540.6 94.3,541.5 94.8,543.0 95.3,544.6 95.8,545.6 96.3,545.8 96.9,545.8 97.2,546.1 97.5,546.6 97.8,547.2 98.1,548.0 98.4,548.9 98.7,549.8 99.0,550.7 99.3,551.4 99.6,552.2 99.9,553.0 100.2,553.6 100.5,554.4 100.8,555.1 101.1,555.9 101.6,556.3 102.4,556.4 103.2,556.6 104.0,556.5 104.7,556.0 105.4,555.9 106.2,555.6 106.9,555.3 107.6,555.4 108.3,555.8 109.1,556.1 109.8,556.4 110.5,556.6 111.2,556.9 112.0,557.0 112.8,556.7 113.6,556.4 114.3,556.4 115.1,556.3 115.9,556.0 116.6,555.7 117.4,555.4 117.7,554.9 117.9,554.3 118.1,553.4 118.3,552.4 118.4,551.5 118.6,550.8 118.8,550.2 119.0,549.3 119.2,548.4 119.3,547.6 119.5,546.9 119.7,546.2 119.9,545.5 120.0,544.7 120.4,543.9 120.7,543.4 121.1,542.7 121.4,541.8 121.8,541.0 122.1,540.2 122.5,539.5 122.8,538.8 123.2,538.2 123.5,537.6 123.9,536.9 124.2,536.1 124.7,535.5 125.3,535.0 125.9,534.4 126.5,533.8 127.2,533.6 128.0,534.0 128.7,534.3 129.5,534.4 130.2,534.5 131.0,534.8 131.7,535.2 132.4,535.5 133.2,535.7 133.9,536.0 134.7,536.3 135.4,536.6 136.2,536.9 136.9,537.2 137.7,537.3 138.5,537.1 139.2,536.8 140.0,536.6 140.8,536.3 141.5,536.0 142.3,536.0 143.1,535.8 143.8,535.7 144.6,535.5 145.4,535.2 146.2,535.0 147.0,534.9 147.8,534.7 148.5,534.3 149.3,534.2 150.0,534.6 150.7,535.0 151.4,535.5 152.1,536.1 152.8,536.6 153.5,537.0 154.2,537.3 154.8,537.6 155.4,538.1 156.0,538.9 156.6,539.4 157.2,539.7 157.8,540.2 158.4,541.0 158.9,541.5 159.5,541.9 160.3,542.3 161.0,542.6 161.7,542.7 162.5,543.1 163.2,543.6 163.9,543.8 164.7,544.1 165.4,544.5 166.2,544.7 166.9,544.8 167.7,544.9 168.5,544.9 169.3,544.8 170.1,544.7 170.9,544.7 171.7,544.7 172.5,544.7 173.3,544.7 174.1,544.8 174.9,544.9 175.7,545.1 176.5,545.3 177.2,545.5 177.9,546.0 178.7,546.4 179.4,546.7 180.2,546.9 181.0,546.9 181.7,547.2 182.5,547.6 183.2,547.8 184.0,548.1 184.8,548.4 185.5,548.6 186.3,548.6 187.1,548.9 187.7,549.5 188.4,550.0 189.1,550.4 189.7,550.7 190.4,551.1 191.1,551.6 191.7,551.9 192.4,552.2 193.1,552.7 193.8,553.2 194.4,553.7 195.1,554.3 195.8,554.8 196.5,555.2 197.2,555.3 197.8,555.5 198.5,556.0 199.2,556.6 199.9,557.1 200.6,557.4 201.3,557.9 202.0,558.3 202.7,558.6 203.4,558.8 204.1,559.1 204.8,559.5 205.6,560.0 206.3,560.4 207.0,560.8 207.8,561.1 208.5,561.2 209.3,561.4 210.0,561.7 210.7,562.0 211.5,562.5 212.2,562.9 213.0,563.2 213.7,563.3 214.4,563.6 215.1,564.0 215.8,564.5 216.5,565.0 217.2,565.2 218.0,565.5 218.7,565.9 219.4,566.3 220.1,566.5 220.9,566.4 221.7,566.2 222.5,566.1 223.3,566.2 224.1,566.2 224.9,566.0 225.7,565.8 226.5,565.7 227.3,565.6 228.0,565.6 228.8,565.3 229.6,565.0 230.4,564.8 231.1,564.6 231.9,564.2 232.7,563.8 233.4,563.6 234.2,563.5 235.0,563.3 235.7,562.9 236.5,562.8 237.3,562.7 238.1,562.6 238.8,562.3 239.6,562.2 240.4,562.1 241.2,561.9 241.9,561.7 242.7,561.4 243.5,561.0 244.3,560.9 245.1,560.9 245.8,560.8 246.6,560.4 247.3,560.1 248.1,559.9 248.9,559.7 249.6,559.3 250.4,559.0 251.1,558.9 251.9,558.8 252.7,558.5 253.4,558.1 254.2,557.9 254.9,557.7 255.7,557.4 256.5,557.2 257.2,556.9 258.0,556.5 258.7,556.3 259.5,556.1 260.3,556.0 261.0,555.8 261.8,556.0 262.5,556.1 263.3,556.2 264.0,556.5 264.8,556.9 265.5,557.4 266.3,557.8 267.0,558.1 267.8,558.4 268.5,558.2 269.2,557.9 269.9,557.5 270.7,557.1 271.4,556.9 272.1,556.5 272.9,556.0 273.6,555.5 274.3,555.3 275.1,555.2 275.8,555.0 276.6,554.7 277.3,554.4 278.1,553.9 278.8,553.6 279.6,553.6 280.3,553.4 281.1,553.0 281.8,552.7 282.6,552.4 283.3,552.0 284.0,551.6 284.7,551.1 285.3,550.7 285.9,550.4 286.6,550.1 287.2,549.5 287.8,548.7 288.5,548.2 289.1,548.0 289.7,547.6 290.4,547.1 291.0,546.4 291.5,545.7 291.7,545.0 291.9,544.3 292.1,543.6 292.3,542.8 292.5,542.0 292.7,541.3 292.9,540.5 293.1,539.7 293.3,538.8 293.6,537.9 293.8,537.3 294.0,536.6 294.2,535.9 294.4,535.2 294.6,534.4 294.8,533.6 295.0,532.8 295.2,532.0 295.4,531.0 295.7,530.2 295.9,529.5 296.0,528.9 296.1,528.1 296.3,527.2 296.4,526.3 296.6,525.6 296.7,524.9 296.8,524.3 297.0,523.6 297.1,522.7 297.3,521.8 297.4,521.1 297.6,520.2 297.7,519.2 297.8,518.5 298.0,517.9 298.1,517.1 298.3,516.4 298.4,515.6 298.5,514.7 298.7,513.7 298.8,512.8 299.0,512.0 299.2,511.4 299.4,510.9 299.7,510.3 299.9,509.4 300.2,508.6 300.4,507.8 300.7,507.0 300.9,506.3 301.2,505.6 301.4,504.8 301.7,503.9 301.9,503.0 302.1,502.4 302.4,501.7 302.6,500.9 302.9,500.2 303.1,499.5 303.4,498.7 303.6,498.0 303.8,497.1 304.0,496.5 304.1,495.6 304.3,494.6 304.4,493.7 304.5,492.9 304.7,492.2 304.8,491.4 305.0,490.8 305.1,490.1 305.3,489.3 305.4,488.6 305.6,487.7 305.7,486.8 305.9,486.0 306.0,485.3 306.2,484.5 306.3,483.7 306.5,482.9 306.6,482.2 306.8,481.4 306.9,480.5 307.1,479.6 307.2,478.8 307.4,478.1 307.5,477.5 307.6,476.7 307.8,475.8 307.9,475.0 308.1,474.3 308.2,473.4 308.4,472.5 308.5,472.0 308.6,471.3 308.8,470.4 308.9,469.5 309.0,468.8 309.1,468.0 309.3,467.1 309.4,466.4 309.5,465.5 309.6,464.6 309.8,463.9 309.9,463.1 310.0,462.3 310.1,461.5 310.3,460.7 310.4,459.9 310.5,459.2 310.6,458.4 310.8,457.7 310.9,456.8 311.0,456.0 311.1,455.1 311.3,454.4 311.4,453.7 311.5,452.8 311.6,452.0 311.8,451.3 311.9,450.5 312.0,449.6 312.1,448.9 312.3,448.2 312.4,447.4 312.5,446.7 312.6,445.9 312.8,444.9 312.9,444.0 313.0,443.3 313.1,442.6 313.2,441.7 313.3,440.8 313.4,440.1 313.5,439.4 313.6,438.7 313.6,437.9 313.7,437.0 313.8,436.2 313.9,435.6 314.0,434.8 314.1,434.1 314.2,433.3 314.2,432.4 314.3,431.4 314.4,430.7 314.5,430.0 314.6,429.2 314.7,428.3 314.8,427.4 314.9,426.5 314.9,425.7 315.0,425.0 315.1,424.2 315.2,423.3 315.3,422.6 315.4,422.1 315.5,421.4 315.5,420.5 315.6,419.7 315.7,419.0 315.8,418.2 315.9,417.2 316.0,416.3 316.1,415.4 316.2,414.6 316.3,413.9 316.4,413.3 316.5,412.5 316.6,411.7 316.8,410.9 316.9,410.2 317.0,409.3 317.1,408.3 317.3,407.5 317.4,406.9 317.5,406.2 317.6,405.4 317.8,404.4 317.9,403.7 318.0,403.1 318.1,402.4 318.2,401.6 318.4,400.7 318.5,399.9 318.6,399.1 318.7,398.1 318.9,397.3 319.0,396.5" fill="none" stroke="#7698dc" stroke-width="1.25" stroke-linejoin="round"/>
<polyline points="65.1,461.4 65.2,462.1 65.2,462.8 65.3,463.7 65.3,464.6 65.4,465.5 65.4,466.2 65.5,466.9 65.6,467.7 65.6,468.6 65.7,469.5 65.7,470.3 65.8,471.0 65.8,471.8 65.9,472.7 66.0,473.5 66.0,474.2 66.1,475.0 66.1,475.7 66.2,476.6 66.2,477.8 66.3,478.8 66.3,479.7 66.4,480.4 66.5,481.2 66.5,482.1 66.6,483.1 66.6,484.0 66.7,484.8 66.7,485.7 66.8,486.7 66.9,487.6 66.9,488.3 67.0,489.1 67.0,490.1 67.1,490.9 67.1,491.6 67.2,492.2 67.3,493.1 67.3,494.2 67.4,494.9 67.4,495.5 67.5,496.2 67.5,496.7 67.6,497.4 67.8,497.9 67.9,498.4 68.1,498.9 68.3,499.3 68.5,499.7 68.6,500.3 68.8,501.1 69.0,501.8 69.1,502.5 69.3,503.1 69.5,503.8 69.7,504.5 69.8,505.4 70.0,506.2 70.2,506.9 70.3,507.7 70.5,508.7 70.7,509.9 70.9,511.1 71.0,512.2 71.2,513.4 71.4,514.7 71.6,516.1 71.9,517.3 72.1,518.2 72.4,518.9 72.6,519.3 72.8,519.3 73.1,519.4 73.3,519.5 73.6,519.5 73.8,519.4 74.1,519.7 74.3,520.6 74.5,521.9 74.8,523.2 75.0,524.5 75.4,526.0 75.7,527.2 76.0,528.2 76.3,529.0 76.7,529.7 77.0,530.4 77.3,531.2 77.6,531.8 78.0,532.3 78.3,532.4 78.6,532.1 79.1,531.8 79.5,532.4 80.0,533.9 80.5,536.2 81.0,538.2 81.4,539.3 81.9,539.4 82.4,538.9 82.9,538.5 83.4,538.6 83.9,539.0 84.4,539.7 84.9,540.6 85.4,542.0 85.9,543.8 86.4,545.5 86.9,546.0 87.4,545.2 87.9,544.2 88.4,543.8 88.9,544.4 89.4,546.1 89.9,548.0 90.4,549.3 90.9,550.1 91.4,550.5 91.9,551.0 92.4,551.4 92.8,551.4 93.3,551.0 93.8,551.1 94.3,552.2 94.8,554.0 95.3,555.5 95.8,556.3 96.3,556.7 96.8,556.7 97.2,557.0 97.4,557.6 97.7,558.4 98.0,559.0 98.3,559.9 98.5,560.8 98.8,561.4 99.1,562.2 99.4,563.2 99.7,564.1 100.0,564.9 100.2,565.6 100.5,566.2 100.8,567.0 101.1,567.7 101.5,568.2 102.3,568.3 103.1,568.3 103.9,568.3 104.6,568.2 105.3,567.9 106.1,567.6 106.8,567.2 107.5,567.0 108.2,567.3 108.9,567.7 109.6,568.1 110.3,568.4 111.0,568.6 111.8,568.9 112.5,568.7 113.3,568.5 114.1,568.2 114.9,568.1 115.6,567.8 116.4,567.4 117.2,567.1 117.7,566.8 117.8,566.2 118.0,565.4 118.2,564.6 118.3,563.7 118.5,562.8 118.7,562.1 118.8,561.5 119.0,560.8 119.2,560.1 119.3,559.3 119.5,558.3 119.7,557.3 119.8,556.6 120.0,556.1 120.2,555.4 120.5,554.6 120.9,553.8 121.2,553.2 121.5,552.4 121.9,551.4 122.2,550.8 122.6,550.2 122.9,549.5 123.2,548.8 123.6,547.9 123.9,547.1 124.2,546.6 124.7,546.0 125.3,545.4 125.9,544.7 126.5,544.1 127.1,543.7 127.8,544.1 128.6,544.5 129.3,544.8 130.0,545.2 130.8,545.5 131.5,545.7 132.2,546.0 133.0,546.3 133.7,546.7 134.4,547.0 135.2,547.3 135.9,547.6 136.7,547.8 137.4,548.0 138.2,547.8 138.9,547.7 139.7,547.6 140.4,547.5 141.2,547.1 142.0,546.6 142.7,546.4 143.5,546.3 144.3,546.0 145.1,545.8 145.9,545.6 146.6,545.4 147.4,545.3 148.2,545.1 149.0,544.9 149.7,545.3 150.4,545.8 151.1,546.0 151.8,546.5 152.5,547.1 153.1,547.4 153.8,547.7 154.5,548.2 155.1,548.8 155.6,549.4 156.2,549.9 156.7,550.3 157.3,550.9 157.9,551.5 158.4,551.9 159.0,552.5 159.6,553.3 160.3,553.7 161.0,554.0 161.7,554.4 162.5,554.7 163.2,554.9 163.9,555.2 164.7,555.5 165.4,555.8 166.1,556.0 166.9,556.2 167.7,556.3 168.5,556.2 169.3,556.2 170.1,556.3 170.9,556.3 171.7,556.3 172.5,556.3 173.3,556.4 174.1,556.4 174.9,556.2 175.6,556.4 176.4,556.9 177.1,557.3 177.9,557.6 178.6,557.9 179.3,558.3 180.1,558.5 180.8,558.7 181.6,559.0 182.3,559.1 183.1,559.3 183.9,559.6 184.6,560.0 185.4,560.2 186.1,560.4 186.9,560.6 187.6,561.0 188.2,561.4 188.9,562.0 189.5,562.5 190.2,563.0 190.8,563.5 191.5,563.9 192.1,564.4 192.8,564.9 193.4,565.5 194.1,565.9 194.7,566.1 195.4,566.7 196.1,567.2 196.7,567.7 197.4,568.2 198.1,568.5 198.8,568.9 199.5,569.3 200.2,569.8 200.8,570.2 201.5,570.5 202.2,571.0 202.9,571.4 203.6,571.8 204.2,572.1 205.0,572.4 205.7,572.8 206.4,573.0 207.2,573.5 207.9,574.0 208.6,574.3 209.3,574.6 210.1,574.8 210.8,575.1 211.5,575.5 212.3,575.8 213.0,576.0 213.7,576.2 214.4,576.6 215.1,577.2 215.8,577.7 216.5,578.1 217.2,578.4 217.9,578.9 218.6,579.2 219.3,579.7 220.0,579.9 220.8,579.6 221.6,579.5 222.4,579.4 223.2,579.4 224.0,579.4 224.8,579.4 225.6,579.3 226.4,579.1 227.2,578.8 227.9,578.3 228.7,578.1 229.5,578.0 230.2,577.7 231.0,577.5 231.8,577.3 232.5,577.2 233.3,577.0 234.0,576.6 234.8,576.4 235.6,576.2 236.3,576.0 237.1,575.8 237.9,575.7 238.7,575.3 239.4,575.0 240.2,575.0 241.0,574.9 241.8,574.6 242.5,574.4 243.3,574.1 244.1,573.9 244.8,573.6 245.6,573.3 246.4,573.2 247.1,572.9 247.9,572.6 248.6,572.5 249.4,572.2 250.1,571.9 250.9,571.6 251.6,571.4 252.4,571.3 253.2,571.0 253.9,570.6 254.7,570.2 255.4,569.9 256.2,569.7 256.9,569.4 257.7,569.0 258.4,568.8 259.2,568.7 259.9,568.3 260.7,568.0 261.4,568.3 262.2,568.5 262.9,568.7 263.7,569.2 264.4,569.5 265.1,569.6 265.9,569.9 266.6,570.2 267.3,570.5 268.1,570.9 268.8,570.7 269.5,570.4 270.2,569.9 270.9,569.3 271.7,569.0 272.4,568.8 273.1,568.4 273.8,568.1 274.5,567.9 275.3,567.5 276.0,567.2 276.7,566.8 277.5,566.3 278.2,566.0 279.0,565.6 279.7,565.4 280.4,565.1 281.2,564.8 281.9,564.7 282.7,564.5 283.4,564.0 284.0,563.6 284.6,563.1 285.3,562.6 285.9,562.1 286.5,561.5 287.1,561.0 287.7,560.5 288.4,560.2 289.0,559.7 289.6,559.0 290.2,558.5 290.8,558.1 291.2,557.3 291.4,556.5 291.6,555.8 291.8,555.0 292.0,554.2 292.1,553.5 292.3,552.8 292.5,552.1 292.7,551.3 292.9,550.3 293.1,549.5 293.2,548.7 293.4,547.8 293.6,547.0 293.8,546.4 294.0,545.7 294.2,544.8 294.4,544.1 294.5,543.3 294.7,542.5 294.9,541.7 295.1,541.0 295.3,540.2 295.4,539.2 295.5,538.5 295.6,537.9 295.7,537.1 295.8,536.2 296.0,535.4 296.1,534.7 296.2,533.9 296.3,533.0 296.4,532.3 296.5,531.7 296.6,530.9 296.7,529.9 296.9,529.2 297.0,528.5 297.1,527.7 297.2,527.0 297.3,526.1 297.4,525.1 297.5,524.4 297.6,523.6 297.8,522.6 297.9,521.8 298.0,521.2 298.2,520.4 298.5,519.7 298.7,519.1 298.9,518.4 299.2,517.6 299.4,516.7 299.7,515.8 299.9,515.1 300.1,514.2 300.4,513.4 300.6,512.6 300.8,511.8 301.1,511.3 301.3,510.7 301.5,509.9 301.8,509.1 302.0,508.2 302.3,507.4 302.5,506.8 302.7,506.1 302.9,505.1 303.1,504.2 303.2,503.5 303.4,502.8 303.5,501.8 303.7,501.1 303.8,500.5 304.0,499.7 304.1,498.8 304.3,498.0 304.4,497.2 304.5,496.5 304.7,495.7 304.8,494.9 305.0,494.2 305.1,493.5 305.3,492.7 305.4,491.7 305.6,490.9 305.7,490.3 305.9,489.4 306.0,488.6 306.2,487.9 306.3,487.2 306.5,486.3 306.6,485.4 306.8,484.6 306.9,483.7 307.1,483.0 307.2,482.4 307.4,481.8 307.5,480.8 307.7,479.8 307.8,478.9 307.9,478.1 308.0,477.4 308.2,476.8 308.3,475.9 308.4,475.1 308.5,474.4 308.7,473.7 308.8,473.0 308.9,472.2 309.0,471.3 309.1,470.6 309.3,469.8 309.4,468.9 309.5,468.2 309.6,467.6 309.8,466.8 309.9,466.0 310.0,465.2 310.1,464.3 310.3,463.4 310.4,462.7 310.5,462.0 310.6,461.2 310.7,460.3 310.9,459.3 311.0,458.5 311.1,457.9 311.2,457.0 311.4,456.2 311.5,455.5 311.6,454.7 311.7,454.0 311.8,453.1 312.0,452.2 312.1,451.6 312.2,450.9 312.3,449.9 312.5,449.0 312.6,448.4 312.7,447.6 312.8,446.7 312.9,445.8 312.9,445.0 313.0,444.3 313.1,443.5 313.2,442.8 313.3,442.1 313.4,441.4 313.4,440.5 313.5,439.7 313.6,438.8 313.7,438.0 313.8,437.3 313.9,436.5 313.9,435.8 314.0,435.1 314.1,434.2 314.2,433.3 314.3,432.4 314.4,431.8 314.4,431.0 314.5,430.2 314.6,429.4 314.7,428.7 314.8,427.9 314.9,427.0 314.9,425.9 315.0,425.1 315.1,424.5 315.2,423.8 315.3,422.9 315.4,422.0 315.4,421.3 315.5,420.6 315.6,419.8 315.7,418.9 315.8,418.2 315.9,417.4 316.0,416.5 316.1,415.6 316.2,414.7 316.3,414.1 316.4,413.5 316.6,412.7 316.7,411.8 316.8,411.0 316.9,410.2 317.0,409.3 317.2,408.4 317.3,407.6 317.4,406.8 317.5,406.1 317.7,405.5 317.8,404.7 317.9,403.7 318.0,403.0 318.1,402.3 318.3,401.5 318.4,400.7 318.5,400.0 318.6,399.3 318.7,398.5 318.9,397.8 319.0,396.9" fill="none" stroke="#67abdf" stroke-width="1.25" stroke-linejoin="round"/>
<polyline points="65.1,464.9 65.2,465.7 65.2,466.8 65.3,467.6 65.3,468.2 65.4,468.9 65.4,469.7 65.5,470.5 65.5,471.4 65.6,472.3 65.6,473.2 65.7,473.9 65.7,474.6 65.8,475.3 65.9,476.2 65.9,477.0 66.0,477.7 66.0,478.5 66.1,479.3 66.1,480.2 66.2,481.3 66.2,482.3 66.3,483.2 66.3,483.9 66.4,484.9 66.4,485.9 66.5,486.8 66.6,487.6 66.6,488.4 66.7,489.2 66.7,490.1 66.8,491.0 66.8,491.9 66.9,492.8 66.9,493.8 67.0,494.6 67.0,495.4 67.1,496.2 67.1,497.0 67.2,497.9 67.3,498.7 67.3,499.5 67.4,500.3 67.4,501.0 67.5,501.7 67.5,502.5 67.6,503.2 67.7,503.7 67.9,504.0 68.0,504.2 68.2,504.7 68.3,505.3 68.5,505.8 68.7,506.4 68.8,507.0 69.0,507.7 69.2,508.5 69.3,509.2 69.5,510.0 69.7,510.8 69.8,511.5 70.0,512.2 70.2,513.1 70.3,514.1 70.5,515.0 70.7,515.7 70.8,516.7 71.0,517.9 71.1,519.2 71.3,520.4 71.5,521.8 71.8,523.2 72.0,524.5 72.2,525.4 72.5,525.8 72.7,525.8 72.9,525.8 73.2,525.8 73.4,526.0 73.6,526.1 73.9,526.3 74.1,526.8 74.3,527.6 74.6,528.8 74.8,530.0 75.0,531.3 75.3,532.8 75.7,534.1 76.0,535.2 76.3,536.0 76.6,536.7 76.9,537.6 77.2,538.4 77.5,539.0 77.8,539.5 78.2,539.7 78.5,539.7 78.8,539.5 79.3,539.2 79.7,540.0 80.2,541.9 80.7,544.4 81.1,546.3 81.6,547.1 82.0,546.8 82.5,546.2 83.0,546.0 83.5,546.3 84.0,546.8 84.5,547.5 85.0,548.5 85.5,549.7 86.0,551.4 86.4,553.0 86.9,553.7 87.4,553.2 87.9,552.1 88.4,551.6 88.9,552.5 89.4,554.2 89.9,556.0 90.3,557.3 90.8,558.2 91.3,558.6 91.8,558.8 92.3,559.0 92.8,559.1 93.2,558.9 93.7,559.0 94.2,560.0 94.7,561.8 95.2,563.4 95.7,564.4 96.1,564.9 96.6,564.9 97.1,565.0 97.3,565.6 97.6,566.2 97.9,566.9 98.1,567.8 98.4,568.8 98.7,569.5 98.9,570.1 99.2,570.9 99.5,571.7 99.7,572.5 100.0,573.3 100.3,574.1 100.5,575.0 100.8,575.8 101.1,576.5 101.5,577.1 102.3,577.1 103.1,577.0 103.9,577.1 104.6,576.9 105.3,576.4 106.0,576.0 106.7,575.6 107.4,575.3 108.1,575.7 108.8,576.2 109.5,576.7 110.2,577.1 110.9,577.5 111.6,577.8 112.4,577.5 113.1,577.4 113.9,577.1 114.7,576.9 115.5,576.8 116.2,576.6 117.0,576.4 117.6,576.0 117.8,575.2 117.9,574.4 118.1,573.5 118.3,572.7 118.4,572.1 118.6,571.4 118.7,570.6 118.9,569.6 119.0,568.8 119.2,568.1 119.4,567.3 119.5,566.5 119.7,565.9 119.8,565.2 120.0,564.3 120.2,563.5 120.5,562.7 120.8,562.2 121.2,561.5 121.5,560.6 121.8,559.8 122.1,559.1 122.5,558.2 122.8,557.4 123.1,556.9 123.4,556.2 123.7,555.2 124.1,554.5 124.4,554.0 125.0,553.6 125.5,553.0 126.1,552.3 126.7,551.6 127.4,551.5 128.1,551.8 128.8,552.3 129.6,552.7 130.3,552.8 131.0,553.2 131.7,553.7 132.5,554.1 133.2,554.3 133.9,554.8 134.6,555.1 135.4,555.2 136.1,555.7 136.8,556.2 137.6,556.3 138.3,556.1 139.1,555.7 139.8,555.2 140.6,554.8 141.4,554.7 142.1,554.6 142.9,554.3 143.7,554.0 144.4,553.8 145.2,553.6 146.0,553.5 146.8,553.3 147.6,553.0 148.3,552.9 149.1,552.8 149.8,553.1 150.5,553.5 151.2,554.1 151.8,554.7 152.5,555.1 153.2,555.4 153.9,555.8 154.5,556.2 155.1,556.9 155.6,557.5 156.2,558.1 156.7,558.6 157.2,559.1 157.8,559.8 158.3,560.4 158.9,560.9 159.4,561.5 160.1,561.8 160.8,562.1 161.5,562.5 162.3,563.0 163.0,563.4 163.7,563.7 164.4,563.8 165.2,564.0 165.9,564.6 166.6,564.9 167.4,564.7 168.2,564.6 169.0,564.6 169.8,564.6 170.6,564.7 171.4,564.6 172.2,564.7 173.0,564.8 173.8,565.0 174.6,565.0 175.4,564.9 176.1,565.2 176.9,565.5 177.6,566.0 178.3,566.3 179.0,566.6 179.8,566.9 180.5,567.2 181.3,567.4 182.0,567.8 182.8,568.1 183.5,568.2 184.3,568.4 185.0,568.8 185.8,569.0 186.6,569.3 187.3,569.6 187.9,570.1 188.6,570.7 189.2,571.2 189.8,571.6 190.5,572.1 191.1,572.6 191.8,573.2 192.4,573.7 193.0,574.2 193.7,574.5 194.3,574.8 195.0,575.2 195.6,575.7 196.3,576.4 196.9,576.9 197.6,577.3 198.3,577.7 198.9,578.0 199.6,578.5 200.3,578.9 201.0,579.5 201.6,580.0 202.3,580.1 203.0,580.6 203.6,581.3 204.3,581.8 205.0,582.1 205.8,582.4 206.5,582.8 207.2,583.2 207.9,583.5 208.7,583.8 209.4,584.1 210.1,584.3 210.8,584.6 211.6,584.9 212.3,585.2 213.0,585.6 213.7,586.1 214.4,586.5 215.1,587.0 215.8,587.3 216.5,587.6 217.1,587.9 217.8,588.3 218.5,588.8 219.2,589.3 219.9,589.6 220.7,589.4 221.5,589.2 222.3,589.3 223.1,589.3 223.9,589.1 224.7,589.0 225.5,588.8 226.3,588.7 227.1,588.7 227.8,588.5 228.6,588.1 229.3,587.9 230.1,587.7 230.9,587.5 231.6,587.3 232.4,587.0 233.1,586.7 233.9,586.3 234.6,586.1 235.4,586.0 236.2,585.7 237.0,585.3 237.7,585.3 238.5,585.2 239.3,584.9 240.0,584.6 240.8,584.3 241.6,584.0 242.3,583.9 243.1,583.7 243.9,583.4 244.7,583.1 245.4,583.1 246.2,582.8 246.9,582.3 247.7,582.0 248.4,581.7 249.2,581.4 249.9,581.2 250.7,581.0 251.4,580.8 252.2,580.6 252.9,580.4 253.7,580.0 254.4,579.5 255.2,579.4 255.9,579.2 256.7,578.8 257.4,578.6 258.2,578.4 258.9,578.0 259.7,577.6 260.4,577.2 261.2,577.0 261.9,577.5 262.6,578.0 263.3,578.5 264.1,578.7 264.8,579.1 265.5,579.4 266.3,579.7 267.0,580.0 267.7,580.2 268.4,580.1 269.1,579.9 269.9,579.6 270.6,579.0 271.3,578.6 272.0,578.2 272.7,577.8 273.4,577.5 274.1,577.1 274.8,576.7 275.5,576.5 276.3,576.1 277.0,575.9 277.7,575.6 278.5,575.2 279.2,574.7 279.9,574.3 280.6,573.9 281.4,573.6 282.1,573.4 282.8,573.1 283.5,572.7 284.1,572.4 284.7,571.9 285.3,571.2 285.9,570.6 286.5,570.2 287.2,569.9 287.8,569.3 288.4,568.6 289.0,568.1 289.6,567.6 290.2,566.9 290.8,566.5 291.1,565.9 291.2,564.9 291.4,564.2 291.6,563.5 291.7,562.8 291.9,561.9 292.1,561.1 292.2,560.3 292.4,559.6 292.6,558.9 292.7,558.2 292.9,557.3 293.1,556.4 293.2,555.6 293.4,554.8 293.6,554.1 293.7,553.3 293.9,552.6 294.1,551.9 294.2,551.2 294.4,550.3 294.6,549.4 294.7,548.6 294.9,547.7 295.0,546.8 295.1,546.1 295.2,545.4 295.3,544.6 295.4,543.7 295.5,542.9 295.5,542.2 295.6,541.3 295.7,540.7 295.8,540.0 295.9,539.2 296.0,538.3 296.1,537.4 296.2,536.6 296.3,535.8 296.4,535.1 296.5,534.4 296.6,533.6 296.7,532.7 296.8,531.9 296.9,531.1 297.0,530.3 297.1,529.5 297.1,528.8 297.3,528.0 297.5,527.3 297.7,526.6 298.0,525.8 298.2,525.1 298.4,524.2 298.6,523.3 298.9,522.5 299.1,521.9 299.3,521.2 299.6,520.4 299.8,519.6 300.0,518.8 300.3,518.0 300.5,517.3 300.7,516.4 300.9,515.5 301.2,514.6 301.4,513.9 301.6,513.5 301.9,512.8 302.1,511.8 302.3,511.1 302.4,510.4 302.6,509.7 302.7,508.9 302.9,508.1 303.0,507.2 303.2,506.5 303.3,505.7 303.5,504.8 303.6,504.0 303.8,503.3 303.9,502.6 304.1,501.8 304.2,500.9 304.4,499.9 304.5,499.0 304.7,498.3 304.8,497.5 305.0,496.7 305.1,496.0 305.3,495.4 305.4,494.6 305.5,493.6 305.7,492.9 305.8,492.3 306.0,491.5 306.1,490.7 306.3,490.0 306.4,489.1 306.6,488.1 306.7,487.3 306.9,486.7 307.0,485.9 307.2,485.0 307.3,484.2 307.4,483.5 307.6,482.7 307.7,481.8 307.8,481.1 307.9,480.4 308.1,479.7 308.2,478.9 308.3,478.1 308.4,477.3 308.5,476.5 308.7,475.7 308.8,474.9 308.9,474.0 309.0,473.1 309.1,472.4 309.3,471.6 309.4,470.8 309.5,470.1 309.6,469.4 309.7,468.5 309.9,467.6 310.0,466.9 310.1,466.2 310.2,465.4 310.3,464.5 310.5,463.7 310.6,462.9 310.7,462.2 310.8,461.4 310.9,460.5 311.1,459.7 311.2,459.1 311.3,458.4 311.4,457.7 311.6,456.9 311.7,455.9 311.8,455.0 311.9,454.3 312.0,453.5 312.2,452.6 312.3,451.8 312.4,451.0 312.5,450.4 312.6,449.7 312.6,448.9 312.7,447.9 312.8,447.1 312.9,446.3 313.0,445.5 313.0,444.7 313.1,443.8 313.2,443.0 313.3,442.3 313.4,441.6 313.5,440.8 313.5,440.0 313.6,439.2 313.7,438.4 313.8,437.6 313.9,436.9 313.9,436.1 314.0,435.2 314.1,434.4 314.2,433.7 314.3,433.1 314.3,432.3 314.4,431.4 314.5,430.4 314.6,429.5 314.7,428.7 314.8,427.9 314.8,427.1 314.9,426.5 315.0,425.7 315.1,424.7 315.2,423.8 315.2,423.1 315.3,422.3 315.4,421.6 315.5,420.9 315.6,420.0 315.6,419.1 315.7,418.3 315.8,417.7 316.0,417.0 316.1,416.0 316.2,415.2 316.3,414.6 316.4,413.8 316.6,413.0 316.7,412.2 316.8,411.2 316.9,410.4 317.0,409.8 317.2,408.9 317.3,408.3 317.4,407.6 317.5,406.7 317.6,405.8 317.8,404.9 317.9,404.3 318.0,403.6 318.1,402.6 318.2,401.8 318.4,401.1 318.5,400.4 318.6,399.4 318.7,398.5 318.8,397.7 319.0,397.0" fill="none" stroke="#58bfe1" stroke-width="1.25" stroke-linejoin="round"/>
<polyline points="65.1,467.8 65.2,468.7 65.2,469.5 65.3,470.3 65.3,471.2 65.4,472.0 65.4,472.7 65.5,473.5 65.5,474.4 65.6,475.1 65.6,475.7 65.7,476.5 65.7,477.4 65.8,478.1 65.8,478.7 65.9,479.5 65.9,480.5 66.0,481.5 66.0,482.2 66.1,483.1 66.1,484.0 66.2,484.8 66.2,485.7 66.3,486.6 66.3,487.4 66.4,488.3 66.4,489.2 66.5,490.1 66.6,491.0 66.6,491.9 66.7,492.7 66.7,493.6 66.8,494.6 66.8,495.6 66.9,496.6 66.9,497.4 67.0,498.2 67.0,499.0 67.1,499.9 67.1,500.8 67.2,501.7 67.2,502.5 67.3,503.2 67.3,504.0 67.4,504.7 67.4,505.3 67.5,506.1 67.5,506.7 67.6,507.4 67.7,508.0 67.9,508.3 68.0,508.5 68.2,508.9 68.4,509.4 68.5,510.1 68.7,510.7 68.8,511.3 69.0,512.0 69.2,512.8 69.3,513.6 69.5,514.2 69.6,514.9 69.8,515.7 70.0,516.5 70.1,517.3 70.3,518.1 70.4,519.1 70.6,520.2 70.8,521.1 70.9,522.2 71.1,523.5 71.2,524.7 71.4,526.0 71.7,527.3 71.9,528.5 72.1,529.4 72.3,530.2 72.6,530.6 72.8,530.9 73.0,531.2 73.2,531.1 73.4,530.8 73.7,530.8 73.9,531.3 74.1,531.9 74.3,532.7 74.6,533.9 74.8,535.0 75.0,536.3 75.3,537.9 75.6,539.2 75.9,540.3 76.2,541.2 76.5,542.0 76.8,542.6 77.1,543.5 77.5,544.3 77.8,544.7 78.1,545.0 78.4,545.0 78.7,544.9 79.1,544.7 79.5,545.2 80.0,546.7 80.4,548.7 80.9,550.9 81.3,552.3 81.8,552.6 82.2,552.2 82.7,551.6 83.2,551.5 83.7,551.9 84.2,552.6 84.7,553.4 85.1,554.7 85.6,556.4 86.1,558.1 86.6,559.2 87.1,559.3 87.6,558.3 88.1,557.3 88.6,557.2 89.0,558.4 89.5,560.2 90.0,562.0 90.5,563.2 90.9,563.9 91.4,564.5 91.9,565.1 92.4,565.4 92.8,565.3 93.3,565.0 93.8,565.3 94.3,566.4 94.7,567.9 95.2,569.5 95.7,570.6 96.2,570.9 96.6,570.9 97.1,571.0 97.3,571.5 97.6,572.2 97.8,573.0 98.1,573.8 98.4,574.5 98.6,575.3 98.9,576.1 99.1,577.0 99.4,577.8 99.7,578.7 99.9,579.7 100.2,580.5 100.4,581.2 100.7,582.0 101.0,582.9 101.2,583.5 101.8,583.5 102.6,583.5 103.4,583.7 104.2,583.7 104.9,583.2 105.6,582.8 106.3,582.6 107.0,582.1 107.7,582.2 108.4,582.6 109.1,582.9 109.8,583.3 110.5,583.9 111.2,584.3 111.9,584.4 112.6,584.1 113.4,583.7 114.2,583.5 115.0,583.5 115.7,583.3 116.5,583.1 117.3,583.0 117.7,582.5 117.8,581.6 118.0,580.8 118.1,580.0 118.3,579.1 118.4,578.4 118.6,577.6 118.7,576.7 118.9,576.0 119.0,575.3 119.2,574.5 119.3,573.6 119.5,572.8 119.7,572.1 119.8,571.2 120.0,570.4 120.1,569.7 120.4,568.9 120.7,568.2 121.1,567.4 121.4,566.7 121.7,565.9 122.0,565.2 122.3,564.6 122.6,563.9 122.9,563.1 123.3,562.4 123.6,561.5 123.9,560.8 124.2,560.2 124.6,559.6 125.2,559.0 125.8,558.5 126.3,557.9 126.9,557.3 127.6,557.5 128.3,557.9 129.0,558.2 129.7,558.3 130.5,558.6 131.2,559.0 131.9,559.5 132.6,560.0 133.3,560.4 134.1,560.5 134.8,560.8 135.5,561.3 136.2,561.6 137.0,561.9 137.7,561.9 138.4,561.6 139.2,561.3 140.0,561.1 140.7,560.9 141.5,560.7 142.2,560.5 143.0,560.4 143.8,560.1 144.6,559.8 145.3,559.8 146.1,559.6 146.9,559.2 147.7,559.0 148.4,559.0 149.2,558.8 149.9,559.1 150.6,559.6 151.2,560.1 151.9,560.6 152.6,561.1 153.2,561.4 153.9,561.7 154.5,562.3 155.1,562.8 155.6,563.3 156.1,564.0 156.7,564.7 157.2,565.4 157.7,566.1 158.3,566.6 158.8,567.1 159.3,567.7 160.0,568.2 160.7,568.5 161.4,568.9 162.1,569.2 162.8,569.4 163.6,569.8 164.3,570.2 165.0,570.5 165.7,570.8 166.4,571.2 167.2,571.1 168.0,570.9 168.8,571.0 169.6,571.3 170.4,571.4 171.2,571.5 172.0,571.4 172.8,571.3 173.6,571.2 174.4,571.3 175.2,571.4 175.9,571.6 176.7,571.9 177.4,572.3 178.1,572.7 178.8,573.0 179.6,573.4 180.3,573.6 181.0,573.8 181.8,574.2 182.5,574.7 183.3,574.9 184.0,575.0 184.8,575.3 185.5,575.6 186.3,575.8 187.1,576.0 187.7,576.5 188.3,577.2 189.0,577.8 189.6,578.1 190.2,578.4 190.8,578.9 191.5,579.5 192.1,580.0 192.7,580.4 193.4,580.9 194.0,581.4 194.6,582.0 195.3,582.5 195.9,583.0 196.6,583.4 197.2,583.7 197.9,584.1 198.6,584.8 199.2,585.3 199.9,585.6 200.5,586.0 201.2,586.6 201.9,587.0 202.5,587.6 203.2,588.1 203.9,588.5 204.5,588.7 205.3,589.0 206.0,589.5 206.7,589.9 207.4,590.1 208.1,590.3 208.9,590.7 209.6,591.3 210.3,591.8 211.0,592.1 211.7,592.4 212.5,592.7 213.2,593.1 213.8,593.3 214.5,593.6 215.2,594.1 215.9,594.6 216.6,595.0 217.3,595.4 217.9,595.9 218.6,596.3 219.3,596.7 220.0,596.9 220.8,596.8 221.6,596.7 222.4,596.6 223.2,596.4 224.0,596.4 224.8,596.5 225.6,596.3 226.4,596.0 227.1,595.9 227.9,595.8 228.7,595.4 229.4,595.0 230.2,594.8 230.9,594.7 231.7,594.5 232.4,594.2 233.2,593.9 233.9,593.5 234.7,593.3 235.5,593.2 236.2,593.0 237.0,592.7 237.8,592.4 238.5,592.1 239.3,592.0 240.1,591.7 240.8,591.4 241.6,591.2 242.4,591.2 243.1,590.9 243.9,590.5 244.7,590.3 245.4,590.1 246.2,589.9 246.9,589.6 247.7,589.1 248.4,588.7 249.2,588.5 249.9,588.6 250.7,588.3 251.4,587.8 252.1,587.4 252.9,587.3 253.6,587.0 254.4,586.7 255.1,586.4 255.9,585.9 256.6,585.7 257.4,585.6 258.1,585.3 258.9,584.9 259.6,584.5 260.4,584.2 261.1,584.2 261.8,584.5 262.5,584.8 263.3,585.0 264.0,585.4 264.7,585.9 265.4,586.2 266.2,586.6 266.9,586.9 267.6,587.3 268.3,587.3 269.0,586.9 269.7,586.5 270.4,586.1 271.1,585.5 271.8,585.0 272.5,584.9 273.2,584.7 273.9,584.3 274.6,583.9 275.3,583.4 276.1,582.9 276.8,582.4 277.5,582.2 278.2,581.9 279.0,581.5 279.7,581.2 280.4,581.0 281.1,580.6 281.8,580.2 282.6,579.8 283.3,579.6 283.9,579.1 284.5,578.5 285.1,577.9 285.7,577.4 286.3,576.8 286.9,576.2 287.4,575.7 288.0,575.3 288.6,574.8 289.2,574.2 289.8,573.8 290.4,573.1 290.9,572.3 291.0,571.5 291.2,570.9 291.3,570.0 291.5,569.2 291.6,568.6 291.8,567.8 292.0,567.0 292.1,566.2 292.3,565.6 292.4,564.8 292.6,563.9 292.7,563.0 292.9,562.3 293.0,561.5 293.2,560.6 293.3,559.8 293.5,559.1 293.7,558.3 293.8,557.6 294.0,556.8 294.1,556.0 294.3,555.3 294.4,554.3 294.6,553.5 294.6,553.0 294.7,552.2 294.8,551.3 294.9,550.6 295.0,549.8 295.1,549.0 295.1,548.2 295.2,547.2 295.3,546.4 295.4,545.7 295.5,545.1 295.5,544.3 295.6,543.3 295.7,542.3 295.8,541.5 295.9,540.8 295.9,540.2 296.0,539.6 296.1,538.7 296.2,537.7 296.3,536.8 296.4,536.1 296.4,535.3 296.5,534.6 296.6,533.7 296.7,532.9 296.9,532.3 297.2,531.7 297.4,530.8 297.6,529.9 297.8,529.2 298.1,528.4 298.3,527.5 298.5,526.9 298.7,526.1 299.0,525.2 299.2,524.4 299.4,523.8 299.6,523.2 299.9,522.5 300.1,521.6 300.3,520.7 300.5,520.0 300.8,519.1 301.0,518.4 301.2,517.7 301.4,516.8 301.7,516.0 301.8,515.2 302.0,514.4 302.1,513.7 302.3,513.0 302.4,512.1 302.6,511.2 302.7,510.5 302.9,509.7 303.0,508.9 303.2,508.1 303.3,507.4 303.5,506.8 303.6,506.1 303.8,505.1 303.9,504.1 304.1,503.4 304.2,502.8 304.4,502.1 304.5,501.4 304.7,500.4 304.8,499.5 305.0,498.7 305.1,497.8 305.3,497.1 305.4,496.4 305.6,495.5 305.7,494.8 305.9,494.1 306.0,493.2 306.2,492.5 306.3,491.9 306.4,491.2 306.6,490.3 306.7,489.4 306.9,488.6 307.0,487.7 307.2,486.8 307.3,486.0 307.4,485.3 307.5,484.6 307.6,483.9 307.7,483.1 307.9,482.4 308.0,481.6 308.1,480.7 308.2,479.9 308.3,479.1 308.5,478.2 308.6,477.5 308.7,476.9 308.8,476.1 308.9,475.1 309.1,474.2 309.2,473.4 309.3,472.8 309.4,472.0 309.5,471.2 309.7,470.4 309.8,469.6 309.9,468.9 310.0,468.0 310.1,467.2 310.3,466.3 310.4,465.5 310.5,464.9 310.6,464.1 310.7,463.3 310.9,462.5 311.0,461.8 311.1,461.0 311.2,460.2 311.3,459.4 311.4,458.5 311.6,457.5 311.7,456.7 311.8,456.1 311.9,455.5 312.0,454.7 312.2,453.8 312.2,453.1 312.3,452.4 312.4,451.6 312.5,450.7 312.6,449.9 312.6,449.1 312.7,448.2 312.8,447.3 312.9,446.4 313.0,445.5 313.0,444.9 313.1,444.3 313.2,443.5 313.3,442.6 313.4,441.8 313.4,441.0 313.5,440.2 313.6,439.3 313.7,438.4 313.8,437.8 313.8,437.1 313.9,436.3 314.0,435.6 314.1,434.9 314.2,433.9 314.2,433.1 314.3,432.4 314.4,431.5 314.5,430.5 314.6,429.8 314.6,429.3 314.7,428.6 314.8,427.6 314.9,426.7 315.0,425.9 315.0,425.2 315.1,424.5 315.2,423.6 315.3,422.7 315.4,421.9 315.4,421.2 315.5,420.5 315.6,419.6 315.7,418.6 315.8,417.9 316.0,417.2 316.1,416.5 316.2,415.8 316.3,414.9 316.4,413.9 316.5,413.2 316.7,412.6 316.8,411.9 316.9,411.1 317.0,410.3 317.1,409.4 317.3,408.5 317.4,407.6 317.5,406.8 317.6,405.9 317.7,405.1 317.9,404.4 318.0,403.8 318.1,403.1 318.2,402.4 318.3,401.5 318.5,400.6 318.6,399.6 318.7,398.8 318.8,398.0 318.9,397.3" fill="none" stroke="#4ad2e3" stroke-width="1.25" stroke-linejoin="round"/>
<polyline points="65.1,470.2 65.2,471.0 65.2,471.7 65.3,472.5 65.3,473.1 65.4,473.8 65.4,474.5 65.5,475.5 65.5,476.5 65.6,477.2 65.6,478.1 65.7,478.8 65.7,479.5 65.8,480.3 65.8,481.1 65.9,481.7 65.9,482.6 66.0,483.6 66.0,484.4 66.1,485.3 66.1,486.1 66.2,487.0 66.2,488.0 66.3,489.0 66.3,490.0 66.4,490.8 66.4,491.6 66.5,492.3 66.5,493.1 66.6,494.0 66.6,494.9 66.7,495.8 66.7,496.6 66.8,497.6 66.8,498.6 66.9,499.6 66.9,500.5 67.0,501.3 67.0,502.1 67.1,502.8 67.1,503.5 67.2,504.4 67.2,505.5 67.3,506.4 67.3,507.1 67.4,507.6 67.4,508.2 67.5,509.0 67.5,510.0 67.6,510.7 67.6,511.2 67.8,511.4 68.0,511.7 68.1,512.1 68.3,512.7 68.4,513.5 68.6,514.1 68.7,514.6 68.9,515.1 69.0,515.8 69.2,516.7 69.4,517.4 69.5,518.0 69.7,518.7 69.8,519.6 70.0,520.5 70.1,521.1 70.3,521.9 70.5,523.0 70.6,523.9 70.8,524.8 70.9,525.9 71.1,527.2 71.2,528.4 71.4,529.8 71.6,531.2 71.9,532.3 72.1,533.2 72.3,534.1 72.5,534.6 72.7,534.9 73.0,534.9 73.2,534.8 73.4,534.8 73.6,534.8 73.8,535.2 74.1,535.8 74.3,536.7 74.5,537.7 74.7,538.9 74.9,540.1 75.2,541.4 75.5,542.8 75.8,544.1 76.1,544.9 76.4,545.7 76.7,546.7 77.0,547.6 77.3,548.3 77.6,549.1 77.9,549.5 78.2,549.4 78.5,549.2 78.8,549.2 79.2,549.2 79.7,549.9 80.1,551.7 80.5,554.1 81.0,556.1 81.4,557.2 81.9,557.3 82.3,556.8 82.8,556.3 83.3,556.2 83.7,556.6 84.2,557.3 84.7,558.3 85.2,559.4 85.7,561.0 86.2,562.9 86.6,564.1 87.1,564.2 87.6,563.3 88.1,562.2 88.6,562.0 89.0,563.1 89.5,565.0 90.0,566.7 90.4,568.1 90.9,569.0 91.4,569.4 91.8,569.7 92.3,570.0 92.8,570.2 93.3,570.0 93.7,570.0 94.2,570.8 94.7,572.3 95.1,573.9 95.6,575.2 96.1,575.8 96.5,576.1 97.0,576.2 97.3,576.6 97.5,577.1 97.8,577.7 98.0,578.5 98.3,579.4 98.5,580.2 98.8,580.9 99.0,581.6 99.3,582.5 99.5,583.5 99.8,584.4 100.0,585.2 100.3,586.0 100.5,586.7 100.8,587.5 101.1,588.2 101.3,588.9 102.1,588.9 102.9,589.0 103.7,588.9 104.4,588.6 105.1,588.2 105.8,587.9 106.5,587.6 107.2,587.2 107.9,587.5 108.6,587.8 109.3,588.1 110.0,588.5 110.6,588.9 111.3,589.3 112.1,589.4 112.8,589.3 113.6,589.0 114.4,588.9 115.1,588.8 115.9,588.5 116.7,588.3 117.5,588.0 117.7,587.3 117.9,586.7 118.0,585.9 118.2,585.0 118.3,584.2 118.5,583.4 118.6,582.5 118.7,581.8 118.9,581.0 119.0,580.1 119.2,579.4 119.3,578.6 119.5,577.9 119.6,577.1 119.8,576.3 119.9,575.7 120.1,575.0 120.3,574.2 120.6,573.4 121.0,572.6 121.3,571.8 121.6,571.1 121.9,570.4 122.2,569.6 122.5,569.0 122.8,568.3 123.1,567.4 123.4,566.7 123.7,565.8 124.0,565.1 124.3,564.6 124.9,564.0 125.4,563.4 126.0,562.9 126.6,562.3 127.2,561.8 127.9,562.1 128.6,562.4 129.3,562.7 130.0,563.1 130.7,563.5 131.4,563.8 132.1,564.1 132.9,564.6 133.6,565.1 134.3,565.6 135.0,565.9 135.7,566.1 136.4,566.4 137.2,566.9 137.9,566.7 138.7,566.4 139.4,566.2 140.2,566.1 140.9,565.8 141.7,565.4 142.4,565.0 143.2,564.9 144.0,564.7 144.8,564.5 145.5,564.4 146.3,564.1 147.1,563.9 147.9,563.8 148.6,563.6 149.4,563.5 150.1,564.0 150.7,564.4 151.4,564.7 152.0,565.1 152.7,565.6 153.4,566.0 154.0,566.5 154.6,567.2 155.1,567.7 155.7,568.2 156.2,569.0 156.7,569.6 157.2,570.0 157.8,570.7 158.3,571.4 158.8,572.1 159.3,572.6 160.0,573.0 160.7,573.3 161.4,573.8 162.1,574.1 162.8,574.3 163.5,574.8 164.3,575.4 165.0,575.8 165.7,576.0 166.4,576.3 167.2,576.4 168.0,576.4 168.8,576.5 169.6,576.5 170.4,576.5 171.2,576.3 172.0,576.4 172.8,576.5 173.6,576.4 174.4,576.2 175.2,576.1 175.9,576.6 176.6,577.2 177.3,577.6 178.1,577.8 178.8,578.0 179.5,578.3 180.2,578.7 180.9,578.9 181.7,579.2 182.4,579.5 183.2,579.9 183.9,580.2 184.7,580.5 185.4,580.9 186.2,581.2 186.9,581.4 187.6,581.8 188.2,582.3 188.8,582.8 189.5,583.4 190.1,583.9 190.7,584.4 191.3,584.8 192.0,585.1 192.6,585.6 193.2,586.1 193.8,586.7 194.5,587.3 195.1,587.9 195.7,588.5 196.4,589.0 197.0,589.3 197.7,589.6 198.3,590.2 199.0,590.7 199.6,591.2 200.3,591.5 201.0,591.9 201.6,592.5 202.3,592.8 202.9,593.2 203.6,593.8 204.2,594.3 205.0,594.7 205.7,595.1 206.4,595.4 207.1,595.6 207.8,595.9 208.5,596.4 209.2,596.7 210.0,597.1 210.7,597.6 211.4,597.9 212.1,598.2 212.8,598.5 213.5,599.0 214.2,599.4 214.9,599.8 215.5,600.2 216.2,600.7 216.9,601.3 217.6,601.8 218.2,602.3 218.9,602.6 219.6,603.1 220.4,603.0 221.2,602.7 221.9,602.7 222.7,602.7 223.5,602.4 224.3,602.1 225.1,602.0 225.9,602.0 226.7,601.9 227.5,601.6 228.2,601.4 229.0,601.4 229.7,601.2 230.5,600.8 231.2,600.4 232.0,600.1 232.7,599.7 233.5,599.4 234.2,599.2 235.0,598.9 235.8,598.6 236.5,598.5 237.3,598.3 238.1,598.0 238.8,597.7 239.6,597.6 240.4,597.5 241.1,597.3 241.9,596.9 242.7,596.5 243.4,596.2 244.2,596.1 245.0,596.0 245.7,595.6 246.4,595.3 247.2,595.0 247.9,594.7 248.7,594.3 249.4,594.1 250.2,593.8 250.9,593.5 251.6,593.1 252.4,592.9 253.1,592.7 253.9,592.3 254.6,592.1 255.4,591.8 256.1,591.5 256.8,591.1 257.6,590.7 258.3,590.6 259.1,590.5 259.8,590.3 260.6,590.0 261.3,589.8 262.0,590.0 262.7,590.4 263.4,590.8 264.2,591.0 264.9,591.2 265.6,591.6 266.3,592.1 267.0,592.6 267.8,593.1 268.5,592.8 269.2,592.3 269.9,592.0 270.5,591.6 271.2,591.0 271.9,590.5 272.6,590.2 273.3,589.9 274.0,589.6 274.7,589.4 275.4,588.9 276.1,588.4 276.9,587.9 277.6,587.6 278.3,587.2 279.0,587.0 279.7,586.7 280.4,586.3 281.1,586.0 281.9,585.6 282.6,585.1 283.2,584.6 283.8,584.2 284.4,583.7 285.0,583.1 285.6,582.8 286.2,582.4 286.8,581.8 287.4,581.2 288.0,580.5 288.6,580.0 289.2,579.5 289.8,578.9 290.3,578.2 290.8,577.6 290.9,576.8 291.0,576.2 291.2,575.4 291.3,574.5 291.5,573.8 291.6,573.2 291.8,572.2 291.9,571.3 292.1,570.5 292.2,569.8 292.4,569.1 292.5,568.4 292.6,567.6 292.8,566.8 292.9,565.9 293.1,565.2 293.2,564.2 293.4,563.5 293.5,562.9 293.7,562.2 293.8,561.4 294.0,560.5 294.1,559.6 294.2,558.8 294.3,558.0 294.4,557.2 294.5,556.4 294.6,555.8 294.6,555.0 294.7,554.1 294.8,553.3 294.8,552.6 294.9,551.8 295.0,551.0 295.1,550.2 295.1,549.4 295.2,548.6 295.3,547.8 295.3,546.9 295.4,545.9 295.5,545.1 295.6,544.4 295.6,543.7 295.7,542.9 295.8,542.1 295.8,541.3 295.9,540.5 296.0,539.7 296.1,538.9 296.1,538.1 296.2,537.2 296.4,536.7 296.6,536.0 296.9,535.1 297.1,534.3 297.3,533.6 297.5,532.7 297.8,532.0 298.0,531.3 298.2,530.4 298.4,529.6 298.6,528.9 298.9,528.1 299.1,527.2 299.3,526.5 299.5,526.0 299.7,525.2 300.0,524.2 300.2,523.3 300.4,522.5 300.6,521.9 300.9,521.3 301.1,520.5 301.3,519.7 301.4,518.8 301.6,517.9 301.7,517.1 301.9,516.5 302.0,515.8 302.2,515.0 302.3,514.1 302.5,513.3 302.6,512.5 302.8,511.8 302.9,511.0 303.1,510.1 303.2,509.4 303.4,508.5 303.5,507.7 303.7,507.1 303.8,506.2 304.0,505.4 304.1,504.7 304.3,503.9 304.4,503.1 304.6,502.5 304.7,501.6 304.9,500.6 305.0,499.7 305.2,499.0 305.3,498.2 305.5,497.6 305.6,496.7 305.8,496.0 305.9,495.3 306.1,494.4 306.2,493.7 306.4,493.0 306.5,492.1 306.7,491.2 306.8,490.3 306.9,489.4 307.0,488.7 307.2,488.0 307.3,487.3 307.4,486.7 307.5,486.1 307.6,485.2 307.7,484.1 307.9,483.3 308.0,482.7 308.1,481.9 308.2,481.0 308.3,480.2 308.5,479.5 308.6,478.8 308.7,478.1 308.8,477.2 308.9,476.4 309.1,475.6 309.2,474.7 309.3,474.0 309.4,473.3 309.5,472.4 309.6,471.5 309.8,470.8 309.9,470.1 310.0,469.3 310.1,468.4 310.2,467.5 310.4,466.5 310.5,465.8 310.6,465.1 310.7,464.2 310.8,463.5 310.9,462.8 311.1,462.0 311.2,461.3 311.3,460.5 311.4,459.8 311.5,458.9 311.7,458.0 311.8,457.4 311.9,456.6 312.0,455.6 312.1,454.8 312.2,454.1 312.2,453.3 312.3,452.4 312.4,451.5 312.5,450.7 312.6,449.9 312.6,449.3 312.7,448.6 312.8,447.7 312.9,446.9 313.0,446.2 313.0,445.4 313.1,444.6 313.2,443.8 313.3,443.0 313.3,442.2 313.4,441.4 313.5,440.7 313.6,439.9 313.7,438.9 313.7,438.1 313.8,437.4 313.9,436.7 314.0,435.8 314.1,434.8 314.1,434.0 314.2,433.4 314.3,432.7 314.4,431.7 314.4,430.8 314.5,430.0 314.6,429.2 314.7,428.6 314.8,427.8 314.8,427.0 314.9,426.0 315.0,425.3 315.1,424.8 315.2,424.0 315.2,423.2 315.3,422.3 315.4,421.6 315.5,420.8 315.6,419.7 315.7,418.9 315.8,418.4 315.9,417.7 316.0,416.9 316.2,416.0 316.3,415.3 316.4,414.5 316.5,413.6 316.6,412.7 316.8,411.8 316.9,410.9 317.0,410.2 317.1,409.5 317.2,408.8 317.4,407.9 317.5,407.1 317.6,406.5 317.7,405.8 317.8,405.0 317.9,404.2 318.1,403.3 318.2,402.4 318.3,401.6 318.4,400.8 318.5,400.0 318.7,399.5 318.8,398.8 318.9,397.9" fill="none" stroke="#3be6e6" stroke-width="1.25" stroke-linejoin="round"/>
</g>
<rect x="64.9" y="384.5" width="265.6" height="234.2" fill="none" stroke="#000" stroke-width="1.35"/>
<line x1="60" y1="384.5" x2="64.9" y2="384.5" stroke="#000" stroke-width="1.35"/>
<text transform="translate(53.90,389.70) scale(1.020,1)" font-size="15.2" text-anchor="end">0</text>
<line x1="60" y1="417.9" x2="64.9" y2="417.9" stroke="#000" stroke-width="1.35"/>
<text transform="translate(53.90,423.15) scale(1.020,1)" font-size="15.2" text-anchor="end">10</text>
<rect x="26.0" y="417.95" width="9.0" height="1.4" fill="#000"/>
<line x1="60" y1="451.4" x2="64.9" y2="451.4" stroke="#000" stroke-width="1.35"/>
<text transform="translate(53.90,456.60) scale(1.020,1)" font-size="15.2" text-anchor="end">20</text>
<rect x="26.0" y="451.40" width="9.0" height="1.4" fill="#000"/>
<line x1="60" y1="484.9" x2="64.9" y2="484.9" stroke="#000" stroke-width="1.35"/>
<text transform="translate(53.90,490.05) scale(1.020,1)" font-size="15.2" text-anchor="end">30</text>
<rect x="26.0" y="484.85" width="9.0" height="1.4" fill="#000"/>
<line x1="60" y1="518.3" x2="64.9" y2="518.3" stroke="#000" stroke-width="1.35"/>
<text transform="translate(53.90,523.50) scale(1.020,1)" font-size="15.2" text-anchor="end">40</text>
<rect x="26.0" y="518.30" width="9.0" height="1.4" fill="#000"/>
<line x1="60" y1="551.8" x2="64.9" y2="551.8" stroke="#000" stroke-width="1.35"/>
<text transform="translate(53.90,556.95) scale(1.020,1)" font-size="15.2" text-anchor="end">50</text>
<rect x="26.0" y="551.75" width="9.0" height="1.4" fill="#000"/>
<line x1="60" y1="585.2" x2="64.9" y2="585.2" stroke="#000" stroke-width="1.35"/>
<text transform="translate(53.90,590.40) scale(1.020,1)" font-size="15.2" text-anchor="end">60</text>
<rect x="26.0" y="585.20" width="9.0" height="1.4" fill="#000"/>
<line x1="60" y1="618.6" x2="64.9" y2="618.6" stroke="#000" stroke-width="1.35"/>
<text transform="translate(53.90,623.85) scale(1.020,1)" font-size="15.2" text-anchor="end">70</text>
<rect x="26.0" y="618.65" width="9.0" height="1.4" fill="#000"/>
<line x1="64.9" y1="618.7" x2="64.9" y2="623.6" stroke="#000" stroke-width="1.35"/>
<text transform="translate(64.90,640.00) scale(1.020,1)" font-size="15.2" text-anchor="middle">0</text>
<line x1="131.3" y1="618.7" x2="131.3" y2="623.6" stroke="#000" stroke-width="1.35"/>
<text transform="translate(131.30,640.00) scale(1.020,1)" font-size="15.2" text-anchor="middle">10</text>
<line x1="197.7" y1="618.7" x2="197.7" y2="623.6" stroke="#000" stroke-width="1.35"/>
<text transform="translate(197.70,640.00) scale(1.020,1)" font-size="15.2" text-anchor="middle">20</text>
<line x1="264.1" y1="618.7" x2="264.1" y2="623.6" stroke="#000" stroke-width="1.35"/>
<text transform="translate(264.10,640.00) scale(1.020,1)" font-size="15.2" text-anchor="middle">30</text>
<line x1="330.5" y1="618.7" x2="330.5" y2="623.6" stroke="#000" stroke-width="1.35"/>
<text transform="translate(330.50,640.00) scale(1.020,1)" font-size="15.2" text-anchor="middle">40</text>
<text x="197.1" y="659.9" font-size="14.0" text-anchor="middle" textLength="97.0" lengthAdjust="spacingAndGlyphs">Distance (km)</text>
<text transform="translate(15.5,502.2) rotate(-90)" font-size="13.8" text-anchor="middle" textLength="53" lengthAdjust="spacingAndGlyphs">ΔZs (m)</text>
<text x="5.0" y="384.7" font-size="16.0" text-anchor="start">b</text>
</svg></body></html>
